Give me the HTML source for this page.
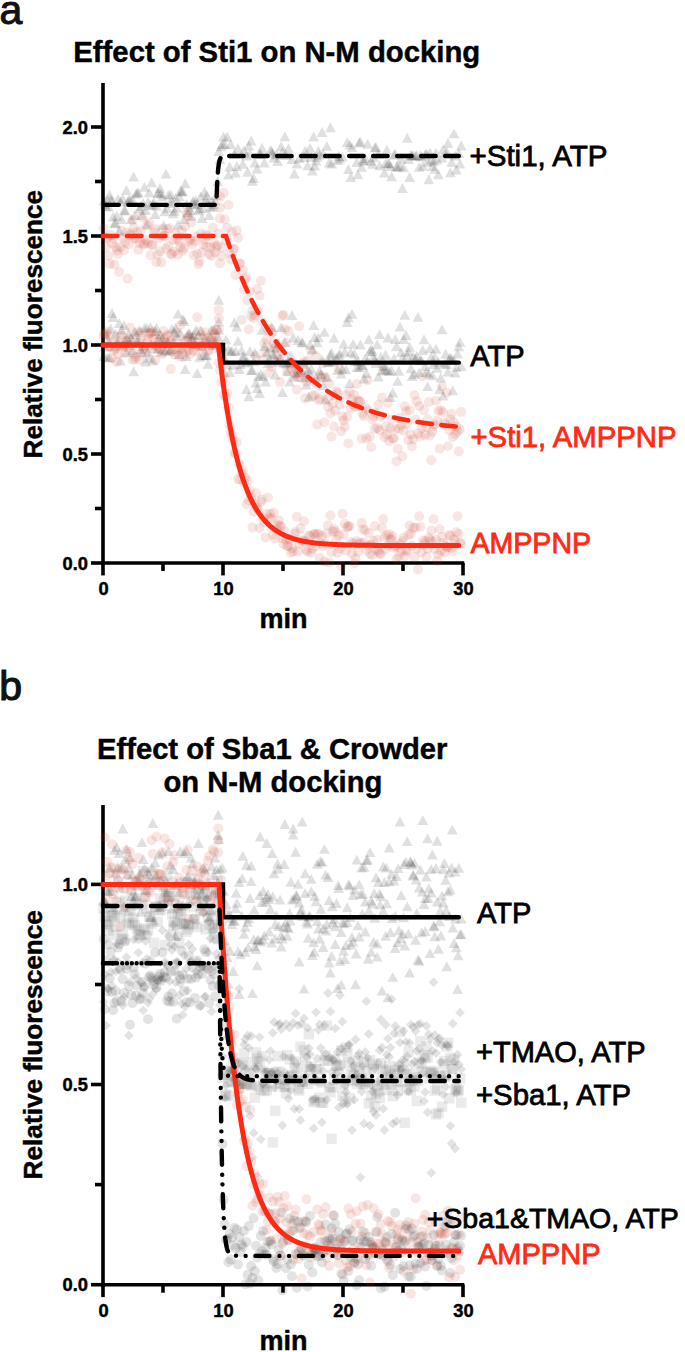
<!DOCTYPE html>
<html><head><meta charset="utf-8"><style>
html,body{margin:0;padding:0;background:#fff;width:685px;height:1352px;overflow:hidden}
svg{display:block}
text{font-family:"Liberation Sans",sans-serif;stroke:currentColor;stroke-width:0.45px;paint-order:stroke}
.lab text{stroke-width:0.8px}
</style></head><body>
<svg width="685" height="1352" viewBox="0 0 685 1352">
<rect width="685" height="1352" fill="#fff"/>
<text x="-0.6" y="23.9" font-family="Liberation Sans, sans-serif" font-size="41" style="stroke-width:1px" fill="#111" color="#111">a</text>
<text x="73.3" y="62.4" font-family="Liberation Sans, sans-serif" font-weight="bold" font-size="29.3">Effect of Sti1 on N-M docking</text>
<g stroke="#000" stroke-width="3.6" fill="none">
<path d="M103,83 V564.8"/>
<path d="M101.2,563 H464.3"/>
<path d="M91,563.0 H103"/>
<path d="M91,454.0 H103"/>
<path d="M91,345.0 H103"/>
<path d="M91,236.0 H103"/>
<path d="M91,127.0 H103"/>
<path d="M95,508.5 H103"/>
<path d="M95,399.5 H103"/>
<path d="M95,290.5 H103"/>
<path d="M95,181.5 H103"/>
<path d="M103.0,563 V575.4"/>
<path d="M223.0,563 V575.4"/>
<path d="M343.0,563 V575.4"/>
<path d="M463.0,563 V575.4"/>
<path d="M163.0,563 V571"/>
<path d="M283.0,563 V571"/>
<path d="M403.0,563 V571"/>
</g>
<g font-family="Liberation Sans, sans-serif" font-weight="bold" font-size="18.3" fill="#000">
<text x="88" y="569.5" text-anchor="end">0.0</text>
<text x="88" y="460.5" text-anchor="end">0.5</text>
<text x="88" y="351.5" text-anchor="end">1.0</text>
<text x="88" y="242.5" text-anchor="end">1.5</text>
<text x="88" y="133.5" text-anchor="end">2.0</text>
<text x="103.5" y="595.2" text-anchor="middle">0</text>
<text x="223.5" y="595.2" text-anchor="middle">10</text>
<text x="343.5" y="595.2" text-anchor="middle">20</text>
<text x="463.5" y="595.2" text-anchor="middle">30</text>
</g>
<path d="M98.2,205.5L109.0,205.5L103.6,195.6Z" fill="#000" fill-opacity="0.12"/>
<path d="M99.4,208.8L110.2,208.8L104.8,198.9Z" fill="#000" fill-opacity="0.12"/>
<path d="M100.6,211.0L111.4,211.0L106.0,201.0Z" fill="#000" fill-opacity="0.12"/>
<path d="M101.8,204.8L112.6,204.8L107.2,194.9Z" fill="#000" fill-opacity="0.12"/>
<path d="M103.0,211.4L113.8,211.4L108.4,201.5Z" fill="#000" fill-opacity="0.12"/>
<path d="M104.2,199.6L115.0,199.6L109.6,189.7Z" fill="#000" fill-opacity="0.12"/>
<path d="M105.4,204.3L116.2,204.3L110.8,194.3Z" fill="#000" fill-opacity="0.12"/>
<path d="M106.6,205.9L117.4,205.9L112.0,195.9Z" fill="#000" fill-opacity="0.12"/>
<path d="M107.8,221.6L118.6,221.6L113.2,211.7Z" fill="#000" fill-opacity="0.12"/>
<path d="M109.0,228.3L119.8,228.3L114.4,218.4Z" fill="#000" fill-opacity="0.12"/>
<path d="M110.2,227.6L121.0,227.6L115.6,217.7Z" fill="#000" fill-opacity="0.12"/>
<path d="M111.4,220.7L122.2,220.7L116.8,210.8Z" fill="#000" fill-opacity="0.12"/>
<path d="M112.6,203.6L123.4,203.6L118.0,193.7Z" fill="#000" fill-opacity="0.12"/>
<path d="M113.8,235.7L124.6,235.7L119.2,225.8Z" fill="#000" fill-opacity="0.12"/>
<path d="M115.0,206.1L125.8,206.1L120.4,196.2Z" fill="#000" fill-opacity="0.12"/>
<path d="M116.2,223.9L127.0,223.9L121.6,213.9Z" fill="#000" fill-opacity="0.12"/>
<path d="M117.4,203.8L128.2,203.8L122.8,193.8Z" fill="#000" fill-opacity="0.12"/>
<path d="M118.6,215.2L129.4,215.2L124.0,205.3Z" fill="#000" fill-opacity="0.12"/>
<path d="M119.8,215.2L130.6,215.2L125.2,205.3Z" fill="#000" fill-opacity="0.12"/>
<path d="M121.0,194.9L131.8,194.9L126.4,185.0Z" fill="#000" fill-opacity="0.12"/>
<path d="M122.2,206.9L133.0,206.9L127.6,196.9Z" fill="#000" fill-opacity="0.12"/>
<path d="M123.4,204.8L134.2,204.8L128.8,194.8Z" fill="#000" fill-opacity="0.12"/>
<path d="M124.6,204.6L135.4,204.6L130.0,194.7Z" fill="#000" fill-opacity="0.12"/>
<path d="M125.8,224.1L136.6,224.1L131.2,214.1Z" fill="#000" fill-opacity="0.12"/>
<path d="M127.0,204.1L137.8,204.1L132.4,194.2Z" fill="#000" fill-opacity="0.12"/>
<path d="M128.2,181.5L139.0,181.5L133.6,171.6Z" fill="#000" fill-opacity="0.12"/>
<path d="M129.4,219.9L140.2,219.9L134.8,210.0Z" fill="#000" fill-opacity="0.12"/>
<path d="M130.6,198.6L141.4,198.6L136.0,188.7Z" fill="#000" fill-opacity="0.12"/>
<path d="M131.8,197.3L142.6,197.3L137.2,187.4Z" fill="#000" fill-opacity="0.12"/>
<path d="M133.0,197.5L143.8,197.5L138.4,187.6Z" fill="#000" fill-opacity="0.12"/>
<path d="M134.2,213.6L145.0,213.6L139.6,203.7Z" fill="#000" fill-opacity="0.12"/>
<path d="M135.4,211.1L146.2,211.1L140.8,201.1Z" fill="#000" fill-opacity="0.12"/>
<path d="M136.6,219.8L147.4,219.8L142.0,209.8Z" fill="#000" fill-opacity="0.12"/>
<path d="M137.8,207.9L148.6,207.9L143.2,197.9Z" fill="#000" fill-opacity="0.12"/>
<path d="M139.0,191.8L149.8,191.8L144.4,181.9Z" fill="#000" fill-opacity="0.12"/>
<path d="M140.2,215.0L151.0,215.0L145.6,205.1Z" fill="#000" fill-opacity="0.12"/>
<path d="M141.4,229.4L152.2,229.4L146.8,219.5Z" fill="#000" fill-opacity="0.12"/>
<path d="M142.6,206.7L153.4,206.7L148.0,196.8Z" fill="#000" fill-opacity="0.12"/>
<path d="M143.8,197.3L154.6,197.3L149.2,187.3Z" fill="#000" fill-opacity="0.12"/>
<path d="M145.0,209.9L155.8,209.9L150.4,200.0Z" fill="#000" fill-opacity="0.12"/>
<path d="M146.2,187.3L157.0,187.3L151.6,177.3Z" fill="#000" fill-opacity="0.12"/>
<path d="M147.4,209.2L158.2,209.2L152.8,199.2Z" fill="#000" fill-opacity="0.12"/>
<path d="M148.6,207.0L159.4,207.0L154.0,197.0Z" fill="#000" fill-opacity="0.12"/>
<path d="M149.8,218.9L160.6,218.9L155.2,208.9Z" fill="#000" fill-opacity="0.12"/>
<path d="M151.0,210.8L161.8,210.8L156.4,200.9Z" fill="#000" fill-opacity="0.12"/>
<path d="M152.2,197.7L163.0,197.7L157.6,187.8Z" fill="#000" fill-opacity="0.12"/>
<path d="M153.4,197.5L164.2,197.5L158.8,187.6Z" fill="#000" fill-opacity="0.12"/>
<path d="M154.6,192.9L165.4,192.9L160.0,183.0Z" fill="#000" fill-opacity="0.12"/>
<path d="M155.8,198.5L166.6,198.5L161.2,188.6Z" fill="#000" fill-opacity="0.12"/>
<path d="M157.0,201.4L167.8,201.4L162.4,191.4Z" fill="#000" fill-opacity="0.12"/>
<path d="M158.2,229.9L169.0,229.9L163.6,220.0Z" fill="#000" fill-opacity="0.12"/>
<path d="M159.4,216.3L170.2,216.3L164.8,206.4Z" fill="#000" fill-opacity="0.12"/>
<path d="M160.6,178.6L171.4,178.6L166.0,168.7Z" fill="#000" fill-opacity="0.12"/>
<path d="M161.8,213.0L172.6,213.0L167.2,203.1Z" fill="#000" fill-opacity="0.12"/>
<path d="M163.0,199.6L173.8,199.6L168.4,189.7Z" fill="#000" fill-opacity="0.12"/>
<path d="M164.2,208.0L175.0,208.0L169.6,198.1Z" fill="#000" fill-opacity="0.12"/>
<path d="M165.4,199.3L176.2,199.3L170.8,189.4Z" fill="#000" fill-opacity="0.12"/>
<path d="M166.6,206.5L177.4,206.5L172.0,196.5Z" fill="#000" fill-opacity="0.12"/>
<path d="M167.8,218.2L178.6,218.2L173.2,208.2Z" fill="#000" fill-opacity="0.12"/>
<path d="M169.0,215.8L179.8,215.8L174.4,205.9Z" fill="#000" fill-opacity="0.12"/>
<path d="M170.2,203.2L181.0,203.2L175.6,193.3Z" fill="#000" fill-opacity="0.12"/>
<path d="M171.4,212.6L182.2,212.6L176.8,202.7Z" fill="#000" fill-opacity="0.12"/>
<path d="M172.6,229.5L183.4,229.5L178.0,219.5Z" fill="#000" fill-opacity="0.12"/>
<path d="M173.8,201.2L184.6,201.2L179.2,191.2Z" fill="#000" fill-opacity="0.12"/>
<path d="M175.0,195.4L185.8,195.4L180.4,185.4Z" fill="#000" fill-opacity="0.12"/>
<path d="M176.2,196.4L187.0,196.4L181.6,186.5Z" fill="#000" fill-opacity="0.12"/>
<path d="M177.4,196.2L188.2,196.2L182.8,186.2Z" fill="#000" fill-opacity="0.12"/>
<path d="M178.6,223.9L189.4,223.9L184.0,214.0Z" fill="#000" fill-opacity="0.12"/>
<path d="M179.8,188.2L190.6,188.2L185.2,178.3Z" fill="#000" fill-opacity="0.12"/>
<path d="M181.0,208.8L191.8,208.8L186.4,198.9Z" fill="#000" fill-opacity="0.12"/>
<path d="M182.2,217.2L193.0,217.2L187.6,207.3Z" fill="#000" fill-opacity="0.12"/>
<path d="M183.4,212.0L194.2,212.0L188.8,202.1Z" fill="#000" fill-opacity="0.12"/>
<path d="M184.6,215.0L195.4,215.0L190.0,205.1Z" fill="#000" fill-opacity="0.12"/>
<path d="M185.8,220.8L196.6,220.8L191.2,210.9Z" fill="#000" fill-opacity="0.12"/>
<path d="M187.0,207.4L197.8,207.4L192.4,197.4Z" fill="#000" fill-opacity="0.12"/>
<path d="M188.2,205.4L199.0,205.4L193.6,195.4Z" fill="#000" fill-opacity="0.12"/>
<path d="M189.4,209.4L200.2,209.4L194.8,199.5Z" fill="#000" fill-opacity="0.12"/>
<path d="M190.6,205.4L201.4,205.4L196.0,195.5Z" fill="#000" fill-opacity="0.12"/>
<path d="M191.8,209.1L202.6,209.1L197.2,199.2Z" fill="#000" fill-opacity="0.12"/>
<path d="M193.0,215.2L203.8,215.2L198.4,205.3Z" fill="#000" fill-opacity="0.12"/>
<path d="M194.2,213.6L205.0,213.6L199.6,203.6Z" fill="#000" fill-opacity="0.12"/>
<path d="M195.4,201.5L206.2,201.5L200.8,191.5Z" fill="#000" fill-opacity="0.12"/>
<path d="M196.6,223.0L207.4,223.0L202.0,213.0Z" fill="#000" fill-opacity="0.12"/>
<path d="M197.8,213.1L208.6,213.1L203.2,203.2Z" fill="#000" fill-opacity="0.12"/>
<path d="M199.0,196.7L209.8,196.7L204.4,186.8Z" fill="#000" fill-opacity="0.12"/>
<path d="M200.2,204.7L211.0,204.7L205.6,194.7Z" fill="#000" fill-opacity="0.12"/>
<path d="M201.4,200.1L212.2,200.1L206.8,190.1Z" fill="#000" fill-opacity="0.12"/>
<path d="M202.6,207.2L213.4,207.2L208.0,197.3Z" fill="#000" fill-opacity="0.12"/>
<path d="M203.8,220.1L214.6,220.1L209.2,210.2Z" fill="#000" fill-opacity="0.12"/>
<path d="M205.0,211.6L215.8,211.6L210.4,201.7Z" fill="#000" fill-opacity="0.12"/>
<path d="M206.2,205.9L217.0,205.9L211.6,196.0Z" fill="#000" fill-opacity="0.12"/>
<path d="M207.4,211.6L218.2,211.6L212.8,201.7Z" fill="#000" fill-opacity="0.12"/>
<path d="M208.6,209.1L219.4,209.1L214.0,199.2Z" fill="#000" fill-opacity="0.12"/>
<path d="M209.8,205.3L220.6,205.3L215.2,195.3Z" fill="#000" fill-opacity="0.12"/>
<path d="M211.0,200.0L221.8,200.0L216.4,190.0Z" fill="#000" fill-opacity="0.12"/>
<path d="M212.2,185.9L223.0,185.9L217.6,176.0Z" fill="#000" fill-opacity="0.12"/>
<path d="M213.4,156.0L224.2,156.0L218.8,146.1Z" fill="#000" fill-opacity="0.12"/>
<path d="M214.6,164.3L225.4,164.3L220.0,154.3Z" fill="#000" fill-opacity="0.12"/>
<path d="M215.8,151.3L226.6,151.3L221.2,141.3Z" fill="#000" fill-opacity="0.12"/>
<path d="M217.0,148.8L227.8,148.8L222.4,138.9Z" fill="#000" fill-opacity="0.12"/>
<path d="M218.2,141.4L229.0,141.4L223.6,131.4Z" fill="#000" fill-opacity="0.12"/>
<path d="M219.4,149.1L230.2,149.1L224.8,139.1Z" fill="#000" fill-opacity="0.12"/>
<path d="M221.8,141.5L232.6,141.5L227.2,131.6Z" fill="#000" fill-opacity="0.12"/>
<path d="M223.0,179.6L233.8,179.6L228.4,169.6Z" fill="#000" fill-opacity="0.12"/>
<path d="M224.2,171.5L235.0,171.5L229.6,161.5Z" fill="#000" fill-opacity="0.12"/>
<path d="M225.4,149.2L236.2,149.2L230.8,139.3Z" fill="#000" fill-opacity="0.12"/>
<path d="M229.0,158.8L239.8,158.8L234.4,148.9Z" fill="#000" fill-opacity="0.12"/>
<path d="M230.2,177.5L241.0,177.5L235.6,167.5Z" fill="#000" fill-opacity="0.12"/>
<path d="M231.4,171.0L242.2,171.0L236.8,161.0Z" fill="#000" fill-opacity="0.12"/>
<path d="M232.6,153.2L243.4,153.2L238.0,143.3Z" fill="#000" fill-opacity="0.12"/>
<path d="M237.4,168.7L248.2,168.7L242.8,158.8Z" fill="#000" fill-opacity="0.12"/>
<path d="M238.6,155.2L249.4,155.2L244.0,145.3Z" fill="#000" fill-opacity="0.12"/>
<path d="M241.0,160.4L251.8,160.4L246.4,150.4Z" fill="#000" fill-opacity="0.12"/>
<path d="M242.2,176.7L253.0,176.7L247.6,166.8Z" fill="#000" fill-opacity="0.12"/>
<path d="M243.4,150.4L254.2,150.4L248.8,140.5Z" fill="#000" fill-opacity="0.12"/>
<path d="M244.6,158.3L255.4,158.3L250.0,148.4Z" fill="#000" fill-opacity="0.12"/>
<path d="M245.8,145.5L256.6,145.5L251.2,135.5Z" fill="#000" fill-opacity="0.12"/>
<path d="M247.0,185.7L257.8,185.7L252.4,175.8Z" fill="#000" fill-opacity="0.12"/>
<path d="M248.2,182.9L259.0,182.9L253.6,173.0Z" fill="#000" fill-opacity="0.12"/>
<path d="M249.4,167.5L260.2,167.5L254.8,157.6Z" fill="#000" fill-opacity="0.12"/>
<path d="M251.8,173.4L262.6,173.4L257.2,163.4Z" fill="#000" fill-opacity="0.12"/>
<path d="M254.2,158.7L265.0,158.7L259.6,148.8Z" fill="#000" fill-opacity="0.12"/>
<path d="M255.4,158.8L266.2,158.8L260.8,148.9Z" fill="#000" fill-opacity="0.12"/>
<path d="M256.6,152.7L267.4,152.7L262.0,142.7Z" fill="#000" fill-opacity="0.12"/>
<path d="M259.0,167.5L269.8,167.5L264.4,157.6Z" fill="#000" fill-opacity="0.12"/>
<path d="M265.0,154.8L275.8,154.8L270.4,144.8Z" fill="#000" fill-opacity="0.12"/>
<path d="M266.2,156.3L277.0,156.3L271.6,146.4Z" fill="#000" fill-opacity="0.12"/>
<path d="M267.4,158.3L278.2,158.3L272.8,148.4Z" fill="#000" fill-opacity="0.12"/>
<path d="M268.6,162.5L279.4,162.5L274.0,152.6Z" fill="#000" fill-opacity="0.12"/>
<path d="M271.0,159.4L281.8,159.4L276.4,149.4Z" fill="#000" fill-opacity="0.12"/>
<path d="M272.2,166.0L283.0,166.0L277.6,156.0Z" fill="#000" fill-opacity="0.12"/>
<path d="M275.8,151.3L286.6,151.3L281.2,141.3Z" fill="#000" fill-opacity="0.12"/>
<path d="M277.0,156.7L287.8,156.7L282.4,146.8Z" fill="#000" fill-opacity="0.12"/>
<path d="M279.4,141.2L290.2,141.2L284.8,131.2Z" fill="#000" fill-opacity="0.12"/>
<path d="M280.6,160.0L291.4,160.0L286.0,150.1Z" fill="#000" fill-opacity="0.12"/>
<path d="M283.0,153.2L293.8,153.2L288.4,143.3Z" fill="#000" fill-opacity="0.12"/>
<path d="M286.6,164.0L297.4,164.0L292.0,154.1Z" fill="#000" fill-opacity="0.12"/>
<path d="M289.0,178.4L299.8,178.4L294.4,168.5Z" fill="#000" fill-opacity="0.12"/>
<path d="M291.4,168.5L302.2,168.5L296.8,158.6Z" fill="#000" fill-opacity="0.12"/>
<path d="M293.8,163.1L304.6,163.1L299.2,153.1Z" fill="#000" fill-opacity="0.12"/>
<path d="M298.6,161.7L309.4,161.7L304.0,151.8Z" fill="#000" fill-opacity="0.12"/>
<path d="M299.8,155.5L310.6,155.5L305.2,145.5Z" fill="#000" fill-opacity="0.12"/>
<path d="M302.2,170.2L313.0,170.2L307.6,160.2Z" fill="#000" fill-opacity="0.12"/>
<path d="M304.6,152.7L315.4,152.7L310.0,142.7Z" fill="#000" fill-opacity="0.12"/>
<path d="M305.8,161.7L316.6,161.7L311.2,151.7Z" fill="#000" fill-opacity="0.12"/>
<path d="M307.0,175.5L317.8,175.5L312.4,165.6Z" fill="#000" fill-opacity="0.12"/>
<path d="M308.2,141.6L319.0,141.6L313.6,131.6Z" fill="#000" fill-opacity="0.12"/>
<path d="M309.4,170.6L320.2,170.6L314.8,160.7Z" fill="#000" fill-opacity="0.12"/>
<path d="M310.6,165.4L321.4,165.4L316.0,155.4Z" fill="#000" fill-opacity="0.12"/>
<path d="M311.8,161.8L322.6,161.8L317.2,151.8Z" fill="#000" fill-opacity="0.12"/>
<path d="M313.0,155.7L323.8,155.7L318.4,145.8Z" fill="#000" fill-opacity="0.12"/>
<path d="M314.2,159.8L325.0,159.8L319.6,149.9Z" fill="#000" fill-opacity="0.12"/>
<path d="M316.6,136.9L327.4,136.9L322.0,126.9Z" fill="#000" fill-opacity="0.12"/>
<path d="M317.8,158.6L328.6,158.6L323.2,148.7Z" fill="#000" fill-opacity="0.12"/>
<path d="M321.4,150.8L332.2,150.8L326.8,140.9Z" fill="#000" fill-opacity="0.12"/>
<path d="M323.8,167.4L334.6,167.4L329.2,157.5Z" fill="#000" fill-opacity="0.12"/>
<path d="M325.0,132.2L335.8,132.2L330.4,122.3Z" fill="#000" fill-opacity="0.12"/>
<path d="M326.2,168.6L337.0,168.6L331.6,158.7Z" fill="#000" fill-opacity="0.12"/>
<path d="M332.2,165.0L343.0,165.0L337.6,155.1Z" fill="#000" fill-opacity="0.12"/>
<path d="M333.4,160.9L344.2,160.9L338.8,151.0Z" fill="#000" fill-opacity="0.12"/>
<path d="M334.6,163.4L345.4,163.4L340.0,153.4Z" fill="#000" fill-opacity="0.12"/>
<path d="M337.0,161.6L347.8,161.6L342.4,151.7Z" fill="#000" fill-opacity="0.12"/>
<path d="M341.8,147.0L352.6,147.0L347.2,137.0Z" fill="#000" fill-opacity="0.12"/>
<path d="M343.0,173.9L353.8,173.9L348.4,163.9Z" fill="#000" fill-opacity="0.12"/>
<path d="M344.2,149.6L355.0,149.6L349.6,139.7Z" fill="#000" fill-opacity="0.12"/>
<path d="M345.4,182.1L356.2,182.1L350.8,172.1Z" fill="#000" fill-opacity="0.12"/>
<path d="M346.6,152.1L357.4,152.1L352.0,142.2Z" fill="#000" fill-opacity="0.12"/>
<path d="M351.4,167.1L362.2,167.1L356.8,157.1Z" fill="#000" fill-opacity="0.12"/>
<path d="M352.6,179.3L363.4,179.3L358.0,169.4Z" fill="#000" fill-opacity="0.12"/>
<path d="M353.8,147.5L364.6,147.5L359.2,137.6Z" fill="#000" fill-opacity="0.12"/>
<path d="M355.0,146.4L365.8,146.4L360.4,136.5Z" fill="#000" fill-opacity="0.12"/>
<path d="M356.2,171.8L367.0,171.8L361.6,161.9Z" fill="#000" fill-opacity="0.12"/>
<path d="M357.4,164.8L368.2,164.8L362.8,154.9Z" fill="#000" fill-opacity="0.12"/>
<path d="M358.6,165.7L369.4,165.7L364.0,155.8Z" fill="#000" fill-opacity="0.12"/>
<path d="M359.8,163.0L370.6,163.0L365.2,153.0Z" fill="#000" fill-opacity="0.12"/>
<path d="M362.2,148.7L373.0,148.7L367.6,138.8Z" fill="#000" fill-opacity="0.12"/>
<path d="M365.8,165.5L376.6,165.5L371.2,155.6Z" fill="#000" fill-opacity="0.12"/>
<path d="M367.0,168.7L377.8,168.7L372.4,158.7Z" fill="#000" fill-opacity="0.12"/>
<path d="M368.2,162.0L379.0,162.0L373.6,152.1Z" fill="#000" fill-opacity="0.12"/>
<path d="M369.4,152.3L380.2,152.3L374.8,142.3Z" fill="#000" fill-opacity="0.12"/>
<path d="M370.6,152.1L381.4,152.1L376.0,142.1Z" fill="#000" fill-opacity="0.12"/>
<path d="M373.0,158.7L383.8,158.7L378.4,148.7Z" fill="#000" fill-opacity="0.12"/>
<path d="M374.2,170.2L385.0,170.2L379.6,160.2Z" fill="#000" fill-opacity="0.12"/>
<path d="M379.0,177.6L389.8,177.6L384.4,167.6Z" fill="#000" fill-opacity="0.12"/>
<path d="M380.2,168.2L391.0,168.2L385.6,158.3Z" fill="#000" fill-opacity="0.12"/>
<path d="M381.4,154.8L392.2,154.8L386.8,144.8Z" fill="#000" fill-opacity="0.12"/>
<path d="M382.6,168.0L393.4,168.0L388.0,158.0Z" fill="#000" fill-opacity="0.12"/>
<path d="M383.8,168.4L394.6,168.4L389.2,158.4Z" fill="#000" fill-opacity="0.12"/>
<path d="M385.0,171.0L395.8,171.0L390.4,161.0Z" fill="#000" fill-opacity="0.12"/>
<path d="M386.2,181.3L397.0,181.3L391.6,171.4Z" fill="#000" fill-opacity="0.12"/>
<path d="M388.6,159.7L399.4,159.7L394.0,149.7Z" fill="#000" fill-opacity="0.12"/>
<path d="M389.8,158.7L400.6,158.7L395.2,148.8Z" fill="#000" fill-opacity="0.12"/>
<path d="M391.0,171.8L401.8,171.8L396.4,161.8Z" fill="#000" fill-opacity="0.12"/>
<path d="M392.2,171.4L403.0,171.4L397.6,161.5Z" fill="#000" fill-opacity="0.12"/>
<path d="M394.6,170.8L405.4,170.8L400.0,160.9Z" fill="#000" fill-opacity="0.12"/>
<path d="M395.8,163.6L406.6,163.6L401.2,153.6Z" fill="#000" fill-opacity="0.12"/>
<path d="M397.0,193.1L407.8,193.1L402.4,183.2Z" fill="#000" fill-opacity="0.12"/>
<path d="M398.2,172.2L409.0,172.2L403.6,162.3Z" fill="#000" fill-opacity="0.12"/>
<path d="M401.8,142.7L412.6,142.7L407.2,132.8Z" fill="#000" fill-opacity="0.12"/>
<path d="M403.0,164.1L413.8,164.1L408.4,154.2Z" fill="#000" fill-opacity="0.12"/>
<path d="M404.2,182.0L415.0,182.0L409.6,172.1Z" fill="#000" fill-opacity="0.12"/>
<path d="M405.4,159.7L416.2,159.7L410.8,149.7Z" fill="#000" fill-opacity="0.12"/>
<path d="M406.6,160.4L417.4,160.4L412.0,150.5Z" fill="#000" fill-opacity="0.12"/>
<path d="M407.8,160.1L418.6,160.1L413.2,150.2Z" fill="#000" fill-opacity="0.12"/>
<path d="M410.2,160.9L421.0,160.9L415.6,151.0Z" fill="#000" fill-opacity="0.12"/>
<path d="M411.4,160.1L422.2,160.1L416.8,150.1Z" fill="#000" fill-opacity="0.12"/>
<path d="M413.8,171.8L424.6,171.8L419.2,161.9Z" fill="#000" fill-opacity="0.12"/>
<path d="M415.0,160.6L425.8,160.6L420.4,150.6Z" fill="#000" fill-opacity="0.12"/>
<path d="M416.2,161.5L427.0,161.5L421.6,151.6Z" fill="#000" fill-opacity="0.12"/>
<path d="M417.4,170.7L428.2,170.7L422.8,160.7Z" fill="#000" fill-opacity="0.12"/>
<path d="M419.8,159.4L430.6,159.4L425.2,149.4Z" fill="#000" fill-opacity="0.12"/>
<path d="M421.0,158.5L431.8,158.5L426.4,148.6Z" fill="#000" fill-opacity="0.12"/>
<path d="M422.2,166.7L433.0,166.7L427.6,156.8Z" fill="#000" fill-opacity="0.12"/>
<path d="M423.4,184.2L434.2,184.2L428.8,174.3Z" fill="#000" fill-opacity="0.12"/>
<path d="M424.6,157.5L435.4,157.5L430.0,147.6Z" fill="#000" fill-opacity="0.12"/>
<path d="M425.8,164.4L436.6,164.4L431.2,154.5Z" fill="#000" fill-opacity="0.12"/>
<path d="M427.0,171.0L437.8,171.0L432.4,161.1Z" fill="#000" fill-opacity="0.12"/>
<path d="M428.2,165.9L439.0,165.9L433.6,156.0Z" fill="#000" fill-opacity="0.12"/>
<path d="M429.4,173.7L440.2,173.7L434.8,163.8Z" fill="#000" fill-opacity="0.12"/>
<path d="M430.6,157.6L441.4,157.6L436.0,147.7Z" fill="#000" fill-opacity="0.12"/>
<path d="M431.8,164.6L442.6,164.6L437.2,154.6Z" fill="#000" fill-opacity="0.12"/>
<path d="M433.0,179.3L443.8,179.3L438.4,169.3Z" fill="#000" fill-opacity="0.12"/>
<path d="M436.6,162.4L447.4,162.4L442.0,152.5Z" fill="#000" fill-opacity="0.12"/>
<path d="M437.8,154.1L448.6,154.1L443.2,144.2Z" fill="#000" fill-opacity="0.12"/>
<path d="M441.4,156.5L452.2,156.5L446.8,146.6Z" fill="#000" fill-opacity="0.12"/>
<path d="M442.6,148.0L453.4,148.0L448.0,138.1Z" fill="#000" fill-opacity="0.12"/>
<path d="M445.0,177.2L455.8,177.2L450.4,167.3Z" fill="#000" fill-opacity="0.12"/>
<path d="M446.2,166.9L457.0,166.9L451.6,157.0Z" fill="#000" fill-opacity="0.12"/>
<path d="M448.6,138.3L459.4,138.3L454.0,128.4Z" fill="#000" fill-opacity="0.12"/>
<path d="M449.8,160.5L460.6,160.5L455.2,150.6Z" fill="#000" fill-opacity="0.12"/>
<path d="M451.0,174.4L461.8,174.4L456.4,164.5Z" fill="#000" fill-opacity="0.12"/>
<path d="M453.4,158.0L464.2,158.0L458.8,148.0Z" fill="#000" fill-opacity="0.12"/>
<path d="M454.6,168.6L465.4,168.6L460.0,158.6Z" fill="#000" fill-opacity="0.12"/>
<path d="M455.8,150.5L466.6,150.5L461.2,140.6Z" fill="#000" fill-opacity="0.12"/>
<circle cx="103.6" cy="228.5" r="5.0" fill="#c83a2c" fill-opacity="0.13"/>
<circle cx="104.8" cy="237.3" r="5.0" fill="#c83a2c" fill-opacity="0.13"/>
<circle cx="106.0" cy="246.6" r="5.0" fill="#c83a2c" fill-opacity="0.13"/>
<circle cx="107.2" cy="237.8" r="5.0" fill="#c83a2c" fill-opacity="0.13"/>
<circle cx="108.4" cy="255.7" r="5.0" fill="#c83a2c" fill-opacity="0.13"/>
<circle cx="109.6" cy="264.0" r="5.0" fill="#c83a2c" fill-opacity="0.13"/>
<circle cx="110.8" cy="234.9" r="5.0" fill="#c83a2c" fill-opacity="0.13"/>
<circle cx="112.0" cy="243.3" r="5.0" fill="#c83a2c" fill-opacity="0.13"/>
<circle cx="113.2" cy="238.5" r="5.0" fill="#c83a2c" fill-opacity="0.13"/>
<circle cx="114.4" cy="264.7" r="5.0" fill="#c83a2c" fill-opacity="0.13"/>
<circle cx="115.6" cy="247.3" r="5.0" fill="#c83a2c" fill-opacity="0.13"/>
<circle cx="116.8" cy="250.4" r="5.0" fill="#c83a2c" fill-opacity="0.13"/>
<circle cx="118.0" cy="253.8" r="5.0" fill="#c83a2c" fill-opacity="0.13"/>
<circle cx="119.2" cy="272.0" r="5.0" fill="#c83a2c" fill-opacity="0.13"/>
<circle cx="120.4" cy="246.9" r="5.0" fill="#c83a2c" fill-opacity="0.13"/>
<circle cx="121.6" cy="230.8" r="5.0" fill="#c83a2c" fill-opacity="0.13"/>
<circle cx="122.8" cy="237.6" r="5.0" fill="#c83a2c" fill-opacity="0.13"/>
<circle cx="124.0" cy="250.4" r="5.0" fill="#c83a2c" fill-opacity="0.13"/>
<circle cx="125.2" cy="242.7" r="5.0" fill="#c83a2c" fill-opacity="0.13"/>
<circle cx="126.4" cy="232.6" r="5.0" fill="#c83a2c" fill-opacity="0.13"/>
<circle cx="127.6" cy="278.6" r="5.0" fill="#c83a2c" fill-opacity="0.13"/>
<circle cx="128.8" cy="244.2" r="5.0" fill="#c83a2c" fill-opacity="0.13"/>
<circle cx="130.0" cy="235.4" r="5.0" fill="#c83a2c" fill-opacity="0.13"/>
<circle cx="131.2" cy="233.6" r="5.0" fill="#c83a2c" fill-opacity="0.13"/>
<circle cx="132.4" cy="220.3" r="5.0" fill="#c83a2c" fill-opacity="0.13"/>
<circle cx="133.6" cy="227.7" r="5.0" fill="#c83a2c" fill-opacity="0.13"/>
<circle cx="134.8" cy="238.5" r="5.0" fill="#c83a2c" fill-opacity="0.13"/>
<circle cx="136.0" cy="238.6" r="5.0" fill="#c83a2c" fill-opacity="0.13"/>
<circle cx="137.2" cy="232.2" r="5.0" fill="#c83a2c" fill-opacity="0.13"/>
<circle cx="138.4" cy="249.6" r="5.0" fill="#c83a2c" fill-opacity="0.13"/>
<circle cx="139.6" cy="243.1" r="5.0" fill="#c83a2c" fill-opacity="0.13"/>
<circle cx="140.8" cy="230.7" r="5.0" fill="#c83a2c" fill-opacity="0.13"/>
<circle cx="142.0" cy="216.9" r="5.0" fill="#c83a2c" fill-opacity="0.13"/>
<circle cx="143.2" cy="244.6" r="5.0" fill="#c83a2c" fill-opacity="0.13"/>
<circle cx="144.4" cy="243.2" r="5.0" fill="#c83a2c" fill-opacity="0.13"/>
<circle cx="145.6" cy="239.9" r="5.0" fill="#c83a2c" fill-opacity="0.13"/>
<circle cx="146.8" cy="225.0" r="5.0" fill="#c83a2c" fill-opacity="0.13"/>
<circle cx="148.0" cy="242.9" r="5.0" fill="#c83a2c" fill-opacity="0.13"/>
<circle cx="149.2" cy="223.3" r="5.0" fill="#c83a2c" fill-opacity="0.13"/>
<circle cx="150.4" cy="255.2" r="5.0" fill="#c83a2c" fill-opacity="0.13"/>
<circle cx="151.6" cy="245.0" r="5.0" fill="#c83a2c" fill-opacity="0.13"/>
<circle cx="152.8" cy="245.1" r="5.0" fill="#c83a2c" fill-opacity="0.13"/>
<circle cx="154.0" cy="232.3" r="5.0" fill="#c83a2c" fill-opacity="0.13"/>
<circle cx="155.2" cy="228.9" r="5.0" fill="#c83a2c" fill-opacity="0.13"/>
<circle cx="156.4" cy="262.3" r="5.0" fill="#c83a2c" fill-opacity="0.13"/>
<circle cx="157.6" cy="254.5" r="5.0" fill="#c83a2c" fill-opacity="0.13"/>
<circle cx="158.8" cy="238.1" r="5.0" fill="#c83a2c" fill-opacity="0.13"/>
<circle cx="160.0" cy="251.2" r="5.0" fill="#c83a2c" fill-opacity="0.13"/>
<circle cx="161.2" cy="262.5" r="5.0" fill="#c83a2c" fill-opacity="0.13"/>
<circle cx="162.4" cy="229.0" r="5.0" fill="#c83a2c" fill-opacity="0.13"/>
<circle cx="163.6" cy="236.1" r="5.0" fill="#c83a2c" fill-opacity="0.13"/>
<circle cx="164.8" cy="236.1" r="5.0" fill="#c83a2c" fill-opacity="0.13"/>
<circle cx="166.0" cy="248.8" r="5.0" fill="#c83a2c" fill-opacity="0.13"/>
<circle cx="167.2" cy="229.1" r="5.0" fill="#c83a2c" fill-opacity="0.13"/>
<circle cx="168.4" cy="245.7" r="5.0" fill="#c83a2c" fill-opacity="0.13"/>
<circle cx="169.6" cy="228.2" r="5.0" fill="#c83a2c" fill-opacity="0.13"/>
<circle cx="170.8" cy="254.5" r="5.0" fill="#c83a2c" fill-opacity="0.13"/>
<circle cx="172.0" cy="253.7" r="5.0" fill="#c83a2c" fill-opacity="0.13"/>
<circle cx="173.2" cy="239.9" r="5.0" fill="#c83a2c" fill-opacity="0.13"/>
<circle cx="174.4" cy="251.7" r="5.0" fill="#c83a2c" fill-opacity="0.13"/>
<circle cx="175.6" cy="233.7" r="5.0" fill="#c83a2c" fill-opacity="0.13"/>
<circle cx="176.8" cy="239.1" r="5.0" fill="#c83a2c" fill-opacity="0.13"/>
<circle cx="178.0" cy="254.6" r="5.0" fill="#c83a2c" fill-opacity="0.13"/>
<circle cx="179.2" cy="241.6" r="5.0" fill="#c83a2c" fill-opacity="0.13"/>
<circle cx="180.4" cy="247.1" r="5.0" fill="#c83a2c" fill-opacity="0.13"/>
<circle cx="181.6" cy="230.6" r="5.0" fill="#c83a2c" fill-opacity="0.13"/>
<circle cx="182.8" cy="250.8" r="5.0" fill="#c83a2c" fill-opacity="0.13"/>
<circle cx="184.0" cy="248.3" r="5.0" fill="#c83a2c" fill-opacity="0.13"/>
<circle cx="185.2" cy="226.7" r="5.0" fill="#c83a2c" fill-opacity="0.13"/>
<circle cx="186.4" cy="213.3" r="5.0" fill="#c83a2c" fill-opacity="0.13"/>
<circle cx="187.6" cy="216.4" r="5.0" fill="#c83a2c" fill-opacity="0.13"/>
<circle cx="188.8" cy="241.7" r="5.0" fill="#c83a2c" fill-opacity="0.13"/>
<circle cx="190.0" cy="239.7" r="5.0" fill="#c83a2c" fill-opacity="0.13"/>
<circle cx="191.2" cy="222.5" r="5.0" fill="#c83a2c" fill-opacity="0.13"/>
<circle cx="192.4" cy="244.2" r="5.0" fill="#c83a2c" fill-opacity="0.13"/>
<circle cx="193.6" cy="255.3" r="5.0" fill="#c83a2c" fill-opacity="0.13"/>
<circle cx="194.8" cy="241.0" r="5.0" fill="#c83a2c" fill-opacity="0.13"/>
<circle cx="196.0" cy="236.6" r="5.0" fill="#c83a2c" fill-opacity="0.13"/>
<circle cx="197.2" cy="253.4" r="5.0" fill="#c83a2c" fill-opacity="0.13"/>
<circle cx="198.4" cy="264.1" r="5.0" fill="#c83a2c" fill-opacity="0.13"/>
<circle cx="199.6" cy="261.3" r="5.0" fill="#c83a2c" fill-opacity="0.13"/>
<circle cx="200.8" cy="233.8" r="5.0" fill="#c83a2c" fill-opacity="0.13"/>
<circle cx="202.0" cy="252.5" r="5.0" fill="#c83a2c" fill-opacity="0.13"/>
<circle cx="203.2" cy="244.4" r="5.0" fill="#c83a2c" fill-opacity="0.13"/>
<circle cx="204.4" cy="239.8" r="5.0" fill="#c83a2c" fill-opacity="0.13"/>
<circle cx="205.6" cy="234.4" r="5.0" fill="#c83a2c" fill-opacity="0.13"/>
<circle cx="206.8" cy="246.9" r="5.0" fill="#c83a2c" fill-opacity="0.13"/>
<circle cx="208.0" cy="236.0" r="5.0" fill="#c83a2c" fill-opacity="0.13"/>
<circle cx="209.2" cy="254.2" r="5.0" fill="#c83a2c" fill-opacity="0.13"/>
<circle cx="210.4" cy="247.3" r="5.0" fill="#c83a2c" fill-opacity="0.13"/>
<circle cx="211.6" cy="255.9" r="5.0" fill="#c83a2c" fill-opacity="0.13"/>
<circle cx="212.8" cy="227.7" r="5.0" fill="#c83a2c" fill-opacity="0.13"/>
<circle cx="214.0" cy="242.9" r="5.0" fill="#c83a2c" fill-opacity="0.13"/>
<circle cx="215.2" cy="252.2" r="5.0" fill="#c83a2c" fill-opacity="0.13"/>
<circle cx="216.4" cy="247.1" r="5.0" fill="#c83a2c" fill-opacity="0.13"/>
<circle cx="217.6" cy="245.4" r="5.0" fill="#c83a2c" fill-opacity="0.13"/>
<circle cx="218.8" cy="233.4" r="5.0" fill="#c83a2c" fill-opacity="0.13"/>
<circle cx="220.0" cy="263.4" r="5.0" fill="#c83a2c" fill-opacity="0.13"/>
<circle cx="221.2" cy="256.1" r="5.0" fill="#c83a2c" fill-opacity="0.13"/>
<circle cx="222.4" cy="247.5" r="5.0" fill="#c83a2c" fill-opacity="0.13"/>
<circle cx="223.6" cy="192.9" r="5.0" fill="#c83a2c" fill-opacity="0.13"/>
<circle cx="224.8" cy="219.4" r="5.0" fill="#c83a2c" fill-opacity="0.13"/>
<circle cx="226.0" cy="240.4" r="5.0" fill="#c83a2c" fill-opacity="0.13"/>
<circle cx="227.2" cy="227.8" r="5.0" fill="#c83a2c" fill-opacity="0.13"/>
<circle cx="228.4" cy="204.9" r="5.0" fill="#c83a2c" fill-opacity="0.13"/>
<circle cx="229.6" cy="253.4" r="5.0" fill="#c83a2c" fill-opacity="0.13"/>
<circle cx="230.8" cy="259.4" r="5.0" fill="#c83a2c" fill-opacity="0.13"/>
<circle cx="232.0" cy="231.7" r="5.0" fill="#c83a2c" fill-opacity="0.13"/>
<circle cx="233.2" cy="249.1" r="5.0" fill="#c83a2c" fill-opacity="0.13"/>
<circle cx="234.4" cy="248.8" r="5.0" fill="#c83a2c" fill-opacity="0.13"/>
<circle cx="235.6" cy="275.1" r="5.0" fill="#c83a2c" fill-opacity="0.13"/>
<circle cx="236.8" cy="230.5" r="5.0" fill="#c83a2c" fill-opacity="0.13"/>
<circle cx="238.0" cy="237.8" r="5.0" fill="#c83a2c" fill-opacity="0.13"/>
<circle cx="239.2" cy="263.2" r="5.0" fill="#c83a2c" fill-opacity="0.13"/>
<circle cx="240.4" cy="263.8" r="5.0" fill="#c83a2c" fill-opacity="0.13"/>
<circle cx="241.6" cy="319.9" r="5.0" fill="#c83a2c" fill-opacity="0.13"/>
<circle cx="242.8" cy="270.4" r="5.0" fill="#c83a2c" fill-opacity="0.13"/>
<circle cx="244.0" cy="289.5" r="5.0" fill="#c83a2c" fill-opacity="0.13"/>
<circle cx="245.2" cy="279.9" r="5.0" fill="#c83a2c" fill-opacity="0.13"/>
<circle cx="246.4" cy="277.7" r="5.0" fill="#c83a2c" fill-opacity="0.13"/>
<circle cx="247.6" cy="300.4" r="5.0" fill="#c83a2c" fill-opacity="0.13"/>
<circle cx="248.8" cy="329.5" r="5.0" fill="#c83a2c" fill-opacity="0.13"/>
<circle cx="250.0" cy="291.6" r="5.0" fill="#c83a2c" fill-opacity="0.13"/>
<circle cx="251.2" cy="315.9" r="5.0" fill="#c83a2c" fill-opacity="0.13"/>
<circle cx="252.4" cy="310.3" r="5.0" fill="#c83a2c" fill-opacity="0.13"/>
<circle cx="253.6" cy="318.0" r="5.0" fill="#c83a2c" fill-opacity="0.13"/>
<circle cx="254.8" cy="315.2" r="5.0" fill="#c83a2c" fill-opacity="0.13"/>
<circle cx="256.0" cy="356.1" r="5.0" fill="#c83a2c" fill-opacity="0.13"/>
<circle cx="257.2" cy="289.2" r="5.0" fill="#c83a2c" fill-opacity="0.13"/>
<circle cx="258.4" cy="310.3" r="5.0" fill="#c83a2c" fill-opacity="0.13"/>
<circle cx="259.6" cy="295.7" r="5.0" fill="#c83a2c" fill-opacity="0.13"/>
<circle cx="260.8" cy="280.8" r="5.0" fill="#c83a2c" fill-opacity="0.13"/>
<circle cx="262.0" cy="321.3" r="5.0" fill="#c83a2c" fill-opacity="0.13"/>
<circle cx="263.2" cy="359.2" r="5.0" fill="#c83a2c" fill-opacity="0.13"/>
<circle cx="264.4" cy="343.4" r="5.0" fill="#c83a2c" fill-opacity="0.13"/>
<circle cx="265.6" cy="351.5" r="5.0" fill="#c83a2c" fill-opacity="0.13"/>
<circle cx="266.8" cy="339.6" r="5.0" fill="#c83a2c" fill-opacity="0.13"/>
<circle cx="268.0" cy="330.1" r="5.0" fill="#c83a2c" fill-opacity="0.13"/>
<circle cx="269.2" cy="372.9" r="5.0" fill="#c83a2c" fill-opacity="0.13"/>
<circle cx="270.4" cy="328.7" r="5.0" fill="#c83a2c" fill-opacity="0.13"/>
<circle cx="271.6" cy="366.9" r="5.0" fill="#c83a2c" fill-opacity="0.13"/>
<circle cx="272.8" cy="333.2" r="5.0" fill="#c83a2c" fill-opacity="0.13"/>
<circle cx="274.0" cy="342.9" r="5.0" fill="#c83a2c" fill-opacity="0.13"/>
<circle cx="275.2" cy="348.6" r="5.0" fill="#c83a2c" fill-opacity="0.13"/>
<circle cx="276.4" cy="345.6" r="5.0" fill="#c83a2c" fill-opacity="0.13"/>
<circle cx="277.6" cy="356.4" r="5.0" fill="#c83a2c" fill-opacity="0.13"/>
<circle cx="278.8" cy="359.5" r="5.0" fill="#c83a2c" fill-opacity="0.13"/>
<circle cx="280.0" cy="382.1" r="5.0" fill="#c83a2c" fill-opacity="0.13"/>
<circle cx="281.2" cy="351.2" r="5.0" fill="#c83a2c" fill-opacity="0.13"/>
<circle cx="282.4" cy="315.9" r="5.0" fill="#c83a2c" fill-opacity="0.13"/>
<circle cx="283.6" cy="314.8" r="5.0" fill="#c83a2c" fill-opacity="0.13"/>
<circle cx="284.8" cy="329.2" r="5.0" fill="#c83a2c" fill-opacity="0.13"/>
<circle cx="286.0" cy="342.7" r="5.0" fill="#c83a2c" fill-opacity="0.13"/>
<circle cx="287.2" cy="371.3" r="5.0" fill="#c83a2c" fill-opacity="0.13"/>
<circle cx="288.4" cy="331.1" r="5.0" fill="#c83a2c" fill-opacity="0.13"/>
<circle cx="289.6" cy="361.9" r="5.0" fill="#c83a2c" fill-opacity="0.13"/>
<circle cx="290.8" cy="363.5" r="5.0" fill="#c83a2c" fill-opacity="0.13"/>
<circle cx="292.0" cy="369.2" r="5.0" fill="#c83a2c" fill-opacity="0.13"/>
<circle cx="293.2" cy="362.9" r="5.0" fill="#c83a2c" fill-opacity="0.13"/>
<circle cx="294.4" cy="374.6" r="5.0" fill="#c83a2c" fill-opacity="0.13"/>
<circle cx="295.6" cy="368.9" r="5.0" fill="#c83a2c" fill-opacity="0.13"/>
<circle cx="296.8" cy="389.8" r="5.0" fill="#c83a2c" fill-opacity="0.13"/>
<circle cx="298.0" cy="377.1" r="5.0" fill="#c83a2c" fill-opacity="0.13"/>
<circle cx="299.2" cy="326.2" r="5.0" fill="#c83a2c" fill-opacity="0.13"/>
<circle cx="300.4" cy="373.4" r="5.0" fill="#c83a2c" fill-opacity="0.13"/>
<circle cx="301.6" cy="377.9" r="5.0" fill="#c83a2c" fill-opacity="0.13"/>
<circle cx="302.8" cy="363.9" r="5.0" fill="#c83a2c" fill-opacity="0.13"/>
<circle cx="304.0" cy="361.5" r="5.0" fill="#c83a2c" fill-opacity="0.13"/>
<circle cx="305.2" cy="398.4" r="5.0" fill="#c83a2c" fill-opacity="0.13"/>
<circle cx="306.4" cy="381.6" r="5.0" fill="#c83a2c" fill-opacity="0.13"/>
<circle cx="307.6" cy="360.6" r="5.0" fill="#c83a2c" fill-opacity="0.13"/>
<circle cx="308.8" cy="374.3" r="5.0" fill="#c83a2c" fill-opacity="0.13"/>
<circle cx="310.0" cy="378.2" r="5.0" fill="#c83a2c" fill-opacity="0.13"/>
<circle cx="311.2" cy="351.1" r="5.0" fill="#c83a2c" fill-opacity="0.13"/>
<circle cx="312.4" cy="395.9" r="5.0" fill="#c83a2c" fill-opacity="0.13"/>
<circle cx="313.6" cy="381.9" r="5.0" fill="#c83a2c" fill-opacity="0.13"/>
<circle cx="314.8" cy="394.7" r="5.0" fill="#c83a2c" fill-opacity="0.13"/>
<circle cx="316.0" cy="356.1" r="5.0" fill="#c83a2c" fill-opacity="0.13"/>
<circle cx="317.2" cy="424.6" r="5.0" fill="#c83a2c" fill-opacity="0.13"/>
<circle cx="318.4" cy="400.3" r="5.0" fill="#c83a2c" fill-opacity="0.13"/>
<circle cx="319.6" cy="398.4" r="5.0" fill="#c83a2c" fill-opacity="0.13"/>
<circle cx="320.8" cy="375.9" r="5.0" fill="#c83a2c" fill-opacity="0.13"/>
<circle cx="322.0" cy="377.8" r="5.0" fill="#c83a2c" fill-opacity="0.13"/>
<circle cx="323.2" cy="363.2" r="5.0" fill="#c83a2c" fill-opacity="0.13"/>
<circle cx="324.4" cy="422.2" r="5.0" fill="#c83a2c" fill-opacity="0.13"/>
<circle cx="325.6" cy="377.4" r="5.0" fill="#c83a2c" fill-opacity="0.13"/>
<circle cx="326.8" cy="398.7" r="5.0" fill="#c83a2c" fill-opacity="0.13"/>
<circle cx="328.0" cy="406.7" r="5.0" fill="#c83a2c" fill-opacity="0.13"/>
<circle cx="329.2" cy="383.8" r="5.0" fill="#c83a2c" fill-opacity="0.13"/>
<circle cx="330.4" cy="413.2" r="5.0" fill="#c83a2c" fill-opacity="0.13"/>
<circle cx="331.6" cy="436.6" r="5.0" fill="#c83a2c" fill-opacity="0.13"/>
<circle cx="332.8" cy="403.8" r="5.0" fill="#c83a2c" fill-opacity="0.13"/>
<circle cx="334.0" cy="426.6" r="5.0" fill="#c83a2c" fill-opacity="0.13"/>
<circle cx="335.2" cy="410.7" r="5.0" fill="#c83a2c" fill-opacity="0.13"/>
<circle cx="336.4" cy="391.3" r="5.0" fill="#c83a2c" fill-opacity="0.13"/>
<circle cx="337.6" cy="393.1" r="5.0" fill="#c83a2c" fill-opacity="0.13"/>
<circle cx="338.8" cy="368.8" r="5.0" fill="#c83a2c" fill-opacity="0.13"/>
<circle cx="340.0" cy="404.5" r="5.0" fill="#c83a2c" fill-opacity="0.13"/>
<circle cx="341.2" cy="431.2" r="5.0" fill="#c83a2c" fill-opacity="0.13"/>
<circle cx="342.4" cy="416.6" r="5.0" fill="#c83a2c" fill-opacity="0.13"/>
<circle cx="343.6" cy="420.4" r="5.0" fill="#c83a2c" fill-opacity="0.13"/>
<circle cx="344.8" cy="426.8" r="5.0" fill="#c83a2c" fill-opacity="0.13"/>
<circle cx="346.0" cy="395.0" r="5.0" fill="#c83a2c" fill-opacity="0.13"/>
<circle cx="347.2" cy="416.8" r="5.0" fill="#c83a2c" fill-opacity="0.13"/>
<circle cx="348.4" cy="443.4" r="5.0" fill="#c83a2c" fill-opacity="0.13"/>
<circle cx="349.6" cy="391.5" r="5.0" fill="#c83a2c" fill-opacity="0.13"/>
<circle cx="350.8" cy="407.9" r="5.0" fill="#c83a2c" fill-opacity="0.13"/>
<circle cx="352.0" cy="399.3" r="5.0" fill="#c83a2c" fill-opacity="0.13"/>
<circle cx="353.2" cy="404.7" r="5.0" fill="#c83a2c" fill-opacity="0.13"/>
<circle cx="354.4" cy="394.9" r="5.0" fill="#c83a2c" fill-opacity="0.13"/>
<circle cx="355.6" cy="407.0" r="5.0" fill="#c83a2c" fill-opacity="0.13"/>
<circle cx="356.8" cy="384.0" r="5.0" fill="#c83a2c" fill-opacity="0.13"/>
<circle cx="358.0" cy="400.4" r="5.0" fill="#c83a2c" fill-opacity="0.13"/>
<circle cx="359.2" cy="401.5" r="5.0" fill="#c83a2c" fill-opacity="0.13"/>
<circle cx="360.4" cy="401.6" r="5.0" fill="#c83a2c" fill-opacity="0.13"/>
<circle cx="361.6" cy="438.7" r="5.0" fill="#c83a2c" fill-opacity="0.13"/>
<circle cx="362.8" cy="413.8" r="5.0" fill="#c83a2c" fill-opacity="0.13"/>
<circle cx="364.0" cy="416.1" r="5.0" fill="#c83a2c" fill-opacity="0.13"/>
<circle cx="365.2" cy="407.4" r="5.0" fill="#c83a2c" fill-opacity="0.13"/>
<circle cx="366.4" cy="438.5" r="5.0" fill="#c83a2c" fill-opacity="0.13"/>
<circle cx="367.6" cy="380.2" r="5.0" fill="#c83a2c" fill-opacity="0.13"/>
<circle cx="368.8" cy="410.6" r="5.0" fill="#c83a2c" fill-opacity="0.13"/>
<circle cx="370.0" cy="436.8" r="5.0" fill="#c83a2c" fill-opacity="0.13"/>
<circle cx="371.2" cy="447.0" r="5.0" fill="#c83a2c" fill-opacity="0.13"/>
<circle cx="372.4" cy="419.4" r="5.0" fill="#c83a2c" fill-opacity="0.13"/>
<circle cx="373.6" cy="416.0" r="5.0" fill="#c83a2c" fill-opacity="0.13"/>
<circle cx="374.8" cy="428.7" r="5.0" fill="#c83a2c" fill-opacity="0.13"/>
<circle cx="376.0" cy="413.1" r="5.0" fill="#c83a2c" fill-opacity="0.13"/>
<circle cx="377.2" cy="427.9" r="5.0" fill="#c83a2c" fill-opacity="0.13"/>
<circle cx="378.4" cy="404.8" r="5.0" fill="#c83a2c" fill-opacity="0.13"/>
<circle cx="379.6" cy="430.2" r="5.0" fill="#c83a2c" fill-opacity="0.13"/>
<circle cx="380.8" cy="417.1" r="5.0" fill="#c83a2c" fill-opacity="0.13"/>
<circle cx="382.0" cy="397.5" r="5.0" fill="#c83a2c" fill-opacity="0.13"/>
<circle cx="383.2" cy="366.5" r="5.0" fill="#c83a2c" fill-opacity="0.13"/>
<circle cx="384.4" cy="437.1" r="5.0" fill="#c83a2c" fill-opacity="0.13"/>
<circle cx="385.6" cy="426.7" r="5.0" fill="#c83a2c" fill-opacity="0.13"/>
<circle cx="386.8" cy="434.4" r="5.0" fill="#c83a2c" fill-opacity="0.13"/>
<circle cx="388.0" cy="402.8" r="5.0" fill="#c83a2c" fill-opacity="0.13"/>
<circle cx="389.2" cy="441.1" r="5.0" fill="#c83a2c" fill-opacity="0.13"/>
<circle cx="390.4" cy="428.3" r="5.0" fill="#c83a2c" fill-opacity="0.13"/>
<circle cx="391.6" cy="419.7" r="5.0" fill="#c83a2c" fill-opacity="0.13"/>
<circle cx="392.8" cy="438.6" r="5.0" fill="#c83a2c" fill-opacity="0.13"/>
<circle cx="394.0" cy="438.4" r="5.0" fill="#c83a2c" fill-opacity="0.13"/>
<circle cx="395.2" cy="429.3" r="5.0" fill="#c83a2c" fill-opacity="0.13"/>
<circle cx="396.4" cy="461.4" r="5.0" fill="#c83a2c" fill-opacity="0.13"/>
<circle cx="397.6" cy="448.8" r="5.0" fill="#c83a2c" fill-opacity="0.13"/>
<circle cx="398.8" cy="428.8" r="5.0" fill="#c83a2c" fill-opacity="0.13"/>
<circle cx="400.0" cy="418.1" r="5.0" fill="#c83a2c" fill-opacity="0.13"/>
<circle cx="401.2" cy="424.9" r="5.0" fill="#c83a2c" fill-opacity="0.13"/>
<circle cx="402.4" cy="456.3" r="5.0" fill="#c83a2c" fill-opacity="0.13"/>
<circle cx="403.6" cy="430.8" r="5.0" fill="#c83a2c" fill-opacity="0.13"/>
<circle cx="404.8" cy="406.3" r="5.0" fill="#c83a2c" fill-opacity="0.13"/>
<circle cx="406.0" cy="411.2" r="5.0" fill="#c83a2c" fill-opacity="0.13"/>
<circle cx="407.2" cy="423.9" r="5.0" fill="#c83a2c" fill-opacity="0.13"/>
<circle cx="408.4" cy="440.0" r="5.0" fill="#c83a2c" fill-opacity="0.13"/>
<circle cx="409.6" cy="410.4" r="5.0" fill="#c83a2c" fill-opacity="0.13"/>
<circle cx="410.8" cy="434.4" r="5.0" fill="#c83a2c" fill-opacity="0.13"/>
<circle cx="412.0" cy="446.2" r="5.0" fill="#c83a2c" fill-opacity="0.13"/>
<circle cx="413.2" cy="439.2" r="5.0" fill="#c83a2c" fill-opacity="0.13"/>
<circle cx="414.4" cy="395.2" r="5.0" fill="#c83a2c" fill-opacity="0.13"/>
<circle cx="415.6" cy="419.5" r="5.0" fill="#c83a2c" fill-opacity="0.13"/>
<circle cx="416.8" cy="401.3" r="5.0" fill="#c83a2c" fill-opacity="0.13"/>
<circle cx="418.0" cy="433.6" r="5.0" fill="#c83a2c" fill-opacity="0.13"/>
<circle cx="419.2" cy="406.0" r="5.0" fill="#c83a2c" fill-opacity="0.13"/>
<circle cx="420.4" cy="436.4" r="5.0" fill="#c83a2c" fill-opacity="0.13"/>
<circle cx="421.6" cy="427.9" r="5.0" fill="#c83a2c" fill-opacity="0.13"/>
<circle cx="422.8" cy="376.2" r="5.0" fill="#c83a2c" fill-opacity="0.13"/>
<circle cx="424.0" cy="410.1" r="5.0" fill="#c83a2c" fill-opacity="0.13"/>
<circle cx="425.2" cy="435.1" r="5.0" fill="#c83a2c" fill-opacity="0.13"/>
<circle cx="426.4" cy="427.1" r="5.0" fill="#c83a2c" fill-opacity="0.13"/>
<circle cx="427.6" cy="419.2" r="5.0" fill="#c83a2c" fill-opacity="0.13"/>
<circle cx="428.8" cy="402.0" r="5.0" fill="#c83a2c" fill-opacity="0.13"/>
<circle cx="430.0" cy="435.5" r="5.0" fill="#c83a2c" fill-opacity="0.13"/>
<circle cx="431.2" cy="460.2" r="5.0" fill="#c83a2c" fill-opacity="0.13"/>
<circle cx="432.4" cy="431.7" r="5.0" fill="#c83a2c" fill-opacity="0.13"/>
<circle cx="433.6" cy="426.1" r="5.0" fill="#c83a2c" fill-opacity="0.13"/>
<circle cx="434.8" cy="424.4" r="5.0" fill="#c83a2c" fill-opacity="0.13"/>
<circle cx="436.0" cy="400.8" r="5.0" fill="#c83a2c" fill-opacity="0.13"/>
<circle cx="437.2" cy="420.6" r="5.0" fill="#c83a2c" fill-opacity="0.13"/>
<circle cx="438.4" cy="411.0" r="5.0" fill="#c83a2c" fill-opacity="0.13"/>
<circle cx="439.6" cy="448.7" r="5.0" fill="#c83a2c" fill-opacity="0.13"/>
<circle cx="440.8" cy="410.2" r="5.0" fill="#c83a2c" fill-opacity="0.13"/>
<circle cx="442.0" cy="386.2" r="5.0" fill="#c83a2c" fill-opacity="0.13"/>
<circle cx="443.2" cy="412.3" r="5.0" fill="#c83a2c" fill-opacity="0.13"/>
<circle cx="444.4" cy="422.6" r="5.0" fill="#c83a2c" fill-opacity="0.13"/>
<circle cx="445.6" cy="424.7" r="5.0" fill="#c83a2c" fill-opacity="0.13"/>
<circle cx="446.8" cy="392.8" r="5.0" fill="#c83a2c" fill-opacity="0.13"/>
<circle cx="448.0" cy="446.2" r="5.0" fill="#c83a2c" fill-opacity="0.13"/>
<circle cx="449.2" cy="430.3" r="5.0" fill="#c83a2c" fill-opacity="0.13"/>
<circle cx="450.4" cy="419.2" r="5.0" fill="#c83a2c" fill-opacity="0.13"/>
<circle cx="451.6" cy="413.7" r="5.0" fill="#c83a2c" fill-opacity="0.13"/>
<circle cx="452.8" cy="437.0" r="5.0" fill="#c83a2c" fill-opacity="0.13"/>
<circle cx="454.0" cy="422.5" r="5.0" fill="#c83a2c" fill-opacity="0.13"/>
<circle cx="455.2" cy="434.1" r="5.0" fill="#c83a2c" fill-opacity="0.13"/>
<circle cx="456.4" cy="426.4" r="5.0" fill="#c83a2c" fill-opacity="0.13"/>
<circle cx="457.6" cy="431.5" r="5.0" fill="#c83a2c" fill-opacity="0.13"/>
<circle cx="458.8" cy="451.4" r="5.0" fill="#c83a2c" fill-opacity="0.13"/>
<circle cx="460.0" cy="429.5" r="5.0" fill="#c83a2c" fill-opacity="0.13"/>
<circle cx="461.2" cy="411.9" r="5.0" fill="#c83a2c" fill-opacity="0.13"/>
<path d="M98.2,361.0L109.0,361.0L103.6,351.0Z" fill="#000" fill-opacity="0.12"/>
<path d="M99.4,351.5L110.2,351.5L104.8,341.5Z" fill="#000" fill-opacity="0.12"/>
<path d="M100.6,339.6L111.4,339.6L106.0,329.7Z" fill="#000" fill-opacity="0.12"/>
<path d="M101.8,362.3L112.6,362.3L107.2,352.4Z" fill="#000" fill-opacity="0.12"/>
<path d="M103.0,345.9L113.8,345.9L108.4,336.0Z" fill="#000" fill-opacity="0.12"/>
<path d="M104.2,362.2L115.0,362.2L109.6,352.2Z" fill="#000" fill-opacity="0.12"/>
<path d="M105.4,333.5L116.2,333.5L110.8,323.5Z" fill="#000" fill-opacity="0.12"/>
<path d="M106.6,318.1L117.4,318.1L112.0,308.1Z" fill="#000" fill-opacity="0.12"/>
<path d="M107.8,321.9L118.6,321.9L113.2,311.9Z" fill="#000" fill-opacity="0.12"/>
<path d="M109.0,351.2L119.8,351.2L114.4,341.2Z" fill="#000" fill-opacity="0.12"/>
<path d="M110.2,338.6L121.0,338.6L115.6,328.7Z" fill="#000" fill-opacity="0.12"/>
<path d="M111.4,346.7L122.2,346.7L116.8,336.8Z" fill="#000" fill-opacity="0.12"/>
<path d="M112.6,347.0L123.4,347.0L118.0,337.0Z" fill="#000" fill-opacity="0.12"/>
<path d="M113.8,328.1L124.6,328.1L119.2,318.1Z" fill="#000" fill-opacity="0.12"/>
<path d="M115.0,365.6L125.8,365.6L120.4,355.6Z" fill="#000" fill-opacity="0.12"/>
<path d="M116.2,334.5L127.0,334.5L121.6,324.6Z" fill="#000" fill-opacity="0.12"/>
<path d="M117.4,349.0L128.2,349.0L122.8,339.0Z" fill="#000" fill-opacity="0.12"/>
<path d="M118.6,329.9L129.4,329.9L124.0,320.0Z" fill="#000" fill-opacity="0.12"/>
<path d="M119.8,345.9L130.6,345.9L125.2,335.9Z" fill="#000" fill-opacity="0.12"/>
<path d="M121.0,357.1L131.8,357.1L126.4,347.2Z" fill="#000" fill-opacity="0.12"/>
<path d="M122.2,344.7L133.0,344.7L127.6,334.8Z" fill="#000" fill-opacity="0.12"/>
<path d="M123.4,338.7L134.2,338.7L128.8,328.7Z" fill="#000" fill-opacity="0.12"/>
<path d="M124.6,347.8L135.4,347.8L130.0,337.9Z" fill="#000" fill-opacity="0.12"/>
<path d="M125.8,341.9L136.6,341.9L131.2,332.0Z" fill="#000" fill-opacity="0.12"/>
<path d="M127.0,355.1L137.8,355.1L132.4,345.2Z" fill="#000" fill-opacity="0.12"/>
<path d="M128.2,376.2L139.0,376.2L133.6,366.3Z" fill="#000" fill-opacity="0.12"/>
<path d="M129.4,336.5L140.2,336.5L134.8,326.6Z" fill="#000" fill-opacity="0.12"/>
<path d="M130.6,339.2L141.4,339.2L136.0,329.2Z" fill="#000" fill-opacity="0.12"/>
<path d="M131.8,346.4L142.6,346.4L137.2,336.4Z" fill="#000" fill-opacity="0.12"/>
<path d="M133.0,347.4L143.8,347.4L138.4,337.5Z" fill="#000" fill-opacity="0.12"/>
<path d="M134.2,334.8L145.0,334.8L139.6,324.8Z" fill="#000" fill-opacity="0.12"/>
<path d="M135.4,354.3L146.2,354.3L140.8,344.4Z" fill="#000" fill-opacity="0.12"/>
<path d="M136.6,357.6L147.4,357.6L142.0,347.6Z" fill="#000" fill-opacity="0.12"/>
<path d="M137.8,350.8L148.6,350.8L143.2,340.8Z" fill="#000" fill-opacity="0.12"/>
<path d="M139.0,332.8L149.8,332.8L144.4,322.8Z" fill="#000" fill-opacity="0.12"/>
<path d="M140.2,366.5L151.0,366.5L145.6,356.5Z" fill="#000" fill-opacity="0.12"/>
<path d="M141.4,332.7L152.2,332.7L146.8,322.8Z" fill="#000" fill-opacity="0.12"/>
<path d="M142.6,356.7L153.4,356.7L148.0,346.7Z" fill="#000" fill-opacity="0.12"/>
<path d="M143.8,362.7L154.6,362.7L149.2,352.8Z" fill="#000" fill-opacity="0.12"/>
<path d="M145.0,331.8L155.8,331.8L150.4,321.9Z" fill="#000" fill-opacity="0.12"/>
<path d="M146.2,349.6L157.0,349.6L151.6,339.6Z" fill="#000" fill-opacity="0.12"/>
<path d="M147.4,365.3L158.2,365.3L152.8,355.4Z" fill="#000" fill-opacity="0.12"/>
<path d="M148.6,353.0L159.4,353.0L154.0,343.1Z" fill="#000" fill-opacity="0.12"/>
<path d="M149.8,336.1L160.6,336.1L155.2,326.2Z" fill="#000" fill-opacity="0.12"/>
<path d="M151.0,332.7L161.8,332.7L156.4,322.8Z" fill="#000" fill-opacity="0.12"/>
<path d="M152.2,353.9L163.0,353.9L157.6,344.0Z" fill="#000" fill-opacity="0.12"/>
<path d="M153.4,343.0L164.2,343.0L158.8,333.1Z" fill="#000" fill-opacity="0.12"/>
<path d="M154.6,339.0L165.4,339.0L160.0,329.0Z" fill="#000" fill-opacity="0.12"/>
<path d="M155.8,356.7L166.6,356.7L161.2,346.8Z" fill="#000" fill-opacity="0.12"/>
<path d="M157.0,343.7L167.8,343.7L162.4,333.7Z" fill="#000" fill-opacity="0.12"/>
<path d="M158.2,348.7L169.0,348.7L163.6,338.8Z" fill="#000" fill-opacity="0.12"/>
<path d="M159.4,355.3L170.2,355.3L164.8,345.4Z" fill="#000" fill-opacity="0.12"/>
<path d="M160.6,354.7L171.4,354.7L166.0,344.8Z" fill="#000" fill-opacity="0.12"/>
<path d="M161.8,347.4L172.6,347.4L167.2,337.5Z" fill="#000" fill-opacity="0.12"/>
<path d="M163.0,347.9L173.8,347.9L168.4,338.0Z" fill="#000" fill-opacity="0.12"/>
<path d="M164.2,355.7L175.0,355.7L169.6,345.8Z" fill="#000" fill-opacity="0.12"/>
<path d="M165.4,353.9L176.2,353.9L170.8,343.9Z" fill="#000" fill-opacity="0.12"/>
<path d="M166.6,333.7L177.4,333.7L172.0,323.8Z" fill="#000" fill-opacity="0.12"/>
<path d="M167.8,345.5L178.6,345.5L173.2,335.6Z" fill="#000" fill-opacity="0.12"/>
<path d="M169.0,336.7L179.8,336.7L174.4,326.8Z" fill="#000" fill-opacity="0.12"/>
<path d="M170.2,332.6L181.0,332.6L175.6,322.7Z" fill="#000" fill-opacity="0.12"/>
<path d="M171.4,340.6L182.2,340.6L176.8,330.7Z" fill="#000" fill-opacity="0.12"/>
<path d="M172.6,318.6L183.4,318.6L178.0,308.7Z" fill="#000" fill-opacity="0.12"/>
<path d="M173.8,359.1L184.6,359.1L179.2,349.2Z" fill="#000" fill-opacity="0.12"/>
<path d="M175.0,337.7L185.8,337.7L180.4,327.8Z" fill="#000" fill-opacity="0.12"/>
<path d="M176.2,352.5L187.0,352.5L181.6,342.5Z" fill="#000" fill-opacity="0.12"/>
<path d="M177.4,324.0L188.2,324.0L182.8,314.1Z" fill="#000" fill-opacity="0.12"/>
<path d="M178.6,326.1L189.4,326.1L184.0,316.1Z" fill="#000" fill-opacity="0.12"/>
<path d="M179.8,373.9L190.6,373.9L185.2,363.9Z" fill="#000" fill-opacity="0.12"/>
<path d="M181.0,361.0L191.8,361.0L186.4,351.0Z" fill="#000" fill-opacity="0.12"/>
<path d="M182.2,339.6L193.0,339.6L187.6,329.7Z" fill="#000" fill-opacity="0.12"/>
<path d="M183.4,338.0L194.2,338.0L188.8,328.0Z" fill="#000" fill-opacity="0.12"/>
<path d="M184.6,338.7L195.4,338.7L190.0,328.7Z" fill="#000" fill-opacity="0.12"/>
<path d="M185.8,349.2L196.6,349.2L191.2,339.3Z" fill="#000" fill-opacity="0.12"/>
<path d="M187.0,342.4L197.8,342.4L192.4,332.4Z" fill="#000" fill-opacity="0.12"/>
<path d="M188.2,339.8L199.0,339.8L193.6,329.8Z" fill="#000" fill-opacity="0.12"/>
<path d="M189.4,349.3L200.2,349.3L194.8,339.4Z" fill="#000" fill-opacity="0.12"/>
<path d="M190.6,334.9L201.4,334.9L196.0,324.9Z" fill="#000" fill-opacity="0.12"/>
<path d="M191.8,377.9L202.6,377.9L197.2,367.9Z" fill="#000" fill-opacity="0.12"/>
<path d="M193.0,340.0L203.8,340.0L198.4,330.1Z" fill="#000" fill-opacity="0.12"/>
<path d="M194.2,361.8L205.0,361.8L199.6,351.9Z" fill="#000" fill-opacity="0.12"/>
<path d="M195.4,335.8L206.2,335.8L200.8,325.8Z" fill="#000" fill-opacity="0.12"/>
<path d="M196.6,351.3L207.4,351.3L202.0,341.4Z" fill="#000" fill-opacity="0.12"/>
<path d="M197.8,359.9L208.6,359.9L203.2,350.0Z" fill="#000" fill-opacity="0.12"/>
<path d="M199.0,343.4L209.8,343.4L204.4,333.5Z" fill="#000" fill-opacity="0.12"/>
<path d="M200.2,360.2L211.0,360.2L205.6,350.3Z" fill="#000" fill-opacity="0.12"/>
<path d="M201.4,360.3L212.2,360.3L206.8,350.3Z" fill="#000" fill-opacity="0.12"/>
<path d="M202.6,368.8L213.4,368.8L208.0,358.9Z" fill="#000" fill-opacity="0.12"/>
<path d="M203.8,348.7L214.6,348.7L209.2,338.7Z" fill="#000" fill-opacity="0.12"/>
<path d="M205.0,341.8L215.8,341.8L210.4,331.9Z" fill="#000" fill-opacity="0.12"/>
<path d="M206.2,334.9L217.0,334.9L211.6,325.0Z" fill="#000" fill-opacity="0.12"/>
<path d="M207.4,350.2L218.2,350.2L212.8,340.2Z" fill="#000" fill-opacity="0.12"/>
<path d="M208.6,334.6L219.4,334.6L214.0,324.7Z" fill="#000" fill-opacity="0.12"/>
<path d="M209.8,348.1L220.6,348.1L215.2,338.1Z" fill="#000" fill-opacity="0.12"/>
<path d="M211.0,349.5L221.8,349.5L216.4,339.6Z" fill="#000" fill-opacity="0.12"/>
<path d="M212.2,340.8L223.0,340.8L217.6,330.9Z" fill="#000" fill-opacity="0.12"/>
<path d="M213.4,334.5L224.2,334.5L218.8,324.5Z" fill="#000" fill-opacity="0.12"/>
<path d="M214.6,352.8L225.4,352.8L220.0,342.8Z" fill="#000" fill-opacity="0.12"/>
<path d="M215.8,351.5L226.6,351.5L221.2,341.6Z" fill="#000" fill-opacity="0.12"/>
<path d="M217.0,350.4L227.8,350.4L222.4,340.5Z" fill="#000" fill-opacity="0.12"/>
<path d="M218.2,361.0L229.0,361.0L223.6,351.1Z" fill="#000" fill-opacity="0.12"/>
<path d="M219.4,378.2L230.2,378.2L224.8,368.2Z" fill="#000" fill-opacity="0.12"/>
<path d="M220.6,344.6L231.4,344.6L226.0,334.6Z" fill="#000" fill-opacity="0.12"/>
<path d="M221.8,369.5L232.6,369.5L227.2,359.5Z" fill="#000" fill-opacity="0.12"/>
<path d="M223.0,354.4L233.8,354.4L228.4,344.5Z" fill="#000" fill-opacity="0.12"/>
<path d="M224.2,376.9L235.0,376.9L229.6,366.9Z" fill="#000" fill-opacity="0.12"/>
<path d="M225.4,356.2L236.2,356.2L230.8,346.3Z" fill="#000" fill-opacity="0.12"/>
<path d="M226.6,355.7L237.4,355.7L232.0,345.7Z" fill="#000" fill-opacity="0.12"/>
<path d="M227.8,369.8L238.6,369.8L233.2,359.9Z" fill="#000" fill-opacity="0.12"/>
<path d="M229.0,327.2L239.8,327.2L234.4,317.3Z" fill="#000" fill-opacity="0.12"/>
<path d="M230.2,356.0L241.0,356.0L235.6,346.1Z" fill="#000" fill-opacity="0.12"/>
<path d="M231.4,331.5L242.2,331.5L236.8,321.6Z" fill="#000" fill-opacity="0.12"/>
<path d="M232.6,345.8L243.4,345.8L238.0,335.8Z" fill="#000" fill-opacity="0.12"/>
<path d="M233.8,374.0L244.6,374.0L239.2,364.1Z" fill="#000" fill-opacity="0.12"/>
<path d="M235.0,369.1L245.8,369.1L240.4,359.2Z" fill="#000" fill-opacity="0.12"/>
<path d="M236.2,354.9L247.0,354.9L241.6,344.9Z" fill="#000" fill-opacity="0.12"/>
<path d="M237.4,361.4L248.2,361.4L242.8,351.5Z" fill="#000" fill-opacity="0.12"/>
<path d="M238.6,361.6L249.4,361.6L244.0,351.7Z" fill="#000" fill-opacity="0.12"/>
<path d="M239.8,367.5L250.6,367.5L245.2,357.5Z" fill="#000" fill-opacity="0.12"/>
<path d="M241.0,394.0L251.8,394.0L246.4,384.1Z" fill="#000" fill-opacity="0.12"/>
<path d="M242.2,366.4L253.0,366.4L247.6,356.5Z" fill="#000" fill-opacity="0.12"/>
<path d="M243.4,401.2L254.2,401.2L248.8,391.2Z" fill="#000" fill-opacity="0.12"/>
<path d="M244.6,356.0L255.4,356.0L250.0,346.1Z" fill="#000" fill-opacity="0.12"/>
<path d="M245.8,375.1L256.6,375.1L251.2,365.2Z" fill="#000" fill-opacity="0.12"/>
<path d="M247.0,375.0L257.8,375.0L252.4,365.0Z" fill="#000" fill-opacity="0.12"/>
<path d="M248.2,366.3L259.0,366.3L253.6,356.4Z" fill="#000" fill-opacity="0.12"/>
<path d="M249.4,357.7L260.2,357.7L254.8,347.8Z" fill="#000" fill-opacity="0.12"/>
<path d="M250.6,387.5L261.4,387.5L256.0,377.5Z" fill="#000" fill-opacity="0.12"/>
<path d="M251.8,393.0L262.6,393.0L257.2,383.0Z" fill="#000" fill-opacity="0.12"/>
<path d="M253.0,381.1L263.8,381.1L258.4,371.1Z" fill="#000" fill-opacity="0.12"/>
<path d="M254.2,398.1L265.0,398.1L259.6,388.2Z" fill="#000" fill-opacity="0.12"/>
<path d="M255.4,379.3L266.2,379.3L260.8,369.4Z" fill="#000" fill-opacity="0.12"/>
<path d="M256.6,334.7L267.4,334.7L262.0,324.8Z" fill="#000" fill-opacity="0.12"/>
<path d="M257.8,380.9L268.6,380.9L263.2,371.0Z" fill="#000" fill-opacity="0.12"/>
<path d="M259.0,351.1L269.8,351.1L264.4,341.2Z" fill="#000" fill-opacity="0.12"/>
<path d="M260.2,386.4L271.0,386.4L265.6,376.5Z" fill="#000" fill-opacity="0.12"/>
<path d="M261.4,357.3L272.2,357.3L266.8,347.3Z" fill="#000" fill-opacity="0.12"/>
<path d="M262.6,368.1L273.4,368.1L268.0,358.1Z" fill="#000" fill-opacity="0.12"/>
<path d="M263.8,363.5L274.6,363.5L269.2,353.6Z" fill="#000" fill-opacity="0.12"/>
<path d="M265.0,352.6L275.8,352.6L270.4,342.6Z" fill="#000" fill-opacity="0.12"/>
<path d="M266.2,331.9L277.0,331.9L271.6,321.9Z" fill="#000" fill-opacity="0.12"/>
<path d="M267.4,359.1L278.2,359.1L272.8,349.2Z" fill="#000" fill-opacity="0.12"/>
<path d="M268.6,360.3L279.4,360.3L274.0,350.4Z" fill="#000" fill-opacity="0.12"/>
<path d="M269.8,379.5L280.6,379.5L275.2,369.5Z" fill="#000" fill-opacity="0.12"/>
<path d="M271.0,352.3L281.8,352.3L276.4,342.4Z" fill="#000" fill-opacity="0.12"/>
<path d="M272.2,366.8L283.0,366.8L277.6,356.8Z" fill="#000" fill-opacity="0.12"/>
<path d="M273.4,348.0L284.2,348.0L278.8,338.0Z" fill="#000" fill-opacity="0.12"/>
<path d="M274.6,363.2L285.4,363.2L280.0,353.3Z" fill="#000" fill-opacity="0.12"/>
<path d="M275.8,332.1L286.6,332.1L281.2,322.2Z" fill="#000" fill-opacity="0.12"/>
<path d="M277.0,397.1L287.8,397.1L282.4,387.1Z" fill="#000" fill-opacity="0.12"/>
<path d="M278.2,367.7L289.0,367.7L283.6,357.7Z" fill="#000" fill-opacity="0.12"/>
<path d="M279.4,347.1L290.2,347.1L284.8,337.2Z" fill="#000" fill-opacity="0.12"/>
<path d="M280.6,368.6L291.4,368.6L286.0,358.7Z" fill="#000" fill-opacity="0.12"/>
<path d="M281.8,376.3L292.6,376.3L287.2,366.4Z" fill="#000" fill-opacity="0.12"/>
<path d="M283.0,367.1L293.8,367.1L288.4,357.2Z" fill="#000" fill-opacity="0.12"/>
<path d="M284.2,386.5L295.0,386.5L289.6,376.6Z" fill="#000" fill-opacity="0.12"/>
<path d="M285.4,360.4L296.2,360.4L290.8,350.5Z" fill="#000" fill-opacity="0.12"/>
<path d="M286.6,319.9L297.4,319.9L292.0,310.0Z" fill="#000" fill-opacity="0.12"/>
<path d="M287.8,342.5L298.6,342.5L293.2,332.6Z" fill="#000" fill-opacity="0.12"/>
<path d="M289.0,381.8L299.8,381.8L294.4,371.9Z" fill="#000" fill-opacity="0.12"/>
<path d="M290.2,377.7L301.0,377.7L295.6,367.8Z" fill="#000" fill-opacity="0.12"/>
<path d="M291.4,369.5L302.2,369.5L296.8,359.6Z" fill="#000" fill-opacity="0.12"/>
<path d="M292.6,345.0L303.4,345.0L298.0,335.0Z" fill="#000" fill-opacity="0.12"/>
<path d="M293.8,376.8L304.6,376.8L299.2,366.9Z" fill="#000" fill-opacity="0.12"/>
<path d="M295.0,374.5L305.8,374.5L300.4,364.6Z" fill="#000" fill-opacity="0.12"/>
<path d="M296.2,347.1L307.0,347.1L301.6,337.1Z" fill="#000" fill-opacity="0.12"/>
<path d="M297.4,347.4L308.2,347.4L302.8,337.5Z" fill="#000" fill-opacity="0.12"/>
<path d="M298.6,369.0L309.4,369.0L304.0,359.1Z" fill="#000" fill-opacity="0.12"/>
<path d="M299.8,382.0L310.6,382.0L305.2,372.0Z" fill="#000" fill-opacity="0.12"/>
<path d="M301.0,389.5L311.8,389.5L306.4,379.6Z" fill="#000" fill-opacity="0.12"/>
<path d="M302.2,374.7L313.0,374.7L307.6,364.7Z" fill="#000" fill-opacity="0.12"/>
<path d="M303.4,401.4L314.2,401.4L308.8,391.4Z" fill="#000" fill-opacity="0.12"/>
<path d="M304.6,349.4L315.4,349.4L310.0,339.5Z" fill="#000" fill-opacity="0.12"/>
<path d="M305.8,373.5L316.6,373.5L311.2,363.5Z" fill="#000" fill-opacity="0.12"/>
<path d="M307.0,354.1L317.8,354.1L312.4,344.2Z" fill="#000" fill-opacity="0.12"/>
<path d="M308.2,329.9L319.0,329.9L313.6,320.0Z" fill="#000" fill-opacity="0.12"/>
<path d="M309.4,342.0L320.2,342.0L314.8,332.1Z" fill="#000" fill-opacity="0.12"/>
<path d="M310.6,382.6L321.4,382.6L316.0,372.6Z" fill="#000" fill-opacity="0.12"/>
<path d="M311.8,347.3L322.6,347.3L317.2,337.4Z" fill="#000" fill-opacity="0.12"/>
<path d="M313.0,342.3L323.8,342.3L318.4,332.4Z" fill="#000" fill-opacity="0.12"/>
<path d="M314.2,375.5L325.0,375.5L319.6,365.6Z" fill="#000" fill-opacity="0.12"/>
<path d="M315.4,379.1L326.2,379.1L320.8,369.2Z" fill="#000" fill-opacity="0.12"/>
<path d="M316.6,364.4L327.4,364.4L322.0,354.5Z" fill="#000" fill-opacity="0.12"/>
<path d="M317.8,390.4L328.6,390.4L323.2,380.5Z" fill="#000" fill-opacity="0.12"/>
<path d="M319.0,336.8L329.8,336.8L324.4,326.9Z" fill="#000" fill-opacity="0.12"/>
<path d="M320.2,404.4L331.0,404.4L325.6,394.5Z" fill="#000" fill-opacity="0.12"/>
<path d="M321.4,381.8L332.2,381.8L326.8,371.8Z" fill="#000" fill-opacity="0.12"/>
<path d="M322.6,367.2L333.4,367.2L328.0,357.2Z" fill="#000" fill-opacity="0.12"/>
<path d="M323.8,366.4L334.6,366.4L329.2,356.5Z" fill="#000" fill-opacity="0.12"/>
<path d="M325.0,359.6L335.8,359.6L330.4,349.6Z" fill="#000" fill-opacity="0.12"/>
<path d="M326.2,357.7L337.0,357.7L331.6,347.8Z" fill="#000" fill-opacity="0.12"/>
<path d="M327.4,366.2L338.2,366.2L332.8,356.3Z" fill="#000" fill-opacity="0.12"/>
<path d="M328.6,342.7L339.4,342.7L334.0,332.7Z" fill="#000" fill-opacity="0.12"/>
<path d="M329.8,399.8L340.6,399.8L335.2,389.9Z" fill="#000" fill-opacity="0.12"/>
<path d="M331.0,362.5L341.8,362.5L336.4,352.5Z" fill="#000" fill-opacity="0.12"/>
<path d="M332.2,374.9L343.0,374.9L337.6,365.0Z" fill="#000" fill-opacity="0.12"/>
<path d="M333.4,360.2L344.2,360.2L338.8,350.2Z" fill="#000" fill-opacity="0.12"/>
<path d="M334.6,358.6L345.4,358.6L340.0,348.7Z" fill="#000" fill-opacity="0.12"/>
<path d="M335.8,378.4L346.6,378.4L341.2,368.4Z" fill="#000" fill-opacity="0.12"/>
<path d="M337.0,373.7L347.8,373.7L342.4,363.7Z" fill="#000" fill-opacity="0.12"/>
<path d="M338.2,348.7L349.0,348.7L343.6,338.7Z" fill="#000" fill-opacity="0.12"/>
<path d="M339.4,356.4L350.2,356.4L344.8,346.5Z" fill="#000" fill-opacity="0.12"/>
<path d="M340.6,374.3L351.4,374.3L346.0,364.4Z" fill="#000" fill-opacity="0.12"/>
<path d="M341.8,326.9L352.6,326.9L347.2,317.0Z" fill="#000" fill-opacity="0.12"/>
<path d="M343.0,322.2L353.8,322.2L348.4,312.3Z" fill="#000" fill-opacity="0.12"/>
<path d="M344.2,388.0L355.0,388.0L349.6,378.1Z" fill="#000" fill-opacity="0.12"/>
<path d="M345.4,357.2L356.2,357.2L350.8,347.3Z" fill="#000" fill-opacity="0.12"/>
<path d="M346.6,318.7L357.4,318.7L352.0,308.8Z" fill="#000" fill-opacity="0.12"/>
<path d="M347.8,348.8L358.6,348.8L353.2,338.9Z" fill="#000" fill-opacity="0.12"/>
<path d="M349.0,358.6L359.8,358.6L354.4,348.7Z" fill="#000" fill-opacity="0.12"/>
<path d="M350.2,366.1L361.0,366.1L355.6,356.2Z" fill="#000" fill-opacity="0.12"/>
<path d="M351.4,371.9L362.2,371.9L356.8,362.0Z" fill="#000" fill-opacity="0.12"/>
<path d="M352.6,366.2L363.4,366.2L358.0,356.3Z" fill="#000" fill-opacity="0.12"/>
<path d="M353.8,372.1L364.6,372.1L359.2,362.2Z" fill="#000" fill-opacity="0.12"/>
<path d="M355.0,349.5L365.8,349.5L360.4,339.6Z" fill="#000" fill-opacity="0.12"/>
<path d="M356.2,369.4L367.0,369.4L361.6,359.5Z" fill="#000" fill-opacity="0.12"/>
<path d="M357.4,370.2L368.2,370.2L362.8,360.2Z" fill="#000" fill-opacity="0.12"/>
<path d="M358.6,383.4L369.4,383.4L364.0,373.5Z" fill="#000" fill-opacity="0.12"/>
<path d="M359.8,363.3L370.6,363.3L365.2,353.4Z" fill="#000" fill-opacity="0.12"/>
<path d="M361.0,378.1L371.8,378.1L366.4,368.1Z" fill="#000" fill-opacity="0.12"/>
<path d="M362.2,365.6L373.0,365.6L367.6,355.7Z" fill="#000" fill-opacity="0.12"/>
<path d="M363.4,344.3L374.2,344.3L368.8,334.4Z" fill="#000" fill-opacity="0.12"/>
<path d="M364.6,356.1L375.4,356.1L370.0,346.2Z" fill="#000" fill-opacity="0.12"/>
<path d="M365.8,353.7L376.6,353.7L371.2,343.7Z" fill="#000" fill-opacity="0.12"/>
<path d="M367.0,356.3L377.8,356.3L372.4,346.3Z" fill="#000" fill-opacity="0.12"/>
<path d="M368.2,361.4L379.0,361.4L373.6,351.5Z" fill="#000" fill-opacity="0.12"/>
<path d="M369.4,364.7L380.2,364.7L374.8,354.8Z" fill="#000" fill-opacity="0.12"/>
<path d="M370.6,367.9L381.4,367.9L376.0,357.9Z" fill="#000" fill-opacity="0.12"/>
<path d="M371.8,349.2L382.6,349.2L377.2,339.3Z" fill="#000" fill-opacity="0.12"/>
<path d="M373.0,381.4L383.8,381.4L378.4,371.5Z" fill="#000" fill-opacity="0.12"/>
<path d="M374.2,339.1L385.0,339.1L379.6,329.2Z" fill="#000" fill-opacity="0.12"/>
<path d="M375.4,361.9L386.2,361.9L380.8,352.0Z" fill="#000" fill-opacity="0.12"/>
<path d="M376.6,375.5L387.4,375.5L382.0,365.6Z" fill="#000" fill-opacity="0.12"/>
<path d="M377.8,371.0L388.6,371.0L383.2,361.1Z" fill="#000" fill-opacity="0.12"/>
<path d="M379.0,374.3L389.8,374.3L384.4,364.4Z" fill="#000" fill-opacity="0.12"/>
<path d="M380.2,359.7L391.0,359.7L385.6,349.8Z" fill="#000" fill-opacity="0.12"/>
<path d="M381.4,375.0L392.2,375.0L386.8,365.1Z" fill="#000" fill-opacity="0.12"/>
<path d="M382.6,342.6L393.4,342.6L388.0,332.6Z" fill="#000" fill-opacity="0.12"/>
<path d="M383.8,376.1L394.6,376.1L389.2,366.2Z" fill="#000" fill-opacity="0.12"/>
<path d="M385.0,402.1L395.8,402.1L390.4,392.2Z" fill="#000" fill-opacity="0.12"/>
<path d="M386.2,375.2L397.0,375.2L391.6,365.3Z" fill="#000" fill-opacity="0.12"/>
<path d="M387.4,397.5L398.2,397.5L392.8,387.6Z" fill="#000" fill-opacity="0.12"/>
<path d="M388.6,363.2L399.4,363.2L394.0,353.2Z" fill="#000" fill-opacity="0.12"/>
<path d="M389.8,344.0L400.6,344.0L395.2,334.1Z" fill="#000" fill-opacity="0.12"/>
<path d="M391.0,351.2L401.8,351.2L396.4,341.2Z" fill="#000" fill-opacity="0.12"/>
<path d="M392.2,385.8L403.0,385.8L397.6,375.9Z" fill="#000" fill-opacity="0.12"/>
<path d="M393.4,375.8L404.2,375.8L398.8,365.8Z" fill="#000" fill-opacity="0.12"/>
<path d="M394.6,331.5L405.4,331.5L400.0,321.5Z" fill="#000" fill-opacity="0.12"/>
<path d="M395.8,356.9L406.6,356.9L401.2,347.0Z" fill="#000" fill-opacity="0.12"/>
<path d="M397.0,362.4L407.8,362.4L402.4,352.5Z" fill="#000" fill-opacity="0.12"/>
<path d="M398.2,344.1L409.0,344.1L403.6,334.1Z" fill="#000" fill-opacity="0.12"/>
<path d="M399.4,319.7L410.2,319.7L404.8,309.8Z" fill="#000" fill-opacity="0.12"/>
<path d="M400.6,339.9L411.4,339.9L406.0,329.9Z" fill="#000" fill-opacity="0.12"/>
<path d="M401.8,360.1L412.6,360.1L407.2,350.1Z" fill="#000" fill-opacity="0.12"/>
<path d="M403.0,356.3L413.8,356.3L408.4,346.4Z" fill="#000" fill-opacity="0.12"/>
<path d="M404.2,351.7L415.0,351.7L409.6,341.8Z" fill="#000" fill-opacity="0.12"/>
<path d="M405.4,373.2L416.2,373.2L410.8,363.2Z" fill="#000" fill-opacity="0.12"/>
<path d="M406.6,380.9L417.4,380.9L412.0,371.0Z" fill="#000" fill-opacity="0.12"/>
<path d="M407.8,361.6L418.6,361.6L413.2,351.6Z" fill="#000" fill-opacity="0.12"/>
<path d="M409.0,379.0L419.8,379.0L414.4,369.1Z" fill="#000" fill-opacity="0.12"/>
<path d="M410.2,363.6L421.0,363.6L415.6,353.6Z" fill="#000" fill-opacity="0.12"/>
<path d="M411.4,360.8L422.2,360.8L416.8,350.9Z" fill="#000" fill-opacity="0.12"/>
<path d="M412.6,321.7L423.4,321.7L418.0,311.7Z" fill="#000" fill-opacity="0.12"/>
<path d="M413.8,377.3L424.6,377.3L419.2,367.4Z" fill="#000" fill-opacity="0.12"/>
<path d="M415.0,364.6L425.8,364.6L420.4,354.7Z" fill="#000" fill-opacity="0.12"/>
<path d="M416.2,365.3L427.0,365.3L421.6,355.4Z" fill="#000" fill-opacity="0.12"/>
<path d="M417.4,354.9L428.2,354.9L422.8,344.9Z" fill="#000" fill-opacity="0.12"/>
<path d="M418.6,344.2L429.4,344.2L424.0,334.3Z" fill="#000" fill-opacity="0.12"/>
<path d="M419.8,371.0L430.6,371.0L425.2,361.1Z" fill="#000" fill-opacity="0.12"/>
<path d="M421.0,376.8L431.8,376.8L426.4,366.9Z" fill="#000" fill-opacity="0.12"/>
<path d="M422.2,391.1L433.0,391.1L427.6,381.2Z" fill="#000" fill-opacity="0.12"/>
<path d="M423.4,378.6L434.2,378.6L428.8,368.7Z" fill="#000" fill-opacity="0.12"/>
<path d="M424.6,353.1L435.4,353.1L430.0,343.2Z" fill="#000" fill-opacity="0.12"/>
<path d="M425.8,361.7L436.6,361.7L431.2,351.7Z" fill="#000" fill-opacity="0.12"/>
<path d="M427.0,380.2L437.8,380.2L432.4,370.3Z" fill="#000" fill-opacity="0.12"/>
<path d="M428.2,369.0L439.0,369.0L433.6,359.0Z" fill="#000" fill-opacity="0.12"/>
<path d="M429.4,361.9L440.2,361.9L434.8,352.0Z" fill="#000" fill-opacity="0.12"/>
<path d="M430.6,353.7L441.4,353.7L436.0,343.8Z" fill="#000" fill-opacity="0.12"/>
<path d="M431.8,372.8L442.6,372.8L437.2,362.9Z" fill="#000" fill-opacity="0.12"/>
<path d="M433.0,366.8L443.8,366.8L438.4,356.9Z" fill="#000" fill-opacity="0.12"/>
<path d="M434.2,394.2L445.0,394.2L439.6,384.3Z" fill="#000" fill-opacity="0.12"/>
<path d="M435.4,382.6L446.2,382.6L440.8,372.6Z" fill="#000" fill-opacity="0.12"/>
<path d="M436.6,334.3L447.4,334.3L442.0,324.3Z" fill="#000" fill-opacity="0.12"/>
<path d="M437.8,400.6L448.6,400.6L443.2,390.7Z" fill="#000" fill-opacity="0.12"/>
<path d="M439.0,368.4L449.8,368.4L444.4,358.4Z" fill="#000" fill-opacity="0.12"/>
<path d="M440.2,358.7L451.0,358.7L445.6,348.7Z" fill="#000" fill-opacity="0.12"/>
<path d="M441.4,369.0L452.2,369.0L446.8,359.1Z" fill="#000" fill-opacity="0.12"/>
<path d="M442.6,376.6L453.4,376.6L448.0,366.6Z" fill="#000" fill-opacity="0.12"/>
<path d="M443.8,363.5L454.6,363.5L449.2,353.6Z" fill="#000" fill-opacity="0.12"/>
<path d="M445.0,362.6L455.8,362.6L450.4,352.6Z" fill="#000" fill-opacity="0.12"/>
<path d="M446.2,363.9L457.0,363.9L451.6,354.0Z" fill="#000" fill-opacity="0.12"/>
<path d="M447.4,395.2L458.2,395.2L452.8,385.3Z" fill="#000" fill-opacity="0.12"/>
<path d="M448.6,365.1L459.4,365.1L454.0,355.1Z" fill="#000" fill-opacity="0.12"/>
<path d="M449.8,377.4L460.6,377.4L455.2,367.5Z" fill="#000" fill-opacity="0.12"/>
<path d="M451.0,372.0L461.8,372.0L456.4,362.1Z" fill="#000" fill-opacity="0.12"/>
<path d="M452.2,358.5L463.0,358.5L457.6,348.6Z" fill="#000" fill-opacity="0.12"/>
<path d="M453.4,351.3L464.2,351.3L458.8,341.4Z" fill="#000" fill-opacity="0.12"/>
<path d="M454.6,346.8L465.4,346.8L460.0,336.9Z" fill="#000" fill-opacity="0.12"/>
<path d="M455.8,371.1L466.6,371.1L461.2,361.2Z" fill="#000" fill-opacity="0.12"/>
<circle cx="103.6" cy="335.9" r="5.0" fill="#c83a2c" fill-opacity="0.13"/>
<circle cx="104.8" cy="333.5" r="5.0" fill="#c83a2c" fill-opacity="0.13"/>
<circle cx="106.0" cy="333.8" r="5.0" fill="#c83a2c" fill-opacity="0.13"/>
<circle cx="107.2" cy="331.4" r="5.0" fill="#c83a2c" fill-opacity="0.13"/>
<circle cx="108.4" cy="346.4" r="5.0" fill="#c83a2c" fill-opacity="0.13"/>
<circle cx="109.6" cy="346.7" r="5.0" fill="#c83a2c" fill-opacity="0.13"/>
<circle cx="110.8" cy="336.9" r="5.0" fill="#c83a2c" fill-opacity="0.13"/>
<circle cx="112.0" cy="358.4" r="5.0" fill="#c83a2c" fill-opacity="0.13"/>
<circle cx="113.2" cy="342.9" r="5.0" fill="#c83a2c" fill-opacity="0.13"/>
<circle cx="114.4" cy="350.2" r="5.0" fill="#c83a2c" fill-opacity="0.13"/>
<circle cx="115.6" cy="348.6" r="5.0" fill="#c83a2c" fill-opacity="0.13"/>
<circle cx="116.8" cy="362.1" r="5.0" fill="#c83a2c" fill-opacity="0.13"/>
<circle cx="118.0" cy="353.7" r="5.0" fill="#c83a2c" fill-opacity="0.13"/>
<circle cx="119.2" cy="345.2" r="5.0" fill="#c83a2c" fill-opacity="0.13"/>
<circle cx="120.4" cy="336.3" r="5.0" fill="#c83a2c" fill-opacity="0.13"/>
<circle cx="121.6" cy="335.3" r="5.0" fill="#c83a2c" fill-opacity="0.13"/>
<circle cx="122.8" cy="345.8" r="5.0" fill="#c83a2c" fill-opacity="0.13"/>
<circle cx="124.0" cy="346.9" r="5.0" fill="#c83a2c" fill-opacity="0.13"/>
<circle cx="125.2" cy="353.1" r="5.0" fill="#c83a2c" fill-opacity="0.13"/>
<circle cx="126.4" cy="341.1" r="5.0" fill="#c83a2c" fill-opacity="0.13"/>
<circle cx="127.6" cy="347.4" r="5.0" fill="#c83a2c" fill-opacity="0.13"/>
<circle cx="128.8" cy="339.1" r="5.0" fill="#c83a2c" fill-opacity="0.13"/>
<circle cx="130.0" cy="327.8" r="5.0" fill="#c83a2c" fill-opacity="0.13"/>
<circle cx="131.2" cy="345.3" r="5.0" fill="#c83a2c" fill-opacity="0.13"/>
<circle cx="132.4" cy="359.7" r="5.0" fill="#c83a2c" fill-opacity="0.13"/>
<circle cx="133.6" cy="353.4" r="5.0" fill="#c83a2c" fill-opacity="0.13"/>
<circle cx="134.8" cy="359.3" r="5.0" fill="#c83a2c" fill-opacity="0.13"/>
<circle cx="136.0" cy="356.7" r="5.0" fill="#c83a2c" fill-opacity="0.13"/>
<circle cx="137.2" cy="332.2" r="5.0" fill="#c83a2c" fill-opacity="0.13"/>
<circle cx="138.4" cy="342.8" r="5.0" fill="#c83a2c" fill-opacity="0.13"/>
<circle cx="139.6" cy="359.9" r="5.0" fill="#c83a2c" fill-opacity="0.13"/>
<circle cx="140.8" cy="338.6" r="5.0" fill="#c83a2c" fill-opacity="0.13"/>
<circle cx="142.0" cy="332.6" r="5.0" fill="#c83a2c" fill-opacity="0.13"/>
<circle cx="143.2" cy="348.5" r="5.0" fill="#c83a2c" fill-opacity="0.13"/>
<circle cx="144.4" cy="351.6" r="5.0" fill="#c83a2c" fill-opacity="0.13"/>
<circle cx="145.6" cy="348.3" r="5.0" fill="#c83a2c" fill-opacity="0.13"/>
<circle cx="146.8" cy="342.2" r="5.0" fill="#c83a2c" fill-opacity="0.13"/>
<circle cx="148.0" cy="338.7" r="5.0" fill="#c83a2c" fill-opacity="0.13"/>
<circle cx="149.2" cy="333.4" r="5.0" fill="#c83a2c" fill-opacity="0.13"/>
<circle cx="150.4" cy="333.1" r="5.0" fill="#c83a2c" fill-opacity="0.13"/>
<circle cx="151.6" cy="333.4" r="5.0" fill="#c83a2c" fill-opacity="0.13"/>
<circle cx="152.8" cy="331.6" r="5.0" fill="#c83a2c" fill-opacity="0.13"/>
<circle cx="154.0" cy="338.5" r="5.0" fill="#c83a2c" fill-opacity="0.13"/>
<circle cx="155.2" cy="360.0" r="5.0" fill="#c83a2c" fill-opacity="0.13"/>
<circle cx="156.4" cy="346.3" r="5.0" fill="#c83a2c" fill-opacity="0.13"/>
<circle cx="157.6" cy="341.9" r="5.0" fill="#c83a2c" fill-opacity="0.13"/>
<circle cx="158.8" cy="348.8" r="5.0" fill="#c83a2c" fill-opacity="0.13"/>
<circle cx="160.0" cy="336.1" r="5.0" fill="#c83a2c" fill-opacity="0.13"/>
<circle cx="161.2" cy="348.5" r="5.0" fill="#c83a2c" fill-opacity="0.13"/>
<circle cx="162.4" cy="354.1" r="5.0" fill="#c83a2c" fill-opacity="0.13"/>
<circle cx="163.6" cy="330.8" r="5.0" fill="#c83a2c" fill-opacity="0.13"/>
<circle cx="164.8" cy="338.5" r="5.0" fill="#c83a2c" fill-opacity="0.13"/>
<circle cx="166.0" cy="342.8" r="5.0" fill="#c83a2c" fill-opacity="0.13"/>
<circle cx="167.2" cy="335.9" r="5.0" fill="#c83a2c" fill-opacity="0.13"/>
<circle cx="168.4" cy="334.6" r="5.0" fill="#c83a2c" fill-opacity="0.13"/>
<circle cx="169.6" cy="341.7" r="5.0" fill="#c83a2c" fill-opacity="0.13"/>
<circle cx="170.8" cy="369.1" r="5.0" fill="#c83a2c" fill-opacity="0.13"/>
<circle cx="172.0" cy="351.6" r="5.0" fill="#c83a2c" fill-opacity="0.13"/>
<circle cx="173.2" cy="349.5" r="5.0" fill="#c83a2c" fill-opacity="0.13"/>
<circle cx="174.4" cy="354.7" r="5.0" fill="#c83a2c" fill-opacity="0.13"/>
<circle cx="175.6" cy="343.1" r="5.0" fill="#c83a2c" fill-opacity="0.13"/>
<circle cx="176.8" cy="333.3" r="5.0" fill="#c83a2c" fill-opacity="0.13"/>
<circle cx="178.0" cy="349.8" r="5.0" fill="#c83a2c" fill-opacity="0.13"/>
<circle cx="179.2" cy="356.1" r="5.0" fill="#c83a2c" fill-opacity="0.13"/>
<circle cx="180.4" cy="325.1" r="5.0" fill="#c83a2c" fill-opacity="0.13"/>
<circle cx="181.6" cy="349.4" r="5.0" fill="#c83a2c" fill-opacity="0.13"/>
<circle cx="182.8" cy="357.1" r="5.0" fill="#c83a2c" fill-opacity="0.13"/>
<circle cx="184.0" cy="342.7" r="5.0" fill="#c83a2c" fill-opacity="0.13"/>
<circle cx="185.2" cy="340.8" r="5.0" fill="#c83a2c" fill-opacity="0.13"/>
<circle cx="186.4" cy="351.9" r="5.0" fill="#c83a2c" fill-opacity="0.13"/>
<circle cx="187.6" cy="337.2" r="5.0" fill="#c83a2c" fill-opacity="0.13"/>
<circle cx="188.8" cy="349.8" r="5.0" fill="#c83a2c" fill-opacity="0.13"/>
<circle cx="190.0" cy="354.1" r="5.0" fill="#c83a2c" fill-opacity="0.13"/>
<circle cx="191.2" cy="343.2" r="5.0" fill="#c83a2c" fill-opacity="0.13"/>
<circle cx="192.4" cy="337.4" r="5.0" fill="#c83a2c" fill-opacity="0.13"/>
<circle cx="193.6" cy="351.2" r="5.0" fill="#c83a2c" fill-opacity="0.13"/>
<circle cx="194.8" cy="341.8" r="5.0" fill="#c83a2c" fill-opacity="0.13"/>
<circle cx="196.0" cy="345.9" r="5.0" fill="#c83a2c" fill-opacity="0.13"/>
<circle cx="197.2" cy="317.3" r="5.0" fill="#c83a2c" fill-opacity="0.13"/>
<circle cx="198.4" cy="352.0" r="5.0" fill="#c83a2c" fill-opacity="0.13"/>
<circle cx="199.6" cy="331.4" r="5.0" fill="#c83a2c" fill-opacity="0.13"/>
<circle cx="200.8" cy="345.5" r="5.0" fill="#c83a2c" fill-opacity="0.13"/>
<circle cx="202.0" cy="346.2" r="5.0" fill="#c83a2c" fill-opacity="0.13"/>
<circle cx="203.2" cy="337.9" r="5.0" fill="#c83a2c" fill-opacity="0.13"/>
<circle cx="204.4" cy="336.2" r="5.0" fill="#c83a2c" fill-opacity="0.13"/>
<circle cx="205.6" cy="332.6" r="5.0" fill="#c83a2c" fill-opacity="0.13"/>
<circle cx="206.8" cy="341.8" r="5.0" fill="#c83a2c" fill-opacity="0.13"/>
<circle cx="208.0" cy="350.9" r="5.0" fill="#c83a2c" fill-opacity="0.13"/>
<circle cx="209.2" cy="350.3" r="5.0" fill="#c83a2c" fill-opacity="0.13"/>
<circle cx="210.4" cy="340.0" r="5.0" fill="#c83a2c" fill-opacity="0.13"/>
<circle cx="211.6" cy="339.3" r="5.0" fill="#c83a2c" fill-opacity="0.13"/>
<circle cx="212.8" cy="331.3" r="5.0" fill="#c83a2c" fill-opacity="0.13"/>
<circle cx="214.0" cy="340.9" r="5.0" fill="#c83a2c" fill-opacity="0.13"/>
<circle cx="215.2" cy="334.6" r="5.0" fill="#c83a2c" fill-opacity="0.13"/>
<circle cx="216.4" cy="330.1" r="5.0" fill="#c83a2c" fill-opacity="0.13"/>
<circle cx="217.6" cy="343.4" r="5.0" fill="#c83a2c" fill-opacity="0.13"/>
<circle cx="218.8" cy="362.8" r="5.0" fill="#c83a2c" fill-opacity="0.13"/>
<circle cx="220.0" cy="370.2" r="5.0" fill="#c83a2c" fill-opacity="0.13"/>
<circle cx="221.2" cy="382.5" r="5.0" fill="#c83a2c" fill-opacity="0.13"/>
<circle cx="222.4" cy="362.1" r="5.0" fill="#c83a2c" fill-opacity="0.13"/>
<circle cx="223.6" cy="394.9" r="5.0" fill="#c83a2c" fill-opacity="0.13"/>
<circle cx="224.8" cy="382.8" r="5.0" fill="#c83a2c" fill-opacity="0.13"/>
<circle cx="226.0" cy="397.1" r="5.0" fill="#c83a2c" fill-opacity="0.13"/>
<circle cx="227.2" cy="393.5" r="5.0" fill="#c83a2c" fill-opacity="0.13"/>
<circle cx="228.4" cy="407.6" r="5.0" fill="#c83a2c" fill-opacity="0.13"/>
<circle cx="229.6" cy="425.2" r="5.0" fill="#c83a2c" fill-opacity="0.13"/>
<circle cx="230.8" cy="432.5" r="5.0" fill="#c83a2c" fill-opacity="0.13"/>
<circle cx="232.0" cy="435.8" r="5.0" fill="#c83a2c" fill-opacity="0.13"/>
<circle cx="233.2" cy="440.6" r="5.0" fill="#c83a2c" fill-opacity="0.13"/>
<circle cx="234.4" cy="453.0" r="5.0" fill="#c83a2c" fill-opacity="0.13"/>
<circle cx="235.6" cy="453.2" r="5.0" fill="#c83a2c" fill-opacity="0.13"/>
<circle cx="236.8" cy="442.0" r="5.0" fill="#c83a2c" fill-opacity="0.13"/>
<circle cx="238.0" cy="479.1" r="5.0" fill="#c83a2c" fill-opacity="0.13"/>
<circle cx="239.2" cy="464.2" r="5.0" fill="#c83a2c" fill-opacity="0.13"/>
<circle cx="240.4" cy="479.8" r="5.0" fill="#c83a2c" fill-opacity="0.13"/>
<circle cx="241.6" cy="473.0" r="5.0" fill="#c83a2c" fill-opacity="0.13"/>
<circle cx="242.8" cy="470.3" r="5.0" fill="#c83a2c" fill-opacity="0.13"/>
<circle cx="244.0" cy="482.6" r="5.0" fill="#c83a2c" fill-opacity="0.13"/>
<circle cx="245.2" cy="477.8" r="5.0" fill="#c83a2c" fill-opacity="0.13"/>
<circle cx="246.4" cy="504.2" r="5.0" fill="#c83a2c" fill-opacity="0.13"/>
<circle cx="247.6" cy="480.7" r="5.0" fill="#c83a2c" fill-opacity="0.13"/>
<circle cx="248.8" cy="500.3" r="5.0" fill="#c83a2c" fill-opacity="0.13"/>
<circle cx="250.0" cy="491.0" r="5.0" fill="#c83a2c" fill-opacity="0.13"/>
<circle cx="251.2" cy="497.8" r="5.0" fill="#c83a2c" fill-opacity="0.13"/>
<circle cx="252.4" cy="527.4" r="5.0" fill="#c83a2c" fill-opacity="0.13"/>
<circle cx="253.6" cy="511.8" r="5.0" fill="#c83a2c" fill-opacity="0.13"/>
<circle cx="254.8" cy="504.3" r="5.0" fill="#c83a2c" fill-opacity="0.13"/>
<circle cx="256.0" cy="493.3" r="5.0" fill="#c83a2c" fill-opacity="0.13"/>
<circle cx="257.2" cy="507.7" r="5.0" fill="#c83a2c" fill-opacity="0.13"/>
<circle cx="258.4" cy="509.8" r="5.0" fill="#c83a2c" fill-opacity="0.13"/>
<circle cx="259.6" cy="528.0" r="5.0" fill="#c83a2c" fill-opacity="0.13"/>
<circle cx="260.8" cy="501.7" r="5.0" fill="#c83a2c" fill-opacity="0.13"/>
<circle cx="262.0" cy="499.6" r="5.0" fill="#c83a2c" fill-opacity="0.13"/>
<circle cx="263.2" cy="518.5" r="5.0" fill="#c83a2c" fill-opacity="0.13"/>
<circle cx="264.4" cy="522.4" r="5.0" fill="#c83a2c" fill-opacity="0.13"/>
<circle cx="265.6" cy="537.4" r="5.0" fill="#c83a2c" fill-opacity="0.13"/>
<circle cx="266.8" cy="514.1" r="5.0" fill="#c83a2c" fill-opacity="0.13"/>
<circle cx="268.0" cy="497.5" r="5.0" fill="#c83a2c" fill-opacity="0.13"/>
<circle cx="269.2" cy="518.1" r="5.0" fill="#c83a2c" fill-opacity="0.13"/>
<circle cx="270.4" cy="513.8" r="5.0" fill="#c83a2c" fill-opacity="0.13"/>
<circle cx="271.6" cy="518.6" r="5.0" fill="#c83a2c" fill-opacity="0.13"/>
<circle cx="272.8" cy="534.6" r="5.0" fill="#c83a2c" fill-opacity="0.13"/>
<circle cx="274.0" cy="512.7" r="5.0" fill="#c83a2c" fill-opacity="0.13"/>
<circle cx="275.2" cy="538.8" r="5.0" fill="#c83a2c" fill-opacity="0.13"/>
<circle cx="276.4" cy="529.6" r="5.0" fill="#c83a2c" fill-opacity="0.13"/>
<circle cx="277.6" cy="525.6" r="5.0" fill="#c83a2c" fill-opacity="0.13"/>
<circle cx="278.8" cy="520.4" r="5.0" fill="#c83a2c" fill-opacity="0.13"/>
<circle cx="280.0" cy="525.6" r="5.0" fill="#c83a2c" fill-opacity="0.13"/>
<circle cx="281.2" cy="526.6" r="5.0" fill="#c83a2c" fill-opacity="0.13"/>
<circle cx="282.4" cy="538.5" r="5.0" fill="#c83a2c" fill-opacity="0.13"/>
<circle cx="283.6" cy="544.3" r="5.0" fill="#c83a2c" fill-opacity="0.13"/>
<circle cx="284.8" cy="531.6" r="5.0" fill="#c83a2c" fill-opacity="0.13"/>
<circle cx="286.0" cy="539.7" r="5.0" fill="#c83a2c" fill-opacity="0.13"/>
<circle cx="287.2" cy="546.0" r="5.0" fill="#c83a2c" fill-opacity="0.13"/>
<circle cx="288.4" cy="546.1" r="5.0" fill="#c83a2c" fill-opacity="0.13"/>
<circle cx="289.6" cy="538.9" r="5.0" fill="#c83a2c" fill-opacity="0.13"/>
<circle cx="290.8" cy="552.7" r="5.0" fill="#c83a2c" fill-opacity="0.13"/>
<circle cx="292.0" cy="548.2" r="5.0" fill="#c83a2c" fill-opacity="0.13"/>
<circle cx="293.2" cy="551.4" r="5.0" fill="#c83a2c" fill-opacity="0.13"/>
<circle cx="294.4" cy="533.9" r="5.0" fill="#c83a2c" fill-opacity="0.13"/>
<circle cx="295.6" cy="532.1" r="5.0" fill="#c83a2c" fill-opacity="0.13"/>
<circle cx="296.8" cy="516.7" r="5.0" fill="#c83a2c" fill-opacity="0.13"/>
<circle cx="298.0" cy="551.4" r="5.0" fill="#c83a2c" fill-opacity="0.13"/>
<circle cx="299.2" cy="543.7" r="5.0" fill="#c83a2c" fill-opacity="0.13"/>
<circle cx="300.4" cy="528.3" r="5.0" fill="#c83a2c" fill-opacity="0.13"/>
<circle cx="301.6" cy="539.7" r="5.0" fill="#c83a2c" fill-opacity="0.13"/>
<circle cx="302.8" cy="541.0" r="5.0" fill="#c83a2c" fill-opacity="0.13"/>
<circle cx="304.0" cy="521.3" r="5.0" fill="#c83a2c" fill-opacity="0.13"/>
<circle cx="305.2" cy="541.6" r="5.0" fill="#c83a2c" fill-opacity="0.13"/>
<circle cx="306.4" cy="549.8" r="5.0" fill="#c83a2c" fill-opacity="0.13"/>
<circle cx="307.6" cy="551.6" r="5.0" fill="#c83a2c" fill-opacity="0.13"/>
<circle cx="308.8" cy="535.6" r="5.0" fill="#c83a2c" fill-opacity="0.13"/>
<circle cx="310.0" cy="536.0" r="5.0" fill="#c83a2c" fill-opacity="0.13"/>
<circle cx="311.2" cy="552.7" r="5.0" fill="#c83a2c" fill-opacity="0.13"/>
<circle cx="312.4" cy="549.0" r="5.0" fill="#c83a2c" fill-opacity="0.13"/>
<circle cx="313.6" cy="534.3" r="5.0" fill="#c83a2c" fill-opacity="0.13"/>
<circle cx="314.8" cy="534.0" r="5.0" fill="#c83a2c" fill-opacity="0.13"/>
<circle cx="316.0" cy="546.1" r="5.0" fill="#c83a2c" fill-opacity="0.13"/>
<circle cx="317.2" cy="533.8" r="5.0" fill="#c83a2c" fill-opacity="0.13"/>
<circle cx="318.4" cy="534.4" r="5.0" fill="#c83a2c" fill-opacity="0.13"/>
<circle cx="319.6" cy="557.7" r="5.0" fill="#c83a2c" fill-opacity="0.13"/>
<circle cx="320.8" cy="543.3" r="5.0" fill="#c83a2c" fill-opacity="0.13"/>
<circle cx="322.0" cy="536.3" r="5.0" fill="#c83a2c" fill-opacity="0.13"/>
<circle cx="323.2" cy="546.1" r="5.0" fill="#c83a2c" fill-opacity="0.13"/>
<circle cx="324.4" cy="561.6" r="5.0" fill="#c83a2c" fill-opacity="0.13"/>
<circle cx="325.6" cy="543.5" r="5.0" fill="#c83a2c" fill-opacity="0.13"/>
<circle cx="326.8" cy="533.4" r="5.0" fill="#c83a2c" fill-opacity="0.13"/>
<circle cx="328.0" cy="525.3" r="5.0" fill="#c83a2c" fill-opacity="0.13"/>
<circle cx="329.2" cy="562.4" r="5.0" fill="#c83a2c" fill-opacity="0.13"/>
<circle cx="330.4" cy="515.4" r="5.0" fill="#c83a2c" fill-opacity="0.13"/>
<circle cx="331.6" cy="552.1" r="5.0" fill="#c83a2c" fill-opacity="0.13"/>
<circle cx="332.8" cy="531.7" r="5.0" fill="#c83a2c" fill-opacity="0.13"/>
<circle cx="334.0" cy="529.1" r="5.0" fill="#c83a2c" fill-opacity="0.13"/>
<circle cx="335.2" cy="531.6" r="5.0" fill="#c83a2c" fill-opacity="0.13"/>
<circle cx="336.4" cy="539.8" r="5.0" fill="#c83a2c" fill-opacity="0.13"/>
<circle cx="337.6" cy="552.7" r="5.0" fill="#c83a2c" fill-opacity="0.13"/>
<circle cx="338.8" cy="535.3" r="5.0" fill="#c83a2c" fill-opacity="0.13"/>
<circle cx="340.0" cy="548.5" r="5.0" fill="#c83a2c" fill-opacity="0.13"/>
<circle cx="341.2" cy="566.2" r="5.0" fill="#c83a2c" fill-opacity="0.13"/>
<circle cx="342.4" cy="513.8" r="5.0" fill="#c83a2c" fill-opacity="0.13"/>
<circle cx="343.6" cy="534.6" r="5.0" fill="#c83a2c" fill-opacity="0.13"/>
<circle cx="344.8" cy="523.8" r="5.0" fill="#c83a2c" fill-opacity="0.13"/>
<circle cx="346.0" cy="550.6" r="5.0" fill="#c83a2c" fill-opacity="0.13"/>
<circle cx="347.2" cy="527.3" r="5.0" fill="#c83a2c" fill-opacity="0.13"/>
<circle cx="348.4" cy="526.1" r="5.0" fill="#c83a2c" fill-opacity="0.13"/>
<circle cx="349.6" cy="526.5" r="5.0" fill="#c83a2c" fill-opacity="0.13"/>
<circle cx="350.8" cy="542.0" r="5.0" fill="#c83a2c" fill-opacity="0.13"/>
<circle cx="352.0" cy="553.6" r="5.0" fill="#c83a2c" fill-opacity="0.13"/>
<circle cx="353.2" cy="543.6" r="5.0" fill="#c83a2c" fill-opacity="0.13"/>
<circle cx="354.4" cy="563.5" r="5.0" fill="#c83a2c" fill-opacity="0.13"/>
<circle cx="355.6" cy="558.6" r="5.0" fill="#c83a2c" fill-opacity="0.13"/>
<circle cx="356.8" cy="541.0" r="5.0" fill="#c83a2c" fill-opacity="0.13"/>
<circle cx="358.0" cy="551.6" r="5.0" fill="#c83a2c" fill-opacity="0.13"/>
<circle cx="359.2" cy="543.5" r="5.0" fill="#c83a2c" fill-opacity="0.13"/>
<circle cx="360.4" cy="543.0" r="5.0" fill="#c83a2c" fill-opacity="0.13"/>
<circle cx="361.6" cy="523.0" r="5.0" fill="#c83a2c" fill-opacity="0.13"/>
<circle cx="362.8" cy="529.3" r="5.0" fill="#c83a2c" fill-opacity="0.13"/>
<circle cx="364.0" cy="542.4" r="5.0" fill="#c83a2c" fill-opacity="0.13"/>
<circle cx="365.2" cy="530.2" r="5.0" fill="#c83a2c" fill-opacity="0.13"/>
<circle cx="366.4" cy="549.7" r="5.0" fill="#c83a2c" fill-opacity="0.13"/>
<circle cx="367.6" cy="545.4" r="5.0" fill="#c83a2c" fill-opacity="0.13"/>
<circle cx="368.8" cy="533.1" r="5.0" fill="#c83a2c" fill-opacity="0.13"/>
<circle cx="370.0" cy="554.3" r="5.0" fill="#c83a2c" fill-opacity="0.13"/>
<circle cx="371.2" cy="544.8" r="5.0" fill="#c83a2c" fill-opacity="0.13"/>
<circle cx="372.4" cy="555.1" r="5.0" fill="#c83a2c" fill-opacity="0.13"/>
<circle cx="373.6" cy="541.0" r="5.0" fill="#c83a2c" fill-opacity="0.13"/>
<circle cx="374.8" cy="526.1" r="5.0" fill="#c83a2c" fill-opacity="0.13"/>
<circle cx="376.0" cy="549.5" r="5.0" fill="#c83a2c" fill-opacity="0.13"/>
<circle cx="377.2" cy="539.9" r="5.0" fill="#c83a2c" fill-opacity="0.13"/>
<circle cx="378.4" cy="550.9" r="5.0" fill="#c83a2c" fill-opacity="0.13"/>
<circle cx="379.6" cy="553.4" r="5.0" fill="#c83a2c" fill-opacity="0.13"/>
<circle cx="380.8" cy="554.3" r="5.0" fill="#c83a2c" fill-opacity="0.13"/>
<circle cx="382.0" cy="527.9" r="5.0" fill="#c83a2c" fill-opacity="0.13"/>
<circle cx="383.2" cy="519.0" r="5.0" fill="#c83a2c" fill-opacity="0.13"/>
<circle cx="384.4" cy="537.4" r="5.0" fill="#c83a2c" fill-opacity="0.13"/>
<circle cx="385.6" cy="549.2" r="5.0" fill="#c83a2c" fill-opacity="0.13"/>
<circle cx="386.8" cy="535.3" r="5.0" fill="#c83a2c" fill-opacity="0.13"/>
<circle cx="388.0" cy="545.5" r="5.0" fill="#c83a2c" fill-opacity="0.13"/>
<circle cx="389.2" cy="534.3" r="5.0" fill="#c83a2c" fill-opacity="0.13"/>
<circle cx="390.4" cy="539.3" r="5.0" fill="#c83a2c" fill-opacity="0.13"/>
<circle cx="391.6" cy="539.5" r="5.0" fill="#c83a2c" fill-opacity="0.13"/>
<circle cx="392.8" cy="536.3" r="5.0" fill="#c83a2c" fill-opacity="0.13"/>
<circle cx="394.0" cy="547.9" r="5.0" fill="#c83a2c" fill-opacity="0.13"/>
<circle cx="395.2" cy="546.2" r="5.0" fill="#c83a2c" fill-opacity="0.13"/>
<circle cx="396.4" cy="559.1" r="5.0" fill="#c83a2c" fill-opacity="0.13"/>
<circle cx="397.6" cy="546.6" r="5.0" fill="#c83a2c" fill-opacity="0.13"/>
<circle cx="398.8" cy="556.2" r="5.0" fill="#c83a2c" fill-opacity="0.13"/>
<circle cx="400.0" cy="543.7" r="5.0" fill="#c83a2c" fill-opacity="0.13"/>
<circle cx="401.2" cy="551.6" r="5.0" fill="#c83a2c" fill-opacity="0.13"/>
<circle cx="402.4" cy="541.2" r="5.0" fill="#c83a2c" fill-opacity="0.13"/>
<circle cx="403.6" cy="537.8" r="5.0" fill="#c83a2c" fill-opacity="0.13"/>
<circle cx="404.8" cy="556.2" r="5.0" fill="#c83a2c" fill-opacity="0.13"/>
<circle cx="406.0" cy="550.2" r="5.0" fill="#c83a2c" fill-opacity="0.13"/>
<circle cx="407.2" cy="551.5" r="5.0" fill="#c83a2c" fill-opacity="0.13"/>
<circle cx="408.4" cy="534.9" r="5.0" fill="#c83a2c" fill-opacity="0.13"/>
<circle cx="409.6" cy="525.5" r="5.0" fill="#c83a2c" fill-opacity="0.13"/>
<circle cx="410.8" cy="533.9" r="5.0" fill="#c83a2c" fill-opacity="0.13"/>
<circle cx="412.0" cy="545.7" r="5.0" fill="#c83a2c" fill-opacity="0.13"/>
<circle cx="413.2" cy="527.9" r="5.0" fill="#c83a2c" fill-opacity="0.13"/>
<circle cx="414.4" cy="557.1" r="5.0" fill="#c83a2c" fill-opacity="0.13"/>
<circle cx="415.6" cy="527.6" r="5.0" fill="#c83a2c" fill-opacity="0.13"/>
<circle cx="416.8" cy="548.7" r="5.0" fill="#c83a2c" fill-opacity="0.13"/>
<circle cx="418.0" cy="569.5" r="5.0" fill="#c83a2c" fill-opacity="0.13"/>
<circle cx="419.2" cy="516.3" r="5.0" fill="#c83a2c" fill-opacity="0.13"/>
<circle cx="420.4" cy="526.8" r="5.0" fill="#c83a2c" fill-opacity="0.13"/>
<circle cx="421.6" cy="552.4" r="5.0" fill="#c83a2c" fill-opacity="0.13"/>
<circle cx="422.8" cy="540.6" r="5.0" fill="#c83a2c" fill-opacity="0.13"/>
<circle cx="424.0" cy="544.4" r="5.0" fill="#c83a2c" fill-opacity="0.13"/>
<circle cx="425.2" cy="541.3" r="5.0" fill="#c83a2c" fill-opacity="0.13"/>
<circle cx="426.4" cy="556.8" r="5.0" fill="#c83a2c" fill-opacity="0.13"/>
<circle cx="427.6" cy="549.0" r="5.0" fill="#c83a2c" fill-opacity="0.13"/>
<circle cx="428.8" cy="537.7" r="5.0" fill="#c83a2c" fill-opacity="0.13"/>
<circle cx="430.0" cy="540.1" r="5.0" fill="#c83a2c" fill-opacity="0.13"/>
<circle cx="431.2" cy="530.5" r="5.0" fill="#c83a2c" fill-opacity="0.13"/>
<circle cx="432.4" cy="541.5" r="5.0" fill="#c83a2c" fill-opacity="0.13"/>
<circle cx="433.6" cy="519.2" r="5.0" fill="#c83a2c" fill-opacity="0.13"/>
<circle cx="434.8" cy="549.3" r="5.0" fill="#c83a2c" fill-opacity="0.13"/>
<circle cx="436.0" cy="539.7" r="5.0" fill="#c83a2c" fill-opacity="0.13"/>
<circle cx="437.2" cy="561.1" r="5.0" fill="#c83a2c" fill-opacity="0.13"/>
<circle cx="438.4" cy="554.6" r="5.0" fill="#c83a2c" fill-opacity="0.13"/>
<circle cx="439.6" cy="529.2" r="5.0" fill="#c83a2c" fill-opacity="0.13"/>
<circle cx="440.8" cy="551.5" r="5.0" fill="#c83a2c" fill-opacity="0.13"/>
<circle cx="442.0" cy="537.1" r="5.0" fill="#c83a2c" fill-opacity="0.13"/>
<circle cx="443.2" cy="542.9" r="5.0" fill="#c83a2c" fill-opacity="0.13"/>
<circle cx="444.4" cy="552.5" r="5.0" fill="#c83a2c" fill-opacity="0.13"/>
<circle cx="445.6" cy="545.7" r="5.0" fill="#c83a2c" fill-opacity="0.13"/>
<circle cx="446.8" cy="547.3" r="5.0" fill="#c83a2c" fill-opacity="0.13"/>
<circle cx="448.0" cy="547.1" r="5.0" fill="#c83a2c" fill-opacity="0.13"/>
<circle cx="449.2" cy="534.9" r="5.0" fill="#c83a2c" fill-opacity="0.13"/>
<circle cx="450.4" cy="535.9" r="5.0" fill="#c83a2c" fill-opacity="0.13"/>
<circle cx="451.6" cy="547.9" r="5.0" fill="#c83a2c" fill-opacity="0.13"/>
<circle cx="452.8" cy="551.2" r="5.0" fill="#c83a2c" fill-opacity="0.13"/>
<circle cx="454.0" cy="539.5" r="5.0" fill="#c83a2c" fill-opacity="0.13"/>
<circle cx="455.2" cy="543.3" r="5.0" fill="#c83a2c" fill-opacity="0.13"/>
<circle cx="456.4" cy="532.2" r="5.0" fill="#c83a2c" fill-opacity="0.13"/>
<circle cx="457.6" cy="516.2" r="5.0" fill="#c83a2c" fill-opacity="0.13"/>
<circle cx="458.8" cy="534.0" r="5.0" fill="#c83a2c" fill-opacity="0.13"/>
<circle cx="460.0" cy="542.6" r="5.0" fill="#c83a2c" fill-opacity="0.13"/>
<circle cx="461.2" cy="544.0" r="5.0" fill="#c83a2c" fill-opacity="0.13"/>
<path d="M103.00,345.00 L223.00,345.00 L223.00,362.66 L458.80,362.66" stroke="#000" stroke-width="4.4" fill="none" stroke-linecap="round" stroke-linejoin="miter"/>
<path d="M103.00,204.83 L103.59,204.83 L104.19,204.83 L104.78,204.83 L105.38,204.83 L105.97,204.83 L106.56,204.83 L107.16,204.83 L107.75,204.83 L108.35,204.83 L108.94,204.83 L109.53,204.83 L110.13,204.83 L110.72,204.83 L111.32,204.83 L111.91,204.83 L112.50,204.83 L113.10,204.83 L113.69,204.83 L114.29,204.83 L114.88,204.83 L115.47,204.83 L116.07,204.83 L116.66,204.83 L117.26,204.83 L117.85,204.83 L118.44,204.83 L119.04,204.83 L119.63,204.83 L120.23,204.83 L120.82,204.83 L121.41,204.83 L122.01,204.83 L122.60,204.83 L123.20,204.83 L123.79,204.83 L124.38,204.83 L124.98,204.83 L125.57,204.83 L126.17,204.83 L126.76,204.83 L127.35,204.83 L127.95,204.83 L128.54,204.83 L129.14,204.83 L129.73,204.83 L130.32,204.83 L130.92,204.83 L131.51,204.83 L132.11,204.83 L132.70,204.83 L133.29,204.83 L133.89,204.83 L134.48,204.83 L135.08,204.83 L135.67,204.83 L136.26,204.83 L136.86,204.83 L137.45,204.83 L138.05,204.83 L138.64,204.83 L139.23,204.83 L139.83,204.83 L140.42,204.83 L141.02,204.83 L141.61,204.83 L142.20,204.83 L142.80,204.83 L143.39,204.83 L143.99,204.83 L144.58,204.83 L145.17,204.83 L145.77,204.83 L146.36,204.83 L146.96,204.83 L147.55,204.83 L148.14,204.83 L148.74,204.83 L149.33,204.83 L149.93,204.83 L150.52,204.83 L151.11,204.83 L151.71,204.83 L152.30,204.83 L152.90,204.83 L153.49,204.83 L154.08,204.83 L154.68,204.83 L155.27,204.83 L155.87,204.83 L156.46,204.83 L157.05,204.83 L157.65,204.83 L158.24,204.83 L158.84,204.83 L159.43,204.83 L160.02,204.83 L160.62,204.83 L161.21,204.83 L161.81,204.83 L162.40,204.83 L162.99,204.83 L163.59,204.83 L164.18,204.83 L164.77,204.83 L165.37,204.83 L165.96,204.83 L166.56,204.83 L167.15,204.83 L167.74,204.83 L168.34,204.83 L168.93,204.83 L169.53,204.83 L170.12,204.83 L170.71,204.83 L171.31,204.83 L171.90,204.83 L172.50,204.83 L173.09,204.83 L173.68,204.83 L174.28,204.83 L174.87,204.83 L175.47,204.83 L176.06,204.83 L176.65,204.83 L177.25,204.83 L177.84,204.83 L178.44,204.83 L179.03,204.83 L179.62,204.83 L180.22,204.83 L180.81,204.83 L181.41,204.83 L182.00,204.83 L182.59,204.83 L183.19,204.83 L183.78,204.83 L184.38,204.83 L184.97,204.83 L185.56,204.83 L186.16,204.83 L186.75,204.83 L187.35,204.83 L187.94,204.83 L188.53,204.83 L189.13,204.83 L189.72,204.83 L190.32,204.83 L190.91,204.83 L191.50,204.83 L192.10,204.83 L192.69,204.83 L193.29,204.83 L193.88,204.83 L194.47,204.83 L195.07,204.83 L195.66,204.83 L196.26,204.83 L196.85,204.83 L197.44,204.83 L198.04,204.83 L198.63,204.83 L199.23,204.83 L199.82,204.83 L200.41,204.83 L201.01,204.83 L201.60,204.83 L202.20,204.83 L202.79,204.83 L203.38,204.83 L203.98,204.83 L204.57,204.83 L205.17,204.83 L205.76,204.83 L206.35,204.83 L206.95,204.83 L207.54,204.83 L208.14,204.83 L208.73,204.83 L209.32,204.83 L209.92,204.83 L210.51,204.83 L211.11,204.83 L211.70,204.83 L212.29,204.83 L212.89,204.83 L213.48,204.83 L214.08,204.83 L214.67,204.83 L215.26,204.83 L215.86,204.83 L216.45,202.96 L217.05,186.07 L217.64,175.26 L218.23,168.33 L218.83,163.90 L219.42,161.06 L220.02,159.24 L220.61,158.07 L221.20,157.32 L221.80,156.85 L222.39,156.54 L222.99,156.34 L223.58,156.22 L224.17,156.14 L224.77,156.09 L225.36,156.05 L225.96,156.03 L226.55,156.02 L227.14,156.01 L227.74,156.00 L228.33,156.00 L228.93,156.00 L229.52,156.00 L230.11,156.00 L230.71,156.00 L231.30,155.99 L231.90,155.99 L232.49,155.99 L233.08,155.99 L233.68,155.99 L234.27,155.99 L234.87,155.99 L235.46,155.99 L236.05,155.99 L236.65,155.99 L237.24,155.99 L237.84,155.99 L238.43,155.99 L239.02,155.99 L239.62,155.99 L240.21,155.99 L240.81,155.99 L241.40,155.99 L241.99,155.99 L242.59,155.99 L243.18,155.99 L243.78,155.99 L244.37,155.99 L244.96,155.99 L245.56,155.99 L246.15,155.99 L246.75,155.99 L247.34,155.99 L247.93,155.99 L248.53,155.99 L249.12,155.99 L249.72,155.99 L250.31,155.99 L250.90,155.99 L251.50,155.99 L252.09,155.99 L252.69,155.99 L253.28,155.99 L253.87,155.99 L254.47,155.99 L255.06,155.99 L255.66,155.99 L256.25,155.99 L256.84,155.99 L257.44,155.99 L258.03,155.99 L258.63,155.99 L259.22,155.99 L259.81,155.99 L260.41,155.99 L261.00,155.99 L261.60,155.99 L262.19,155.99 L262.78,155.99 L263.38,155.99 L263.97,155.99 L264.57,155.99 L265.16,155.99 L265.75,155.99 L266.35,155.99 L266.94,155.99 L267.54,155.99 L268.13,155.99 L268.72,155.99 L269.32,155.99 L269.91,155.99 L270.51,155.99 L271.10,155.99 L271.69,155.99 L272.29,155.99 L272.88,155.99 L273.48,155.99 L274.07,155.99 L274.66,155.99 L275.26,155.99 L275.85,155.99 L276.45,155.99 L277.04,155.99 L277.63,155.99 L278.23,155.99 L278.82,155.99 L279.42,155.99 L280.01,155.99 L280.60,155.99 L281.20,155.99 L281.79,155.99 L282.38,155.99 L282.98,155.99 L283.57,155.99 L284.17,155.99 L284.76,155.99 L285.35,155.99 L285.95,155.99 L286.54,155.99 L287.14,155.99 L287.73,155.99 L288.32,155.99 L288.92,155.99 L289.51,155.99 L290.11,155.99 L290.70,155.99 L291.29,155.99 L291.89,155.99 L292.48,155.99 L293.08,155.99 L293.67,155.99 L294.26,155.99 L294.86,155.99 L295.45,155.99 L296.05,155.99 L296.64,155.99 L297.23,155.99 L297.83,155.99 L298.42,155.99 L299.02,155.99 L299.61,155.99 L300.20,155.99 L300.80,155.99 L301.39,155.99 L301.99,155.99 L302.58,155.99 L303.17,155.99 L303.77,155.99 L304.36,155.99 L304.96,155.99 L305.55,155.99 L306.14,155.99 L306.74,155.99 L307.33,155.99 L307.93,155.99 L308.52,155.99 L309.11,155.99 L309.71,155.99 L310.30,155.99 L310.90,155.99 L311.49,155.99 L312.08,155.99 L312.68,155.99 L313.27,155.99 L313.87,155.99 L314.46,155.99 L315.05,155.99 L315.65,155.99 L316.24,155.99 L316.84,155.99 L317.43,155.99 L318.02,155.99 L318.62,155.99 L319.21,155.99 L319.81,155.99 L320.40,155.99 L320.99,155.99 L321.59,155.99 L322.18,155.99 L322.78,155.99 L323.37,155.99 L323.96,155.99 L324.56,155.99 L325.15,155.99 L325.75,155.99 L326.34,155.99 L326.93,155.99 L327.53,155.99 L328.12,155.99 L328.72,155.99 L329.31,155.99 L329.90,155.99 L330.50,155.99 L331.09,155.99 L331.69,155.99 L332.28,155.99 L332.87,155.99 L333.47,155.99 L334.06,155.99 L334.66,155.99 L335.25,155.99 L335.84,155.99 L336.44,155.99 L337.03,155.99 L337.63,155.99 L338.22,155.99 L338.81,155.99 L339.41,155.99 L340.00,155.99 L340.60,155.99 L341.19,155.99 L341.78,155.99 L342.38,155.99 L342.97,155.99 L343.57,155.99 L344.16,155.99 L344.75,155.99 L345.35,155.99 L345.94,155.99 L346.54,155.99 L347.13,155.99 L347.72,155.99 L348.32,155.99 L348.91,155.99 L349.51,155.99 L350.10,155.99 L350.69,155.99 L351.29,155.99 L351.88,155.99 L352.48,155.99 L353.07,155.99 L353.66,155.99 L354.26,155.99 L354.85,155.99 L355.45,155.99 L356.04,155.99 L356.63,155.99 L357.23,155.99 L357.82,155.99 L358.42,155.99 L359.01,155.99 L359.60,155.99 L360.20,155.99 L360.79,155.99 L361.39,155.99 L361.98,155.99 L362.57,155.99 L363.17,155.99 L363.76,155.99 L364.36,155.99 L364.95,155.99 L365.54,155.99 L366.14,155.99 L366.73,155.99 L367.33,155.99 L367.92,155.99 L368.51,155.99 L369.11,155.99 L369.70,155.99 L370.30,155.99 L370.89,155.99 L371.48,155.99 L372.08,155.99 L372.67,155.99 L373.27,155.99 L373.86,155.99 L374.45,155.99 L375.05,155.99 L375.64,155.99 L376.24,155.99 L376.83,155.99 L377.42,155.99 L378.02,155.99 L378.61,155.99 L379.21,155.99 L379.80,155.99 L380.39,155.99 L380.99,155.99 L381.58,155.99 L382.18,155.99 L382.77,155.99 L383.36,155.99 L383.96,155.99 L384.55,155.99 L385.15,155.99 L385.74,155.99 L386.33,155.99 L386.93,155.99 L387.52,155.99 L388.12,155.99 L388.71,155.99 L389.30,155.99 L389.90,155.99 L390.49,155.99 L391.09,155.99 L391.68,155.99 L392.27,155.99 L392.87,155.99 L393.46,155.99 L394.06,155.99 L394.65,155.99 L395.24,155.99 L395.84,155.99 L396.43,155.99 L397.03,155.99 L397.62,155.99 L398.21,155.99 L398.81,155.99 L399.40,155.99 L399.99,155.99 L400.59,155.99 L401.18,155.99 L401.78,155.99 L402.37,155.99 L402.96,155.99 L403.56,155.99 L404.15,155.99 L404.75,155.99 L405.34,155.99 L405.93,155.99 L406.53,155.99 L407.12,155.99 L407.72,155.99 L408.31,155.99 L408.90,155.99 L409.50,155.99 L410.09,155.99 L410.69,155.99 L411.28,155.99 L411.87,155.99 L412.47,155.99 L413.06,155.99 L413.66,155.99 L414.25,155.99 L414.84,155.99 L415.44,155.99 L416.03,155.99 L416.63,155.99 L417.22,155.99 L417.81,155.99 L418.41,155.99 L419.00,155.99 L419.60,155.99 L420.19,155.99 L420.78,155.99 L421.38,155.99 L421.97,155.99 L422.57,155.99 L423.16,155.99 L423.75,155.99 L424.35,155.99 L424.94,155.99 L425.54,155.99 L426.13,155.99 L426.72,155.99 L427.32,155.99 L427.91,155.99 L428.51,155.99 L429.10,155.99 L429.69,155.99 L430.29,155.99 L430.88,155.99 L431.48,155.99 L432.07,155.99 L432.66,155.99 L433.26,155.99 L433.85,155.99 L434.45,155.99 L435.04,155.99 L435.63,155.99 L436.23,155.99 L436.82,155.99 L437.42,155.99 L438.01,155.99 L438.60,155.99 L439.20,155.99 L439.79,155.99 L440.39,155.99 L440.98,155.99 L441.57,155.99 L442.17,155.99 L442.76,155.99 L443.36,155.99 L443.95,155.99 L444.54,155.99 L445.14,155.99 L445.73,155.99 L446.33,155.99 L446.92,155.99 L447.51,155.99 L448.11,155.99 L448.70,155.99 L449.30,155.99 L449.89,155.99 L450.48,155.99 L451.08,155.99 L451.67,155.99 L452.27,155.99 L452.86,155.99 L453.45,155.99 L454.05,155.99 L454.64,155.99 L455.24,155.99 L455.83,155.99 L456.42,155.99 L457.02,155.99 L457.61,155.99 L458.21,155.99 L458.80,155.99" stroke="#000" stroke-width="4.4" fill="none" stroke-dasharray="14.5 9.5" stroke-dashoffset="-1.3" stroke-linecap="round"/>
<path d="M103.00,236.00 L103.59,236.00 L104.19,236.00 L104.78,236.00 L105.38,236.00 L105.97,236.00 L106.56,236.00 L107.16,236.00 L107.75,236.00 L108.35,236.00 L108.94,236.00 L109.53,236.00 L110.13,236.00 L110.72,236.00 L111.32,236.00 L111.91,236.00 L112.50,236.00 L113.10,236.00 L113.69,236.00 L114.29,236.00 L114.88,236.00 L115.47,236.00 L116.07,236.00 L116.66,236.00 L117.26,236.00 L117.85,236.00 L118.44,236.00 L119.04,236.00 L119.63,236.00 L120.23,236.00 L120.82,236.00 L121.41,236.00 L122.01,236.00 L122.60,236.00 L123.20,236.00 L123.79,236.00 L124.38,236.00 L124.98,236.00 L125.57,236.00 L126.17,236.00 L126.76,236.00 L127.35,236.00 L127.95,236.00 L128.54,236.00 L129.14,236.00 L129.73,236.00 L130.32,236.00 L130.92,236.00 L131.51,236.00 L132.11,236.00 L132.70,236.00 L133.29,236.00 L133.89,236.00 L134.48,236.00 L135.08,236.00 L135.67,236.00 L136.26,236.00 L136.86,236.00 L137.45,236.00 L138.05,236.00 L138.64,236.00 L139.23,236.00 L139.83,236.00 L140.42,236.00 L141.02,236.00 L141.61,236.00 L142.20,236.00 L142.80,236.00 L143.39,236.00 L143.99,236.00 L144.58,236.00 L145.17,236.00 L145.77,236.00 L146.36,236.00 L146.96,236.00 L147.55,236.00 L148.14,236.00 L148.74,236.00 L149.33,236.00 L149.93,236.00 L150.52,236.00 L151.11,236.00 L151.71,236.00 L152.30,236.00 L152.90,236.00 L153.49,236.00 L154.08,236.00 L154.68,236.00 L155.27,236.00 L155.87,236.00 L156.46,236.00 L157.05,236.00 L157.65,236.00 L158.24,236.00 L158.84,236.00 L159.43,236.00 L160.02,236.00 L160.62,236.00 L161.21,236.00 L161.81,236.00 L162.40,236.00 L162.99,236.00 L163.59,236.00 L164.18,236.00 L164.77,236.00 L165.37,236.00 L165.96,236.00 L166.56,236.00 L167.15,236.00 L167.74,236.00 L168.34,236.00 L168.93,236.00 L169.53,236.00 L170.12,236.00 L170.71,236.00 L171.31,236.00 L171.90,236.00 L172.50,236.00 L173.09,236.00 L173.68,236.00 L174.28,236.00 L174.87,236.00 L175.47,236.00 L176.06,236.00 L176.65,236.00 L177.25,236.00 L177.84,236.00 L178.44,236.00 L179.03,236.00 L179.62,236.00 L180.22,236.00 L180.81,236.00 L181.41,236.00 L182.00,236.00 L182.59,236.00 L183.19,236.00 L183.78,236.00 L184.38,236.00 L184.97,236.00 L185.56,236.00 L186.16,236.00 L186.75,236.00 L187.35,236.00 L187.94,236.00 L188.53,236.00 L189.13,236.00 L189.72,236.00 L190.32,236.00 L190.91,236.00 L191.50,236.00 L192.10,236.00 L192.69,236.00 L193.29,236.00 L193.88,236.00 L194.47,236.00 L195.07,236.00 L195.66,236.00 L196.26,236.00 L196.85,236.00 L197.44,236.00 L198.04,236.00 L198.63,236.00 L199.23,236.00 L199.82,236.00 L200.41,236.00 L201.01,236.00 L201.60,236.00 L202.20,236.00 L202.79,236.00 L203.38,236.00 L203.98,236.00 L204.57,236.00 L205.17,236.00 L205.76,236.00 L206.35,236.00 L206.95,236.00 L207.54,236.00 L208.14,236.00 L208.73,236.00 L209.32,236.00 L209.92,236.00 L210.51,236.00 L211.11,236.00 L211.70,236.00 L212.29,236.00 L212.89,236.00 L213.48,236.00 L214.08,236.00 L214.67,236.00 L215.26,236.00 L215.86,236.00 L216.45,236.00 L217.05,236.00 L217.64,236.00 L218.23,236.00 L218.83,236.00 L219.42,236.00 L220.02,236.00 L220.61,236.00 L221.20,236.00 L221.80,236.00 L222.39,236.00 L222.99,236.00 L223.58,236.00 L224.17,236.00 L224.77,236.00 L225.36,236.00 L225.96,236.00 L226.55,237.66 L227.14,239.43 L227.74,241.19 L228.33,242.93 L228.93,244.65 L229.52,246.36 L230.11,248.06 L230.71,249.74 L231.30,251.40 L231.90,253.05 L232.49,254.68 L233.08,256.30 L233.68,257.90 L234.27,259.49 L234.87,261.06 L235.46,262.62 L236.05,264.17 L236.65,265.70 L237.24,267.22 L237.84,268.72 L238.43,270.21 L239.02,271.69 L239.62,273.15 L240.21,274.60 L240.81,276.04 L241.40,277.46 L241.99,278.87 L242.59,280.27 L243.18,281.66 L243.78,283.03 L244.37,284.39 L244.96,285.74 L245.56,287.07 L246.15,288.39 L246.75,289.70 L247.34,291.00 L247.93,292.29 L248.53,293.57 L249.12,294.83 L249.72,296.08 L250.31,297.32 L250.90,298.55 L251.50,299.77 L252.09,300.98 L252.69,302.17 L253.28,303.36 L253.87,304.53 L254.47,305.70 L255.06,306.85 L255.66,307.99 L256.25,309.13 L256.84,310.25 L257.44,311.36 L258.03,312.46 L258.63,313.55 L259.22,314.63 L259.81,315.71 L260.41,316.77 L261.00,317.82 L261.60,318.86 L262.19,319.90 L262.78,320.92 L263.38,321.93 L263.97,322.94 L264.57,323.93 L265.16,324.92 L265.75,325.90 L266.35,326.87 L266.94,327.83 L267.54,328.78 L268.13,329.72 L268.72,330.66 L269.32,331.58 L269.91,332.50 L270.51,333.41 L271.10,334.31 L271.69,335.20 L272.29,336.09 L272.88,336.96 L273.48,337.83 L274.07,338.69 L274.66,339.54 L275.26,340.39 L275.85,341.22 L276.45,342.05 L277.04,342.87 L277.63,343.69 L278.23,344.50 L278.82,345.30 L279.42,346.09 L280.01,346.87 L280.60,347.65 L281.20,348.42 L281.79,349.18 L282.38,349.94 L282.98,350.69 L283.57,351.43 L284.17,352.17 L284.76,352.90 L285.35,353.62 L285.95,354.34 L286.54,355.05 L287.14,355.75 L287.73,356.45 L288.32,357.14 L288.92,357.82 L289.51,358.50 L290.11,359.17 L290.70,359.84 L291.29,360.50 L291.89,361.15 L292.48,361.80 L293.08,362.44 L293.67,363.08 L294.26,363.71 L294.86,364.33 L295.45,364.95 L296.05,365.56 L296.64,366.17 L297.23,366.77 L297.83,367.37 L298.42,367.96 L299.02,368.55 L299.61,369.13 L300.20,369.70 L300.80,370.27 L301.39,370.84 L301.99,371.39 L302.58,371.95 L303.17,372.50 L303.77,373.04 L304.36,373.58 L304.96,374.12 L305.55,374.65 L306.14,375.17 L306.74,375.69 L307.33,376.21 L307.93,376.72 L308.52,377.22 L309.11,377.72 L309.71,378.22 L310.30,378.71 L310.90,379.20 L311.49,379.68 L312.08,380.16 L312.68,380.64 L313.27,381.11 L313.87,381.57 L314.46,382.03 L315.05,382.49 L315.65,382.94 L316.24,383.39 L316.84,383.84 L317.43,384.28 L318.02,384.71 L318.62,385.15 L319.21,385.58 L319.81,386.00 L320.40,386.42 L320.99,386.84 L321.59,387.25 L322.18,387.66 L322.78,388.07 L323.37,388.47 L323.96,388.87 L324.56,389.26 L325.15,389.66 L325.75,390.04 L326.34,390.43 L326.93,390.81 L327.53,391.19 L328.12,391.56 L328.72,391.93 L329.31,392.30 L329.90,392.66 L330.50,393.02 L331.09,393.38 L331.69,393.73 L332.28,394.08 L332.87,394.43 L333.47,394.78 L334.06,395.12 L334.66,395.45 L335.25,395.79 L335.84,396.12 L336.44,396.45 L337.03,396.78 L337.63,397.10 L338.22,397.42 L338.81,397.74 L339.41,398.05 L340.00,398.36 L340.60,398.67 L341.19,398.98 L341.78,399.28 L342.38,399.58 L342.97,399.88 L343.57,400.17 L344.16,400.46 L344.75,400.75 L345.35,401.04 L345.94,401.32 L346.54,401.60 L347.13,401.88 L347.72,402.16 L348.32,402.43 L348.91,402.70 L349.51,402.97 L350.10,403.24 L350.69,403.50 L351.29,403.77 L351.88,404.02 L352.48,404.28 L353.07,404.54 L353.66,404.79 L354.26,405.04 L354.85,405.29 L355.45,405.53 L356.04,405.77 L356.63,406.01 L357.23,406.25 L357.82,406.49 L358.42,406.72 L359.01,406.96 L359.60,407.19 L360.20,407.41 L360.79,407.64 L361.39,407.86 L361.98,408.09 L362.57,408.31 L363.17,408.52 L363.76,408.74 L364.36,408.95 L364.95,409.17 L365.54,409.38 L366.14,409.58 L366.73,409.79 L367.33,409.99 L367.92,410.20 L368.51,410.40 L369.11,410.60 L369.70,410.79 L370.30,410.99 L370.89,411.18 L371.48,411.37 L372.08,411.56 L372.67,411.75 L373.27,411.94 L373.86,412.12 L374.45,412.30 L375.05,412.49 L375.64,412.67 L376.24,412.84 L376.83,413.02 L377.42,413.20 L378.02,413.37 L378.61,413.54 L379.21,413.71 L379.80,413.88 L380.39,414.05 L380.99,414.21 L381.58,414.38 L382.18,414.54 L382.77,414.70 L383.36,414.86 L383.96,415.02 L384.55,415.17 L385.15,415.33 L385.74,415.48 L386.33,415.63 L386.93,415.79 L387.52,415.93 L388.12,416.08 L388.71,416.23 L389.30,416.38 L389.90,416.52 L390.49,416.66 L391.09,416.80 L391.68,416.94 L392.27,417.08 L392.87,417.22 L393.46,417.36 L394.06,417.49 L394.65,417.63 L395.24,417.76 L395.84,417.89 L396.43,418.02 L397.03,418.15 L397.62,418.28 L398.21,418.41 L398.81,418.53 L399.40,418.66 L399.99,418.78 L400.59,418.90 L401.18,419.02 L401.78,419.14 L402.37,419.26 L402.96,419.38 L403.56,419.50 L404.15,419.61 L404.75,419.73 L405.34,419.84 L405.93,419.95 L406.53,420.07 L407.12,420.18 L407.72,420.29 L408.31,420.40 L408.90,420.50 L409.50,420.61 L410.09,420.72 L410.69,420.82 L411.28,420.92 L411.87,421.03 L412.47,421.13 L413.06,421.23 L413.66,421.33 L414.25,421.43 L414.84,421.53 L415.44,421.62 L416.03,421.72 L416.63,421.82 L417.22,421.91 L417.81,422.00 L418.41,422.10 L419.00,422.19 L419.60,422.28 L420.19,422.37 L420.78,422.46 L421.38,422.55 L421.97,422.64 L422.57,422.72 L423.16,422.81 L423.75,422.90 L424.35,422.98 L424.94,423.07 L425.54,423.15 L426.13,423.23 L426.72,423.31 L427.32,423.39 L427.91,423.47 L428.51,423.55 L429.10,423.63 L429.69,423.71 L430.29,423.79 L430.88,423.86 L431.48,423.94 L432.07,424.02 L432.66,424.09 L433.26,424.16 L433.85,424.24 L434.45,424.31 L435.04,424.38 L435.63,424.45 L436.23,424.52 L436.82,424.59 L437.42,424.66 L438.01,424.73 L438.60,424.80 L439.20,424.87 L439.79,424.93 L440.39,425.00 L440.98,425.07 L441.57,425.13 L442.17,425.20 L442.76,425.26 L443.36,425.32 L443.95,425.39 L444.54,425.45 L445.14,425.51 L445.73,425.57 L446.33,425.63 L446.92,425.69 L447.51,425.75 L448.11,425.81 L448.70,425.87 L449.30,425.92 L449.89,425.98 L450.48,426.04 L451.08,426.09 L451.67,426.15 L452.27,426.21 L452.86,426.26 L453.45,426.31 L454.05,426.37 L454.64,426.42 L455.24,426.47 L455.83,426.53 L456.42,426.58 L457.02,426.63 L457.61,426.68 L458.21,426.73 L458.80,426.78" stroke="#ff2a14" stroke-width="4.6" fill="none" stroke-dasharray="14.5 9.5" stroke-linecap="round"/>
<path d="M103.00,345.00 L103.59,345.00 L104.19,345.00 L104.78,345.00 L105.38,345.00 L105.97,345.00 L106.56,345.00 L107.16,345.00 L107.75,345.00 L108.35,345.00 L108.94,345.00 L109.53,345.00 L110.13,345.00 L110.72,345.00 L111.32,345.00 L111.91,345.00 L112.50,345.00 L113.10,345.00 L113.69,345.00 L114.29,345.00 L114.88,345.00 L115.47,345.00 L116.07,345.00 L116.66,345.00 L117.26,345.00 L117.85,345.00 L118.44,345.00 L119.04,345.00 L119.63,345.00 L120.23,345.00 L120.82,345.00 L121.41,345.00 L122.01,345.00 L122.60,345.00 L123.20,345.00 L123.79,345.00 L124.38,345.00 L124.98,345.00 L125.57,345.00 L126.17,345.00 L126.76,345.00 L127.35,345.00 L127.95,345.00 L128.54,345.00 L129.14,345.00 L129.73,345.00 L130.32,345.00 L130.92,345.00 L131.51,345.00 L132.11,345.00 L132.70,345.00 L133.29,345.00 L133.89,345.00 L134.48,345.00 L135.08,345.00 L135.67,345.00 L136.26,345.00 L136.86,345.00 L137.45,345.00 L138.05,345.00 L138.64,345.00 L139.23,345.00 L139.83,345.00 L140.42,345.00 L141.02,345.00 L141.61,345.00 L142.20,345.00 L142.80,345.00 L143.39,345.00 L143.99,345.00 L144.58,345.00 L145.17,345.00 L145.77,345.00 L146.36,345.00 L146.96,345.00 L147.55,345.00 L148.14,345.00 L148.74,345.00 L149.33,345.00 L149.93,345.00 L150.52,345.00 L151.11,345.00 L151.71,345.00 L152.30,345.00 L152.90,345.00 L153.49,345.00 L154.08,345.00 L154.68,345.00 L155.27,345.00 L155.87,345.00 L156.46,345.00 L157.05,345.00 L157.65,345.00 L158.24,345.00 L158.84,345.00 L159.43,345.00 L160.02,345.00 L160.62,345.00 L161.21,345.00 L161.81,345.00 L162.40,345.00 L162.99,345.00 L163.59,345.00 L164.18,345.00 L164.77,345.00 L165.37,345.00 L165.96,345.00 L166.56,345.00 L167.15,345.00 L167.74,345.00 L168.34,345.00 L168.93,345.00 L169.53,345.00 L170.12,345.00 L170.71,345.00 L171.31,345.00 L171.90,345.00 L172.50,345.00 L173.09,345.00 L173.68,345.00 L174.28,345.00 L174.87,345.00 L175.47,345.00 L176.06,345.00 L176.65,345.00 L177.25,345.00 L177.84,345.00 L178.44,345.00 L179.03,345.00 L179.62,345.00 L180.22,345.00 L180.81,345.00 L181.41,345.00 L182.00,345.00 L182.59,345.00 L183.19,345.00 L183.78,345.00 L184.38,345.00 L184.97,345.00 L185.56,345.00 L186.16,345.00 L186.75,345.00 L187.35,345.00 L187.94,345.00 L188.53,345.00 L189.13,345.00 L189.72,345.00 L190.32,345.00 L190.91,345.00 L191.50,345.00 L192.10,345.00 L192.69,345.00 L193.29,345.00 L193.88,345.00 L194.47,345.00 L195.07,345.00 L195.66,345.00 L196.26,345.00 L196.85,345.00 L197.44,345.00 L198.04,345.00 L198.63,345.00 L199.23,345.00 L199.82,345.00 L200.41,345.00 L201.01,345.00 L201.60,345.00 L202.20,345.00 L202.79,345.00 L203.38,345.00 L203.98,345.00 L204.57,345.00 L205.17,345.00 L205.76,345.00 L206.35,345.00 L206.95,345.00 L207.54,345.00 L208.14,345.00 L208.73,345.00 L209.32,345.00 L209.92,345.00 L210.51,345.00 L211.11,345.00 L211.70,345.00 L212.29,345.00 L212.89,345.00 L213.48,345.00 L214.08,345.00 L214.67,345.00 L215.26,345.00 L215.86,345.00 L216.45,345.00 L217.05,345.00 L217.64,345.00 L218.23,345.00 L218.83,348.47 L219.42,353.67 L220.02,358.73 L220.61,363.66 L221.20,368.46 L221.80,373.13 L222.39,377.68 L222.99,382.10 L223.58,386.42 L224.17,390.61 L224.77,394.70 L225.36,398.68 L225.96,402.55 L226.55,406.32 L227.14,410.00 L227.74,413.57 L228.33,417.05 L228.93,420.44 L229.52,423.74 L230.11,426.96 L230.71,430.08 L231.30,433.13 L231.90,436.10 L232.49,438.98 L233.08,441.79 L233.68,444.53 L234.27,447.20 L234.87,449.79 L235.46,452.32 L236.05,454.77 L236.65,457.17 L237.24,459.50 L237.84,461.77 L238.43,463.98 L239.02,466.13 L239.62,468.23 L240.21,470.27 L240.81,472.25 L241.40,474.19 L241.99,476.07 L242.59,477.90 L243.18,479.69 L243.78,481.42 L244.37,483.12 L244.96,484.76 L245.56,486.37 L246.15,487.93 L246.75,489.45 L247.34,490.93 L247.93,492.37 L248.53,493.77 L249.12,495.14 L249.72,496.47 L250.31,497.76 L250.90,499.02 L251.50,500.25 L252.09,501.45 L252.69,502.61 L253.28,503.74 L253.87,504.84 L254.47,505.92 L255.06,506.96 L255.66,507.98 L256.25,508.97 L256.84,509.94 L257.44,510.88 L258.03,511.79 L258.63,512.68 L259.22,513.55 L259.81,514.39 L260.41,515.22 L261.00,516.02 L261.60,516.80 L262.19,517.55 L262.78,518.29 L263.38,519.01 L263.97,519.71 L264.57,520.39 L265.16,521.06 L265.75,521.70 L266.35,522.33 L266.94,522.95 L267.54,523.54 L268.13,524.12 L268.72,524.69 L269.32,525.24 L269.91,525.78 L270.51,526.30 L271.10,526.81 L271.69,527.30 L272.29,527.78 L272.88,528.25 L273.48,528.71 L274.07,529.15 L274.66,529.58 L275.26,530.01 L275.85,530.42 L276.45,530.82 L277.04,531.20 L277.63,531.58 L278.23,531.95 L278.82,532.31 L279.42,532.66 L280.01,533.00 L280.60,533.33 L281.20,533.65 L281.79,533.97 L282.38,534.27 L282.98,534.57 L283.57,534.86 L284.17,535.14 L284.76,535.42 L285.35,535.69 L285.95,535.95 L286.54,536.20 L287.14,536.45 L287.73,536.69 L288.32,536.92 L288.92,537.15 L289.51,537.37 L290.11,537.59 L290.70,537.80 L291.29,538.00 L291.89,538.20 L292.48,538.40 L293.08,538.58 L293.67,538.77 L294.26,538.95 L294.86,539.12 L295.45,539.29 L296.05,539.46 L296.64,539.62 L297.23,539.77 L297.83,539.93 L298.42,540.08 L299.02,540.22 L299.61,540.36 L300.20,540.50 L300.80,540.63 L301.39,540.76 L301.99,540.89 L302.58,541.01 L303.17,541.13 L303.77,541.25 L304.36,541.36 L304.96,541.47 L305.55,541.58 L306.14,541.69 L306.74,541.79 L307.33,541.89 L307.93,541.98 L308.52,542.08 L309.11,542.17 L309.71,542.26 L310.30,542.35 L310.90,542.43 L311.49,542.51 L312.08,542.59 L312.68,542.67 L313.27,542.75 L313.87,542.82 L314.46,542.90 L315.05,542.97 L315.65,543.03 L316.24,543.10 L316.84,543.17 L317.43,543.23 L318.02,543.29 L318.62,543.35 L319.21,543.41 L319.81,543.46 L320.40,543.52 L320.99,543.57 L321.59,543.63 L322.18,543.68 L322.78,543.73 L323.37,543.78 L323.96,543.82 L324.56,543.87 L325.15,543.91 L325.75,543.96 L326.34,544.00 L326.93,544.04 L327.53,544.08 L328.12,544.12 L328.72,544.16 L329.31,544.19 L329.90,544.23 L330.50,544.27 L331.09,544.30 L331.69,544.33 L332.28,544.36 L332.87,544.40 L333.47,544.43 L334.06,544.46 L334.66,544.49 L335.25,544.51 L335.84,544.54 L336.44,544.57 L337.03,544.59 L337.63,544.62 L338.22,544.65 L338.81,544.67 L339.41,544.69 L340.00,544.72 L340.60,544.74 L341.19,544.76 L341.78,544.78 L342.38,544.80 L342.97,544.82 L343.57,544.84 L344.16,544.86 L344.75,544.88 L345.35,544.90 L345.94,544.91 L346.54,544.93 L347.13,544.95 L347.72,544.96 L348.32,544.98 L348.91,544.99 L349.51,545.01 L350.10,545.02 L350.69,545.04 L351.29,545.05 L351.88,545.07 L352.48,545.08 L353.07,545.09 L353.66,545.10 L354.26,545.12 L354.85,545.13 L355.45,545.14 L356.04,545.15 L356.63,545.16 L357.23,545.17 L357.82,545.18 L358.42,545.19 L359.01,545.20 L359.60,545.21 L360.20,545.22 L360.79,545.23 L361.39,545.24 L361.98,545.25 L362.57,545.25 L363.17,545.26 L363.76,545.27 L364.36,545.28 L364.95,545.29 L365.54,545.29 L366.14,545.30 L366.73,545.31 L367.33,545.31 L367.92,545.32 L368.51,545.33 L369.11,545.33 L369.70,545.34 L370.30,545.34 L370.89,545.35 L371.48,545.36 L372.08,545.36 L372.67,545.37 L373.27,545.37 L373.86,545.38 L374.45,545.38 L375.05,545.39 L375.64,545.39 L376.24,545.39 L376.83,545.40 L377.42,545.40 L378.02,545.41 L378.61,545.41 L379.21,545.42 L379.80,545.42 L380.39,545.42 L380.99,545.43 L381.58,545.43 L382.18,545.43 L382.77,545.44 L383.36,545.44 L383.96,545.44 L384.55,545.45 L385.15,545.45 L385.74,545.45 L386.33,545.46 L386.93,545.46 L387.52,545.46 L388.12,545.46 L388.71,545.47 L389.30,545.47 L389.90,545.47 L390.49,545.47 L391.09,545.48 L391.68,545.48 L392.27,545.48 L392.87,545.48 L393.46,545.48 L394.06,545.49 L394.65,545.49 L395.24,545.49 L395.84,545.49 L396.43,545.49 L397.03,545.50 L397.62,545.50 L398.21,545.50 L398.81,545.50 L399.40,545.50 L399.99,545.50 L400.59,545.50 L401.18,545.51 L401.78,545.51 L402.37,545.51 L402.96,545.51 L403.56,545.51 L404.15,545.51 L404.75,545.51 L405.34,545.52 L405.93,545.52 L406.53,545.52 L407.12,545.52 L407.72,545.52 L408.31,545.52 L408.90,545.52 L409.50,545.52 L410.09,545.52 L410.69,545.52 L411.28,545.53 L411.87,545.53 L412.47,545.53 L413.06,545.53 L413.66,545.53 L414.25,545.53 L414.84,545.53 L415.44,545.53 L416.03,545.53 L416.63,545.53 L417.22,545.53 L417.81,545.53 L418.41,545.54 L419.00,545.54 L419.60,545.54 L420.19,545.54 L420.78,545.54 L421.38,545.54 L421.97,545.54 L422.57,545.54 L423.16,545.54 L423.75,545.54 L424.35,545.54 L424.94,545.54 L425.54,545.54 L426.13,545.54 L426.72,545.54 L427.32,545.54 L427.91,545.54 L428.51,545.54 L429.10,545.54 L429.69,545.55 L430.29,545.55 L430.88,545.55 L431.48,545.55 L432.07,545.55 L432.66,545.55 L433.26,545.55 L433.85,545.55 L434.45,545.55 L435.04,545.55 L435.63,545.55 L436.23,545.55 L436.82,545.55 L437.42,545.55 L438.01,545.55 L438.60,545.55 L439.20,545.55 L439.79,545.55 L440.39,545.55 L440.98,545.55 L441.57,545.55 L442.17,545.55 L442.76,545.55 L443.36,545.55 L443.95,545.55 L444.54,545.55 L445.14,545.55 L445.73,545.55 L446.33,545.55 L446.92,545.55 L447.51,545.55 L448.11,545.55 L448.70,545.55 L449.30,545.55 L449.89,545.55 L450.48,545.55 L451.08,545.55 L451.67,545.55 L452.27,545.55 L452.86,545.55 L453.45,545.55 L454.05,545.56 L454.64,545.56 L455.24,545.56 L455.83,545.56 L456.42,545.56 L457.02,545.56 L457.61,545.56 L458.21,545.56 L458.80,545.56" stroke="#ff2a14" stroke-width="5" fill="none" stroke-linecap="round"/>
<text transform="translate(41.8,458.4) rotate(-90)" font-family="Liberation Sans, sans-serif" font-weight="bold" font-size="26.1">Relative fluorescence</text>
<text x="628" y="128" font-family="Liberation Sans, sans-serif" font-weight="bold" font-size="24" text-anchor="middle"></text>
<text x="259.5" y="627.8" font-family="Liberation Sans, sans-serif" font-weight="bold" font-size="27">min</text>
<g class="lab" font-family="Liberation Sans, sans-serif" font-size="29">
<text x="469.5" y="166.1" fill="#000" font-size="29.5">+Sti1, ATP</text>
<text x="470.3" y="365.9" fill="#000">ATP</text>
<text x="470.5" y="446.9" fill="#ff2a14" color="#ff2a14" font-size="29.3">+Sti1, AMPPNP</text>
<text x="470.4" y="552.7" fill="#ff2a14" color="#ff2a14" font-size="28.6">AMPPNP</text>
</g>
<text x="-0.8" y="699.8" font-family="Liberation Sans, sans-serif" font-size="41" style="stroke-width:1.2px" fill="#111" color="#111">b</text>
<text x="97" y="758.6" font-family="Liberation Sans, sans-serif" font-weight="bold" font-size="29.2">Effect of Sba1 &amp; Crowder</text>
<text x="163.5" y="792.2" font-family="Liberation Sans, sans-serif" font-weight="bold" font-size="29.2">on N-M docking</text>
<circle cx="218.8" cy="329.7" r="5.0" fill="#c83a2c" fill-opacity="0.13"/>
<circle cx="218.8" cy="318.8" r="5.0" fill="#c83a2c" fill-opacity="0.13"/>
<circle cx="218.8" cy="310.1" r="5.0" fill="#c83a2c" fill-opacity="0.13"/>
<path d="M213.4,326.5L224.2,326.5L218.8,316.6Z" fill="#000" fill-opacity="0.12"/>
<path d="M213.4,304.7L224.2,304.7L218.8,294.8Z" fill="#000" fill-opacity="0.12"/>
<circle cx="220.0" cy="218.6" r="5.0" fill="#c83a2c" fill-opacity="0.13"/>
<circle cx="220.0" cy="207.7" r="5.0" fill="#c83a2c" fill-opacity="0.13"/>
<circle cx="220.0" cy="196.8" r="5.0" fill="#c83a2c" fill-opacity="0.13"/>
<g stroke="#000" stroke-width="3.6" fill="none">
<path d="M103,805 V1286.5"/>
<path d="M101.2,1284.7 H464.3"/>
<path d="M91,1284.7 H103"/>
<path d="M91,1084.5 H103"/>
<path d="M91,884.4 H103"/>
<path d="M95,1184.6 H103"/>
<path d="M95,984.5 H103"/>
<path d="M103.0,1284.7 V1297.1000000000001"/>
<path d="M223.0,1284.7 V1297.1000000000001"/>
<path d="M343.0,1284.7 V1297.1000000000001"/>
<path d="M463.0,1284.7 V1297.1000000000001"/>
<path d="M163.0,1284.7 V1292.7"/>
<path d="M283.0,1284.7 V1292.7"/>
<path d="M403.0,1284.7 V1292.7"/>
</g>
<g font-family="Liberation Sans, sans-serif" font-weight="bold" font-size="18.3" fill="#000">
<text x="88" y="1291.2" text-anchor="end">0.0</text>
<text x="88" y="1091.0" text-anchor="end">0.5</text>
<text x="88" y="890.9" text-anchor="end">1.0</text>
<text x="103.5" y="1316.9" text-anchor="middle">0</text>
<text x="223.5" y="1316.9" text-anchor="middle">10</text>
<text x="343.5" y="1316.9" text-anchor="middle">20</text>
<text x="463.5" y="1316.9" text-anchor="middle">30</text>
</g>
<path d="M98.2,904.9L109.0,904.9L103.6,894.9Z" fill="#000" fill-opacity="0.12"/>
<path d="M99.4,905.9L110.2,905.9L104.8,895.9Z" fill="#000" fill-opacity="0.12"/>
<path d="M100.6,907.8L111.4,907.8L106.0,897.9Z" fill="#000" fill-opacity="0.12"/>
<path d="M101.8,895.6L112.6,895.6L107.2,885.7Z" fill="#000" fill-opacity="0.12"/>
<path d="M103.0,896.3L113.8,896.3L108.4,886.3Z" fill="#000" fill-opacity="0.12"/>
<path d="M104.2,872.8L115.0,872.8L109.6,862.9Z" fill="#000" fill-opacity="0.12"/>
<path d="M105.4,895.7L116.2,895.7L110.8,885.8Z" fill="#000" fill-opacity="0.12"/>
<path d="M106.6,891.7L117.4,891.7L112.0,881.7Z" fill="#000" fill-opacity="0.12"/>
<path d="M107.8,912.1L118.6,912.1L113.2,902.2Z" fill="#000" fill-opacity="0.12"/>
<path d="M109.0,854.8L119.8,854.8L114.4,844.9Z" fill="#000" fill-opacity="0.12"/>
<path d="M110.2,877.6L121.0,877.6L115.6,867.6Z" fill="#000" fill-opacity="0.12"/>
<path d="M111.4,851.9L122.2,851.9L116.8,842.0Z" fill="#000" fill-opacity="0.12"/>
<path d="M112.6,871.8L123.4,871.8L118.0,861.8Z" fill="#000" fill-opacity="0.12"/>
<path d="M113.8,857.9L124.6,857.9L119.2,848.0Z" fill="#000" fill-opacity="0.12"/>
<path d="M115.0,892.7L125.8,892.7L120.4,882.7Z" fill="#000" fill-opacity="0.12"/>
<path d="M116.2,873.4L127.0,873.4L121.6,863.4Z" fill="#000" fill-opacity="0.12"/>
<path d="M117.4,833.6L128.2,833.6L122.8,823.6Z" fill="#000" fill-opacity="0.12"/>
<path d="M118.6,912.2L129.4,912.2L124.0,902.3Z" fill="#000" fill-opacity="0.12"/>
<path d="M119.8,864.2L130.6,864.2L125.2,854.2Z" fill="#000" fill-opacity="0.12"/>
<path d="M121.0,853.7L131.8,853.7L126.4,843.8Z" fill="#000" fill-opacity="0.12"/>
<path d="M122.2,879.3L133.0,879.3L127.6,869.3Z" fill="#000" fill-opacity="0.12"/>
<path d="M123.4,872.4L134.2,872.4L128.8,862.5Z" fill="#000" fill-opacity="0.12"/>
<path d="M124.6,862.1L135.4,862.1L130.0,852.2Z" fill="#000" fill-opacity="0.12"/>
<path d="M125.8,901.1L136.6,901.1L131.2,891.2Z" fill="#000" fill-opacity="0.12"/>
<path d="M127.0,879.4L137.8,879.4L132.4,869.4Z" fill="#000" fill-opacity="0.12"/>
<path d="M128.2,905.5L139.0,905.5L133.6,895.5Z" fill="#000" fill-opacity="0.12"/>
<path d="M129.4,901.5L140.2,901.5L134.8,891.6Z" fill="#000" fill-opacity="0.12"/>
<path d="M130.6,900.4L141.4,900.4L136.0,890.4Z" fill="#000" fill-opacity="0.12"/>
<path d="M131.8,890.6L142.6,890.6L137.2,880.7Z" fill="#000" fill-opacity="0.12"/>
<path d="M133.0,884.7L143.8,884.7L138.4,874.8Z" fill="#000" fill-opacity="0.12"/>
<path d="M134.2,878.4L145.0,878.4L139.6,868.5Z" fill="#000" fill-opacity="0.12"/>
<path d="M135.4,916.8L146.2,916.8L140.8,906.8Z" fill="#000" fill-opacity="0.12"/>
<path d="M136.6,847.1L147.4,847.1L142.0,837.2Z" fill="#000" fill-opacity="0.12"/>
<path d="M137.8,864.0L148.6,864.0L143.2,854.1Z" fill="#000" fill-opacity="0.12"/>
<path d="M139.0,872.8L149.8,872.8L144.4,862.9Z" fill="#000" fill-opacity="0.12"/>
<path d="M140.2,895.0L151.0,895.0L145.6,885.1Z" fill="#000" fill-opacity="0.12"/>
<path d="M141.4,889.5L152.2,889.5L146.8,879.6Z" fill="#000" fill-opacity="0.12"/>
<path d="M142.6,876.5L153.4,876.5L148.0,866.5Z" fill="#000" fill-opacity="0.12"/>
<path d="M143.8,879.3L154.6,879.3L149.2,869.3Z" fill="#000" fill-opacity="0.12"/>
<path d="M145.0,922.2L155.8,922.2L150.4,912.2Z" fill="#000" fill-opacity="0.12"/>
<path d="M146.2,872.5L157.0,872.5L151.6,862.6Z" fill="#000" fill-opacity="0.12"/>
<path d="M147.4,827.9L158.2,827.9L152.8,818.0Z" fill="#000" fill-opacity="0.12"/>
<path d="M148.6,925.6L159.4,925.6L154.0,915.7Z" fill="#000" fill-opacity="0.12"/>
<path d="M149.8,867.3L160.6,867.3L155.2,857.4Z" fill="#000" fill-opacity="0.12"/>
<path d="M151.0,880.1L161.8,880.1L156.4,870.2Z" fill="#000" fill-opacity="0.12"/>
<path d="M152.2,890.0L163.0,890.0L157.6,880.1Z" fill="#000" fill-opacity="0.12"/>
<path d="M153.4,859.6L164.2,859.6L158.8,849.6Z" fill="#000" fill-opacity="0.12"/>
<path d="M154.6,912.0L165.4,912.0L160.0,902.1Z" fill="#000" fill-opacity="0.12"/>
<path d="M155.8,884.4L166.6,884.4L161.2,874.4Z" fill="#000" fill-opacity="0.12"/>
<path d="M157.0,857.7L167.8,857.7L162.4,847.7Z" fill="#000" fill-opacity="0.12"/>
<path d="M158.2,891.8L169.0,891.8L163.6,881.8Z" fill="#000" fill-opacity="0.12"/>
<path d="M159.4,896.3L170.2,896.3L164.8,886.4Z" fill="#000" fill-opacity="0.12"/>
<path d="M160.6,885.4L171.4,885.4L166.0,875.4Z" fill="#000" fill-opacity="0.12"/>
<path d="M161.8,896.9L172.6,896.9L167.2,886.9Z" fill="#000" fill-opacity="0.12"/>
<path d="M163.0,855.9L173.8,855.9L168.4,846.0Z" fill="#000" fill-opacity="0.12"/>
<path d="M164.2,906.4L175.0,906.4L169.6,896.4Z" fill="#000" fill-opacity="0.12"/>
<path d="M165.4,869.8L176.2,869.8L170.8,859.8Z" fill="#000" fill-opacity="0.12"/>
<path d="M166.6,913.5L177.4,913.5L172.0,903.5Z" fill="#000" fill-opacity="0.12"/>
<path d="M167.8,874.0L178.6,874.0L173.2,864.0Z" fill="#000" fill-opacity="0.12"/>
<path d="M169.0,889.9L179.8,889.9L174.4,879.9Z" fill="#000" fill-opacity="0.12"/>
<path d="M170.2,940.9L181.0,940.9L175.6,930.9Z" fill="#000" fill-opacity="0.12"/>
<path d="M171.4,887.8L182.2,887.8L176.8,877.9Z" fill="#000" fill-opacity="0.12"/>
<path d="M172.6,909.7L183.4,909.7L178.0,899.7Z" fill="#000" fill-opacity="0.12"/>
<path d="M173.8,896.9L184.6,896.9L179.2,886.9Z" fill="#000" fill-opacity="0.12"/>
<path d="M175.0,856.1L185.8,856.1L180.4,846.1Z" fill="#000" fill-opacity="0.12"/>
<path d="M176.2,910.7L187.0,910.7L181.6,900.8Z" fill="#000" fill-opacity="0.12"/>
<path d="M177.4,909.5L188.2,909.5L182.8,899.6Z" fill="#000" fill-opacity="0.12"/>
<path d="M178.6,858.1L189.4,858.1L184.0,848.1Z" fill="#000" fill-opacity="0.12"/>
<path d="M179.8,885.3L190.6,885.3L185.2,875.4Z" fill="#000" fill-opacity="0.12"/>
<path d="M181.0,856.0L191.8,856.0L186.4,846.1Z" fill="#000" fill-opacity="0.12"/>
<path d="M182.2,881.1L193.0,881.1L187.6,871.1Z" fill="#000" fill-opacity="0.12"/>
<path d="M183.4,905.9L194.2,905.9L188.8,895.9Z" fill="#000" fill-opacity="0.12"/>
<path d="M184.6,889.1L195.4,889.1L190.0,879.1Z" fill="#000" fill-opacity="0.12"/>
<path d="M185.8,862.4L196.6,862.4L191.2,852.5Z" fill="#000" fill-opacity="0.12"/>
<path d="M187.0,868.3L197.8,868.3L192.4,858.4Z" fill="#000" fill-opacity="0.12"/>
<path d="M188.2,887.7L199.0,887.7L193.6,877.8Z" fill="#000" fill-opacity="0.12"/>
<path d="M189.4,886.7L200.2,886.7L194.8,876.8Z" fill="#000" fill-opacity="0.12"/>
<path d="M190.6,890.0L201.4,890.0L196.0,880.1Z" fill="#000" fill-opacity="0.12"/>
<path d="M191.8,899.6L202.6,899.6L197.2,889.7Z" fill="#000" fill-opacity="0.12"/>
<path d="M193.0,848.0L203.8,848.0L198.4,838.0Z" fill="#000" fill-opacity="0.12"/>
<path d="M194.2,887.6L205.0,887.6L199.6,877.6Z" fill="#000" fill-opacity="0.12"/>
<path d="M195.4,911.0L206.2,911.0L200.8,901.1Z" fill="#000" fill-opacity="0.12"/>
<path d="M196.6,897.5L207.4,897.5L202.0,887.6Z" fill="#000" fill-opacity="0.12"/>
<path d="M197.8,872.8L208.6,872.8L203.2,862.8Z" fill="#000" fill-opacity="0.12"/>
<path d="M199.0,874.5L209.8,874.5L204.4,864.6Z" fill="#000" fill-opacity="0.12"/>
<path d="M200.2,890.5L211.0,890.5L205.6,880.6Z" fill="#000" fill-opacity="0.12"/>
<path d="M201.4,901.5L212.2,901.5L206.8,891.5Z" fill="#000" fill-opacity="0.12"/>
<path d="M202.6,887.2L213.4,887.2L208.0,877.3Z" fill="#000" fill-opacity="0.12"/>
<path d="M203.8,922.2L214.6,922.2L209.2,912.2Z" fill="#000" fill-opacity="0.12"/>
<path d="M205.0,914.5L215.8,914.5L210.4,904.6Z" fill="#000" fill-opacity="0.12"/>
<path d="M206.2,871.3L217.0,871.3L211.6,861.3Z" fill="#000" fill-opacity="0.12"/>
<path d="M207.4,897.6L218.2,897.6L212.8,887.6Z" fill="#000" fill-opacity="0.12"/>
<path d="M208.6,880.0L219.4,880.0L214.0,870.1Z" fill="#000" fill-opacity="0.12"/>
<path d="M209.8,862.6L220.6,862.6L215.2,852.7Z" fill="#000" fill-opacity="0.12"/>
<path d="M211.0,874.3L221.8,874.3L216.4,864.4Z" fill="#000" fill-opacity="0.12"/>
<path d="M212.2,887.3L223.0,887.3L217.6,877.4Z" fill="#000" fill-opacity="0.12"/>
<path d="M213.4,843.9L224.2,843.9L218.8,834.0Z" fill="#000" fill-opacity="0.12"/>
<path d="M214.6,874.0L225.4,874.0L220.0,864.0Z" fill="#000" fill-opacity="0.12"/>
<path d="M215.8,895.0L226.6,895.0L221.2,885.1Z" fill="#000" fill-opacity="0.12"/>
<path d="M217.0,872.6L227.8,872.6L222.4,862.7Z" fill="#000" fill-opacity="0.12"/>
<path d="M218.2,895.8L229.0,895.8L223.6,885.8Z" fill="#000" fill-opacity="0.12"/>
<path d="M219.4,945.2L230.2,945.2L224.8,935.3Z" fill="#000" fill-opacity="0.12"/>
<path d="M220.6,908.9L231.4,908.9L226.0,898.9Z" fill="#000" fill-opacity="0.12"/>
<path d="M221.8,918.2L232.6,918.2L227.2,908.2Z" fill="#000" fill-opacity="0.12"/>
<path d="M223.0,988.6L233.8,988.6L228.4,978.7Z" fill="#000" fill-opacity="0.12"/>
<path d="M224.2,918.5L235.0,918.5L229.6,908.5Z" fill="#000" fill-opacity="0.12"/>
<path d="M225.4,922.8L236.2,922.8L230.8,912.9Z" fill="#000" fill-opacity="0.12"/>
<path d="M226.6,928.9L237.4,928.9L232.0,918.9Z" fill="#000" fill-opacity="0.12"/>
<path d="M227.8,976.0L238.6,976.0L233.2,966.1Z" fill="#000" fill-opacity="0.12"/>
<path d="M229.0,925.6L239.8,925.6L234.4,915.7Z" fill="#000" fill-opacity="0.12"/>
<path d="M230.2,913.3L241.0,913.3L235.6,903.3Z" fill="#000" fill-opacity="0.12"/>
<path d="M231.4,907.7L242.2,907.7L236.8,897.8Z" fill="#000" fill-opacity="0.12"/>
<path d="M232.6,956.1L243.4,956.1L238.0,946.2Z" fill="#000" fill-opacity="0.12"/>
<path d="M233.8,887.0L244.6,887.0L239.2,877.1Z" fill="#000" fill-opacity="0.12"/>
<path d="M235.0,959.3L245.8,959.3L240.4,949.3Z" fill="#000" fill-opacity="0.12"/>
<path d="M236.2,920.5L247.0,920.5L241.6,910.5Z" fill="#000" fill-opacity="0.12"/>
<path d="M237.4,860.7L248.2,860.7L242.8,850.8Z" fill="#000" fill-opacity="0.12"/>
<path d="M238.6,938.8L249.4,938.8L244.0,928.9Z" fill="#000" fill-opacity="0.12"/>
<path d="M239.8,931.7L250.6,931.7L245.2,921.8Z" fill="#000" fill-opacity="0.12"/>
<path d="M241.0,869.8L251.8,869.8L246.4,859.8Z" fill="#000" fill-opacity="0.12"/>
<path d="M242.2,926.7L253.0,926.7L247.6,916.8Z" fill="#000" fill-opacity="0.12"/>
<path d="M243.4,923.3L254.2,923.3L248.8,913.4Z" fill="#000" fill-opacity="0.12"/>
<path d="M244.6,903.1L255.4,903.1L250.0,893.1Z" fill="#000" fill-opacity="0.12"/>
<path d="M245.8,870.7L256.6,870.7L251.2,860.8Z" fill="#000" fill-opacity="0.12"/>
<path d="M247.0,997.9L257.8,997.9L252.4,987.9Z" fill="#000" fill-opacity="0.12"/>
<path d="M248.2,944.1L259.0,944.1L253.6,934.2Z" fill="#000" fill-opacity="0.12"/>
<path d="M249.4,951.1L260.2,951.1L254.8,941.2Z" fill="#000" fill-opacity="0.12"/>
<path d="M250.6,954.1L261.4,954.1L256.0,944.2Z" fill="#000" fill-opacity="0.12"/>
<path d="M251.8,945.1L262.6,945.1L257.2,935.2Z" fill="#000" fill-opacity="0.12"/>
<path d="M253.0,944.5L263.8,944.5L258.4,934.6Z" fill="#000" fill-opacity="0.12"/>
<path d="M254.2,900.0L265.0,900.0L259.6,890.0Z" fill="#000" fill-opacity="0.12"/>
<path d="M255.4,946.4L266.2,946.4L260.8,936.5Z" fill="#000" fill-opacity="0.12"/>
<path d="M256.6,907.0L267.4,907.0L262.0,897.0Z" fill="#000" fill-opacity="0.12"/>
<path d="M257.8,896.1L268.6,896.1L263.2,886.1Z" fill="#000" fill-opacity="0.12"/>
<path d="M259.0,940.2L269.8,940.2L264.4,930.2Z" fill="#000" fill-opacity="0.12"/>
<path d="M260.2,906.6L271.0,906.6L265.6,896.7Z" fill="#000" fill-opacity="0.12"/>
<path d="M261.4,847.9L272.2,847.9L266.8,838.0Z" fill="#000" fill-opacity="0.12"/>
<path d="M262.6,899.2L273.4,899.2L268.0,889.2Z" fill="#000" fill-opacity="0.12"/>
<path d="M263.8,936.6L274.6,936.6L269.2,926.6Z" fill="#000" fill-opacity="0.12"/>
<path d="M265.0,914.3L275.8,914.3L270.4,904.3Z" fill="#000" fill-opacity="0.12"/>
<path d="M266.2,947.4L277.0,947.4L271.6,937.5Z" fill="#000" fill-opacity="0.12"/>
<path d="M267.4,901.2L278.2,901.2L272.8,891.3Z" fill="#000" fill-opacity="0.12"/>
<path d="M268.6,878.2L279.4,878.2L274.0,868.2Z" fill="#000" fill-opacity="0.12"/>
<path d="M269.8,943.6L280.6,943.6L275.2,933.7Z" fill="#000" fill-opacity="0.12"/>
<path d="M271.0,919.9L281.8,919.9L276.4,909.9Z" fill="#000" fill-opacity="0.12"/>
<path d="M272.2,868.5L283.0,868.5L277.6,858.5Z" fill="#000" fill-opacity="0.12"/>
<path d="M273.4,931.1L284.2,931.1L278.8,921.1Z" fill="#000" fill-opacity="0.12"/>
<path d="M274.6,904.4L285.4,904.4L280.0,894.5Z" fill="#000" fill-opacity="0.12"/>
<path d="M275.8,951.5L286.6,951.5L281.2,941.6Z" fill="#000" fill-opacity="0.12"/>
<path d="M277.0,943.6L287.8,943.6L282.4,933.6Z" fill="#000" fill-opacity="0.12"/>
<path d="M278.2,931.6L289.0,931.6L283.6,921.7Z" fill="#000" fill-opacity="0.12"/>
<path d="M279.4,829.0L290.2,829.0L284.8,819.0Z" fill="#000" fill-opacity="0.12"/>
<path d="M280.6,927.3L291.4,927.3L286.0,917.3Z" fill="#000" fill-opacity="0.12"/>
<path d="M281.8,931.9L292.6,931.9L287.2,921.9Z" fill="#000" fill-opacity="0.12"/>
<path d="M283.0,933.1L293.8,933.1L288.4,923.2Z" fill="#000" fill-opacity="0.12"/>
<path d="M284.2,918.0L295.0,918.0L289.6,908.1Z" fill="#000" fill-opacity="0.12"/>
<path d="M285.4,886.8L296.2,886.8L290.8,876.8Z" fill="#000" fill-opacity="0.12"/>
<path d="M286.6,904.5L297.4,904.5L292.0,894.6Z" fill="#000" fill-opacity="0.12"/>
<path d="M287.8,833.5L298.6,833.5L293.2,823.5Z" fill="#000" fill-opacity="0.12"/>
<path d="M289.0,903.6L299.8,903.6L294.4,893.7Z" fill="#000" fill-opacity="0.12"/>
<path d="M290.2,856.7L301.0,856.7L295.6,846.8Z" fill="#000" fill-opacity="0.12"/>
<path d="M291.4,901.2L302.2,901.2L296.8,891.3Z" fill="#000" fill-opacity="0.12"/>
<path d="M292.6,888.7L303.4,888.7L298.0,878.8Z" fill="#000" fill-opacity="0.12"/>
<path d="M293.8,966.6L304.6,966.6L299.2,956.7Z" fill="#000" fill-opacity="0.12"/>
<path d="M295.0,916.6L305.8,916.6L300.4,906.6Z" fill="#000" fill-opacity="0.12"/>
<path d="M296.2,914.4L307.0,914.4L301.6,904.4Z" fill="#000" fill-opacity="0.12"/>
<path d="M297.4,921.0L308.2,921.0L302.8,911.0Z" fill="#000" fill-opacity="0.12"/>
<path d="M298.6,993.6L309.4,993.6L304.0,983.7Z" fill="#000" fill-opacity="0.12"/>
<path d="M299.8,878.2L310.6,878.2L305.2,868.3Z" fill="#000" fill-opacity="0.12"/>
<path d="M301.0,926.5L311.8,926.5L306.4,916.5Z" fill="#000" fill-opacity="0.12"/>
<path d="M302.2,928.4L313.0,928.4L307.6,918.5Z" fill="#000" fill-opacity="0.12"/>
<path d="M303.4,921.4L314.2,921.4L308.8,911.5Z" fill="#000" fill-opacity="0.12"/>
<path d="M304.6,920.4L315.4,920.4L310.0,910.5Z" fill="#000" fill-opacity="0.12"/>
<path d="M305.8,896.2L316.6,896.2L311.2,886.3Z" fill="#000" fill-opacity="0.12"/>
<path d="M307.0,960.1L317.8,960.1L312.4,950.1Z" fill="#000" fill-opacity="0.12"/>
<path d="M308.2,947.1L319.0,947.1L313.6,937.2Z" fill="#000" fill-opacity="0.12"/>
<path d="M309.4,900.7L320.2,900.7L314.8,890.7Z" fill="#000" fill-opacity="0.12"/>
<path d="M310.6,906.2L321.4,906.2L316.0,896.3Z" fill="#000" fill-opacity="0.12"/>
<path d="M311.8,926.1L322.6,926.1L317.2,916.1Z" fill="#000" fill-opacity="0.12"/>
<path d="M313.0,933.6L323.8,933.6L318.4,923.6Z" fill="#000" fill-opacity="0.12"/>
<path d="M314.2,943.5L325.0,943.5L319.6,933.5Z" fill="#000" fill-opacity="0.12"/>
<path d="M315.4,913.9L326.2,913.9L320.8,904.0Z" fill="#000" fill-opacity="0.12"/>
<path d="M316.6,866.8L327.4,866.8L322.0,856.9Z" fill="#000" fill-opacity="0.12"/>
<path d="M317.8,952.0L328.6,952.0L323.2,942.0Z" fill="#000" fill-opacity="0.12"/>
<path d="M319.0,853.8L329.8,853.8L324.4,843.9Z" fill="#000" fill-opacity="0.12"/>
<path d="M320.2,879.6L331.0,879.6L325.6,869.7Z" fill="#000" fill-opacity="0.12"/>
<path d="M321.4,929.0L332.2,929.0L326.8,919.0Z" fill="#000" fill-opacity="0.12"/>
<path d="M322.6,882.0L333.4,882.0L328.0,872.0Z" fill="#000" fill-opacity="0.12"/>
<path d="M323.8,967.5L334.6,967.5L329.2,957.5Z" fill="#000" fill-opacity="0.12"/>
<path d="M325.0,977.6L335.8,977.6L330.4,967.6Z" fill="#000" fill-opacity="0.12"/>
<path d="M326.2,960.8L337.0,960.8L331.6,950.8Z" fill="#000" fill-opacity="0.12"/>
<path d="M327.4,927.3L338.2,927.3L332.8,917.4Z" fill="#000" fill-opacity="0.12"/>
<path d="M328.6,924.1L339.4,924.1L334.0,914.2Z" fill="#000" fill-opacity="0.12"/>
<path d="M329.8,931.3L340.6,931.3L335.2,921.4Z" fill="#000" fill-opacity="0.12"/>
<path d="M331.0,907.9L341.8,907.9L336.4,898.0Z" fill="#000" fill-opacity="0.12"/>
<path d="M332.2,992.9L343.0,992.9L337.6,983.0Z" fill="#000" fill-opacity="0.12"/>
<path d="M333.4,892.9L344.2,892.9L338.8,883.0Z" fill="#000" fill-opacity="0.12"/>
<path d="M334.6,965.7L345.4,965.7L340.0,955.8Z" fill="#000" fill-opacity="0.12"/>
<path d="M335.8,936.9L346.6,936.9L341.2,926.9Z" fill="#000" fill-opacity="0.12"/>
<path d="M337.0,927.4L347.8,927.4L342.4,917.5Z" fill="#000" fill-opacity="0.12"/>
<path d="M338.2,955.7L349.0,955.7L343.6,945.8Z" fill="#000" fill-opacity="0.12"/>
<path d="M339.4,963.9L350.2,963.9L344.8,953.9Z" fill="#000" fill-opacity="0.12"/>
<path d="M340.6,950.0L351.4,950.0L346.0,940.1Z" fill="#000" fill-opacity="0.12"/>
<path d="M341.8,912.2L352.6,912.2L347.2,902.2Z" fill="#000" fill-opacity="0.12"/>
<path d="M343.0,889.3L353.8,889.3L348.4,879.4Z" fill="#000" fill-opacity="0.12"/>
<path d="M344.2,890.3L355.0,890.3L349.6,880.3Z" fill="#000" fill-opacity="0.12"/>
<path d="M345.4,949.5L356.2,949.5L350.8,939.6Z" fill="#000" fill-opacity="0.12"/>
<path d="M346.6,941.8L357.4,941.8L352.0,931.9Z" fill="#000" fill-opacity="0.12"/>
<path d="M347.8,946.7L358.6,946.7L353.2,936.8Z" fill="#000" fill-opacity="0.12"/>
<path d="M349.0,894.6L359.8,894.6L354.4,884.7Z" fill="#000" fill-opacity="0.12"/>
<path d="M350.2,989.2L361.0,989.2L355.6,979.3Z" fill="#000" fill-opacity="0.12"/>
<path d="M351.4,864.6L362.2,864.6L356.8,854.7Z" fill="#000" fill-opacity="0.12"/>
<path d="M352.6,930.2L363.4,930.2L358.0,920.2Z" fill="#000" fill-opacity="0.12"/>
<path d="M353.8,941.5L364.6,941.5L359.2,931.6Z" fill="#000" fill-opacity="0.12"/>
<path d="M355.0,898.8L365.8,898.8L360.4,888.9Z" fill="#000" fill-opacity="0.12"/>
<path d="M356.2,872.5L367.0,872.5L361.6,862.5Z" fill="#000" fill-opacity="0.12"/>
<path d="M357.4,898.7L368.2,898.7L362.8,888.8Z" fill="#000" fill-opacity="0.12"/>
<path d="M358.6,871.7L369.4,871.7L364.0,861.8Z" fill="#000" fill-opacity="0.12"/>
<path d="M359.8,906.6L370.6,906.6L365.2,896.7Z" fill="#000" fill-opacity="0.12"/>
<path d="M361.0,865.0L371.8,865.0L366.4,855.0Z" fill="#000" fill-opacity="0.12"/>
<path d="M362.2,864.4L373.0,864.4L367.6,854.4Z" fill="#000" fill-opacity="0.12"/>
<path d="M363.4,915.5L374.2,915.5L368.8,905.6Z" fill="#000" fill-opacity="0.12"/>
<path d="M364.6,857.0L375.4,857.0L370.0,847.1Z" fill="#000" fill-opacity="0.12"/>
<path d="M365.8,905.5L376.6,905.5L371.2,895.5Z" fill="#000" fill-opacity="0.12"/>
<path d="M367.0,908.4L377.8,908.4L372.4,898.5Z" fill="#000" fill-opacity="0.12"/>
<path d="M368.2,946.8L379.0,946.8L373.6,936.8Z" fill="#000" fill-opacity="0.12"/>
<path d="M369.4,922.7L380.2,922.7L374.8,912.8Z" fill="#000" fill-opacity="0.12"/>
<path d="M370.6,882.2L381.4,882.2L376.0,872.2Z" fill="#000" fill-opacity="0.12"/>
<path d="M371.8,961.6L382.6,961.6L377.2,951.7Z" fill="#000" fill-opacity="0.12"/>
<path d="M373.0,887.0L383.8,887.0L378.4,877.1Z" fill="#000" fill-opacity="0.12"/>
<path d="M374.2,898.5L385.0,898.5L379.6,888.5Z" fill="#000" fill-opacity="0.12"/>
<path d="M375.4,901.2L386.2,901.2L380.8,891.2Z" fill="#000" fill-opacity="0.12"/>
<path d="M376.6,995.6L387.4,995.6L382.0,985.7Z" fill="#000" fill-opacity="0.12"/>
<path d="M377.8,915.7L388.6,915.7L383.2,905.7Z" fill="#000" fill-opacity="0.12"/>
<path d="M379.0,887.1L389.8,887.1L384.4,877.1Z" fill="#000" fill-opacity="0.12"/>
<path d="M380.2,940.7L391.0,940.7L385.6,930.8Z" fill="#000" fill-opacity="0.12"/>
<path d="M381.4,908.3L392.2,908.3L386.8,898.4Z" fill="#000" fill-opacity="0.12"/>
<path d="M382.6,1002.2L393.4,1002.2L388.0,992.2Z" fill="#000" fill-opacity="0.12"/>
<path d="M383.8,886.2L394.6,886.2L389.2,876.3Z" fill="#000" fill-opacity="0.12"/>
<path d="M385.0,936.9L395.8,936.9L390.4,927.0Z" fill="#000" fill-opacity="0.12"/>
<path d="M386.2,878.6L397.0,878.6L391.6,868.7Z" fill="#000" fill-opacity="0.12"/>
<path d="M387.4,981.8L398.2,981.8L392.8,971.9Z" fill="#000" fill-opacity="0.12"/>
<path d="M388.6,885.4L399.4,885.4L394.0,875.5Z" fill="#000" fill-opacity="0.12"/>
<path d="M389.8,920.7L400.6,920.7L395.2,910.8Z" fill="#000" fill-opacity="0.12"/>
<path d="M391.0,881.0L401.8,881.0L396.4,871.1Z" fill="#000" fill-opacity="0.12"/>
<path d="M392.2,946.9L403.0,946.9L397.6,937.0Z" fill="#000" fill-opacity="0.12"/>
<path d="M393.4,935.2L404.2,935.2L398.8,925.3Z" fill="#000" fill-opacity="0.12"/>
<path d="M394.6,826.5L405.4,826.5L400.0,816.5Z" fill="#000" fill-opacity="0.12"/>
<path d="M395.8,943.3L406.6,943.3L401.2,933.4Z" fill="#000" fill-opacity="0.12"/>
<path d="M397.0,938.6L407.8,938.6L402.4,928.6Z" fill="#000" fill-opacity="0.12"/>
<path d="M398.2,922.2L409.0,922.2L403.6,912.3Z" fill="#000" fill-opacity="0.12"/>
<path d="M399.4,950.6L410.2,950.6L404.8,940.7Z" fill="#000" fill-opacity="0.12"/>
<path d="M400.6,866.5L411.4,866.5L406.0,856.5Z" fill="#000" fill-opacity="0.12"/>
<path d="M401.8,846.1L412.6,846.1L407.2,836.2Z" fill="#000" fill-opacity="0.12"/>
<path d="M403.0,938.5L413.8,938.5L408.4,928.6Z" fill="#000" fill-opacity="0.12"/>
<path d="M404.2,977.4L415.0,977.4L409.6,967.4Z" fill="#000" fill-opacity="0.12"/>
<path d="M405.4,867.2L416.2,867.2L410.8,857.2Z" fill="#000" fill-opacity="0.12"/>
<path d="M406.6,869.6L417.4,869.6L412.0,859.6Z" fill="#000" fill-opacity="0.12"/>
<path d="M407.8,880.5L418.6,880.5L413.2,870.5Z" fill="#000" fill-opacity="0.12"/>
<path d="M409.0,867.7L419.8,867.7L414.4,857.8Z" fill="#000" fill-opacity="0.12"/>
<path d="M410.2,944.7L421.0,944.7L415.6,934.8Z" fill="#000" fill-opacity="0.12"/>
<path d="M411.4,918.1L422.2,918.1L416.8,908.2Z" fill="#000" fill-opacity="0.12"/>
<path d="M412.6,964.4L423.4,964.4L418.0,954.4Z" fill="#000" fill-opacity="0.12"/>
<path d="M413.8,965.7L424.6,965.7L419.2,955.7Z" fill="#000" fill-opacity="0.12"/>
<path d="M415.0,874.4L425.8,874.4L420.4,864.5Z" fill="#000" fill-opacity="0.12"/>
<path d="M416.2,937.3L427.0,937.3L421.6,927.3Z" fill="#000" fill-opacity="0.12"/>
<path d="M417.4,825.0L428.2,825.0L422.8,815.1Z" fill="#000" fill-opacity="0.12"/>
<path d="M418.6,908.9L429.4,908.9L424.0,899.0Z" fill="#000" fill-opacity="0.12"/>
<path d="M419.8,936.1L430.6,936.1L425.2,926.1Z" fill="#000" fill-opacity="0.12"/>
<path d="M421.0,881.4L431.8,881.4L426.4,871.5Z" fill="#000" fill-opacity="0.12"/>
<path d="M422.2,843.2L433.0,843.2L427.6,833.3Z" fill="#000" fill-opacity="0.12"/>
<path d="M423.4,893.2L434.2,893.2L428.8,883.3Z" fill="#000" fill-opacity="0.12"/>
<path d="M424.6,958.0L435.4,958.0L430.0,948.1Z" fill="#000" fill-opacity="0.12"/>
<path d="M425.8,897.6L436.6,897.6L431.2,887.7Z" fill="#000" fill-opacity="0.12"/>
<path d="M427.0,859.4L437.8,859.4L432.4,849.5Z" fill="#000" fill-opacity="0.12"/>
<path d="M428.2,930.5L439.0,930.5L433.6,920.6Z" fill="#000" fill-opacity="0.12"/>
<path d="M429.4,941.2L440.2,941.2L434.8,931.2Z" fill="#000" fill-opacity="0.12"/>
<path d="M430.6,873.1L441.4,873.1L436.0,863.1Z" fill="#000" fill-opacity="0.12"/>
<path d="M431.8,906.4L442.6,906.4L437.2,896.5Z" fill="#000" fill-opacity="0.12"/>
<path d="M433.0,953.7L443.8,953.7L438.4,943.7Z" fill="#000" fill-opacity="0.12"/>
<path d="M434.2,926.2L445.0,926.2L439.6,916.2Z" fill="#000" fill-opacity="0.12"/>
<path d="M435.4,940.5L446.2,940.5L440.8,930.5Z" fill="#000" fill-opacity="0.12"/>
<path d="M436.6,900.5L447.4,900.5L442.0,890.5Z" fill="#000" fill-opacity="0.12"/>
<path d="M437.8,907.6L448.6,907.6L443.2,897.6Z" fill="#000" fill-opacity="0.12"/>
<path d="M439.0,868.0L449.8,868.0L444.4,858.0Z" fill="#000" fill-opacity="0.12"/>
<path d="M440.2,884.7L451.0,884.7L445.6,874.8Z" fill="#000" fill-opacity="0.12"/>
<path d="M441.4,971.2L452.2,971.2L446.8,961.3Z" fill="#000" fill-opacity="0.12"/>
<path d="M442.6,896.3L453.4,896.3L448.0,886.3Z" fill="#000" fill-opacity="0.12"/>
<path d="M443.8,877.6L454.6,877.6L449.2,867.7Z" fill="#000" fill-opacity="0.12"/>
<path d="M445.0,894.4L455.8,894.4L450.4,884.5Z" fill="#000" fill-opacity="0.12"/>
<path d="M446.2,872.6L457.0,872.6L451.6,862.6Z" fill="#000" fill-opacity="0.12"/>
<path d="M447.4,932.6L458.2,932.6L452.8,922.7Z" fill="#000" fill-opacity="0.12"/>
<path d="M448.6,947.9L459.4,947.9L454.0,938.0Z" fill="#000" fill-opacity="0.12"/>
<path d="M449.8,876.4L460.6,876.4L455.2,866.4Z" fill="#000" fill-opacity="0.12"/>
<path d="M451.0,952.2L461.8,952.2L456.4,942.3Z" fill="#000" fill-opacity="0.12"/>
<path d="M452.2,993.9L463.0,993.9L457.6,983.9Z" fill="#000" fill-opacity="0.12"/>
<path d="M453.4,872.7L464.2,872.7L458.8,862.8Z" fill="#000" fill-opacity="0.12"/>
<path d="M454.6,939.3L465.4,939.3L460.0,929.3Z" fill="#000" fill-opacity="0.12"/>
<path d="M455.8,923.4L466.6,923.4L461.2,913.4Z" fill="#000" fill-opacity="0.12"/>
<path d="M218.8,964.9L229.6,964.9L224.2,955.0Z" fill="#000" fill-opacity="0.12"/>
<path d="M221.8,962.1L232.6,962.1L227.2,952.2Z" fill="#000" fill-opacity="0.12"/>
<path d="M224.8,955.7L235.6,955.7L230.2,945.8Z" fill="#000" fill-opacity="0.12"/>
<path d="M227.8,925.4L238.6,925.4L233.2,915.5Z" fill="#000" fill-opacity="0.12"/>
<path d="M230.8,897.7L241.6,897.7L236.2,887.7Z" fill="#000" fill-opacity="0.12"/>
<path d="M233.8,999.1L244.6,999.1L239.2,989.2Z" fill="#000" fill-opacity="0.12"/>
<path d="M236.8,883.1L247.6,883.1L242.2,873.2Z" fill="#000" fill-opacity="0.12"/>
<path d="M239.8,956.7L250.6,956.7L245.2,946.7Z" fill="#000" fill-opacity="0.12"/>
<path d="M242.8,952.3L253.6,952.3L248.2,942.3Z" fill="#000" fill-opacity="0.12"/>
<path d="M245.8,886.0L256.6,886.0L251.2,876.0Z" fill="#000" fill-opacity="0.12"/>
<path d="M248.8,914.6L259.6,914.6L254.2,904.6Z" fill="#000" fill-opacity="0.12"/>
<path d="M251.8,970.2L262.6,970.2L257.2,960.2Z" fill="#000" fill-opacity="0.12"/>
<path d="M254.8,841.6L265.6,841.6L260.2,831.6Z" fill="#000" fill-opacity="0.12"/>
<path d="M257.8,944.5L268.6,944.5L263.2,934.5Z" fill="#000" fill-opacity="0.12"/>
<path d="M260.8,902.3L271.6,902.3L266.2,892.4Z" fill="#000" fill-opacity="0.12"/>
<path d="M263.8,904.1L274.6,904.1L269.2,894.2Z" fill="#000" fill-opacity="0.12"/>
<path d="M266.8,858.1L277.6,858.1L272.2,848.1Z" fill="#000" fill-opacity="0.12"/>
<path d="M269.8,929.1L280.6,929.1L275.2,919.1Z" fill="#000" fill-opacity="0.12"/>
<path d="M272.8,873.4L283.6,873.4L278.2,863.5Z" fill="#000" fill-opacity="0.12"/>
<path d="M275.8,939.9L286.6,939.9L281.2,930.0Z" fill="#000" fill-opacity="0.12"/>
<path d="M278.8,869.1L289.6,869.1L284.2,859.1Z" fill="#000" fill-opacity="0.12"/>
<path d="M281.8,940.7L292.6,940.7L287.2,930.8Z" fill="#000" fill-opacity="0.12"/>
<path d="M284.8,925.5L295.6,925.5L290.2,915.6Z" fill="#000" fill-opacity="0.12"/>
<path d="M287.8,839.6L298.6,839.6L293.2,829.7Z" fill="#000" fill-opacity="0.12"/>
<path d="M290.8,899.7L301.6,899.7L296.2,889.7Z" fill="#000" fill-opacity="0.12"/>
<path d="M293.8,907.6L304.6,907.6L299.2,897.6Z" fill="#000" fill-opacity="0.12"/>
<path d="M296.8,826.5L307.6,826.5L302.2,816.5Z" fill="#000" fill-opacity="0.12"/>
<path d="M299.8,898.0L310.6,898.0L305.2,888.1Z" fill="#000" fill-opacity="0.12"/>
<path d="M302.8,942.8L313.6,942.8L308.2,932.8Z" fill="#000" fill-opacity="0.12"/>
<path d="M305.8,883.8L316.6,883.8L311.2,873.9Z" fill="#000" fill-opacity="0.12"/>
<path d="M308.8,956.7L319.6,956.7L314.2,946.7Z" fill="#000" fill-opacity="0.12"/>
<path d="M311.8,868.8L322.6,868.8L317.2,858.9Z" fill="#000" fill-opacity="0.12"/>
<path d="M314.8,865.9L325.6,865.9L320.2,855.9Z" fill="#000" fill-opacity="0.12"/>
<path d="M317.8,933.5L328.6,933.5L323.2,923.6Z" fill="#000" fill-opacity="0.12"/>
<path d="M320.8,935.6L331.6,935.6L326.2,925.7Z" fill="#000" fill-opacity="0.12"/>
<path d="M323.8,905.0L334.6,905.0L329.2,895.1Z" fill="#000" fill-opacity="0.12"/>
<path d="M326.8,911.2L337.6,911.2L332.2,901.3Z" fill="#000" fill-opacity="0.12"/>
<path d="M329.8,948.9L340.6,948.9L335.2,939.0Z" fill="#000" fill-opacity="0.12"/>
<path d="M332.8,890.1L343.6,890.1L338.2,880.2Z" fill="#000" fill-opacity="0.12"/>
<path d="M335.8,989.4L346.6,989.4L341.2,979.4Z" fill="#000" fill-opacity="0.12"/>
<path d="M338.8,928.2L349.6,928.2L344.2,918.3Z" fill="#000" fill-opacity="0.12"/>
<path d="M341.8,927.1L352.6,927.1L347.2,917.2Z" fill="#000" fill-opacity="0.12"/>
<path d="M344.8,922.1L355.6,922.1L350.2,912.2Z" fill="#000" fill-opacity="0.12"/>
<path d="M347.8,900.0L358.6,900.0L353.2,890.1Z" fill="#000" fill-opacity="0.12"/>
<path d="M350.8,958.4L361.6,958.4L356.2,948.5Z" fill="#000" fill-opacity="0.12"/>
<path d="M353.8,889.3L364.6,889.3L359.2,879.4Z" fill="#000" fill-opacity="0.12"/>
<path d="M356.8,918.6L367.6,918.6L362.2,908.6Z" fill="#000" fill-opacity="0.12"/>
<path d="M359.8,936.5L370.6,936.5L365.2,926.5Z" fill="#000" fill-opacity="0.12"/>
<path d="M362.8,963.7L373.6,963.7L368.2,953.8Z" fill="#000" fill-opacity="0.12"/>
<path d="M365.8,956.7L376.6,956.7L371.2,946.8Z" fill="#000" fill-opacity="0.12"/>
<path d="M368.8,898.0L379.6,898.0L374.2,888.1Z" fill="#000" fill-opacity="0.12"/>
<path d="M371.8,948.4L382.6,948.4L377.2,938.4Z" fill="#000" fill-opacity="0.12"/>
<path d="M374.8,909.3L385.6,909.3L380.2,899.4Z" fill="#000" fill-opacity="0.12"/>
<path d="M377.8,871.3L388.6,871.3L383.2,861.4Z" fill="#000" fill-opacity="0.12"/>
<path d="M380.8,872.5L391.6,872.5L386.2,862.5Z" fill="#000" fill-opacity="0.12"/>
<path d="M383.8,852.4L394.6,852.4L389.2,842.5Z" fill="#000" fill-opacity="0.12"/>
<path d="M386.8,923.0L397.6,923.0L392.2,913.1Z" fill="#000" fill-opacity="0.12"/>
<path d="M389.8,953.0L400.6,953.0L395.2,943.1Z" fill="#000" fill-opacity="0.12"/>
<path d="M392.8,872.9L403.6,872.9L398.2,863.0Z" fill="#000" fill-opacity="0.12"/>
<path d="M395.8,900.0L406.6,900.0L401.2,890.0Z" fill="#000" fill-opacity="0.12"/>
<path d="M398.8,869.0L409.6,869.0L404.2,859.1Z" fill="#000" fill-opacity="0.12"/>
<path d="M401.8,911.3L412.6,911.3L407.2,901.4Z" fill="#000" fill-opacity="0.12"/>
<path d="M404.8,866.3L415.6,866.3L410.2,856.3Z" fill="#000" fill-opacity="0.12"/>
<path d="M407.8,879.5L418.6,879.5L413.2,869.6Z" fill="#000" fill-opacity="0.12"/>
<path d="M410.8,884.5L421.6,884.5L416.2,874.5Z" fill="#000" fill-opacity="0.12"/>
<path d="M413.8,892.6L424.6,892.6L419.2,882.6Z" fill="#000" fill-opacity="0.12"/>
<path d="M416.8,896.6L427.6,896.6L422.2,886.7Z" fill="#000" fill-opacity="0.12"/>
<path d="M419.8,902.9L430.6,902.9L425.2,892.9Z" fill="#000" fill-opacity="0.12"/>
<path d="M422.8,903.1L433.6,903.1L428.2,893.2Z" fill="#000" fill-opacity="0.12"/>
<path d="M425.8,874.1L436.6,874.1L431.2,864.1Z" fill="#000" fill-opacity="0.12"/>
<path d="M428.8,931.2L439.6,931.2L434.2,921.3Z" fill="#000" fill-opacity="0.12"/>
<path d="M431.8,845.7L442.6,845.7L437.2,835.8Z" fill="#000" fill-opacity="0.12"/>
<path d="M434.8,915.8L445.6,915.8L440.2,905.8Z" fill="#000" fill-opacity="0.12"/>
<path d="M437.8,874.3L448.6,874.3L443.2,864.3Z" fill="#000" fill-opacity="0.12"/>
<path d="M440.8,915.2L451.6,915.2L446.2,905.2Z" fill="#000" fill-opacity="0.12"/>
<path d="M443.8,921.1L454.6,921.1L449.2,911.2Z" fill="#000" fill-opacity="0.12"/>
<path d="M446.8,834.4L457.6,834.4L452.2,824.5Z" fill="#000" fill-opacity="0.12"/>
<path d="M449.8,923.5L460.6,923.5L455.2,913.6Z" fill="#000" fill-opacity="0.12"/>
<path d="M452.8,960.3L463.6,960.3L458.2,950.4Z" fill="#000" fill-opacity="0.12"/>
<path d="M455.8,938.9L466.6,938.9L461.2,928.9Z" fill="#000" fill-opacity="0.12"/>
<circle cx="103.6" cy="886.7" r="5.0" fill="#c83a2c" fill-opacity="0.13"/>
<circle cx="104.8" cy="837.3" r="5.0" fill="#c83a2c" fill-opacity="0.13"/>
<circle cx="106.0" cy="876.3" r="5.0" fill="#c83a2c" fill-opacity="0.13"/>
<circle cx="107.2" cy="861.7" r="5.0" fill="#c83a2c" fill-opacity="0.13"/>
<circle cx="108.4" cy="900.4" r="5.0" fill="#c83a2c" fill-opacity="0.13"/>
<circle cx="109.6" cy="873.3" r="5.0" fill="#c83a2c" fill-opacity="0.13"/>
<circle cx="110.8" cy="867.0" r="5.0" fill="#c83a2c" fill-opacity="0.13"/>
<circle cx="112.0" cy="844.3" r="5.0" fill="#c83a2c" fill-opacity="0.13"/>
<circle cx="113.2" cy="894.3" r="5.0" fill="#c83a2c" fill-opacity="0.13"/>
<circle cx="114.4" cy="868.3" r="5.0" fill="#c83a2c" fill-opacity="0.13"/>
<circle cx="115.6" cy="874.3" r="5.0" fill="#c83a2c" fill-opacity="0.13"/>
<circle cx="116.8" cy="900.8" r="5.0" fill="#c83a2c" fill-opacity="0.13"/>
<circle cx="118.0" cy="880.8" r="5.0" fill="#c83a2c" fill-opacity="0.13"/>
<circle cx="119.2" cy="885.7" r="5.0" fill="#c83a2c" fill-opacity="0.13"/>
<circle cx="120.4" cy="926.9" r="5.0" fill="#c83a2c" fill-opacity="0.13"/>
<circle cx="121.6" cy="868.4" r="5.0" fill="#c83a2c" fill-opacity="0.13"/>
<circle cx="122.8" cy="869.6" r="5.0" fill="#c83a2c" fill-opacity="0.13"/>
<circle cx="124.0" cy="889.2" r="5.0" fill="#c83a2c" fill-opacity="0.13"/>
<circle cx="125.2" cy="907.2" r="5.0" fill="#c83a2c" fill-opacity="0.13"/>
<circle cx="126.4" cy="850.8" r="5.0" fill="#c83a2c" fill-opacity="0.13"/>
<circle cx="127.6" cy="875.1" r="5.0" fill="#c83a2c" fill-opacity="0.13"/>
<circle cx="128.8" cy="860.0" r="5.0" fill="#c83a2c" fill-opacity="0.13"/>
<circle cx="130.0" cy="852.2" r="5.0" fill="#c83a2c" fill-opacity="0.13"/>
<circle cx="131.2" cy="890.8" r="5.0" fill="#c83a2c" fill-opacity="0.13"/>
<circle cx="132.4" cy="864.1" r="5.0" fill="#c83a2c" fill-opacity="0.13"/>
<circle cx="133.6" cy="885.2" r="5.0" fill="#c83a2c" fill-opacity="0.13"/>
<circle cx="134.8" cy="881.6" r="5.0" fill="#c83a2c" fill-opacity="0.13"/>
<circle cx="136.0" cy="882.1" r="5.0" fill="#c83a2c" fill-opacity="0.13"/>
<circle cx="137.2" cy="880.4" r="5.0" fill="#c83a2c" fill-opacity="0.13"/>
<circle cx="138.4" cy="858.1" r="5.0" fill="#c83a2c" fill-opacity="0.13"/>
<circle cx="139.6" cy="877.9" r="5.0" fill="#c83a2c" fill-opacity="0.13"/>
<circle cx="140.8" cy="883.5" r="5.0" fill="#c83a2c" fill-opacity="0.13"/>
<circle cx="142.0" cy="885.9" r="5.0" fill="#c83a2c" fill-opacity="0.13"/>
<circle cx="143.2" cy="873.6" r="5.0" fill="#c83a2c" fill-opacity="0.13"/>
<circle cx="144.4" cy="898.3" r="5.0" fill="#c83a2c" fill-opacity="0.13"/>
<circle cx="145.6" cy="890.5" r="5.0" fill="#c83a2c" fill-opacity="0.13"/>
<circle cx="146.8" cy="881.4" r="5.0" fill="#c83a2c" fill-opacity="0.13"/>
<circle cx="148.0" cy="891.7" r="5.0" fill="#c83a2c" fill-opacity="0.13"/>
<circle cx="149.2" cy="882.8" r="5.0" fill="#c83a2c" fill-opacity="0.13"/>
<circle cx="150.4" cy="892.6" r="5.0" fill="#c83a2c" fill-opacity="0.13"/>
<circle cx="151.6" cy="840.3" r="5.0" fill="#c83a2c" fill-opacity="0.13"/>
<circle cx="152.8" cy="853.8" r="5.0" fill="#c83a2c" fill-opacity="0.13"/>
<circle cx="154.0" cy="871.4" r="5.0" fill="#c83a2c" fill-opacity="0.13"/>
<circle cx="155.2" cy="881.5" r="5.0" fill="#c83a2c" fill-opacity="0.13"/>
<circle cx="156.4" cy="836.5" r="5.0" fill="#c83a2c" fill-opacity="0.13"/>
<circle cx="157.6" cy="873.9" r="5.0" fill="#c83a2c" fill-opacity="0.13"/>
<circle cx="158.8" cy="882.1" r="5.0" fill="#c83a2c" fill-opacity="0.13"/>
<circle cx="160.0" cy="874.3" r="5.0" fill="#c83a2c" fill-opacity="0.13"/>
<circle cx="161.2" cy="874.3" r="5.0" fill="#c83a2c" fill-opacity="0.13"/>
<circle cx="162.4" cy="852.2" r="5.0" fill="#c83a2c" fill-opacity="0.13"/>
<circle cx="163.6" cy="880.8" r="5.0" fill="#c83a2c" fill-opacity="0.13"/>
<circle cx="164.8" cy="838.4" r="5.0" fill="#c83a2c" fill-opacity="0.13"/>
<circle cx="166.0" cy="898.1" r="5.0" fill="#c83a2c" fill-opacity="0.13"/>
<circle cx="167.2" cy="866.5" r="5.0" fill="#c83a2c" fill-opacity="0.13"/>
<circle cx="168.4" cy="900.4" r="5.0" fill="#c83a2c" fill-opacity="0.13"/>
<circle cx="169.6" cy="844.0" r="5.0" fill="#c83a2c" fill-opacity="0.13"/>
<circle cx="170.8" cy="887.0" r="5.0" fill="#c83a2c" fill-opacity="0.13"/>
<circle cx="172.0" cy="881.6" r="5.0" fill="#c83a2c" fill-opacity="0.13"/>
<circle cx="173.2" cy="861.9" r="5.0" fill="#c83a2c" fill-opacity="0.13"/>
<circle cx="174.4" cy="855.3" r="5.0" fill="#c83a2c" fill-opacity="0.13"/>
<circle cx="175.6" cy="902.7" r="5.0" fill="#c83a2c" fill-opacity="0.13"/>
<circle cx="176.8" cy="887.3" r="5.0" fill="#c83a2c" fill-opacity="0.13"/>
<circle cx="178.0" cy="908.3" r="5.0" fill="#c83a2c" fill-opacity="0.13"/>
<circle cx="179.2" cy="877.6" r="5.0" fill="#c83a2c" fill-opacity="0.13"/>
<circle cx="180.4" cy="882.4" r="5.0" fill="#c83a2c" fill-opacity="0.13"/>
<circle cx="181.6" cy="887.4" r="5.0" fill="#c83a2c" fill-opacity="0.13"/>
<circle cx="182.8" cy="894.1" r="5.0" fill="#c83a2c" fill-opacity="0.13"/>
<circle cx="184.0" cy="888.1" r="5.0" fill="#c83a2c" fill-opacity="0.13"/>
<circle cx="185.2" cy="895.3" r="5.0" fill="#c83a2c" fill-opacity="0.13"/>
<circle cx="186.4" cy="869.8" r="5.0" fill="#c83a2c" fill-opacity="0.13"/>
<circle cx="187.6" cy="850.1" r="5.0" fill="#c83a2c" fill-opacity="0.13"/>
<circle cx="188.8" cy="919.0" r="5.0" fill="#c83a2c" fill-opacity="0.13"/>
<circle cx="190.0" cy="882.7" r="5.0" fill="#c83a2c" fill-opacity="0.13"/>
<circle cx="191.2" cy="888.8" r="5.0" fill="#c83a2c" fill-opacity="0.13"/>
<circle cx="192.4" cy="870.5" r="5.0" fill="#c83a2c" fill-opacity="0.13"/>
<circle cx="193.6" cy="899.4" r="5.0" fill="#c83a2c" fill-opacity="0.13"/>
<circle cx="194.8" cy="883.3" r="5.0" fill="#c83a2c" fill-opacity="0.13"/>
<circle cx="196.0" cy="901.2" r="5.0" fill="#c83a2c" fill-opacity="0.13"/>
<circle cx="197.2" cy="866.5" r="5.0" fill="#c83a2c" fill-opacity="0.13"/>
<circle cx="198.4" cy="878.4" r="5.0" fill="#c83a2c" fill-opacity="0.13"/>
<circle cx="199.6" cy="883.6" r="5.0" fill="#c83a2c" fill-opacity="0.13"/>
<circle cx="200.8" cy="873.0" r="5.0" fill="#c83a2c" fill-opacity="0.13"/>
<circle cx="202.0" cy="885.3" r="5.0" fill="#c83a2c" fill-opacity="0.13"/>
<circle cx="203.2" cy="911.5" r="5.0" fill="#c83a2c" fill-opacity="0.13"/>
<circle cx="204.4" cy="868.5" r="5.0" fill="#c83a2c" fill-opacity="0.13"/>
<circle cx="205.6" cy="874.6" r="5.0" fill="#c83a2c" fill-opacity="0.13"/>
<circle cx="206.8" cy="883.5" r="5.0" fill="#c83a2c" fill-opacity="0.13"/>
<circle cx="208.0" cy="860.7" r="5.0" fill="#c83a2c" fill-opacity="0.13"/>
<circle cx="209.2" cy="856.0" r="5.0" fill="#c83a2c" fill-opacity="0.13"/>
<circle cx="210.4" cy="902.3" r="5.0" fill="#c83a2c" fill-opacity="0.13"/>
<circle cx="211.6" cy="896.0" r="5.0" fill="#c83a2c" fill-opacity="0.13"/>
<circle cx="212.8" cy="849.4" r="5.0" fill="#c83a2c" fill-opacity="0.13"/>
<circle cx="214.0" cy="852.0" r="5.0" fill="#c83a2c" fill-opacity="0.13"/>
<circle cx="215.2" cy="895.2" r="5.0" fill="#c83a2c" fill-opacity="0.13"/>
<circle cx="216.4" cy="904.0" r="5.0" fill="#c83a2c" fill-opacity="0.13"/>
<circle cx="217.6" cy="893.2" r="5.0" fill="#c83a2c" fill-opacity="0.13"/>
<circle cx="218.8" cy="890.4" r="5.0" fill="#c83a2c" fill-opacity="0.13"/>
<circle cx="220.0" cy="912.1" r="5.0" fill="#c83a2c" fill-opacity="0.13"/>
<circle cx="221.2" cy="879.8" r="5.0" fill="#c83a2c" fill-opacity="0.13"/>
<circle cx="222.4" cy="956.1" r="5.0" fill="#c83a2c" fill-opacity="0.13"/>
<circle cx="223.6" cy="969.6" r="5.0" fill="#c83a2c" fill-opacity="0.13"/>
<circle cx="224.8" cy="947.7" r="5.0" fill="#c83a2c" fill-opacity="0.13"/>
<circle cx="226.0" cy="991.9" r="5.0" fill="#c83a2c" fill-opacity="0.13"/>
<circle cx="227.2" cy="995.5" r="5.0" fill="#c83a2c" fill-opacity="0.13"/>
<circle cx="228.4" cy="996.7" r="5.0" fill="#c83a2c" fill-opacity="0.13"/>
<circle cx="229.6" cy="1006.4" r="5.0" fill="#c83a2c" fill-opacity="0.13"/>
<circle cx="230.8" cy="1039.4" r="5.0" fill="#c83a2c" fill-opacity="0.13"/>
<circle cx="232.0" cy="1044.2" r="5.0" fill="#c83a2c" fill-opacity="0.13"/>
<circle cx="233.2" cy="1070.8" r="5.0" fill="#c83a2c" fill-opacity="0.13"/>
<circle cx="234.4" cy="1034.8" r="5.0" fill="#c83a2c" fill-opacity="0.13"/>
<circle cx="235.6" cy="1064.4" r="5.0" fill="#c83a2c" fill-opacity="0.13"/>
<circle cx="236.8" cy="1105.2" r="5.0" fill="#c83a2c" fill-opacity="0.13"/>
<circle cx="238.0" cy="1094.0" r="5.0" fill="#c83a2c" fill-opacity="0.13"/>
<circle cx="239.2" cy="1089.5" r="5.0" fill="#c83a2c" fill-opacity="0.13"/>
<circle cx="240.4" cy="1101.5" r="5.0" fill="#c83a2c" fill-opacity="0.13"/>
<circle cx="241.6" cy="1084.5" r="5.0" fill="#c83a2c" fill-opacity="0.13"/>
<circle cx="242.8" cy="1099.7" r="5.0" fill="#c83a2c" fill-opacity="0.13"/>
<circle cx="244.0" cy="1140.7" r="5.0" fill="#c83a2c" fill-opacity="0.13"/>
<circle cx="245.2" cy="1138.8" r="5.0" fill="#c83a2c" fill-opacity="0.13"/>
<circle cx="246.4" cy="1166.2" r="5.0" fill="#c83a2c" fill-opacity="0.13"/>
<circle cx="247.6" cy="1144.1" r="5.0" fill="#c83a2c" fill-opacity="0.13"/>
<circle cx="248.8" cy="1151.1" r="5.0" fill="#c83a2c" fill-opacity="0.13"/>
<circle cx="250.0" cy="1110.1" r="5.0" fill="#c83a2c" fill-opacity="0.13"/>
<circle cx="251.2" cy="1161.7" r="5.0" fill="#c83a2c" fill-opacity="0.13"/>
<circle cx="252.4" cy="1205.6" r="5.0" fill="#c83a2c" fill-opacity="0.13"/>
<circle cx="253.6" cy="1184.2" r="5.0" fill="#c83a2c" fill-opacity="0.13"/>
<circle cx="254.8" cy="1174.0" r="5.0" fill="#c83a2c" fill-opacity="0.13"/>
<circle cx="256.0" cy="1202.3" r="5.0" fill="#c83a2c" fill-opacity="0.13"/>
<circle cx="257.2" cy="1198.8" r="5.0" fill="#c83a2c" fill-opacity="0.13"/>
<circle cx="258.4" cy="1193.1" r="5.0" fill="#c83a2c" fill-opacity="0.13"/>
<circle cx="259.6" cy="1183.5" r="5.0" fill="#c83a2c" fill-opacity="0.13"/>
<circle cx="260.8" cy="1195.6" r="5.0" fill="#c83a2c" fill-opacity="0.13"/>
<circle cx="262.0" cy="1211.4" r="5.0" fill="#c83a2c" fill-opacity="0.13"/>
<circle cx="263.2" cy="1183.9" r="5.0" fill="#c83a2c" fill-opacity="0.13"/>
<circle cx="264.4" cy="1210.3" r="5.0" fill="#c83a2c" fill-opacity="0.13"/>
<circle cx="265.6" cy="1211.9" r="5.0" fill="#c83a2c" fill-opacity="0.13"/>
<circle cx="266.8" cy="1230.0" r="5.0" fill="#c83a2c" fill-opacity="0.13"/>
<circle cx="268.0" cy="1221.4" r="5.0" fill="#c83a2c" fill-opacity="0.13"/>
<circle cx="269.2" cy="1197.5" r="5.0" fill="#c83a2c" fill-opacity="0.13"/>
<circle cx="270.4" cy="1240.2" r="5.0" fill="#c83a2c" fill-opacity="0.13"/>
<circle cx="271.6" cy="1214.1" r="5.0" fill="#c83a2c" fill-opacity="0.13"/>
<circle cx="272.8" cy="1201.6" r="5.0" fill="#c83a2c" fill-opacity="0.13"/>
<circle cx="274.0" cy="1222.9" r="5.0" fill="#c83a2c" fill-opacity="0.13"/>
<circle cx="275.2" cy="1213.3" r="5.0" fill="#c83a2c" fill-opacity="0.13"/>
<circle cx="276.4" cy="1239.1" r="5.0" fill="#c83a2c" fill-opacity="0.13"/>
<circle cx="277.6" cy="1196.8" r="5.0" fill="#c83a2c" fill-opacity="0.13"/>
<circle cx="278.8" cy="1201.8" r="5.0" fill="#c83a2c" fill-opacity="0.13"/>
<circle cx="280.0" cy="1218.6" r="5.0" fill="#c83a2c" fill-opacity="0.13"/>
<circle cx="281.2" cy="1255.5" r="5.0" fill="#c83a2c" fill-opacity="0.13"/>
<circle cx="282.4" cy="1243.8" r="5.0" fill="#c83a2c" fill-opacity="0.13"/>
<circle cx="283.6" cy="1208.4" r="5.0" fill="#c83a2c" fill-opacity="0.13"/>
<circle cx="284.8" cy="1196.1" r="5.0" fill="#c83a2c" fill-opacity="0.13"/>
<circle cx="286.0" cy="1222.5" r="5.0" fill="#c83a2c" fill-opacity="0.13"/>
<circle cx="287.2" cy="1206.2" r="5.0" fill="#c83a2c" fill-opacity="0.13"/>
<circle cx="288.4" cy="1240.4" r="5.0" fill="#c83a2c" fill-opacity="0.13"/>
<circle cx="289.6" cy="1233.6" r="5.0" fill="#c83a2c" fill-opacity="0.13"/>
<circle cx="290.8" cy="1230.9" r="5.0" fill="#c83a2c" fill-opacity="0.13"/>
<circle cx="292.0" cy="1224.0" r="5.0" fill="#c83a2c" fill-opacity="0.13"/>
<circle cx="293.2" cy="1259.8" r="5.0" fill="#c83a2c" fill-opacity="0.13"/>
<circle cx="294.4" cy="1215.9" r="5.0" fill="#c83a2c" fill-opacity="0.13"/>
<circle cx="295.6" cy="1209.6" r="5.0" fill="#c83a2c" fill-opacity="0.13"/>
<circle cx="296.8" cy="1254.6" r="5.0" fill="#c83a2c" fill-opacity="0.13"/>
<circle cx="298.0" cy="1258.9" r="5.0" fill="#c83a2c" fill-opacity="0.13"/>
<circle cx="299.2" cy="1228.6" r="5.0" fill="#c83a2c" fill-opacity="0.13"/>
<circle cx="300.4" cy="1247.2" r="5.0" fill="#c83a2c" fill-opacity="0.13"/>
<circle cx="301.6" cy="1278.5" r="5.0" fill="#c83a2c" fill-opacity="0.13"/>
<circle cx="302.8" cy="1221.6" r="5.0" fill="#c83a2c" fill-opacity="0.13"/>
<circle cx="304.0" cy="1233.8" r="5.0" fill="#c83a2c" fill-opacity="0.13"/>
<circle cx="305.2" cy="1245.5" r="5.0" fill="#c83a2c" fill-opacity="0.13"/>
<circle cx="306.4" cy="1199.2" r="5.0" fill="#c83a2c" fill-opacity="0.13"/>
<circle cx="307.6" cy="1235.1" r="5.0" fill="#c83a2c" fill-opacity="0.13"/>
<circle cx="308.8" cy="1251.5" r="5.0" fill="#c83a2c" fill-opacity="0.13"/>
<circle cx="310.0" cy="1236.4" r="5.0" fill="#c83a2c" fill-opacity="0.13"/>
<circle cx="311.2" cy="1257.2" r="5.0" fill="#c83a2c" fill-opacity="0.13"/>
<circle cx="312.4" cy="1252.4" r="5.0" fill="#c83a2c" fill-opacity="0.13"/>
<circle cx="313.6" cy="1232.0" r="5.0" fill="#c83a2c" fill-opacity="0.13"/>
<circle cx="314.8" cy="1249.2" r="5.0" fill="#c83a2c" fill-opacity="0.13"/>
<circle cx="316.0" cy="1247.5" r="5.0" fill="#c83a2c" fill-opacity="0.13"/>
<circle cx="317.2" cy="1209.5" r="5.0" fill="#c83a2c" fill-opacity="0.13"/>
<circle cx="318.4" cy="1224.3" r="5.0" fill="#c83a2c" fill-opacity="0.13"/>
<circle cx="319.6" cy="1225.5" r="5.0" fill="#c83a2c" fill-opacity="0.13"/>
<circle cx="320.8" cy="1230.6" r="5.0" fill="#c83a2c" fill-opacity="0.13"/>
<circle cx="322.0" cy="1231.6" r="5.0" fill="#c83a2c" fill-opacity="0.13"/>
<circle cx="323.2" cy="1214.2" r="5.0" fill="#c83a2c" fill-opacity="0.13"/>
<circle cx="324.4" cy="1241.0" r="5.0" fill="#c83a2c" fill-opacity="0.13"/>
<circle cx="325.6" cy="1207.3" r="5.0" fill="#c83a2c" fill-opacity="0.13"/>
<circle cx="326.8" cy="1258.0" r="5.0" fill="#c83a2c" fill-opacity="0.13"/>
<circle cx="328.0" cy="1245.6" r="5.0" fill="#c83a2c" fill-opacity="0.13"/>
<circle cx="329.2" cy="1265.9" r="5.0" fill="#c83a2c" fill-opacity="0.13"/>
<circle cx="330.4" cy="1247.4" r="5.0" fill="#c83a2c" fill-opacity="0.13"/>
<circle cx="331.6" cy="1232.0" r="5.0" fill="#c83a2c" fill-opacity="0.13"/>
<circle cx="332.8" cy="1215.3" r="5.0" fill="#c83a2c" fill-opacity="0.13"/>
<circle cx="334.0" cy="1253.5" r="5.0" fill="#c83a2c" fill-opacity="0.13"/>
<circle cx="335.2" cy="1241.5" r="5.0" fill="#c83a2c" fill-opacity="0.13"/>
<circle cx="336.4" cy="1248.1" r="5.0" fill="#c83a2c" fill-opacity="0.13"/>
<circle cx="337.6" cy="1255.1" r="5.0" fill="#c83a2c" fill-opacity="0.13"/>
<circle cx="338.8" cy="1263.3" r="5.0" fill="#c83a2c" fill-opacity="0.13"/>
<circle cx="340.0" cy="1240.8" r="5.0" fill="#c83a2c" fill-opacity="0.13"/>
<circle cx="341.2" cy="1273.2" r="5.0" fill="#c83a2c" fill-opacity="0.13"/>
<circle cx="342.4" cy="1240.0" r="5.0" fill="#c83a2c" fill-opacity="0.13"/>
<circle cx="343.6" cy="1241.7" r="5.0" fill="#c83a2c" fill-opacity="0.13"/>
<circle cx="344.8" cy="1254.0" r="5.0" fill="#c83a2c" fill-opacity="0.13"/>
<circle cx="346.0" cy="1260.4" r="5.0" fill="#c83a2c" fill-opacity="0.13"/>
<circle cx="347.2" cy="1267.2" r="5.0" fill="#c83a2c" fill-opacity="0.13"/>
<circle cx="348.4" cy="1208.6" r="5.0" fill="#c83a2c" fill-opacity="0.13"/>
<circle cx="349.6" cy="1266.5" r="5.0" fill="#c83a2c" fill-opacity="0.13"/>
<circle cx="350.8" cy="1214.3" r="5.0" fill="#c83a2c" fill-opacity="0.13"/>
<circle cx="352.0" cy="1231.6" r="5.0" fill="#c83a2c" fill-opacity="0.13"/>
<circle cx="353.2" cy="1249.0" r="5.0" fill="#c83a2c" fill-opacity="0.13"/>
<circle cx="354.4" cy="1263.3" r="5.0" fill="#c83a2c" fill-opacity="0.13"/>
<circle cx="355.6" cy="1223.7" r="5.0" fill="#c83a2c" fill-opacity="0.13"/>
<circle cx="356.8" cy="1211.4" r="5.0" fill="#c83a2c" fill-opacity="0.13"/>
<circle cx="358.0" cy="1259.4" r="5.0" fill="#c83a2c" fill-opacity="0.13"/>
<circle cx="359.2" cy="1248.0" r="5.0" fill="#c83a2c" fill-opacity="0.13"/>
<circle cx="360.4" cy="1223.7" r="5.0" fill="#c83a2c" fill-opacity="0.13"/>
<circle cx="361.6" cy="1236.6" r="5.0" fill="#c83a2c" fill-opacity="0.13"/>
<circle cx="362.8" cy="1206.6" r="5.0" fill="#c83a2c" fill-opacity="0.13"/>
<circle cx="364.0" cy="1253.0" r="5.0" fill="#c83a2c" fill-opacity="0.13"/>
<circle cx="365.2" cy="1232.9" r="5.0" fill="#c83a2c" fill-opacity="0.13"/>
<circle cx="366.4" cy="1265.3" r="5.0" fill="#c83a2c" fill-opacity="0.13"/>
<circle cx="367.6" cy="1205.0" r="5.0" fill="#c83a2c" fill-opacity="0.13"/>
<circle cx="368.8" cy="1255.9" r="5.0" fill="#c83a2c" fill-opacity="0.13"/>
<circle cx="370.0" cy="1282.6" r="5.0" fill="#c83a2c" fill-opacity="0.13"/>
<circle cx="371.2" cy="1245.1" r="5.0" fill="#c83a2c" fill-opacity="0.13"/>
<circle cx="372.4" cy="1245.3" r="5.0" fill="#c83a2c" fill-opacity="0.13"/>
<circle cx="373.6" cy="1208.3" r="5.0" fill="#c83a2c" fill-opacity="0.13"/>
<circle cx="374.8" cy="1248.9" r="5.0" fill="#c83a2c" fill-opacity="0.13"/>
<circle cx="376.0" cy="1243.1" r="5.0" fill="#c83a2c" fill-opacity="0.13"/>
<circle cx="377.2" cy="1232.2" r="5.0" fill="#c83a2c" fill-opacity="0.13"/>
<circle cx="378.4" cy="1214.3" r="5.0" fill="#c83a2c" fill-opacity="0.13"/>
<circle cx="379.6" cy="1244.0" r="5.0" fill="#c83a2c" fill-opacity="0.13"/>
<circle cx="380.8" cy="1224.2" r="5.0" fill="#c83a2c" fill-opacity="0.13"/>
<circle cx="382.0" cy="1233.6" r="5.0" fill="#c83a2c" fill-opacity="0.13"/>
<circle cx="383.2" cy="1248.3" r="5.0" fill="#c83a2c" fill-opacity="0.13"/>
<circle cx="384.4" cy="1241.5" r="5.0" fill="#c83a2c" fill-opacity="0.13"/>
<circle cx="385.6" cy="1242.4" r="5.0" fill="#c83a2c" fill-opacity="0.13"/>
<circle cx="386.8" cy="1259.4" r="5.0" fill="#c83a2c" fill-opacity="0.13"/>
<circle cx="388.0" cy="1221.1" r="5.0" fill="#c83a2c" fill-opacity="0.13"/>
<circle cx="389.2" cy="1267.9" r="5.0" fill="#c83a2c" fill-opacity="0.13"/>
<circle cx="390.4" cy="1221.9" r="5.0" fill="#c83a2c" fill-opacity="0.13"/>
<circle cx="391.6" cy="1225.8" r="5.0" fill="#c83a2c" fill-opacity="0.13"/>
<circle cx="392.8" cy="1244.6" r="5.0" fill="#c83a2c" fill-opacity="0.13"/>
<circle cx="394.0" cy="1256.8" r="5.0" fill="#c83a2c" fill-opacity="0.13"/>
<circle cx="395.2" cy="1247.1" r="5.0" fill="#c83a2c" fill-opacity="0.13"/>
<circle cx="396.4" cy="1234.5" r="5.0" fill="#c83a2c" fill-opacity="0.13"/>
<circle cx="397.6" cy="1229.6" r="5.0" fill="#c83a2c" fill-opacity="0.13"/>
<circle cx="398.8" cy="1237.8" r="5.0" fill="#c83a2c" fill-opacity="0.13"/>
<circle cx="400.0" cy="1225.1" r="5.0" fill="#c83a2c" fill-opacity="0.13"/>
<circle cx="401.2" cy="1253.0" r="5.0" fill="#c83a2c" fill-opacity="0.13"/>
<circle cx="402.4" cy="1238.8" r="5.0" fill="#c83a2c" fill-opacity="0.13"/>
<circle cx="403.6" cy="1271.3" r="5.0" fill="#c83a2c" fill-opacity="0.13"/>
<circle cx="404.8" cy="1229.3" r="5.0" fill="#c83a2c" fill-opacity="0.13"/>
<circle cx="406.0" cy="1240.3" r="5.0" fill="#c83a2c" fill-opacity="0.13"/>
<circle cx="407.2" cy="1250.5" r="5.0" fill="#c83a2c" fill-opacity="0.13"/>
<circle cx="408.4" cy="1222.1" r="5.0" fill="#c83a2c" fill-opacity="0.13"/>
<circle cx="409.6" cy="1230.6" r="5.0" fill="#c83a2c" fill-opacity="0.13"/>
<circle cx="410.8" cy="1293.8" r="5.0" fill="#c83a2c" fill-opacity="0.13"/>
<circle cx="412.0" cy="1242.3" r="5.0" fill="#c83a2c" fill-opacity="0.13"/>
<circle cx="413.2" cy="1269.2" r="5.0" fill="#c83a2c" fill-opacity="0.13"/>
<circle cx="414.4" cy="1223.8" r="5.0" fill="#c83a2c" fill-opacity="0.13"/>
<circle cx="415.6" cy="1198.2" r="5.0" fill="#c83a2c" fill-opacity="0.13"/>
<circle cx="416.8" cy="1252.4" r="5.0" fill="#c83a2c" fill-opacity="0.13"/>
<circle cx="418.0" cy="1241.7" r="5.0" fill="#c83a2c" fill-opacity="0.13"/>
<circle cx="419.2" cy="1247.6" r="5.0" fill="#c83a2c" fill-opacity="0.13"/>
<circle cx="420.4" cy="1236.7" r="5.0" fill="#c83a2c" fill-opacity="0.13"/>
<circle cx="421.6" cy="1231.4" r="5.0" fill="#c83a2c" fill-opacity="0.13"/>
<circle cx="422.8" cy="1219.9" r="5.0" fill="#c83a2c" fill-opacity="0.13"/>
<circle cx="424.0" cy="1260.8" r="5.0" fill="#c83a2c" fill-opacity="0.13"/>
<circle cx="425.2" cy="1214.7" r="5.0" fill="#c83a2c" fill-opacity="0.13"/>
<circle cx="426.4" cy="1259.8" r="5.0" fill="#c83a2c" fill-opacity="0.13"/>
<circle cx="427.6" cy="1238.1" r="5.0" fill="#c83a2c" fill-opacity="0.13"/>
<circle cx="428.8" cy="1222.2" r="5.0" fill="#c83a2c" fill-opacity="0.13"/>
<circle cx="430.0" cy="1230.2" r="5.0" fill="#c83a2c" fill-opacity="0.13"/>
<circle cx="431.2" cy="1260.0" r="5.0" fill="#c83a2c" fill-opacity="0.13"/>
<circle cx="432.4" cy="1255.7" r="5.0" fill="#c83a2c" fill-opacity="0.13"/>
<circle cx="433.6" cy="1251.4" r="5.0" fill="#c83a2c" fill-opacity="0.13"/>
<circle cx="434.8" cy="1244.0" r="5.0" fill="#c83a2c" fill-opacity="0.13"/>
<circle cx="436.0" cy="1222.4" r="5.0" fill="#c83a2c" fill-opacity="0.13"/>
<circle cx="437.2" cy="1266.3" r="5.0" fill="#c83a2c" fill-opacity="0.13"/>
<circle cx="438.4" cy="1234.7" r="5.0" fill="#c83a2c" fill-opacity="0.13"/>
<circle cx="439.6" cy="1232.1" r="5.0" fill="#c83a2c" fill-opacity="0.13"/>
<circle cx="440.8" cy="1233.0" r="5.0" fill="#c83a2c" fill-opacity="0.13"/>
<circle cx="442.0" cy="1234.7" r="5.0" fill="#c83a2c" fill-opacity="0.13"/>
<circle cx="443.2" cy="1215.7" r="5.0" fill="#c83a2c" fill-opacity="0.13"/>
<circle cx="444.4" cy="1234.3" r="5.0" fill="#c83a2c" fill-opacity="0.13"/>
<circle cx="445.6" cy="1227.6" r="5.0" fill="#c83a2c" fill-opacity="0.13"/>
<circle cx="446.8" cy="1232.9" r="5.0" fill="#c83a2c" fill-opacity="0.13"/>
<circle cx="448.0" cy="1210.8" r="5.0" fill="#c83a2c" fill-opacity="0.13"/>
<circle cx="449.2" cy="1277.3" r="5.0" fill="#c83a2c" fill-opacity="0.13"/>
<circle cx="450.4" cy="1220.0" r="5.0" fill="#c83a2c" fill-opacity="0.13"/>
<circle cx="451.6" cy="1247.8" r="5.0" fill="#c83a2c" fill-opacity="0.13"/>
<circle cx="452.8" cy="1248.1" r="5.0" fill="#c83a2c" fill-opacity="0.13"/>
<circle cx="454.0" cy="1260.5" r="5.0" fill="#c83a2c" fill-opacity="0.13"/>
<circle cx="455.2" cy="1276.7" r="5.0" fill="#c83a2c" fill-opacity="0.13"/>
<circle cx="456.4" cy="1249.9" r="5.0" fill="#c83a2c" fill-opacity="0.13"/>
<circle cx="457.6" cy="1255.4" r="5.0" fill="#c83a2c" fill-opacity="0.13"/>
<circle cx="458.8" cy="1234.2" r="5.0" fill="#c83a2c" fill-opacity="0.13"/>
<circle cx="460.0" cy="1269.6" r="5.0" fill="#c83a2c" fill-opacity="0.13"/>
<circle cx="461.2" cy="1217.3" r="5.0" fill="#c83a2c" fill-opacity="0.13"/>
<path d="M98.3,902.8h10.5v10.5h-10.5Z" fill="#000" fill-opacity="0.08"/>
<path d="M99.5,911.1h10.5v10.5h-10.5Z" fill="#000" fill-opacity="0.08"/>
<path d="M100.8,918.5h10.5v10.5h-10.5Z" fill="#000" fill-opacity="0.08"/>
<path d="M102.0,919.8h10.5v10.5h-10.5Z" fill="#000" fill-opacity="0.08"/>
<path d="M103.2,925.3h10.5v10.5h-10.5Z" fill="#000" fill-opacity="0.08"/>
<path d="M104.3,915.9h10.5v10.5h-10.5Z" fill="#000" fill-opacity="0.08"/>
<path d="M105.5,907.1h10.5v10.5h-10.5Z" fill="#000" fill-opacity="0.08"/>
<path d="M106.8,910.0h10.5v10.5h-10.5Z" fill="#000" fill-opacity="0.08"/>
<path d="M108.0,929.8h10.5v10.5h-10.5Z" fill="#000" fill-opacity="0.08"/>
<path d="M109.2,911.4h10.5v10.5h-10.5Z" fill="#000" fill-opacity="0.08"/>
<path d="M110.4,921.5h10.5v10.5h-10.5Z" fill="#000" fill-opacity="0.08"/>
<path d="M111.6,904.6h10.5v10.5h-10.5Z" fill="#000" fill-opacity="0.08"/>
<path d="M112.8,877.3h10.5v10.5h-10.5Z" fill="#000" fill-opacity="0.08"/>
<path d="M114.0,897.2h10.5v10.5h-10.5Z" fill="#000" fill-opacity="0.08"/>
<path d="M115.2,912.2h10.5v10.5h-10.5Z" fill="#000" fill-opacity="0.08"/>
<path d="M116.3,933.2h10.5v10.5h-10.5Z" fill="#000" fill-opacity="0.08"/>
<path d="M117.6,929.8h10.5v10.5h-10.5Z" fill="#000" fill-opacity="0.08"/>
<path d="M118.8,934.2h10.5v10.5h-10.5Z" fill="#000" fill-opacity="0.08"/>
<path d="M120.0,895.5h10.5v10.5h-10.5Z" fill="#000" fill-opacity="0.08"/>
<path d="M121.2,919.4h10.5v10.5h-10.5Z" fill="#000" fill-opacity="0.08"/>
<path d="M122.3,906.2h10.5v10.5h-10.5Z" fill="#000" fill-opacity="0.08"/>
<path d="M123.6,917.1h10.5v10.5h-10.5Z" fill="#000" fill-opacity="0.08"/>
<path d="M124.8,905.7h10.5v10.5h-10.5Z" fill="#000" fill-opacity="0.08"/>
<path d="M125.9,884.7h10.5v10.5h-10.5Z" fill="#000" fill-opacity="0.08"/>
<path d="M127.2,918.1h10.5v10.5h-10.5Z" fill="#000" fill-opacity="0.08"/>
<path d="M128.3,912.6h10.5v10.5h-10.5Z" fill="#000" fill-opacity="0.08"/>
<path d="M129.6,920.1h10.5v10.5h-10.5Z" fill="#000" fill-opacity="0.08"/>
<path d="M130.8,893.2h10.5v10.5h-10.5Z" fill="#000" fill-opacity="0.08"/>
<path d="M131.9,923.6h10.5v10.5h-10.5Z" fill="#000" fill-opacity="0.08"/>
<path d="M133.2,925.3h10.5v10.5h-10.5Z" fill="#000" fill-opacity="0.08"/>
<path d="M134.3,929.4h10.5v10.5h-10.5Z" fill="#000" fill-opacity="0.08"/>
<path d="M135.6,929.7h10.5v10.5h-10.5Z" fill="#000" fill-opacity="0.08"/>
<path d="M136.8,899.6h10.5v10.5h-10.5Z" fill="#000" fill-opacity="0.08"/>
<path d="M137.9,866.0h10.5v10.5h-10.5Z" fill="#000" fill-opacity="0.08"/>
<path d="M139.2,923.1h10.5v10.5h-10.5Z" fill="#000" fill-opacity="0.08"/>
<path d="M140.4,891.9h10.5v10.5h-10.5Z" fill="#000" fill-opacity="0.08"/>
<path d="M141.6,903.2h10.5v10.5h-10.5Z" fill="#000" fill-opacity="0.08"/>
<path d="M142.8,924.8h10.5v10.5h-10.5Z" fill="#000" fill-opacity="0.08"/>
<path d="M143.9,911.6h10.5v10.5h-10.5Z" fill="#000" fill-opacity="0.08"/>
<path d="M145.2,910.9h10.5v10.5h-10.5Z" fill="#000" fill-opacity="0.08"/>
<path d="M146.4,918.2h10.5v10.5h-10.5Z" fill="#000" fill-opacity="0.08"/>
<path d="M147.6,876.3h10.5v10.5h-10.5Z" fill="#000" fill-opacity="0.08"/>
<path d="M148.8,937.7h10.5v10.5h-10.5Z" fill="#000" fill-opacity="0.08"/>
<path d="M149.9,901.1h10.5v10.5h-10.5Z" fill="#000" fill-opacity="0.08"/>
<path d="M151.2,901.9h10.5v10.5h-10.5Z" fill="#000" fill-opacity="0.08"/>
<path d="M152.4,916.5h10.5v10.5h-10.5Z" fill="#000" fill-opacity="0.08"/>
<path d="M153.6,904.8h10.5v10.5h-10.5Z" fill="#000" fill-opacity="0.08"/>
<path d="M154.8,893.1h10.5v10.5h-10.5Z" fill="#000" fill-opacity="0.08"/>
<path d="M155.9,904.7h10.5v10.5h-10.5Z" fill="#000" fill-opacity="0.08"/>
<path d="M157.2,900.5h10.5v10.5h-10.5Z" fill="#000" fill-opacity="0.08"/>
<path d="M158.4,896.1h10.5v10.5h-10.5Z" fill="#000" fill-opacity="0.08"/>
<path d="M159.6,939.7h10.5v10.5h-10.5Z" fill="#000" fill-opacity="0.08"/>
<path d="M160.8,883.5h10.5v10.5h-10.5Z" fill="#000" fill-opacity="0.08"/>
<path d="M161.9,870.7h10.5v10.5h-10.5Z" fill="#000" fill-opacity="0.08"/>
<path d="M163.2,891.5h10.5v10.5h-10.5Z" fill="#000" fill-opacity="0.08"/>
<path d="M164.4,890.9h10.5v10.5h-10.5Z" fill="#000" fill-opacity="0.08"/>
<path d="M165.6,929.7h10.5v10.5h-10.5Z" fill="#000" fill-opacity="0.08"/>
<path d="M166.8,909.1h10.5v10.5h-10.5Z" fill="#000" fill-opacity="0.08"/>
<path d="M167.9,920.2h10.5v10.5h-10.5Z" fill="#000" fill-opacity="0.08"/>
<path d="M169.2,916.6h10.5v10.5h-10.5Z" fill="#000" fill-opacity="0.08"/>
<path d="M170.4,891.7h10.5v10.5h-10.5Z" fill="#000" fill-opacity="0.08"/>
<path d="M171.6,920.0h10.5v10.5h-10.5Z" fill="#000" fill-opacity="0.08"/>
<path d="M172.8,909.3h10.5v10.5h-10.5Z" fill="#000" fill-opacity="0.08"/>
<path d="M174.0,937.7h10.5v10.5h-10.5Z" fill="#000" fill-opacity="0.08"/>
<path d="M175.2,909.7h10.5v10.5h-10.5Z" fill="#000" fill-opacity="0.08"/>
<path d="M176.4,905.7h10.5v10.5h-10.5Z" fill="#000" fill-opacity="0.08"/>
<path d="M177.6,918.5h10.5v10.5h-10.5Z" fill="#000" fill-opacity="0.08"/>
<path d="M178.8,918.7h10.5v10.5h-10.5Z" fill="#000" fill-opacity="0.08"/>
<path d="M180.0,877.0h10.5v10.5h-10.5Z" fill="#000" fill-opacity="0.08"/>
<path d="M181.2,926.5h10.5v10.5h-10.5Z" fill="#000" fill-opacity="0.08"/>
<path d="M182.4,924.0h10.5v10.5h-10.5Z" fill="#000" fill-opacity="0.08"/>
<path d="M183.6,920.1h10.5v10.5h-10.5Z" fill="#000" fill-opacity="0.08"/>
<path d="M184.8,888.0h10.5v10.5h-10.5Z" fill="#000" fill-opacity="0.08"/>
<path d="M186.0,873.5h10.5v10.5h-10.5Z" fill="#000" fill-opacity="0.08"/>
<path d="M187.2,901.9h10.5v10.5h-10.5Z" fill="#000" fill-opacity="0.08"/>
<path d="M188.4,918.7h10.5v10.5h-10.5Z" fill="#000" fill-opacity="0.08"/>
<path d="M189.6,914.0h10.5v10.5h-10.5Z" fill="#000" fill-opacity="0.08"/>
<path d="M190.8,890.1h10.5v10.5h-10.5Z" fill="#000" fill-opacity="0.08"/>
<path d="M192.0,921.8h10.5v10.5h-10.5Z" fill="#000" fill-opacity="0.08"/>
<path d="M193.2,883.9h10.5v10.5h-10.5Z" fill="#000" fill-opacity="0.08"/>
<path d="M194.4,884.5h10.5v10.5h-10.5Z" fill="#000" fill-opacity="0.08"/>
<path d="M195.6,906.0h10.5v10.5h-10.5Z" fill="#000" fill-opacity="0.08"/>
<path d="M196.8,896.8h10.5v10.5h-10.5Z" fill="#000" fill-opacity="0.08"/>
<path d="M198.0,895.2h10.5v10.5h-10.5Z" fill="#000" fill-opacity="0.08"/>
<path d="M199.2,882.3h10.5v10.5h-10.5Z" fill="#000" fill-opacity="0.08"/>
<path d="M200.4,924.0h10.5v10.5h-10.5Z" fill="#000" fill-opacity="0.08"/>
<path d="M201.6,888.3h10.5v10.5h-10.5Z" fill="#000" fill-opacity="0.08"/>
<path d="M202.8,913.2h10.5v10.5h-10.5Z" fill="#000" fill-opacity="0.08"/>
<path d="M204.0,919.5h10.5v10.5h-10.5Z" fill="#000" fill-opacity="0.08"/>
<path d="M205.2,905.5h10.5v10.5h-10.5Z" fill="#000" fill-opacity="0.08"/>
<path d="M206.4,910.6h10.5v10.5h-10.5Z" fill="#000" fill-opacity="0.08"/>
<path d="M207.6,923.0h10.5v10.5h-10.5Z" fill="#000" fill-opacity="0.08"/>
<path d="M208.8,932.7h10.5v10.5h-10.5Z" fill="#000" fill-opacity="0.08"/>
<path d="M210.0,922.3h10.5v10.5h-10.5Z" fill="#000" fill-opacity="0.08"/>
<path d="M211.2,883.9h10.5v10.5h-10.5Z" fill="#000" fill-opacity="0.08"/>
<path d="M212.4,875.7h10.5v10.5h-10.5Z" fill="#000" fill-opacity="0.08"/>
<path d="M213.6,896.8h10.5v10.5h-10.5Z" fill="#000" fill-opacity="0.08"/>
<path d="M214.8,888.2h10.5v10.5h-10.5Z" fill="#000" fill-opacity="0.08"/>
<path d="M216.0,915.4h10.5v10.5h-10.5Z" fill="#000" fill-opacity="0.08"/>
<path d="M217.2,1072.5h10.5v10.5h-10.5Z" fill="#000" fill-opacity="0.08"/>
<path d="M218.4,1066.2h10.5v10.5h-10.5Z" fill="#000" fill-opacity="0.08"/>
<path d="M219.6,1090.8h10.5v10.5h-10.5Z" fill="#000" fill-opacity="0.08"/>
<path d="M220.8,1089.1h10.5v10.5h-10.5Z" fill="#000" fill-opacity="0.08"/>
<path d="M222.0,1069.5h10.5v10.5h-10.5Z" fill="#000" fill-opacity="0.08"/>
<path d="M223.2,1077.1h10.5v10.5h-10.5Z" fill="#000" fill-opacity="0.08"/>
<path d="M224.4,1090.5h10.5v10.5h-10.5Z" fill="#000" fill-opacity="0.08"/>
<path d="M225.6,1064.3h10.5v10.5h-10.5Z" fill="#000" fill-opacity="0.08"/>
<path d="M226.8,1076.0h10.5v10.5h-10.5Z" fill="#000" fill-opacity="0.08"/>
<path d="M228.0,1052.9h10.5v10.5h-10.5Z" fill="#000" fill-opacity="0.08"/>
<path d="M229.2,1071.4h10.5v10.5h-10.5Z" fill="#000" fill-opacity="0.08"/>
<path d="M230.4,1076.7h10.5v10.5h-10.5Z" fill="#000" fill-opacity="0.08"/>
<path d="M231.6,1069.0h10.5v10.5h-10.5Z" fill="#000" fill-opacity="0.08"/>
<path d="M232.8,1074.4h10.5v10.5h-10.5Z" fill="#000" fill-opacity="0.08"/>
<path d="M234.0,1083.3h10.5v10.5h-10.5Z" fill="#000" fill-opacity="0.08"/>
<path d="M235.2,1078.5h10.5v10.5h-10.5Z" fill="#000" fill-opacity="0.08"/>
<path d="M236.4,1057.8h10.5v10.5h-10.5Z" fill="#000" fill-opacity="0.08"/>
<path d="M237.6,1059.6h10.5v10.5h-10.5Z" fill="#000" fill-opacity="0.08"/>
<path d="M238.8,1048.1h10.5v10.5h-10.5Z" fill="#000" fill-opacity="0.08"/>
<path d="M240.0,1101.8h10.5v10.5h-10.5Z" fill="#000" fill-opacity="0.08"/>
<path d="M241.2,1078.4h10.5v10.5h-10.5Z" fill="#000" fill-opacity="0.08"/>
<path d="M242.4,1078.8h10.5v10.5h-10.5Z" fill="#000" fill-opacity="0.08"/>
<path d="M243.6,1068.2h10.5v10.5h-10.5Z" fill="#000" fill-opacity="0.08"/>
<path d="M244.8,1079.4h10.5v10.5h-10.5Z" fill="#000" fill-opacity="0.08"/>
<path d="M246.0,1080.5h10.5v10.5h-10.5Z" fill="#000" fill-opacity="0.08"/>
<path d="M247.2,1057.2h10.5v10.5h-10.5Z" fill="#000" fill-opacity="0.08"/>
<path d="M248.4,1068.1h10.5v10.5h-10.5Z" fill="#000" fill-opacity="0.08"/>
<path d="M249.6,1092.3h10.5v10.5h-10.5Z" fill="#000" fill-opacity="0.08"/>
<path d="M250.8,1047.3h10.5v10.5h-10.5Z" fill="#000" fill-opacity="0.08"/>
<path d="M252.0,1053.3h10.5v10.5h-10.5Z" fill="#000" fill-opacity="0.08"/>
<path d="M253.2,1081.6h10.5v10.5h-10.5Z" fill="#000" fill-opacity="0.08"/>
<path d="M254.4,1056.3h10.5v10.5h-10.5Z" fill="#000" fill-opacity="0.08"/>
<path d="M255.6,1084.5h10.5v10.5h-10.5Z" fill="#000" fill-opacity="0.08"/>
<path d="M256.8,1051.0h10.5v10.5h-10.5Z" fill="#000" fill-opacity="0.08"/>
<path d="M258.0,1075.2h10.5v10.5h-10.5Z" fill="#000" fill-opacity="0.08"/>
<path d="M259.2,1085.8h10.5v10.5h-10.5Z" fill="#000" fill-opacity="0.08"/>
<path d="M260.4,1078.0h10.5v10.5h-10.5Z" fill="#000" fill-opacity="0.08"/>
<path d="M261.6,1085.1h10.5v10.5h-10.5Z" fill="#000" fill-opacity="0.08"/>
<path d="M262.8,1067.8h10.5v10.5h-10.5Z" fill="#000" fill-opacity="0.08"/>
<path d="M264.0,1068.1h10.5v10.5h-10.5Z" fill="#000" fill-opacity="0.08"/>
<path d="M265.2,1070.6h10.5v10.5h-10.5Z" fill="#000" fill-opacity="0.08"/>
<path d="M266.4,1081.3h10.5v10.5h-10.5Z" fill="#000" fill-opacity="0.08"/>
<path d="M267.6,1137.2h10.5v10.5h-10.5Z" fill="#000" fill-opacity="0.08"/>
<path d="M268.8,1069.6h10.5v10.5h-10.5Z" fill="#000" fill-opacity="0.08"/>
<path d="M270.0,1105.5h10.5v10.5h-10.5Z" fill="#000" fill-opacity="0.08"/>
<path d="M271.2,1066.9h10.5v10.5h-10.5Z" fill="#000" fill-opacity="0.08"/>
<path d="M272.4,1050.9h10.5v10.5h-10.5Z" fill="#000" fill-opacity="0.08"/>
<path d="M273.6,1066.4h10.5v10.5h-10.5Z" fill="#000" fill-opacity="0.08"/>
<path d="M274.8,1078.3h10.5v10.5h-10.5Z" fill="#000" fill-opacity="0.08"/>
<path d="M276.0,1074.5h10.5v10.5h-10.5Z" fill="#000" fill-opacity="0.08"/>
<path d="M277.2,1073.7h10.5v10.5h-10.5Z" fill="#000" fill-opacity="0.08"/>
<path d="M278.4,1081.2h10.5v10.5h-10.5Z" fill="#000" fill-opacity="0.08"/>
<path d="M279.6,1081.8h10.5v10.5h-10.5Z" fill="#000" fill-opacity="0.08"/>
<path d="M280.8,1087.9h10.5v10.5h-10.5Z" fill="#000" fill-opacity="0.08"/>
<path d="M282.0,1049.9h10.5v10.5h-10.5Z" fill="#000" fill-opacity="0.08"/>
<path d="M283.2,1071.6h10.5v10.5h-10.5Z" fill="#000" fill-opacity="0.08"/>
<path d="M284.4,1054.1h10.5v10.5h-10.5Z" fill="#000" fill-opacity="0.08"/>
<path d="M285.6,1075.8h10.5v10.5h-10.5Z" fill="#000" fill-opacity="0.08"/>
<path d="M286.8,1070.0h10.5v10.5h-10.5Z" fill="#000" fill-opacity="0.08"/>
<path d="M288.0,1074.4h10.5v10.5h-10.5Z" fill="#000" fill-opacity="0.08"/>
<path d="M289.2,1063.0h10.5v10.5h-10.5Z" fill="#000" fill-opacity="0.08"/>
<path d="M290.4,1056.4h10.5v10.5h-10.5Z" fill="#000" fill-opacity="0.08"/>
<path d="M291.6,1067.0h10.5v10.5h-10.5Z" fill="#000" fill-opacity="0.08"/>
<path d="M292.8,1083.4h10.5v10.5h-10.5Z" fill="#000" fill-opacity="0.08"/>
<path d="M294.0,1085.3h10.5v10.5h-10.5Z" fill="#000" fill-opacity="0.08"/>
<path d="M295.2,1041.4h10.5v10.5h-10.5Z" fill="#000" fill-opacity="0.08"/>
<path d="M296.4,1076.3h10.5v10.5h-10.5Z" fill="#000" fill-opacity="0.08"/>
<path d="M297.6,1076.5h10.5v10.5h-10.5Z" fill="#000" fill-opacity="0.08"/>
<path d="M298.8,1044.9h10.5v10.5h-10.5Z" fill="#000" fill-opacity="0.08"/>
<path d="M300.0,1051.7h10.5v10.5h-10.5Z" fill="#000" fill-opacity="0.08"/>
<path d="M301.2,1061.7h10.5v10.5h-10.5Z" fill="#000" fill-opacity="0.08"/>
<path d="M302.4,1078.5h10.5v10.5h-10.5Z" fill="#000" fill-opacity="0.08"/>
<path d="M303.6,1028.9h10.5v10.5h-10.5Z" fill="#000" fill-opacity="0.08"/>
<path d="M304.8,1064.2h10.5v10.5h-10.5Z" fill="#000" fill-opacity="0.08"/>
<path d="M306.0,1061.4h10.5v10.5h-10.5Z" fill="#000" fill-opacity="0.08"/>
<path d="M307.2,1074.4h10.5v10.5h-10.5Z" fill="#000" fill-opacity="0.08"/>
<path d="M308.4,1096.8h10.5v10.5h-10.5Z" fill="#000" fill-opacity="0.08"/>
<path d="M309.6,1095.3h10.5v10.5h-10.5Z" fill="#000" fill-opacity="0.08"/>
<path d="M310.8,1064.0h10.5v10.5h-10.5Z" fill="#000" fill-opacity="0.08"/>
<path d="M312.0,1064.2h10.5v10.5h-10.5Z" fill="#000" fill-opacity="0.08"/>
<path d="M313.2,1075.6h10.5v10.5h-10.5Z" fill="#000" fill-opacity="0.08"/>
<path d="M314.4,1092.4h10.5v10.5h-10.5Z" fill="#000" fill-opacity="0.08"/>
<path d="M315.6,1097.3h10.5v10.5h-10.5Z" fill="#000" fill-opacity="0.08"/>
<path d="M316.8,1077.2h10.5v10.5h-10.5Z" fill="#000" fill-opacity="0.08"/>
<path d="M318.0,1097.5h10.5v10.5h-10.5Z" fill="#000" fill-opacity="0.08"/>
<path d="M319.2,1055.1h10.5v10.5h-10.5Z" fill="#000" fill-opacity="0.08"/>
<path d="M320.4,1050.5h10.5v10.5h-10.5Z" fill="#000" fill-opacity="0.08"/>
<path d="M321.6,1020.3h10.5v10.5h-10.5Z" fill="#000" fill-opacity="0.08"/>
<path d="M322.8,1055.5h10.5v10.5h-10.5Z" fill="#000" fill-opacity="0.08"/>
<path d="M324.0,1082.0h10.5v10.5h-10.5Z" fill="#000" fill-opacity="0.08"/>
<path d="M325.2,1087.0h10.5v10.5h-10.5Z" fill="#000" fill-opacity="0.08"/>
<path d="M326.4,1133.5h10.5v10.5h-10.5Z" fill="#000" fill-opacity="0.08"/>
<path d="M327.6,1082.0h10.5v10.5h-10.5Z" fill="#000" fill-opacity="0.08"/>
<path d="M328.8,1074.5h10.5v10.5h-10.5Z" fill="#000" fill-opacity="0.08"/>
<path d="M330.0,1053.9h10.5v10.5h-10.5Z" fill="#000" fill-opacity="0.08"/>
<path d="M331.2,1060.3h10.5v10.5h-10.5Z" fill="#000" fill-opacity="0.08"/>
<path d="M332.4,1060.7h10.5v10.5h-10.5Z" fill="#000" fill-opacity="0.08"/>
<path d="M333.6,1067.4h10.5v10.5h-10.5Z" fill="#000" fill-opacity="0.08"/>
<path d="M334.8,1059.4h10.5v10.5h-10.5Z" fill="#000" fill-opacity="0.08"/>
<path d="M336.0,1045.2h10.5v10.5h-10.5Z" fill="#000" fill-opacity="0.08"/>
<path d="M337.2,1090.5h10.5v10.5h-10.5Z" fill="#000" fill-opacity="0.08"/>
<path d="M338.4,1079.5h10.5v10.5h-10.5Z" fill="#000" fill-opacity="0.08"/>
<path d="M339.6,1096.3h10.5v10.5h-10.5Z" fill="#000" fill-opacity="0.08"/>
<path d="M340.8,1042.1h10.5v10.5h-10.5Z" fill="#000" fill-opacity="0.08"/>
<path d="M342.0,1047.9h10.5v10.5h-10.5Z" fill="#000" fill-opacity="0.08"/>
<path d="M343.2,1057.7h10.5v10.5h-10.5Z" fill="#000" fill-opacity="0.08"/>
<path d="M344.4,1092.9h10.5v10.5h-10.5Z" fill="#000" fill-opacity="0.08"/>
<path d="M345.6,1068.2h10.5v10.5h-10.5Z" fill="#000" fill-opacity="0.08"/>
<path d="M346.8,1075.5h10.5v10.5h-10.5Z" fill="#000" fill-opacity="0.08"/>
<path d="M348.0,1069.8h10.5v10.5h-10.5Z" fill="#000" fill-opacity="0.08"/>
<path d="M349.2,1074.7h10.5v10.5h-10.5Z" fill="#000" fill-opacity="0.08"/>
<path d="M350.4,1061.9h10.5v10.5h-10.5Z" fill="#000" fill-opacity="0.08"/>
<path d="M351.6,1078.4h10.5v10.5h-10.5Z" fill="#000" fill-opacity="0.08"/>
<path d="M352.8,1055.9h10.5v10.5h-10.5Z" fill="#000" fill-opacity="0.08"/>
<path d="M354.0,1066.9h10.5v10.5h-10.5Z" fill="#000" fill-opacity="0.08"/>
<path d="M355.2,1076.6h10.5v10.5h-10.5Z" fill="#000" fill-opacity="0.08"/>
<path d="M356.4,1073.3h10.5v10.5h-10.5Z" fill="#000" fill-opacity="0.08"/>
<path d="M357.6,1079.2h10.5v10.5h-10.5Z" fill="#000" fill-opacity="0.08"/>
<path d="M358.8,1056.6h10.5v10.5h-10.5Z" fill="#000" fill-opacity="0.08"/>
<path d="M360.0,1076.2h10.5v10.5h-10.5Z" fill="#000" fill-opacity="0.08"/>
<path d="M361.2,1066.0h10.5v10.5h-10.5Z" fill="#000" fill-opacity="0.08"/>
<path d="M362.4,1078.4h10.5v10.5h-10.5Z" fill="#000" fill-opacity="0.08"/>
<path d="M363.6,1098.0h10.5v10.5h-10.5Z" fill="#000" fill-opacity="0.08"/>
<path d="M364.8,1055.0h10.5v10.5h-10.5Z" fill="#000" fill-opacity="0.08"/>
<path d="M366.0,1090.4h10.5v10.5h-10.5Z" fill="#000" fill-opacity="0.08"/>
<path d="M367.2,1059.1h10.5v10.5h-10.5Z" fill="#000" fill-opacity="0.08"/>
<path d="M368.4,1063.7h10.5v10.5h-10.5Z" fill="#000" fill-opacity="0.08"/>
<path d="M369.6,1101.1h10.5v10.5h-10.5Z" fill="#000" fill-opacity="0.08"/>
<path d="M370.8,1088.3h10.5v10.5h-10.5Z" fill="#000" fill-opacity="0.08"/>
<path d="M372.0,1080.6h10.5v10.5h-10.5Z" fill="#000" fill-opacity="0.08"/>
<path d="M373.2,1086.1h10.5v10.5h-10.5Z" fill="#000" fill-opacity="0.08"/>
<path d="M374.4,1092.6h10.5v10.5h-10.5Z" fill="#000" fill-opacity="0.08"/>
<path d="M375.6,1058.0h10.5v10.5h-10.5Z" fill="#000" fill-opacity="0.08"/>
<path d="M376.8,1075.6h10.5v10.5h-10.5Z" fill="#000" fill-opacity="0.08"/>
<path d="M378.0,1064.3h10.5v10.5h-10.5Z" fill="#000" fill-opacity="0.08"/>
<path d="M379.2,1079.0h10.5v10.5h-10.5Z" fill="#000" fill-opacity="0.08"/>
<path d="M380.4,1065.8h10.5v10.5h-10.5Z" fill="#000" fill-opacity="0.08"/>
<path d="M381.6,1084.8h10.5v10.5h-10.5Z" fill="#000" fill-opacity="0.08"/>
<path d="M382.8,1071.8h10.5v10.5h-10.5Z" fill="#000" fill-opacity="0.08"/>
<path d="M384.0,1060.8h10.5v10.5h-10.5Z" fill="#000" fill-opacity="0.08"/>
<path d="M385.2,1070.5h10.5v10.5h-10.5Z" fill="#000" fill-opacity="0.08"/>
<path d="M386.4,1079.5h10.5v10.5h-10.5Z" fill="#000" fill-opacity="0.08"/>
<path d="M387.6,1090.9h10.5v10.5h-10.5Z" fill="#000" fill-opacity="0.08"/>
<path d="M388.8,1068.3h10.5v10.5h-10.5Z" fill="#000" fill-opacity="0.08"/>
<path d="M390.0,1065.1h10.5v10.5h-10.5Z" fill="#000" fill-opacity="0.08"/>
<path d="M391.2,1075.9h10.5v10.5h-10.5Z" fill="#000" fill-opacity="0.08"/>
<path d="M392.4,1085.2h10.5v10.5h-10.5Z" fill="#000" fill-opacity="0.08"/>
<path d="M393.6,1061.5h10.5v10.5h-10.5Z" fill="#000" fill-opacity="0.08"/>
<path d="M394.8,1026.6h10.5v10.5h-10.5Z" fill="#000" fill-opacity="0.08"/>
<path d="M396.0,1076.7h10.5v10.5h-10.5Z" fill="#000" fill-opacity="0.08"/>
<path d="M397.2,1065.2h10.5v10.5h-10.5Z" fill="#000" fill-opacity="0.08"/>
<path d="M398.4,1064.5h10.5v10.5h-10.5Z" fill="#000" fill-opacity="0.08"/>
<path d="M399.6,1117.5h10.5v10.5h-10.5Z" fill="#000" fill-opacity="0.08"/>
<path d="M400.8,1069.1h10.5v10.5h-10.5Z" fill="#000" fill-opacity="0.08"/>
<path d="M402.0,1084.0h10.5v10.5h-10.5Z" fill="#000" fill-opacity="0.08"/>
<path d="M403.2,1046.4h10.5v10.5h-10.5Z" fill="#000" fill-opacity="0.08"/>
<path d="M404.4,1075.9h10.5v10.5h-10.5Z" fill="#000" fill-opacity="0.08"/>
<path d="M405.6,1085.3h10.5v10.5h-10.5Z" fill="#000" fill-opacity="0.08"/>
<path d="M406.8,1075.2h10.5v10.5h-10.5Z" fill="#000" fill-opacity="0.08"/>
<path d="M408.0,1068.3h10.5v10.5h-10.5Z" fill="#000" fill-opacity="0.08"/>
<path d="M409.2,1081.4h10.5v10.5h-10.5Z" fill="#000" fill-opacity="0.08"/>
<path d="M410.4,1072.2h10.5v10.5h-10.5Z" fill="#000" fill-opacity="0.08"/>
<path d="M411.6,1095.7h10.5v10.5h-10.5Z" fill="#000" fill-opacity="0.08"/>
<path d="M412.8,1075.4h10.5v10.5h-10.5Z" fill="#000" fill-opacity="0.08"/>
<path d="M414.0,1057.3h10.5v10.5h-10.5Z" fill="#000" fill-opacity="0.08"/>
<path d="M415.2,1035.8h10.5v10.5h-10.5Z" fill="#000" fill-opacity="0.08"/>
<path d="M416.4,1058.6h10.5v10.5h-10.5Z" fill="#000" fill-opacity="0.08"/>
<path d="M417.6,1066.4h10.5v10.5h-10.5Z" fill="#000" fill-opacity="0.08"/>
<path d="M418.8,1050.0h10.5v10.5h-10.5Z" fill="#000" fill-opacity="0.08"/>
<path d="M420.0,1052.9h10.5v10.5h-10.5Z" fill="#000" fill-opacity="0.08"/>
<path d="M421.2,1041.3h10.5v10.5h-10.5Z" fill="#000" fill-opacity="0.08"/>
<path d="M422.4,1051.8h10.5v10.5h-10.5Z" fill="#000" fill-opacity="0.08"/>
<path d="M423.6,1073.4h10.5v10.5h-10.5Z" fill="#000" fill-opacity="0.08"/>
<path d="M424.8,1066.6h10.5v10.5h-10.5Z" fill="#000" fill-opacity="0.08"/>
<path d="M426.0,1068.1h10.5v10.5h-10.5Z" fill="#000" fill-opacity="0.08"/>
<path d="M427.2,1065.9h10.5v10.5h-10.5Z" fill="#000" fill-opacity="0.08"/>
<path d="M428.4,1067.7h10.5v10.5h-10.5Z" fill="#000" fill-opacity="0.08"/>
<path d="M429.6,1085.4h10.5v10.5h-10.5Z" fill="#000" fill-opacity="0.08"/>
<path d="M430.8,1109.2h10.5v10.5h-10.5Z" fill="#000" fill-opacity="0.08"/>
<path d="M432.0,1083.4h10.5v10.5h-10.5Z" fill="#000" fill-opacity="0.08"/>
<path d="M433.2,1107.8h10.5v10.5h-10.5Z" fill="#000" fill-opacity="0.08"/>
<path d="M434.4,1070.1h10.5v10.5h-10.5Z" fill="#000" fill-opacity="0.08"/>
<path d="M435.6,1071.2h10.5v10.5h-10.5Z" fill="#000" fill-opacity="0.08"/>
<path d="M436.8,1101.5h10.5v10.5h-10.5Z" fill="#000" fill-opacity="0.08"/>
<path d="M438.0,1058.9h10.5v10.5h-10.5Z" fill="#000" fill-opacity="0.08"/>
<path d="M439.2,1055.7h10.5v10.5h-10.5Z" fill="#000" fill-opacity="0.08"/>
<path d="M440.4,1069.6h10.5v10.5h-10.5Z" fill="#000" fill-opacity="0.08"/>
<path d="M441.6,1041.3h10.5v10.5h-10.5Z" fill="#000" fill-opacity="0.08"/>
<path d="M442.8,1037.6h10.5v10.5h-10.5Z" fill="#000" fill-opacity="0.08"/>
<path d="M444.0,1093.0h10.5v10.5h-10.5Z" fill="#000" fill-opacity="0.08"/>
<path d="M445.2,1052.6h10.5v10.5h-10.5Z" fill="#000" fill-opacity="0.08"/>
<path d="M446.4,1063.4h10.5v10.5h-10.5Z" fill="#000" fill-opacity="0.08"/>
<path d="M447.6,1063.8h10.5v10.5h-10.5Z" fill="#000" fill-opacity="0.08"/>
<path d="M448.8,1054.5h10.5v10.5h-10.5Z" fill="#000" fill-opacity="0.08"/>
<path d="M450.0,1084.2h10.5v10.5h-10.5Z" fill="#000" fill-opacity="0.08"/>
<path d="M451.2,1082.0h10.5v10.5h-10.5Z" fill="#000" fill-opacity="0.08"/>
<path d="M452.4,1086.2h10.5v10.5h-10.5Z" fill="#000" fill-opacity="0.08"/>
<path d="M453.6,1084.9h10.5v10.5h-10.5Z" fill="#000" fill-opacity="0.08"/>
<path d="M454.8,1073.1h10.5v10.5h-10.5Z" fill="#000" fill-opacity="0.08"/>
<path d="M456.0,1097.4h10.5v10.5h-10.5Z" fill="#000" fill-opacity="0.08"/>
<path d="M98.7,1001.8L103.6,996.9L108.5,1001.8L103.6,1006.7Z" fill="#000" fill-opacity="0.11"/>
<path d="M99.9,974.5L104.8,969.6L109.7,974.5L104.8,979.4Z" fill="#000" fill-opacity="0.11"/>
<path d="M101.1,1025.4L106.0,1020.5L110.9,1025.4L106.0,1030.3Z" fill="#000" fill-opacity="0.11"/>
<path d="M102.3,988.0L107.2,983.1L112.1,988.0L107.2,992.9Z" fill="#000" fill-opacity="0.11"/>
<path d="M103.5,988.9L108.4,984.0L113.3,988.9L108.4,993.8Z" fill="#000" fill-opacity="0.11"/>
<path d="M105.9,972.1L110.8,967.2L115.7,972.1L110.8,977.0Z" fill="#000" fill-opacity="0.11"/>
<path d="M107.1,985.7L112.0,980.8L116.9,985.7L112.0,990.6Z" fill="#000" fill-opacity="0.11"/>
<path d="M108.3,960.0L113.2,955.1L118.1,960.0L113.2,964.9Z" fill="#000" fill-opacity="0.11"/>
<path d="M109.5,959.6L114.4,954.7L119.3,959.6L114.4,964.5Z" fill="#000" fill-opacity="0.11"/>
<path d="M110.7,971.3L115.6,966.4L120.5,971.3L115.6,976.2Z" fill="#000" fill-opacity="0.11"/>
<path d="M111.9,944.0L116.8,939.1L121.7,944.0L116.8,948.9Z" fill="#000" fill-opacity="0.11"/>
<path d="M113.1,961.9L118.0,957.0L122.9,961.9L118.0,966.8Z" fill="#000" fill-opacity="0.11"/>
<path d="M114.3,969.1L119.2,964.2L124.1,969.1L119.2,974.0Z" fill="#000" fill-opacity="0.11"/>
<path d="M117.9,1005.3L122.8,1000.4L127.7,1005.3L122.8,1010.2Z" fill="#000" fill-opacity="0.11"/>
<path d="M119.1,997.2L124.0,992.3L128.9,997.2L124.0,1002.1Z" fill="#000" fill-opacity="0.11"/>
<path d="M121.5,957.2L126.4,952.3L131.3,957.2L126.4,962.1Z" fill="#000" fill-opacity="0.11"/>
<path d="M123.9,1035.4L128.8,1030.5L133.7,1035.4L128.8,1040.3Z" fill="#000" fill-opacity="0.11"/>
<path d="M125.1,982.2L130.0,977.3L134.9,982.2L130.0,987.1Z" fill="#000" fill-opacity="0.11"/>
<path d="M128.7,939.6L133.6,934.7L138.5,939.6L133.6,944.5Z" fill="#000" fill-opacity="0.11"/>
<path d="M129.9,906.6L134.8,901.7L139.7,906.6L134.8,911.5Z" fill="#000" fill-opacity="0.11"/>
<path d="M131.1,977.7L136.0,972.8L140.9,977.7L136.0,982.6Z" fill="#000" fill-opacity="0.11"/>
<path d="M133.5,952.6L138.4,947.7L143.3,952.6L138.4,957.5Z" fill="#000" fill-opacity="0.11"/>
<path d="M135.9,982.3L140.8,977.4L145.7,982.3L140.8,987.2Z" fill="#000" fill-opacity="0.11"/>
<path d="M137.1,963.0L142.0,958.1L146.9,963.0L142.0,967.9Z" fill="#000" fill-opacity="0.11"/>
<path d="M138.3,1010.4L143.2,1005.5L148.1,1010.4L143.2,1015.3Z" fill="#000" fill-opacity="0.11"/>
<path d="M139.5,987.0L144.4,982.1L149.3,987.0L144.4,991.9Z" fill="#000" fill-opacity="0.11"/>
<path d="M140.7,941.0L145.6,936.1L150.5,941.0L145.6,945.9Z" fill="#000" fill-opacity="0.11"/>
<path d="M141.9,958.7L146.8,953.8L151.7,958.7L146.8,963.6Z" fill="#000" fill-opacity="0.11"/>
<path d="M143.1,1002.8L148.0,997.9L152.9,1002.8L148.0,1007.7Z" fill="#000" fill-opacity="0.11"/>
<path d="M144.3,998.9L149.2,994.0L154.1,998.9L149.2,1003.8Z" fill="#000" fill-opacity="0.11"/>
<path d="M145.5,959.7L150.4,954.8L155.3,959.7L150.4,964.6Z" fill="#000" fill-opacity="0.11"/>
<path d="M147.9,994.0L152.8,989.1L157.7,994.0L152.8,998.9Z" fill="#000" fill-opacity="0.11"/>
<path d="M151.5,989.1L156.4,984.2L161.3,989.1L156.4,994.0Z" fill="#000" fill-opacity="0.11"/>
<path d="M152.7,980.8L157.6,975.9L162.5,980.8L157.6,985.7Z" fill="#000" fill-opacity="0.11"/>
<path d="M156.3,979.7L161.2,974.8L166.1,979.7L161.2,984.6Z" fill="#000" fill-opacity="0.11"/>
<path d="M157.5,930.4L162.4,925.5L167.3,930.4L162.4,935.3Z" fill="#000" fill-opacity="0.11"/>
<path d="M159.9,961.8L164.8,956.9L169.7,961.8L164.8,966.7Z" fill="#000" fill-opacity="0.11"/>
<path d="M161.1,964.3L166.0,959.4L170.9,964.3L166.0,969.2Z" fill="#000" fill-opacity="0.11"/>
<path d="M162.3,965.6L167.2,960.7L172.1,965.6L167.2,970.5Z" fill="#000" fill-opacity="0.11"/>
<path d="M163.5,935.9L168.4,931.0L173.3,935.9L168.4,940.8Z" fill="#000" fill-opacity="0.11"/>
<path d="M164.7,981.0L169.6,976.1L174.5,981.0L169.6,985.9Z" fill="#000" fill-opacity="0.11"/>
<path d="M165.9,944.4L170.8,939.5L175.7,944.4L170.8,949.3Z" fill="#000" fill-opacity="0.11"/>
<path d="M167.1,950.1L172.0,945.2L176.9,950.1L172.0,955.0Z" fill="#000" fill-opacity="0.11"/>
<path d="M168.3,925.1L173.2,920.2L178.1,925.1L173.2,930.0Z" fill="#000" fill-opacity="0.11"/>
<path d="M169.5,946.2L174.4,941.3L179.3,946.2L174.4,951.1Z" fill="#000" fill-opacity="0.11"/>
<path d="M170.7,982.4L175.6,977.5L180.5,982.4L175.6,987.3Z" fill="#000" fill-opacity="0.11"/>
<path d="M171.9,961.5L176.8,956.6L181.7,961.5L176.8,966.4Z" fill="#000" fill-opacity="0.11"/>
<path d="M173.1,962.3L178.0,957.4L182.9,962.3L178.0,967.2Z" fill="#000" fill-opacity="0.11"/>
<path d="M174.3,995.4L179.2,990.5L184.1,995.4L179.2,1000.3Z" fill="#000" fill-opacity="0.11"/>
<path d="M175.5,983.8L180.4,978.9L185.3,983.8L180.4,988.7Z" fill="#000" fill-opacity="0.11"/>
<path d="M176.7,1003.6L181.6,998.7L186.5,1003.6L181.6,1008.5Z" fill="#000" fill-opacity="0.11"/>
<path d="M177.9,1014.9L182.8,1010.0L187.7,1014.9L182.8,1019.8Z" fill="#000" fill-opacity="0.11"/>
<path d="M179.1,955.4L184.0,950.5L188.9,955.4L184.0,960.3Z" fill="#000" fill-opacity="0.11"/>
<path d="M180.3,1006.8L185.2,1001.9L190.1,1006.8L185.2,1011.7Z" fill="#000" fill-opacity="0.11"/>
<path d="M181.5,968.5L186.4,963.6L191.3,968.5L186.4,973.4Z" fill="#000" fill-opacity="0.11"/>
<path d="M182.7,990.5L187.6,985.6L192.5,990.5L187.6,995.4Z" fill="#000" fill-opacity="0.11"/>
<path d="M183.9,944.4L188.8,939.5L193.7,944.4L188.8,949.3Z" fill="#000" fill-opacity="0.11"/>
<path d="M185.1,962.1L190.0,957.2L194.9,962.1L190.0,967.0Z" fill="#000" fill-opacity="0.11"/>
<path d="M186.3,961.1L191.2,956.2L196.1,961.1L191.2,966.0Z" fill="#000" fill-opacity="0.11"/>
<path d="M187.5,949.0L192.4,944.1L197.3,949.0L192.4,953.9Z" fill="#000" fill-opacity="0.11"/>
<path d="M191.1,971.5L196.0,966.6L200.9,971.5L196.0,976.4Z" fill="#000" fill-opacity="0.11"/>
<path d="M192.3,961.4L197.2,956.5L202.1,961.4L197.2,966.3Z" fill="#000" fill-opacity="0.11"/>
<path d="M194.7,964.5L199.6,959.6L204.5,964.5L199.6,969.4Z" fill="#000" fill-opacity="0.11"/>
<path d="M195.9,1006.1L200.8,1001.2L205.7,1006.1L200.8,1011.0Z" fill="#000" fill-opacity="0.11"/>
<path d="M197.1,965.8L202.0,960.9L206.9,965.8L202.0,970.7Z" fill="#000" fill-opacity="0.11"/>
<path d="M198.3,913.1L203.2,908.2L208.1,913.1L203.2,918.0Z" fill="#000" fill-opacity="0.11"/>
<path d="M199.5,997.0L204.4,992.1L209.3,997.0L204.4,1001.9Z" fill="#000" fill-opacity="0.11"/>
<path d="M200.7,996.2L205.6,991.3L210.5,996.2L205.6,1001.1Z" fill="#000" fill-opacity="0.11"/>
<path d="M201.9,899.4L206.8,894.5L211.7,899.4L206.8,904.3Z" fill="#000" fill-opacity="0.11"/>
<path d="M203.1,952.4L208.0,947.5L212.9,952.4L208.0,957.3Z" fill="#000" fill-opacity="0.11"/>
<path d="M204.3,921.7L209.2,916.8L214.1,921.7L209.2,926.6Z" fill="#000" fill-opacity="0.11"/>
<path d="M205.5,938.3L210.4,933.4L215.3,938.3L210.4,943.2Z" fill="#000" fill-opacity="0.11"/>
<path d="M206.7,1011.5L211.6,1006.6L216.5,1011.5L211.6,1016.4Z" fill="#000" fill-opacity="0.11"/>
<path d="M207.9,931.1L212.8,926.2L217.7,931.1L212.8,936.0Z" fill="#000" fill-opacity="0.11"/>
<path d="M209.1,966.1L214.0,961.2L218.9,966.1L214.0,971.0Z" fill="#000" fill-opacity="0.11"/>
<path d="M211.5,954.0L216.4,949.1L221.3,954.0L216.4,958.9Z" fill="#000" fill-opacity="0.11"/>
<path d="M213.9,958.3L218.8,953.4L223.7,958.3L218.8,963.2Z" fill="#000" fill-opacity="0.11"/>
<path d="M215.1,1005.2L220.0,1000.3L224.9,1005.2L220.0,1010.1Z" fill="#000" fill-opacity="0.11"/>
<path d="M216.3,911.2L221.2,906.3L226.1,911.2L221.2,916.1Z" fill="#000" fill-opacity="0.11"/>
<path d="M217.5,1056.1L222.4,1051.2L227.3,1056.1L222.4,1061.0Z" fill="#000" fill-opacity="0.11"/>
<path d="M218.7,1025.7L223.6,1020.8L228.5,1025.7L223.6,1030.6Z" fill="#000" fill-opacity="0.11"/>
<path d="M219.9,1097.9L224.8,1093.0L229.7,1097.9L224.8,1102.8Z" fill="#000" fill-opacity="0.11"/>
<path d="M221.1,1085.7L226.0,1080.8L230.9,1085.7L226.0,1090.6Z" fill="#000" fill-opacity="0.11"/>
<path d="M222.3,1037.2L227.2,1032.3L232.1,1037.2L227.2,1042.1Z" fill="#000" fill-opacity="0.11"/>
<path d="M223.5,1029.8L228.4,1024.9L233.3,1029.8L228.4,1034.7Z" fill="#000" fill-opacity="0.11"/>
<path d="M224.7,1070.6L229.6,1065.7L234.5,1070.6L229.6,1075.5Z" fill="#000" fill-opacity="0.11"/>
<path d="M225.9,1032.3L230.8,1027.4L235.7,1032.3L230.8,1037.2Z" fill="#000" fill-opacity="0.11"/>
<path d="M227.1,1070.5L232.0,1065.6L236.9,1070.5L232.0,1075.4Z" fill="#000" fill-opacity="0.11"/>
<path d="M228.3,1067.4L233.2,1062.5L238.1,1067.4L233.2,1072.3Z" fill="#000" fill-opacity="0.11"/>
<path d="M229.5,1071.0L234.4,1066.1L239.3,1071.0L234.4,1075.9Z" fill="#000" fill-opacity="0.11"/>
<path d="M230.7,1080.6L235.6,1075.7L240.5,1080.6L235.6,1085.5Z" fill="#000" fill-opacity="0.11"/>
<path d="M231.9,1083.6L236.8,1078.7L241.7,1083.6L236.8,1088.5Z" fill="#000" fill-opacity="0.11"/>
<path d="M233.1,1062.1L238.0,1057.2L242.9,1062.1L238.0,1067.0Z" fill="#000" fill-opacity="0.11"/>
<path d="M234.3,988.6L239.2,983.7L244.1,988.6L239.2,993.5Z" fill="#000" fill-opacity="0.11"/>
<path d="M235.5,1085.1L240.4,1080.2L245.3,1085.1L240.4,1090.0Z" fill="#000" fill-opacity="0.11"/>
<path d="M236.7,1074.4L241.6,1069.5L246.5,1074.4L241.6,1079.3Z" fill="#000" fill-opacity="0.11"/>
<path d="M237.9,1066.3L242.8,1061.4L247.7,1066.3L242.8,1071.2Z" fill="#000" fill-opacity="0.11"/>
<path d="M239.1,1044.5L244.0,1039.6L248.9,1044.5L244.0,1049.4Z" fill="#000" fill-opacity="0.11"/>
<path d="M240.3,1039.5L245.2,1034.6L250.1,1039.5L245.2,1044.4Z" fill="#000" fill-opacity="0.11"/>
<path d="M241.5,1068.9L246.4,1064.0L251.3,1068.9L246.4,1073.8Z" fill="#000" fill-opacity="0.11"/>
<path d="M242.7,1035.5L247.6,1030.6L252.5,1035.5L247.6,1040.4Z" fill="#000" fill-opacity="0.11"/>
<path d="M243.9,1048.1L248.8,1043.2L253.7,1048.1L248.8,1053.0Z" fill="#000" fill-opacity="0.11"/>
<path d="M245.1,1115.8L250.0,1110.9L254.9,1115.8L250.0,1120.7Z" fill="#000" fill-opacity="0.11"/>
<path d="M246.3,1035.9L251.2,1031.0L256.1,1035.9L251.2,1040.8Z" fill="#000" fill-opacity="0.11"/>
<path d="M247.5,1157.5L252.4,1152.6L257.3,1157.5L252.4,1162.4Z" fill="#000" fill-opacity="0.11"/>
<path d="M248.7,1132.9L253.6,1128.0L258.5,1132.9L253.6,1137.8Z" fill="#000" fill-opacity="0.11"/>
<path d="M249.9,1067.3L254.8,1062.4L259.7,1067.3L254.8,1072.2Z" fill="#000" fill-opacity="0.11"/>
<path d="M251.1,1068.9L256.0,1064.0L260.9,1068.9L256.0,1073.8Z" fill="#000" fill-opacity="0.11"/>
<path d="M252.3,1176.5L257.2,1171.6L262.1,1176.5L257.2,1181.4Z" fill="#000" fill-opacity="0.11"/>
<path d="M253.5,1066.0L258.4,1061.1L263.3,1066.0L258.4,1070.9Z" fill="#000" fill-opacity="0.11"/>
<path d="M254.7,1037.1L259.6,1032.2L264.5,1037.1L259.6,1042.0Z" fill="#000" fill-opacity="0.11"/>
<path d="M255.9,1139.3L260.8,1134.4L265.7,1139.3L260.8,1144.2Z" fill="#000" fill-opacity="0.11"/>
<path d="M257.1,1070.8L262.0,1065.9L266.9,1070.8L262.0,1075.7Z" fill="#000" fill-opacity="0.11"/>
<path d="M258.3,1083.6L263.2,1078.7L268.1,1083.6L263.2,1088.5Z" fill="#000" fill-opacity="0.11"/>
<path d="M259.5,1070.9L264.4,1066.0L269.3,1070.9L264.4,1075.8Z" fill="#000" fill-opacity="0.11"/>
<path d="M260.7,1081.1L265.6,1076.2L270.5,1081.1L265.6,1086.0Z" fill="#000" fill-opacity="0.11"/>
<path d="M261.9,1070.9L266.8,1066.0L271.7,1070.9L266.8,1075.8Z" fill="#000" fill-opacity="0.11"/>
<path d="M263.1,1075.6L268.0,1070.7L272.9,1075.6L268.0,1080.5Z" fill="#000" fill-opacity="0.11"/>
<path d="M264.3,1059.6L269.2,1054.7L274.1,1059.6L269.2,1064.5Z" fill="#000" fill-opacity="0.11"/>
<path d="M265.5,1051.1L270.4,1046.2L275.3,1051.1L270.4,1056.0Z" fill="#000" fill-opacity="0.11"/>
<path d="M266.7,1072.8L271.6,1067.9L276.5,1072.8L271.6,1077.7Z" fill="#000" fill-opacity="0.11"/>
<path d="M267.9,1032.8L272.8,1027.9L277.7,1032.8L272.8,1037.7Z" fill="#000" fill-opacity="0.11"/>
<path d="M269.1,1022.2L274.0,1017.3L278.9,1022.2L274.0,1027.1Z" fill="#000" fill-opacity="0.11"/>
<path d="M270.3,1087.5L275.2,1082.6L280.1,1087.5L275.2,1092.4Z" fill="#000" fill-opacity="0.11"/>
<path d="M271.5,1080.0L276.4,1075.1L281.3,1080.0L276.4,1084.9Z" fill="#000" fill-opacity="0.11"/>
<path d="M272.7,1072.8L277.6,1067.9L282.5,1072.8L277.6,1077.7Z" fill="#000" fill-opacity="0.11"/>
<path d="M273.9,1024.9L278.8,1020.0L283.7,1024.9L278.8,1029.8Z" fill="#000" fill-opacity="0.11"/>
<path d="M275.1,1023.6L280.0,1018.7L284.9,1023.6L280.0,1028.5Z" fill="#000" fill-opacity="0.11"/>
<path d="M276.3,1029.3L281.2,1024.4L286.1,1029.3L281.2,1034.2Z" fill="#000" fill-opacity="0.11"/>
<path d="M277.5,1125.3L282.4,1120.4L287.3,1125.3L282.4,1130.2Z" fill="#000" fill-opacity="0.11"/>
<path d="M278.7,1056.4L283.6,1051.5L288.5,1056.4L283.6,1061.3Z" fill="#000" fill-opacity="0.11"/>
<path d="M279.9,1072.2L284.8,1067.3L289.7,1072.2L284.8,1077.1Z" fill="#000" fill-opacity="0.11"/>
<path d="M281.1,1024.0L286.0,1019.1L290.9,1024.0L286.0,1028.9Z" fill="#000" fill-opacity="0.11"/>
<path d="M282.3,1075.9L287.2,1071.0L292.1,1075.9L287.2,1080.8Z" fill="#000" fill-opacity="0.11"/>
<path d="M283.5,1098.6L288.4,1093.7L293.3,1098.6L288.4,1103.5Z" fill="#000" fill-opacity="0.11"/>
<path d="M284.7,1027.8L289.6,1022.9L294.5,1027.8L289.6,1032.7Z" fill="#000" fill-opacity="0.11"/>
<path d="M285.9,1090.1L290.8,1085.2L295.7,1090.1L290.8,1095.0Z" fill="#000" fill-opacity="0.11"/>
<path d="M287.1,1058.6L292.0,1053.7L296.9,1058.6L292.0,1063.5Z" fill="#000" fill-opacity="0.11"/>
<path d="M288.3,1022.8L293.2,1017.9L298.1,1022.8L293.2,1027.7Z" fill="#000" fill-opacity="0.11"/>
<path d="M289.5,1108.8L294.4,1103.9L299.3,1108.8L294.4,1113.7Z" fill="#000" fill-opacity="0.11"/>
<path d="M290.7,1013.4L295.6,1008.5L300.5,1013.4L295.6,1018.3Z" fill="#000" fill-opacity="0.11"/>
<path d="M291.9,1064.0L296.8,1059.1L301.7,1064.0L296.8,1068.9Z" fill="#000" fill-opacity="0.11"/>
<path d="M293.1,1025.2L298.0,1020.3L302.9,1025.2L298.0,1030.1Z" fill="#000" fill-opacity="0.11"/>
<path d="M294.3,1108.9L299.2,1104.0L304.1,1108.9L299.2,1113.8Z" fill="#000" fill-opacity="0.11"/>
<path d="M295.5,1120.2L300.4,1115.3L305.3,1120.2L300.4,1125.1Z" fill="#000" fill-opacity="0.11"/>
<path d="M296.7,1023.8L301.6,1018.9L306.5,1023.8L301.6,1028.7Z" fill="#000" fill-opacity="0.11"/>
<path d="M297.9,1082.5L302.8,1077.6L307.7,1082.5L302.8,1087.4Z" fill="#000" fill-opacity="0.11"/>
<path d="M299.1,1018.3L304.0,1013.4L308.9,1018.3L304.0,1023.2Z" fill="#000" fill-opacity="0.11"/>
<path d="M300.3,1075.8L305.2,1070.9L310.1,1075.8L305.2,1080.7Z" fill="#000" fill-opacity="0.11"/>
<path d="M301.5,1056.8L306.4,1051.9L311.3,1056.8L306.4,1061.7Z" fill="#000" fill-opacity="0.11"/>
<path d="M302.7,1027.8L307.6,1022.9L312.5,1027.8L307.6,1032.7Z" fill="#000" fill-opacity="0.11"/>
<path d="M303.9,1048.2L308.8,1043.3L313.7,1048.2L308.8,1053.1Z" fill="#000" fill-opacity="0.11"/>
<path d="M305.1,1054.3L310.0,1049.4L314.9,1054.3L310.0,1059.2Z" fill="#000" fill-opacity="0.11"/>
<path d="M306.3,1066.8L311.2,1061.9L316.1,1066.8L311.2,1071.7Z" fill="#000" fill-opacity="0.11"/>
<path d="M307.5,1100.1L312.4,1095.2L317.3,1100.1L312.4,1105.0Z" fill="#000" fill-opacity="0.11"/>
<path d="M308.7,1128.4L313.6,1123.5L318.5,1128.4L313.6,1133.3Z" fill="#000" fill-opacity="0.11"/>
<path d="M309.9,1098.8L314.8,1093.9L319.7,1098.8L314.8,1103.7Z" fill="#000" fill-opacity="0.11"/>
<path d="M311.1,1012.3L316.0,1007.4L320.9,1012.3L316.0,1017.2Z" fill="#000" fill-opacity="0.11"/>
<path d="M312.3,1058.7L317.2,1053.8L322.1,1058.7L317.2,1063.6Z" fill="#000" fill-opacity="0.11"/>
<path d="M313.5,1029.8L318.4,1024.9L323.3,1029.8L318.4,1034.7Z" fill="#000" fill-opacity="0.11"/>
<path d="M314.7,1024.6L319.6,1019.7L324.5,1024.6L319.6,1029.5Z" fill="#000" fill-opacity="0.11"/>
<path d="M315.9,1047.9L320.8,1043.0L325.7,1047.9L320.8,1052.8Z" fill="#000" fill-opacity="0.11"/>
<path d="M317.1,1122.3L322.0,1117.4L326.9,1122.3L322.0,1127.2Z" fill="#000" fill-opacity="0.11"/>
<path d="M318.3,1071.0L323.2,1066.1L328.1,1071.0L323.2,1075.9Z" fill="#000" fill-opacity="0.11"/>
<path d="M319.5,1025.5L324.4,1020.6L329.3,1025.5L324.4,1030.4Z" fill="#000" fill-opacity="0.11"/>
<path d="M320.7,1053.8L325.6,1048.9L330.5,1053.8L325.6,1058.7Z" fill="#000" fill-opacity="0.11"/>
<path d="M321.9,1099.8L326.8,1094.9L331.7,1099.8L326.8,1104.7Z" fill="#000" fill-opacity="0.11"/>
<path d="M323.1,993.1L328.0,988.2L332.9,993.1L328.0,998.0Z" fill="#000" fill-opacity="0.11"/>
<path d="M324.3,1058.4L329.2,1053.5L334.1,1058.4L329.2,1063.3Z" fill="#000" fill-opacity="0.11"/>
<path d="M325.5,1011.5L330.4,1006.6L335.3,1011.5L330.4,1016.4Z" fill="#000" fill-opacity="0.11"/>
<path d="M326.7,1071.8L331.6,1066.9L336.5,1071.8L331.6,1076.7Z" fill="#000" fill-opacity="0.11"/>
<path d="M327.9,1059.0L332.8,1054.1L337.7,1059.0L332.8,1063.9Z" fill="#000" fill-opacity="0.11"/>
<path d="M329.1,1060.4L334.0,1055.5L338.9,1060.4L334.0,1065.3Z" fill="#000" fill-opacity="0.11"/>
<path d="M330.3,1028.3L335.2,1023.4L340.1,1028.3L335.2,1033.2Z" fill="#000" fill-opacity="0.11"/>
<path d="M331.5,1073.4L336.4,1068.5L341.3,1073.4L336.4,1078.3Z" fill="#000" fill-opacity="0.11"/>
<path d="M332.7,1052.1L337.6,1047.2L342.5,1052.1L337.6,1057.0Z" fill="#000" fill-opacity="0.11"/>
<path d="M333.9,1107.4L338.8,1102.5L343.7,1107.4L338.8,1112.3Z" fill="#000" fill-opacity="0.11"/>
<path d="M335.1,995.3L340.0,990.4L344.9,995.3L340.0,1000.2Z" fill="#000" fill-opacity="0.11"/>
<path d="M336.3,1048.5L341.2,1043.6L346.1,1048.5L341.2,1053.4Z" fill="#000" fill-opacity="0.11"/>
<path d="M337.5,1021.7L342.4,1016.8L347.3,1021.7L342.4,1026.6Z" fill="#000" fill-opacity="0.11"/>
<path d="M338.7,1103.8L343.6,1098.9L348.5,1103.8L343.6,1108.7Z" fill="#000" fill-opacity="0.11"/>
<path d="M339.9,1085.4L344.8,1080.5L349.7,1085.4L344.8,1090.3Z" fill="#000" fill-opacity="0.11"/>
<path d="M341.1,1092.2L346.0,1087.3L350.9,1092.2L346.0,1097.1Z" fill="#000" fill-opacity="0.11"/>
<path d="M342.3,1104.2L347.2,1099.3L352.1,1104.2L347.2,1109.1Z" fill="#000" fill-opacity="0.11"/>
<path d="M343.5,1044.9L348.4,1040.0L353.3,1044.9L348.4,1049.8Z" fill="#000" fill-opacity="0.11"/>
<path d="M344.7,1044.5L349.6,1039.6L354.5,1044.5L349.6,1049.4Z" fill="#000" fill-opacity="0.11"/>
<path d="M345.9,1061.0L350.8,1056.1L355.7,1061.0L350.8,1065.9Z" fill="#000" fill-opacity="0.11"/>
<path d="M347.1,1130.2L352.0,1125.3L356.9,1130.2L352.0,1135.1Z" fill="#000" fill-opacity="0.11"/>
<path d="M348.3,1066.1L353.2,1061.2L358.1,1066.1L353.2,1071.0Z" fill="#000" fill-opacity="0.11"/>
<path d="M349.5,1099.8L354.4,1094.9L359.3,1099.8L354.4,1104.7Z" fill="#000" fill-opacity="0.11"/>
<path d="M350.7,1039.5L355.6,1034.6L360.5,1039.5L355.6,1044.4Z" fill="#000" fill-opacity="0.11"/>
<path d="M351.9,1074.5L356.8,1069.6L361.7,1074.5L356.8,1079.4Z" fill="#000" fill-opacity="0.11"/>
<path d="M353.1,1055.6L358.0,1050.7L362.9,1055.6L358.0,1060.5Z" fill="#000" fill-opacity="0.11"/>
<path d="M354.3,1053.2L359.2,1048.3L364.1,1053.2L359.2,1058.1Z" fill="#000" fill-opacity="0.11"/>
<path d="M355.5,1177.3L360.4,1172.4L365.3,1177.3L360.4,1182.2Z" fill="#000" fill-opacity="0.11"/>
<path d="M356.7,1091.5L361.6,1086.6L366.5,1091.5L361.6,1096.4Z" fill="#000" fill-opacity="0.11"/>
<path d="M357.9,1066.2L362.8,1061.3L367.7,1066.2L362.8,1071.1Z" fill="#000" fill-opacity="0.11"/>
<path d="M359.1,1123.4L364.0,1118.5L368.9,1123.4L364.0,1128.3Z" fill="#000" fill-opacity="0.11"/>
<path d="M360.3,1051.9L365.2,1047.0L370.1,1051.9L365.2,1056.8Z" fill="#000" fill-opacity="0.11"/>
<path d="M361.5,1001.3L366.4,996.4L371.3,1001.3L366.4,1006.2Z" fill="#000" fill-opacity="0.11"/>
<path d="M362.7,1057.7L367.6,1052.8L372.5,1057.7L367.6,1062.6Z" fill="#000" fill-opacity="0.11"/>
<path d="M363.9,1034.0L368.8,1029.1L373.7,1034.0L368.8,1038.9Z" fill="#000" fill-opacity="0.11"/>
<path d="M365.1,1125.7L370.0,1120.8L374.9,1125.7L370.0,1130.6Z" fill="#000" fill-opacity="0.11"/>
<path d="M366.3,1085.4L371.2,1080.5L376.1,1085.4L371.2,1090.3Z" fill="#000" fill-opacity="0.11"/>
<path d="M367.5,1091.3L372.4,1086.4L377.3,1091.3L372.4,1096.2Z" fill="#000" fill-opacity="0.11"/>
<path d="M368.7,1111.5L373.6,1106.6L378.5,1111.5L373.6,1116.4Z" fill="#000" fill-opacity="0.11"/>
<path d="M369.9,1068.6L374.8,1063.7L379.7,1068.6L374.8,1073.5Z" fill="#000" fill-opacity="0.11"/>
<path d="M371.1,1115.2L376.0,1110.3L380.9,1115.2L376.0,1120.1Z" fill="#000" fill-opacity="0.11"/>
<path d="M372.3,1082.0L377.2,1077.1L382.1,1082.0L377.2,1086.9Z" fill="#000" fill-opacity="0.11"/>
<path d="M373.5,1062.9L378.4,1058.0L383.3,1062.9L378.4,1067.8Z" fill="#000" fill-opacity="0.11"/>
<path d="M374.7,1050.4L379.6,1045.5L384.5,1050.4L379.6,1055.3Z" fill="#000" fill-opacity="0.11"/>
<path d="M375.9,1019.5L380.8,1014.6L385.7,1019.5L380.8,1024.4Z" fill="#000" fill-opacity="0.11"/>
<path d="M377.1,1047.6L382.0,1042.7L386.9,1047.6L382.0,1052.5Z" fill="#000" fill-opacity="0.11"/>
<path d="M378.3,1108.7L383.2,1103.8L388.1,1108.7L383.2,1113.6Z" fill="#000" fill-opacity="0.11"/>
<path d="M379.5,1130.0L384.4,1125.1L389.3,1130.0L384.4,1134.9Z" fill="#000" fill-opacity="0.11"/>
<path d="M380.7,1024.6L385.6,1019.7L390.5,1024.6L385.6,1029.5Z" fill="#000" fill-opacity="0.11"/>
<path d="M381.9,1054.7L386.8,1049.8L391.7,1054.7L386.8,1059.6Z" fill="#000" fill-opacity="0.11"/>
<path d="M383.1,1038.6L388.0,1033.7L392.9,1038.6L388.0,1043.5Z" fill="#000" fill-opacity="0.11"/>
<path d="M384.3,1056.9L389.2,1052.0L394.1,1056.9L389.2,1061.8Z" fill="#000" fill-opacity="0.11"/>
<path d="M385.5,1047.5L390.4,1042.6L395.3,1047.5L390.4,1052.4Z" fill="#000" fill-opacity="0.11"/>
<path d="M386.7,999.1L391.6,994.2L396.5,999.1L391.6,1004.0Z" fill="#000" fill-opacity="0.11"/>
<path d="M387.9,1123.7L392.8,1118.8L397.7,1123.7L392.8,1128.6Z" fill="#000" fill-opacity="0.11"/>
<path d="M389.1,1033.4L394.0,1028.5L398.9,1033.4L394.0,1038.3Z" fill="#000" fill-opacity="0.11"/>
<path d="M390.3,1026.0L395.2,1021.1L400.1,1026.0L395.2,1030.9Z" fill="#000" fill-opacity="0.11"/>
<path d="M391.5,1121.4L396.4,1116.5L401.3,1121.4L396.4,1126.3Z" fill="#000" fill-opacity="0.11"/>
<path d="M392.7,1095.0L397.6,1090.1L402.5,1095.0L397.6,1099.9Z" fill="#000" fill-opacity="0.11"/>
<path d="M393.9,1064.7L398.8,1059.8L403.7,1064.7L398.8,1069.6Z" fill="#000" fill-opacity="0.11"/>
<path d="M395.1,1042.6L400.0,1037.7L404.9,1042.6L400.0,1047.5Z" fill="#000" fill-opacity="0.11"/>
<path d="M396.3,1069.5L401.2,1064.6L406.1,1069.5L401.2,1074.4Z" fill="#000" fill-opacity="0.11"/>
<path d="M397.5,1060.2L402.4,1055.3L407.3,1060.2L402.4,1065.1Z" fill="#000" fill-opacity="0.11"/>
<path d="M398.7,1031.3L403.6,1026.4L408.5,1031.3L403.6,1036.2Z" fill="#000" fill-opacity="0.11"/>
<path d="M399.9,1061.1L404.8,1056.2L409.7,1061.1L404.8,1066.0Z" fill="#000" fill-opacity="0.11"/>
<path d="M401.1,1042.1L406.0,1037.2L410.9,1042.1L406.0,1047.0Z" fill="#000" fill-opacity="0.11"/>
<path d="M402.3,1056.4L407.2,1051.5L412.1,1056.4L407.2,1061.3Z" fill="#000" fill-opacity="0.11"/>
<path d="M403.5,1091.4L408.4,1086.5L413.3,1091.4L408.4,1096.3Z" fill="#000" fill-opacity="0.11"/>
<path d="M404.7,1042.9L409.6,1038.0L414.5,1042.9L409.6,1047.8Z" fill="#000" fill-opacity="0.11"/>
<path d="M405.9,1024.7L410.8,1019.8L415.7,1024.7L410.8,1029.6Z" fill="#000" fill-opacity="0.11"/>
<path d="M407.1,1064.2L412.0,1059.3L416.9,1064.2L412.0,1069.1Z" fill="#000" fill-opacity="0.11"/>
<path d="M408.3,1026.8L413.2,1021.9L418.1,1026.8L413.2,1031.7Z" fill="#000" fill-opacity="0.11"/>
<path d="M409.5,1061.6L414.4,1056.7L419.3,1061.6L414.4,1066.5Z" fill="#000" fill-opacity="0.11"/>
<path d="M410.7,1031.1L415.6,1026.2L420.5,1031.1L415.6,1036.0Z" fill="#000" fill-opacity="0.11"/>
<path d="M411.9,1051.0L416.8,1046.1L421.7,1051.0L416.8,1055.9Z" fill="#000" fill-opacity="0.11"/>
<path d="M413.1,1024.7L418.0,1019.8L422.9,1024.7L418.0,1029.6Z" fill="#000" fill-opacity="0.11"/>
<path d="M414.3,1048.9L419.2,1044.0L424.1,1048.9L419.2,1053.8Z" fill="#000" fill-opacity="0.11"/>
<path d="M415.5,1023.8L420.4,1018.9L425.3,1023.8L420.4,1028.7Z" fill="#000" fill-opacity="0.11"/>
<path d="M416.7,1060.7L421.6,1055.8L426.5,1060.7L421.6,1065.6Z" fill="#000" fill-opacity="0.11"/>
<path d="M417.9,1072.4L422.8,1067.5L427.7,1072.4L422.8,1077.3Z" fill="#000" fill-opacity="0.11"/>
<path d="M419.1,1101.2L424.0,1096.3L428.9,1101.2L424.0,1106.1Z" fill="#000" fill-opacity="0.11"/>
<path d="M420.3,1092.2L425.2,1087.3L430.1,1092.2L425.2,1097.1Z" fill="#000" fill-opacity="0.11"/>
<path d="M421.5,1025.9L426.4,1021.0L431.3,1025.9L426.4,1030.8Z" fill="#000" fill-opacity="0.11"/>
<path d="M422.7,1112.3L427.6,1107.4L432.5,1112.3L427.6,1117.2Z" fill="#000" fill-opacity="0.11"/>
<path d="M423.9,1034.2L428.8,1029.3L433.7,1034.2L428.8,1039.1Z" fill="#000" fill-opacity="0.11"/>
<path d="M425.1,1038.7L430.0,1033.8L434.9,1038.7L430.0,1043.6Z" fill="#000" fill-opacity="0.11"/>
<path d="M426.3,1172.8L431.2,1167.9L436.1,1172.8L431.2,1177.7Z" fill="#000" fill-opacity="0.11"/>
<path d="M427.5,1050.8L432.4,1045.9L437.3,1050.8L432.4,1055.7Z" fill="#000" fill-opacity="0.11"/>
<path d="M428.7,982.2L433.6,977.3L438.5,982.2L433.6,987.1Z" fill="#000" fill-opacity="0.11"/>
<path d="M429.9,1035.0L434.8,1030.1L439.7,1035.0L434.8,1039.9Z" fill="#000" fill-opacity="0.11"/>
<path d="M431.1,1053.1L436.0,1048.2L440.9,1053.1L436.0,1058.0Z" fill="#000" fill-opacity="0.11"/>
<path d="M432.3,1042.8L437.2,1037.9L442.1,1042.8L437.2,1047.7Z" fill="#000" fill-opacity="0.11"/>
<path d="M433.5,1039.6L438.4,1034.7L443.3,1039.6L438.4,1044.5Z" fill="#000" fill-opacity="0.11"/>
<path d="M434.7,1038.2L439.6,1033.3L444.5,1038.2L439.6,1043.1Z" fill="#000" fill-opacity="0.11"/>
<path d="M435.9,1062.1L440.8,1057.2L445.7,1062.1L440.8,1067.0Z" fill="#000" fill-opacity="0.11"/>
<path d="M437.1,1045.2L442.0,1040.3L446.9,1045.2L442.0,1050.1Z" fill="#000" fill-opacity="0.11"/>
<path d="M438.3,1094.6L443.2,1089.7L448.1,1094.6L443.2,1099.5Z" fill="#000" fill-opacity="0.11"/>
<path d="M439.5,1079.2L444.4,1074.3L449.3,1079.2L444.4,1084.1Z" fill="#000" fill-opacity="0.11"/>
<path d="M440.7,1086.9L445.6,1082.0L450.5,1086.9L445.6,1091.8Z" fill="#000" fill-opacity="0.11"/>
<path d="M441.9,1045.0L446.8,1040.1L451.7,1045.0L446.8,1049.9Z" fill="#000" fill-opacity="0.11"/>
<path d="M443.1,1046.6L448.0,1041.7L452.9,1046.6L448.0,1051.5Z" fill="#000" fill-opacity="0.11"/>
<path d="M444.3,1077.6L449.2,1072.7L454.1,1077.6L449.2,1082.5Z" fill="#000" fill-opacity="0.11"/>
<path d="M445.5,1125.9L450.4,1121.0L455.3,1125.9L450.4,1130.8Z" fill="#000" fill-opacity="0.11"/>
<path d="M446.7,1143.5L451.6,1138.6L456.5,1143.5L451.6,1148.4Z" fill="#000" fill-opacity="0.11"/>
<path d="M447.9,1023.6L452.8,1018.7L457.7,1023.6L452.8,1028.5Z" fill="#000" fill-opacity="0.11"/>
<path d="M449.1,1061.6L454.0,1056.7L458.9,1061.6L454.0,1066.5Z" fill="#000" fill-opacity="0.11"/>
<path d="M450.3,1148.5L455.2,1143.6L460.1,1148.5L455.2,1153.4Z" fill="#000" fill-opacity="0.11"/>
<path d="M451.5,1093.2L456.4,1088.3L461.3,1093.2L456.4,1098.1Z" fill="#000" fill-opacity="0.11"/>
<path d="M452.7,1054.7L457.6,1049.8L462.5,1054.7L457.6,1059.6Z" fill="#000" fill-opacity="0.11"/>
<path d="M453.9,1064.4L458.8,1059.5L463.7,1064.4L458.8,1069.3Z" fill="#000" fill-opacity="0.11"/>
<path d="M455.1,1012.7L460.0,1007.8L464.9,1012.7L460.0,1017.6Z" fill="#000" fill-opacity="0.11"/>
<path d="M456.3,1069.3L461.2,1064.4L466.1,1069.3L461.2,1074.2Z" fill="#000" fill-opacity="0.11"/>
<circle cx="218.2" cy="852.4" r="5.0" fill="#c83a2c" fill-opacity="0.13"/>
<circle cx="218.2" cy="840.4" r="5.0" fill="#c83a2c" fill-opacity="0.13"/>
<circle cx="218.2" cy="828.4" r="5.0" fill="#c83a2c" fill-opacity="0.13"/>
<path d="M212.8,839.7L223.6,839.7L218.2,829.7Z" fill="#000" fill-opacity="0.12"/>
<path d="M212.8,819.7L223.6,819.7L218.2,809.7Z" fill="#000" fill-opacity="0.12"/>
<circle cx="103.6" cy="939.1" r="5.0" fill="#000" fill-opacity="0.11"/>
<circle cx="104.8" cy="1009.3" r="5.0" fill="#000" fill-opacity="0.11"/>
<circle cx="106.0" cy="960.2" r="5.0" fill="#000" fill-opacity="0.11"/>
<circle cx="107.2" cy="991.5" r="5.0" fill="#000" fill-opacity="0.11"/>
<circle cx="108.4" cy="944.7" r="5.0" fill="#000" fill-opacity="0.11"/>
<circle cx="109.6" cy="978.3" r="5.0" fill="#000" fill-opacity="0.11"/>
<circle cx="110.8" cy="951.7" r="5.0" fill="#000" fill-opacity="0.11"/>
<circle cx="112.0" cy="992.0" r="5.0" fill="#000" fill-opacity="0.11"/>
<circle cx="113.2" cy="1010.3" r="5.0" fill="#000" fill-opacity="0.11"/>
<circle cx="114.4" cy="1003.1" r="5.0" fill="#000" fill-opacity="0.11"/>
<circle cx="115.6" cy="991.0" r="5.0" fill="#000" fill-opacity="0.11"/>
<circle cx="116.8" cy="1001.1" r="5.0" fill="#000" fill-opacity="0.11"/>
<circle cx="118.0" cy="947.6" r="5.0" fill="#000" fill-opacity="0.11"/>
<circle cx="119.2" cy="944.3" r="5.0" fill="#000" fill-opacity="0.11"/>
<circle cx="120.4" cy="969.9" r="5.0" fill="#000" fill-opacity="0.11"/>
<circle cx="121.6" cy="1001.3" r="5.0" fill="#000" fill-opacity="0.11"/>
<circle cx="122.8" cy="979.3" r="5.0" fill="#000" fill-opacity="0.11"/>
<circle cx="124.0" cy="992.9" r="5.0" fill="#000" fill-opacity="0.11"/>
<circle cx="125.2" cy="941.5" r="5.0" fill="#000" fill-opacity="0.11"/>
<circle cx="126.4" cy="968.9" r="5.0" fill="#000" fill-opacity="0.11"/>
<circle cx="127.6" cy="964.7" r="5.0" fill="#000" fill-opacity="0.11"/>
<circle cx="128.8" cy="986.1" r="5.0" fill="#000" fill-opacity="0.11"/>
<circle cx="130.0" cy="1024.8" r="5.0" fill="#000" fill-opacity="0.11"/>
<circle cx="131.2" cy="995.0" r="5.0" fill="#000" fill-opacity="0.11"/>
<circle cx="132.4" cy="1003.3" r="5.0" fill="#000" fill-opacity="0.11"/>
<circle cx="133.6" cy="967.6" r="5.0" fill="#000" fill-opacity="0.11"/>
<circle cx="134.8" cy="974.2" r="5.0" fill="#000" fill-opacity="0.11"/>
<circle cx="136.0" cy="995.7" r="5.0" fill="#000" fill-opacity="0.11"/>
<circle cx="137.2" cy="985.8" r="5.0" fill="#000" fill-opacity="0.11"/>
<circle cx="138.4" cy="938.8" r="5.0" fill="#000" fill-opacity="0.11"/>
<circle cx="139.6" cy="999.5" r="5.0" fill="#000" fill-opacity="0.11"/>
<circle cx="140.8" cy="998.5" r="5.0" fill="#000" fill-opacity="0.11"/>
<circle cx="142.0" cy="982.0" r="5.0" fill="#000" fill-opacity="0.11"/>
<circle cx="143.2" cy="993.3" r="5.0" fill="#000" fill-opacity="0.11"/>
<circle cx="144.4" cy="986.8" r="5.0" fill="#000" fill-opacity="0.11"/>
<circle cx="145.6" cy="963.7" r="5.0" fill="#000" fill-opacity="0.11"/>
<circle cx="146.8" cy="934.9" r="5.0" fill="#000" fill-opacity="0.11"/>
<circle cx="148.0" cy="1019.2" r="5.0" fill="#000" fill-opacity="0.11"/>
<circle cx="149.2" cy="976.9" r="5.0" fill="#000" fill-opacity="0.11"/>
<circle cx="150.4" cy="975.5" r="5.0" fill="#000" fill-opacity="0.11"/>
<circle cx="151.6" cy="978.5" r="5.0" fill="#000" fill-opacity="0.11"/>
<circle cx="152.8" cy="981.0" r="5.0" fill="#000" fill-opacity="0.11"/>
<circle cx="154.0" cy="984.6" r="5.0" fill="#000" fill-opacity="0.11"/>
<circle cx="155.2" cy="952.4" r="5.0" fill="#000" fill-opacity="0.11"/>
<circle cx="156.4" cy="987.6" r="5.0" fill="#000" fill-opacity="0.11"/>
<circle cx="157.6" cy="979.5" r="5.0" fill="#000" fill-opacity="0.11"/>
<circle cx="158.8" cy="976.5" r="5.0" fill="#000" fill-opacity="0.11"/>
<circle cx="160.0" cy="973.9" r="5.0" fill="#000" fill-opacity="0.11"/>
<circle cx="161.2" cy="980.6" r="5.0" fill="#000" fill-opacity="0.11"/>
<circle cx="162.4" cy="952.5" r="5.0" fill="#000" fill-opacity="0.11"/>
<circle cx="163.6" cy="976.7" r="5.0" fill="#000" fill-opacity="0.11"/>
<circle cx="164.8" cy="972.3" r="5.0" fill="#000" fill-opacity="0.11"/>
<circle cx="166.0" cy="977.7" r="5.0" fill="#000" fill-opacity="0.11"/>
<circle cx="167.2" cy="1000.6" r="5.0" fill="#000" fill-opacity="0.11"/>
<circle cx="168.4" cy="996.4" r="5.0" fill="#000" fill-opacity="0.11"/>
<circle cx="169.6" cy="1001.7" r="5.0" fill="#000" fill-opacity="0.11"/>
<circle cx="170.8" cy="971.8" r="5.0" fill="#000" fill-opacity="0.11"/>
<circle cx="172.0" cy="993.6" r="5.0" fill="#000" fill-opacity="0.11"/>
<circle cx="173.2" cy="1002.0" r="5.0" fill="#000" fill-opacity="0.11"/>
<circle cx="174.4" cy="970.8" r="5.0" fill="#000" fill-opacity="0.11"/>
<circle cx="175.6" cy="963.9" r="5.0" fill="#000" fill-opacity="0.11"/>
<circle cx="176.8" cy="1018.8" r="5.0" fill="#000" fill-opacity="0.11"/>
<circle cx="178.0" cy="935.9" r="5.0" fill="#000" fill-opacity="0.11"/>
<circle cx="179.2" cy="975.7" r="5.0" fill="#000" fill-opacity="0.11"/>
<circle cx="180.4" cy="979.0" r="5.0" fill="#000" fill-opacity="0.11"/>
<circle cx="181.6" cy="950.8" r="5.0" fill="#000" fill-opacity="0.11"/>
<circle cx="182.8" cy="974.8" r="5.0" fill="#000" fill-opacity="0.11"/>
<circle cx="184.0" cy="991.0" r="5.0" fill="#000" fill-opacity="0.11"/>
<circle cx="185.2" cy="923.8" r="5.0" fill="#000" fill-opacity="0.11"/>
<circle cx="186.4" cy="1002.3" r="5.0" fill="#000" fill-opacity="0.11"/>
<circle cx="187.6" cy="978.8" r="5.0" fill="#000" fill-opacity="0.11"/>
<circle cx="188.8" cy="956.1" r="5.0" fill="#000" fill-opacity="0.11"/>
<circle cx="190.0" cy="1002.2" r="5.0" fill="#000" fill-opacity="0.11"/>
<circle cx="191.2" cy="978.9" r="5.0" fill="#000" fill-opacity="0.11"/>
<circle cx="192.4" cy="967.2" r="5.0" fill="#000" fill-opacity="0.11"/>
<circle cx="193.6" cy="918.8" r="5.0" fill="#000" fill-opacity="0.11"/>
<circle cx="194.8" cy="997.9" r="5.0" fill="#000" fill-opacity="0.11"/>
<circle cx="196.0" cy="977.6" r="5.0" fill="#000" fill-opacity="0.11"/>
<circle cx="197.2" cy="960.6" r="5.0" fill="#000" fill-opacity="0.11"/>
<circle cx="198.4" cy="974.5" r="5.0" fill="#000" fill-opacity="0.11"/>
<circle cx="199.6" cy="1005.4" r="5.0" fill="#000" fill-opacity="0.11"/>
<circle cx="200.8" cy="966.7" r="5.0" fill="#000" fill-opacity="0.11"/>
<circle cx="202.0" cy="973.9" r="5.0" fill="#000" fill-opacity="0.11"/>
<circle cx="203.2" cy="965.8" r="5.0" fill="#000" fill-opacity="0.11"/>
<circle cx="204.4" cy="949.3" r="5.0" fill="#000" fill-opacity="0.11"/>
<circle cx="205.6" cy="952.1" r="5.0" fill="#000" fill-opacity="0.11"/>
<circle cx="206.8" cy="966.7" r="5.0" fill="#000" fill-opacity="0.11"/>
<circle cx="208.0" cy="969.0" r="5.0" fill="#000" fill-opacity="0.11"/>
<circle cx="209.2" cy="1002.9" r="5.0" fill="#000" fill-opacity="0.11"/>
<circle cx="210.4" cy="979.7" r="5.0" fill="#000" fill-opacity="0.11"/>
<circle cx="211.6" cy="971.2" r="5.0" fill="#000" fill-opacity="0.11"/>
<circle cx="212.8" cy="986.1" r="5.0" fill="#000" fill-opacity="0.11"/>
<circle cx="214.0" cy="974.1" r="5.0" fill="#000" fill-opacity="0.11"/>
<circle cx="215.2" cy="996.3" r="5.0" fill="#000" fill-opacity="0.11"/>
<circle cx="216.4" cy="939.6" r="5.0" fill="#000" fill-opacity="0.11"/>
<circle cx="217.6" cy="924.8" r="5.0" fill="#000" fill-opacity="0.11"/>
<circle cx="218.8" cy="985.8" r="5.0" fill="#000" fill-opacity="0.11"/>
<circle cx="220.0" cy="966.9" r="5.0" fill="#000" fill-opacity="0.11"/>
<circle cx="221.2" cy="982.1" r="5.0" fill="#000" fill-opacity="0.11"/>
<circle cx="222.4" cy="1143.9" r="5.0" fill="#000" fill-opacity="0.11"/>
<circle cx="223.6" cy="1199.6" r="5.0" fill="#000" fill-opacity="0.11"/>
<circle cx="224.8" cy="1224.3" r="5.0" fill="#000" fill-opacity="0.11"/>
<circle cx="226.0" cy="1239.7" r="5.0" fill="#000" fill-opacity="0.11"/>
<circle cx="227.2" cy="1238.9" r="5.0" fill="#000" fill-opacity="0.11"/>
<circle cx="228.4" cy="1262.2" r="5.0" fill="#000" fill-opacity="0.11"/>
<circle cx="229.6" cy="1233.7" r="5.0" fill="#000" fill-opacity="0.11"/>
<circle cx="230.8" cy="1259.6" r="5.0" fill="#000" fill-opacity="0.11"/>
<circle cx="232.0" cy="1237.6" r="5.0" fill="#000" fill-opacity="0.11"/>
<circle cx="233.2" cy="1245.2" r="5.0" fill="#000" fill-opacity="0.11"/>
<circle cx="234.4" cy="1228.0" r="5.0" fill="#000" fill-opacity="0.11"/>
<circle cx="235.6" cy="1248.1" r="5.0" fill="#000" fill-opacity="0.11"/>
<circle cx="236.8" cy="1229.4" r="5.0" fill="#000" fill-opacity="0.11"/>
<circle cx="238.0" cy="1264.5" r="5.0" fill="#000" fill-opacity="0.11"/>
<circle cx="239.2" cy="1236.9" r="5.0" fill="#000" fill-opacity="0.11"/>
<circle cx="240.4" cy="1251.9" r="5.0" fill="#000" fill-opacity="0.11"/>
<circle cx="241.6" cy="1244.4" r="5.0" fill="#000" fill-opacity="0.11"/>
<circle cx="242.8" cy="1246.6" r="5.0" fill="#000" fill-opacity="0.11"/>
<circle cx="244.0" cy="1231.0" r="5.0" fill="#000" fill-opacity="0.11"/>
<circle cx="245.2" cy="1284.3" r="5.0" fill="#000" fill-opacity="0.11"/>
<circle cx="246.4" cy="1242.1" r="5.0" fill="#000" fill-opacity="0.11"/>
<circle cx="247.6" cy="1274.8" r="5.0" fill="#000" fill-opacity="0.11"/>
<circle cx="248.8" cy="1226.1" r="5.0" fill="#000" fill-opacity="0.11"/>
<circle cx="250.0" cy="1283.4" r="5.0" fill="#000" fill-opacity="0.11"/>
<circle cx="251.2" cy="1266.0" r="5.0" fill="#000" fill-opacity="0.11"/>
<circle cx="252.4" cy="1278.0" r="5.0" fill="#000" fill-opacity="0.11"/>
<circle cx="253.6" cy="1218.3" r="5.0" fill="#000" fill-opacity="0.11"/>
<circle cx="254.8" cy="1271.1" r="5.0" fill="#000" fill-opacity="0.11"/>
<circle cx="256.0" cy="1245.8" r="5.0" fill="#000" fill-opacity="0.11"/>
<circle cx="257.2" cy="1257.5" r="5.0" fill="#000" fill-opacity="0.11"/>
<circle cx="258.4" cy="1280.3" r="5.0" fill="#000" fill-opacity="0.11"/>
<circle cx="259.6" cy="1253.9" r="5.0" fill="#000" fill-opacity="0.11"/>
<circle cx="260.8" cy="1235.9" r="5.0" fill="#000" fill-opacity="0.11"/>
<circle cx="262.0" cy="1251.2" r="5.0" fill="#000" fill-opacity="0.11"/>
<circle cx="263.2" cy="1230.9" r="5.0" fill="#000" fill-opacity="0.11"/>
<circle cx="264.4" cy="1254.4" r="5.0" fill="#000" fill-opacity="0.11"/>
<circle cx="265.6" cy="1247.7" r="5.0" fill="#000" fill-opacity="0.11"/>
<circle cx="266.8" cy="1254.8" r="5.0" fill="#000" fill-opacity="0.11"/>
<circle cx="268.0" cy="1241.7" r="5.0" fill="#000" fill-opacity="0.11"/>
<circle cx="269.2" cy="1213.7" r="5.0" fill="#000" fill-opacity="0.11"/>
<circle cx="270.4" cy="1241.3" r="5.0" fill="#000" fill-opacity="0.11"/>
<circle cx="271.6" cy="1244.4" r="5.0" fill="#000" fill-opacity="0.11"/>
<circle cx="272.8" cy="1259.0" r="5.0" fill="#000" fill-opacity="0.11"/>
<circle cx="274.0" cy="1261.5" r="5.0" fill="#000" fill-opacity="0.11"/>
<circle cx="275.2" cy="1221.5" r="5.0" fill="#000" fill-opacity="0.11"/>
<circle cx="276.4" cy="1267.9" r="5.0" fill="#000" fill-opacity="0.11"/>
<circle cx="277.6" cy="1264.3" r="5.0" fill="#000" fill-opacity="0.11"/>
<circle cx="278.8" cy="1249.6" r="5.0" fill="#000" fill-opacity="0.11"/>
<circle cx="280.0" cy="1255.6" r="5.0" fill="#000" fill-opacity="0.11"/>
<circle cx="281.2" cy="1212.6" r="5.0" fill="#000" fill-opacity="0.11"/>
<circle cx="282.4" cy="1290.5" r="5.0" fill="#000" fill-opacity="0.11"/>
<circle cx="283.6" cy="1241.4" r="5.0" fill="#000" fill-opacity="0.11"/>
<circle cx="284.8" cy="1235.0" r="5.0" fill="#000" fill-opacity="0.11"/>
<circle cx="286.0" cy="1268.1" r="5.0" fill="#000" fill-opacity="0.11"/>
<circle cx="287.2" cy="1259.5" r="5.0" fill="#000" fill-opacity="0.11"/>
<circle cx="288.4" cy="1240.1" r="5.0" fill="#000" fill-opacity="0.11"/>
<circle cx="289.6" cy="1218.5" r="5.0" fill="#000" fill-opacity="0.11"/>
<circle cx="290.8" cy="1264.5" r="5.0" fill="#000" fill-opacity="0.11"/>
<circle cx="292.0" cy="1276.3" r="5.0" fill="#000" fill-opacity="0.11"/>
<circle cx="293.2" cy="1230.4" r="5.0" fill="#000" fill-opacity="0.11"/>
<circle cx="294.4" cy="1220.4" r="5.0" fill="#000" fill-opacity="0.11"/>
<circle cx="295.6" cy="1253.9" r="5.0" fill="#000" fill-opacity="0.11"/>
<circle cx="296.8" cy="1287.8" r="5.0" fill="#000" fill-opacity="0.11"/>
<circle cx="298.0" cy="1221.7" r="5.0" fill="#000" fill-opacity="0.11"/>
<circle cx="299.2" cy="1251.4" r="5.0" fill="#000" fill-opacity="0.11"/>
<circle cx="300.4" cy="1227.6" r="5.0" fill="#000" fill-opacity="0.11"/>
<circle cx="301.6" cy="1248.7" r="5.0" fill="#000" fill-opacity="0.11"/>
<circle cx="302.8" cy="1254.6" r="5.0" fill="#000" fill-opacity="0.11"/>
<circle cx="304.0" cy="1256.0" r="5.0" fill="#000" fill-opacity="0.11"/>
<circle cx="305.2" cy="1221.3" r="5.0" fill="#000" fill-opacity="0.11"/>
<circle cx="306.4" cy="1222.0" r="5.0" fill="#000" fill-opacity="0.11"/>
<circle cx="307.6" cy="1286.4" r="5.0" fill="#000" fill-opacity="0.11"/>
<circle cx="308.8" cy="1264.7" r="5.0" fill="#000" fill-opacity="0.11"/>
<circle cx="310.0" cy="1215.9" r="5.0" fill="#000" fill-opacity="0.11"/>
<circle cx="311.2" cy="1254.5" r="5.0" fill="#000" fill-opacity="0.11"/>
<circle cx="312.4" cy="1272.4" r="5.0" fill="#000" fill-opacity="0.11"/>
<circle cx="313.6" cy="1247.8" r="5.0" fill="#000" fill-opacity="0.11"/>
<circle cx="314.8" cy="1249.8" r="5.0" fill="#000" fill-opacity="0.11"/>
<circle cx="316.0" cy="1249.6" r="5.0" fill="#000" fill-opacity="0.11"/>
<circle cx="317.2" cy="1256.5" r="5.0" fill="#000" fill-opacity="0.11"/>
<circle cx="318.4" cy="1253.5" r="5.0" fill="#000" fill-opacity="0.11"/>
<circle cx="319.6" cy="1256.1" r="5.0" fill="#000" fill-opacity="0.11"/>
<circle cx="320.8" cy="1241.9" r="5.0" fill="#000" fill-opacity="0.11"/>
<circle cx="322.0" cy="1262.5" r="5.0" fill="#000" fill-opacity="0.11"/>
<circle cx="323.2" cy="1253.1" r="5.0" fill="#000" fill-opacity="0.11"/>
<circle cx="324.4" cy="1250.5" r="5.0" fill="#000" fill-opacity="0.11"/>
<circle cx="325.6" cy="1224.4" r="5.0" fill="#000" fill-opacity="0.11"/>
<circle cx="326.8" cy="1241.1" r="5.0" fill="#000" fill-opacity="0.11"/>
<circle cx="328.0" cy="1249.8" r="5.0" fill="#000" fill-opacity="0.11"/>
<circle cx="329.2" cy="1238.2" r="5.0" fill="#000" fill-opacity="0.11"/>
<circle cx="330.4" cy="1240.6" r="5.0" fill="#000" fill-opacity="0.11"/>
<circle cx="331.6" cy="1228.3" r="5.0" fill="#000" fill-opacity="0.11"/>
<circle cx="332.8" cy="1238.7" r="5.0" fill="#000" fill-opacity="0.11"/>
<circle cx="334.0" cy="1215.6" r="5.0" fill="#000" fill-opacity="0.11"/>
<circle cx="335.2" cy="1223.7" r="5.0" fill="#000" fill-opacity="0.11"/>
<circle cx="336.4" cy="1248.6" r="5.0" fill="#000" fill-opacity="0.11"/>
<circle cx="337.6" cy="1255.3" r="5.0" fill="#000" fill-opacity="0.11"/>
<circle cx="338.8" cy="1232.0" r="5.0" fill="#000" fill-opacity="0.11"/>
<circle cx="340.0" cy="1238.6" r="5.0" fill="#000" fill-opacity="0.11"/>
<circle cx="341.2" cy="1249.6" r="5.0" fill="#000" fill-opacity="0.11"/>
<circle cx="342.4" cy="1274.5" r="5.0" fill="#000" fill-opacity="0.11"/>
<circle cx="343.6" cy="1280.9" r="5.0" fill="#000" fill-opacity="0.11"/>
<circle cx="344.8" cy="1241.6" r="5.0" fill="#000" fill-opacity="0.11"/>
<circle cx="346.0" cy="1234.0" r="5.0" fill="#000" fill-opacity="0.11"/>
<circle cx="347.2" cy="1233.4" r="5.0" fill="#000" fill-opacity="0.11"/>
<circle cx="348.4" cy="1271.1" r="5.0" fill="#000" fill-opacity="0.11"/>
<circle cx="349.6" cy="1229.2" r="5.0" fill="#000" fill-opacity="0.11"/>
<circle cx="350.8" cy="1257.5" r="5.0" fill="#000" fill-opacity="0.11"/>
<circle cx="352.0" cy="1240.9" r="5.0" fill="#000" fill-opacity="0.11"/>
<circle cx="353.2" cy="1240.4" r="5.0" fill="#000" fill-opacity="0.11"/>
<circle cx="354.4" cy="1262.3" r="5.0" fill="#000" fill-opacity="0.11"/>
<circle cx="355.6" cy="1258.5" r="5.0" fill="#000" fill-opacity="0.11"/>
<circle cx="356.8" cy="1285.2" r="5.0" fill="#000" fill-opacity="0.11"/>
<circle cx="358.0" cy="1264.4" r="5.0" fill="#000" fill-opacity="0.11"/>
<circle cx="359.2" cy="1280.3" r="5.0" fill="#000" fill-opacity="0.11"/>
<circle cx="360.4" cy="1240.0" r="5.0" fill="#000" fill-opacity="0.11"/>
<circle cx="361.6" cy="1246.8" r="5.0" fill="#000" fill-opacity="0.11"/>
<circle cx="362.8" cy="1231.4" r="5.0" fill="#000" fill-opacity="0.11"/>
<circle cx="364.0" cy="1241.4" r="5.0" fill="#000" fill-opacity="0.11"/>
<circle cx="365.2" cy="1259.3" r="5.0" fill="#000" fill-opacity="0.11"/>
<circle cx="366.4" cy="1241.6" r="5.0" fill="#000" fill-opacity="0.11"/>
<circle cx="367.6" cy="1254.9" r="5.0" fill="#000" fill-opacity="0.11"/>
<circle cx="368.8" cy="1236.9" r="5.0" fill="#000" fill-opacity="0.11"/>
<circle cx="370.0" cy="1242.2" r="5.0" fill="#000" fill-opacity="0.11"/>
<circle cx="371.2" cy="1265.7" r="5.0" fill="#000" fill-opacity="0.11"/>
<circle cx="372.4" cy="1247.8" r="5.0" fill="#000" fill-opacity="0.11"/>
<circle cx="373.6" cy="1246.9" r="5.0" fill="#000" fill-opacity="0.11"/>
<circle cx="374.8" cy="1253.4" r="5.0" fill="#000" fill-opacity="0.11"/>
<circle cx="376.0" cy="1231.8" r="5.0" fill="#000" fill-opacity="0.11"/>
<circle cx="377.2" cy="1217.0" r="5.0" fill="#000" fill-opacity="0.11"/>
<circle cx="378.4" cy="1254.5" r="5.0" fill="#000" fill-opacity="0.11"/>
<circle cx="379.6" cy="1254.2" r="5.0" fill="#000" fill-opacity="0.11"/>
<circle cx="380.8" cy="1288.4" r="5.0" fill="#000" fill-opacity="0.11"/>
<circle cx="382.0" cy="1250.2" r="5.0" fill="#000" fill-opacity="0.11"/>
<circle cx="383.2" cy="1255.7" r="5.0" fill="#000" fill-opacity="0.11"/>
<circle cx="384.4" cy="1286.8" r="5.0" fill="#000" fill-opacity="0.11"/>
<circle cx="385.6" cy="1242.7" r="5.0" fill="#000" fill-opacity="0.11"/>
<circle cx="386.8" cy="1237.2" r="5.0" fill="#000" fill-opacity="0.11"/>
<circle cx="388.0" cy="1261.1" r="5.0" fill="#000" fill-opacity="0.11"/>
<circle cx="389.2" cy="1254.6" r="5.0" fill="#000" fill-opacity="0.11"/>
<circle cx="390.4" cy="1265.3" r="5.0" fill="#000" fill-opacity="0.11"/>
<circle cx="391.6" cy="1234.1" r="5.0" fill="#000" fill-opacity="0.11"/>
<circle cx="392.8" cy="1275.2" r="5.0" fill="#000" fill-opacity="0.11"/>
<circle cx="394.0" cy="1253.5" r="5.0" fill="#000" fill-opacity="0.11"/>
<circle cx="395.2" cy="1212.7" r="5.0" fill="#000" fill-opacity="0.11"/>
<circle cx="396.4" cy="1246.9" r="5.0" fill="#000" fill-opacity="0.11"/>
<circle cx="397.6" cy="1239.4" r="5.0" fill="#000" fill-opacity="0.11"/>
<circle cx="398.8" cy="1250.5" r="5.0" fill="#000" fill-opacity="0.11"/>
<circle cx="400.0" cy="1269.0" r="5.0" fill="#000" fill-opacity="0.11"/>
<circle cx="401.2" cy="1248.5" r="5.0" fill="#000" fill-opacity="0.11"/>
<circle cx="402.4" cy="1240.6" r="5.0" fill="#000" fill-opacity="0.11"/>
<circle cx="403.6" cy="1266.3" r="5.0" fill="#000" fill-opacity="0.11"/>
<circle cx="404.8" cy="1241.7" r="5.0" fill="#000" fill-opacity="0.11"/>
<circle cx="406.0" cy="1225.4" r="5.0" fill="#000" fill-opacity="0.11"/>
<circle cx="407.2" cy="1228.6" r="5.0" fill="#000" fill-opacity="0.11"/>
<circle cx="408.4" cy="1276.4" r="5.0" fill="#000" fill-opacity="0.11"/>
<circle cx="409.6" cy="1265.4" r="5.0" fill="#000" fill-opacity="0.11"/>
<circle cx="410.8" cy="1276.9" r="5.0" fill="#000" fill-opacity="0.11"/>
<circle cx="412.0" cy="1228.6" r="5.0" fill="#000" fill-opacity="0.11"/>
<circle cx="413.2" cy="1236.9" r="5.0" fill="#000" fill-opacity="0.11"/>
<circle cx="414.4" cy="1235.2" r="5.0" fill="#000" fill-opacity="0.11"/>
<circle cx="415.6" cy="1263.7" r="5.0" fill="#000" fill-opacity="0.11"/>
<circle cx="416.8" cy="1268.9" r="5.0" fill="#000" fill-opacity="0.11"/>
<circle cx="418.0" cy="1246.5" r="5.0" fill="#000" fill-opacity="0.11"/>
<circle cx="419.2" cy="1246.1" r="5.0" fill="#000" fill-opacity="0.11"/>
<circle cx="420.4" cy="1263.3" r="5.0" fill="#000" fill-opacity="0.11"/>
<circle cx="421.6" cy="1245.3" r="5.0" fill="#000" fill-opacity="0.11"/>
<circle cx="422.8" cy="1236.3" r="5.0" fill="#000" fill-opacity="0.11"/>
<circle cx="424.0" cy="1243.8" r="5.0" fill="#000" fill-opacity="0.11"/>
<circle cx="425.2" cy="1266.6" r="5.0" fill="#000" fill-opacity="0.11"/>
<circle cx="426.4" cy="1285.9" r="5.0" fill="#000" fill-opacity="0.11"/>
<circle cx="427.6" cy="1252.5" r="5.0" fill="#000" fill-opacity="0.11"/>
<circle cx="428.8" cy="1244.9" r="5.0" fill="#000" fill-opacity="0.11"/>
<circle cx="430.0" cy="1252.6" r="5.0" fill="#000" fill-opacity="0.11"/>
<circle cx="431.2" cy="1255.6" r="5.0" fill="#000" fill-opacity="0.11"/>
<circle cx="432.4" cy="1260.3" r="5.0" fill="#000" fill-opacity="0.11"/>
<circle cx="433.6" cy="1235.0" r="5.0" fill="#000" fill-opacity="0.11"/>
<circle cx="434.8" cy="1248.8" r="5.0" fill="#000" fill-opacity="0.11"/>
<circle cx="436.0" cy="1245.7" r="5.0" fill="#000" fill-opacity="0.11"/>
<circle cx="437.2" cy="1265.4" r="5.0" fill="#000" fill-opacity="0.11"/>
<circle cx="438.4" cy="1259.0" r="5.0" fill="#000" fill-opacity="0.11"/>
<circle cx="439.6" cy="1244.9" r="5.0" fill="#000" fill-opacity="0.11"/>
<circle cx="440.8" cy="1266.0" r="5.0" fill="#000" fill-opacity="0.11"/>
<circle cx="442.0" cy="1270.6" r="5.0" fill="#000" fill-opacity="0.11"/>
<circle cx="443.2" cy="1253.8" r="5.0" fill="#000" fill-opacity="0.11"/>
<circle cx="444.4" cy="1226.2" r="5.0" fill="#000" fill-opacity="0.11"/>
<circle cx="445.6" cy="1244.4" r="5.0" fill="#000" fill-opacity="0.11"/>
<circle cx="446.8" cy="1221.6" r="5.0" fill="#000" fill-opacity="0.11"/>
<circle cx="448.0" cy="1250.2" r="5.0" fill="#000" fill-opacity="0.11"/>
<circle cx="449.2" cy="1253.5" r="5.0" fill="#000" fill-opacity="0.11"/>
<circle cx="450.4" cy="1273.0" r="5.0" fill="#000" fill-opacity="0.11"/>
<circle cx="451.6" cy="1258.3" r="5.0" fill="#000" fill-opacity="0.11"/>
<circle cx="452.8" cy="1222.0" r="5.0" fill="#000" fill-opacity="0.11"/>
<circle cx="454.0" cy="1242.0" r="5.0" fill="#000" fill-opacity="0.11"/>
<circle cx="455.2" cy="1234.7" r="5.0" fill="#000" fill-opacity="0.11"/>
<circle cx="456.4" cy="1235.2" r="5.0" fill="#000" fill-opacity="0.11"/>
<circle cx="457.6" cy="1248.0" r="5.0" fill="#000" fill-opacity="0.11"/>
<circle cx="458.8" cy="1251.6" r="5.0" fill="#000" fill-opacity="0.11"/>
<circle cx="460.0" cy="1245.7" r="5.0" fill="#000" fill-opacity="0.11"/>
<circle cx="461.2" cy="1235.8" r="5.0" fill="#000" fill-opacity="0.11"/>
<path d="M103.00,884.40 L223.00,884.40 L223.00,917.22 L458.80,917.22" stroke="#000" stroke-width="4.4" fill="none" stroke-linecap="round"/>
<path d="M103.00,884.40 L103.40,884.40 L103.79,884.40 L104.19,884.40 L104.58,884.40 L104.98,884.40 L105.37,884.40 L105.77,884.40 L106.17,884.40 L106.56,884.40 L106.96,884.40 L107.35,884.40 L107.75,884.40 L108.15,884.40 L108.54,884.40 L108.94,884.40 L109.33,884.40 L109.73,884.40 L110.12,884.40 L110.52,884.40 L110.92,884.40 L111.31,884.40 L111.71,884.40 L112.10,884.40 L112.50,884.40 L112.89,884.40 L113.29,884.40 L113.69,884.40 L114.08,884.40 L114.48,884.40 L114.87,884.40 L115.27,884.40 L115.66,884.40 L116.06,884.40 L116.46,884.40 L116.85,884.40 L117.25,884.40 L117.64,884.40 L118.04,884.40 L118.44,884.40 L118.83,884.40 L119.23,884.40 L119.62,884.40 L120.02,884.40 L120.41,884.40 L120.81,884.40 L121.21,884.40 L121.60,884.40 L122.00,884.40 L122.39,884.40 L122.79,884.40 L123.18,884.40 L123.58,884.40 L123.98,884.40 L124.37,884.40 L124.77,884.40 L125.16,884.40 L125.56,884.40 L125.95,884.40 L126.35,884.40 L126.75,884.40 L127.14,884.40 L127.54,884.40 L127.93,884.40 L128.33,884.40 L128.73,884.40 L129.12,884.40 L129.52,884.40 L129.91,884.40 L130.31,884.40 L130.70,884.40 L131.10,884.40 L131.50,884.40 L131.89,884.40 L132.29,884.40 L132.68,884.40 L133.08,884.40 L133.47,884.40 L133.87,884.40 L134.27,884.40 L134.66,884.40 L135.06,884.40 L135.45,884.40 L135.85,884.40 L136.24,884.40 L136.64,884.40 L137.04,884.40 L137.43,884.40 L137.83,884.40 L138.22,884.40 L138.62,884.40 L139.02,884.40 L139.41,884.40 L139.81,884.40 L140.20,884.40 L140.60,884.40 L140.99,884.40 L141.39,884.40 L141.79,884.40 L142.18,884.40 L142.58,884.40 L142.97,884.40 L143.37,884.40 L143.76,884.40 L144.16,884.40 L144.56,884.40 L144.95,884.40 L145.35,884.40 L145.74,884.40 L146.14,884.40 L146.54,884.40 L146.93,884.40 L147.33,884.40 L147.72,884.40 L148.12,884.40 L148.51,884.40 L148.91,884.40 L149.31,884.40 L149.70,884.40 L150.10,884.40 L150.49,884.40 L150.89,884.40 L151.28,884.40 L151.68,884.40 L152.08,884.40 L152.47,884.40 L152.87,884.40 L153.26,884.40 L153.66,884.40 L154.05,884.40 L154.45,884.40 L154.85,884.40 L155.24,884.40 L155.64,884.40 L156.03,884.40 L156.43,884.40 L156.83,884.40 L157.22,884.40 L157.62,884.40 L158.01,884.40 L158.41,884.40 L158.80,884.40 L159.20,884.40 L159.60,884.40 L159.99,884.40 L160.39,884.40 L160.78,884.40 L161.18,884.40 L161.57,884.40 L161.97,884.40 L162.37,884.40 L162.76,884.40 L163.16,884.40 L163.55,884.40 L163.95,884.40 L164.34,884.40 L164.74,884.40 L165.14,884.40 L165.53,884.40 L165.93,884.40 L166.32,884.40 L166.72,884.40 L167.12,884.40 L167.51,884.40 L167.91,884.40 L168.30,884.40 L168.70,884.40 L169.09,884.40 L169.49,884.40 L169.89,884.40 L170.28,884.40 L170.68,884.40 L171.07,884.40 L171.47,884.40 L171.86,884.40 L172.26,884.40 L172.66,884.40 L173.05,884.40 L173.45,884.40 L173.84,884.40 L174.24,884.40 L174.63,884.40 L175.03,884.40 L175.43,884.40 L175.82,884.40 L176.22,884.40 L176.61,884.40 L177.01,884.40 L177.41,884.40 L177.80,884.40 L178.20,884.40 L178.59,884.40 L178.99,884.40 L179.38,884.40 L179.78,884.40 L180.18,884.40 L180.57,884.40 L180.97,884.40 L181.36,884.40 L181.76,884.40 L182.15,884.40 L182.55,884.40 L182.95,884.40 L183.34,884.40 L183.74,884.40 L184.13,884.40 L184.53,884.40 L184.93,884.40 L185.32,884.40 L185.72,884.40 L186.11,884.40 L186.51,884.40 L186.90,884.40 L187.30,884.40 L187.70,884.40 L188.09,884.40 L188.49,884.40 L188.88,884.40 L189.28,884.40 L189.67,884.40 L190.07,884.40 L190.47,884.40 L190.86,884.40 L191.26,884.40 L191.65,884.40 L192.05,884.40 L192.44,884.40 L192.84,884.40 L193.24,884.40 L193.63,884.40 L194.03,884.40 L194.42,884.40 L194.82,884.40 L195.22,884.40 L195.61,884.40 L196.01,884.40 L196.40,884.40 L196.80,884.40 L197.19,884.40 L197.59,884.40 L197.99,884.40 L198.38,884.40 L198.78,884.40 L199.17,884.40 L199.57,884.40 L199.96,884.40 L200.36,884.40 L200.76,884.40 L201.15,884.40 L201.55,884.40 L201.94,884.40 L202.34,884.40 L202.73,884.40 L203.13,884.40 L203.53,884.40 L203.92,884.40 L204.32,884.40 L204.71,884.40 L205.11,884.40 L205.51,884.40 L205.90,884.40 L206.30,884.40 L206.69,884.40 L207.09,884.40 L207.48,884.40 L207.88,884.40 L208.28,884.40 L208.67,884.40 L209.07,884.40 L209.46,884.40 L209.86,884.40 L210.25,884.40 L210.65,884.40 L211.05,884.40 L211.44,884.40 L211.84,884.40 L212.23,884.40 L212.63,884.40 L213.02,884.40 L213.42,884.40 L213.82,884.40 L214.21,884.40 L214.61,884.40 L215.00,884.40 L215.40,884.40 L215.80,884.40 L216.19,884.40 L216.59,884.40 L216.98,884.40 L217.38,884.40 L217.77,884.40 L218.17,884.40 L218.57,884.40 L218.96,884.40 L219.36,889.88 L219.75,896.61 L220.15,903.21 L220.54,909.69 L220.94,916.05 L221.34,922.29 L221.73,928.41 L222.13,934.42 L222.52,940.32 L222.92,946.11 L223.32,951.79 L223.71,957.36 L224.11,962.83 L224.50,968.20 L224.90,973.47 L225.29,978.64 L225.69,983.71 L226.09,988.69 L226.48,993.58 L226.88,998.37 L227.27,1003.08 L227.67,1007.70 L228.06,1012.23 L228.46,1016.68 L228.86,1021.04 L229.25,1025.33 L229.65,1029.53 L230.04,1033.66 L230.44,1037.71 L230.83,1041.68 L231.23,1045.58 L231.63,1049.41 L232.02,1053.16 L232.42,1056.85 L232.81,1060.46 L233.21,1064.01 L233.61,1067.50 L234.00,1070.92 L234.40,1074.27 L234.79,1077.56 L235.19,1080.80 L235.58,1083.97 L235.98,1087.08 L236.38,1090.13 L236.77,1093.13 L237.17,1096.07 L237.56,1098.96 L237.96,1101.79 L238.35,1104.57 L238.75,1107.30 L239.15,1109.98 L239.54,1112.61 L239.94,1115.18 L240.33,1117.72 L240.73,1120.20 L241.12,1122.64 L241.52,1125.03 L241.92,1127.38 L242.31,1129.68 L242.71,1131.94 L243.10,1134.16 L243.50,1136.34 L243.90,1138.47 L244.29,1140.57 L244.69,1142.63 L245.08,1144.65 L245.48,1146.63 L245.87,1148.58 L246.27,1150.48 L246.67,1152.36 L247.06,1154.20 L247.46,1156.00 L247.85,1157.77 L248.25,1159.51 L248.64,1161.21 L249.04,1162.89 L249.44,1164.53 L249.83,1166.14 L250.23,1167.72 L250.62,1169.28 L251.02,1170.80 L251.41,1172.29 L251.81,1173.76 L252.21,1175.20 L252.60,1176.61 L253.00,1178.00 L253.39,1179.36 L253.79,1180.70 L254.19,1182.01 L254.58,1183.29 L254.98,1184.56 L255.37,1185.80 L255.77,1187.01 L256.16,1188.20 L256.56,1189.38 L256.96,1190.52 L257.35,1191.65 L257.75,1192.76 L258.14,1193.84 L258.54,1194.91 L258.93,1195.96 L259.33,1196.98 L259.73,1197.99 L260.12,1198.98 L260.52,1199.95 L260.91,1200.90 L261.31,1201.84 L261.71,1202.75 L262.10,1203.65 L262.50,1204.54 L262.89,1205.40 L263.29,1206.25 L263.68,1207.09 L264.08,1207.91 L264.48,1208.71 L264.87,1209.50 L265.27,1210.27 L265.66,1211.03 L266.06,1211.78 L266.45,1212.51 L266.85,1213.23 L267.25,1213.93 L267.64,1214.63 L268.04,1215.31 L268.43,1215.97 L268.83,1216.63 L269.22,1217.27 L269.62,1217.90 L270.02,1218.51 L270.41,1219.12 L270.81,1219.72 L271.20,1220.30 L271.60,1220.87 L272.00,1221.44 L272.39,1221.99 L272.79,1222.53 L273.18,1223.06 L273.58,1223.58 L273.97,1224.09 L274.37,1224.60 L274.77,1225.09 L275.16,1225.57 L275.56,1226.05 L275.95,1226.51 L276.35,1226.97 L276.74,1227.42 L277.14,1227.86 L277.54,1228.29 L277.93,1228.72 L278.33,1229.13 L278.72,1229.54 L279.12,1229.94 L279.51,1230.34 L279.91,1230.72 L280.31,1231.10 L280.70,1231.47 L281.10,1231.84 L281.49,1232.20 L281.89,1232.55 L282.29,1232.89 L282.68,1233.23 L283.08,1233.57 L283.47,1233.89 L283.87,1234.21 L284.26,1234.53 L284.66,1234.83 L285.06,1235.14 L285.45,1235.43 L285.85,1235.72 L286.24,1236.01 L286.64,1236.29 L287.03,1236.57 L287.43,1236.84 L287.83,1237.10 L288.22,1237.36 L288.62,1237.62 L289.01,1237.87 L289.41,1238.11 L289.80,1238.36 L290.20,1238.59 L290.60,1238.82 L290.99,1239.05 L291.39,1239.28 L291.78,1239.50 L292.18,1239.71 L292.58,1239.92 L292.97,1240.13 L293.37,1240.34 L293.76,1240.54 L294.16,1240.73 L294.55,1240.92 L294.95,1241.11 L295.35,1241.30 L295.74,1241.48 L296.14,1241.66 L296.53,1241.83 L296.93,1242.01 L297.32,1242.18 L297.72,1242.34 L298.12,1242.50 L298.51,1242.66 L298.91,1242.82 L299.30,1242.97 L299.70,1243.12 L300.09,1243.27 L300.49,1243.42 L300.89,1243.56 L301.28,1243.70 L301.68,1243.84 L302.07,1243.97 L302.47,1244.11 L302.87,1244.23 L303.26,1244.36 L303.66,1244.49 L304.05,1244.61 L304.45,1244.73 L304.84,1244.85 L305.24,1244.96 L305.64,1245.08 L306.03,1245.19 L306.43,1245.30 L306.82,1245.41 L307.22,1245.51 L307.61,1245.62 L308.01,1245.72 L308.41,1245.82 L308.80,1245.92 L309.20,1246.01 L309.59,1246.11 L309.99,1246.20 L310.39,1246.29 L310.78,1246.38 L311.18,1246.47 L311.57,1246.55 L311.97,1246.64 L312.36,1246.72 L312.76,1246.80 L313.16,1246.88 L313.55,1246.96 L313.95,1247.03 L314.34,1247.11 L314.74,1247.18 L315.13,1247.26 L315.53,1247.33 L315.93,1247.40 L316.32,1247.47 L316.72,1247.53 L317.11,1247.60 L317.51,1247.66 L317.90,1247.73 L318.30,1247.79 L318.70,1247.85 L319.09,1247.91 L319.49,1247.97 L319.88,1248.03 L320.28,1248.08 L320.68,1248.14 L321.07,1248.19 L321.47,1248.25 L321.86,1248.30 L322.26,1248.35 L322.65,1248.40 L323.05,1248.45 L323.45,1248.50 L323.84,1248.55 L324.24,1248.60 L324.63,1248.64 L325.03,1248.69 L325.42,1248.73 L325.82,1248.78 L326.22,1248.82 L326.61,1248.86 L327.01,1248.90 L327.40,1248.94 L327.80,1248.98 L328.19,1249.02 L328.59,1249.06 L328.99,1249.10 L329.38,1249.13 L329.78,1249.17 L330.17,1249.21 L330.57,1249.24 L330.97,1249.27 L331.36,1249.31 L331.76,1249.34 L332.15,1249.37 L332.55,1249.40 L332.94,1249.44 L333.34,1249.47 L333.74,1249.50 L334.13,1249.53 L334.53,1249.55 L334.92,1249.58 L335.32,1249.61 L335.71,1249.64 L336.11,1249.66 L336.51,1249.69 L336.90,1249.72 L337.30,1249.74 L337.69,1249.77 L338.09,1249.79 L338.48,1249.82 L338.88,1249.84 L339.28,1249.86 L339.67,1249.88 L340.07,1249.91 L340.46,1249.93 L340.86,1249.95 L341.26,1249.97 L341.65,1249.99 L342.05,1250.01 L342.44,1250.03 L342.84,1250.05 L343.23,1250.07 L343.63,1250.09 L344.03,1250.11 L344.42,1250.12 L344.82,1250.14 L345.21,1250.16 L345.61,1250.18 L346.00,1250.19 L346.40,1250.21 L346.80,1250.23 L347.19,1250.24 L347.59,1250.26 L347.98,1250.27 L348.38,1250.29 L348.78,1250.30 L349.17,1250.32 L349.57,1250.33 L349.96,1250.34 L350.36,1250.36 L350.75,1250.37 L351.15,1250.38 L351.55,1250.40 L351.94,1250.41 L352.34,1250.42 L352.73,1250.43 L353.13,1250.45 L353.52,1250.46 L353.92,1250.47 L354.32,1250.48 L354.71,1250.49 L355.11,1250.50 L355.50,1250.51 L355.90,1250.52 L356.29,1250.53 L356.69,1250.54 L357.09,1250.55 L357.48,1250.56 L357.88,1250.57 L358.27,1250.58 L358.67,1250.59 L359.07,1250.60 L359.46,1250.61 L359.86,1250.62 L360.25,1250.63 L360.65,1250.64 L361.04,1250.64 L361.44,1250.65 L361.84,1250.66 L362.23,1250.67 L362.63,1250.67 L363.02,1250.68 L363.42,1250.69 L363.81,1250.70 L364.21,1250.70 L364.61,1250.71 L365.00,1250.72 L365.40,1250.72 L365.79,1250.73 L366.19,1250.74 L366.58,1250.74 L366.98,1250.75 L367.38,1250.76 L367.77,1250.76 L368.17,1250.77 L368.56,1250.77 L368.96,1250.78 L369.36,1250.78 L369.75,1250.79 L370.15,1250.79 L370.54,1250.80 L370.94,1250.81 L371.33,1250.81 L371.73,1250.82 L372.13,1250.82 L372.52,1250.82 L372.92,1250.83 L373.31,1250.83 L373.71,1250.84 L374.10,1250.84 L374.50,1250.85 L374.90,1250.85 L375.29,1250.86 L375.69,1250.86 L376.08,1250.86 L376.48,1250.87 L376.87,1250.87 L377.27,1250.88 L377.67,1250.88 L378.06,1250.88 L378.46,1250.89 L378.85,1250.89 L379.25,1250.89 L379.65,1250.90 L380.04,1250.90 L380.44,1250.90 L380.83,1250.91 L381.23,1250.91 L381.62,1250.91 L382.02,1250.92 L382.42,1250.92 L382.81,1250.92 L383.21,1250.92 L383.60,1250.93 L384.00,1250.93 L384.39,1250.93 L384.79,1250.94 L385.19,1250.94 L385.58,1250.94 L385.98,1250.94 L386.37,1250.95 L386.77,1250.95 L387.17,1250.95 L387.56,1250.95 L387.96,1250.95 L388.35,1250.96 L388.75,1250.96 L389.14,1250.96 L389.54,1250.96 L389.94,1250.97 L390.33,1250.97 L390.73,1250.97 L391.12,1250.97 L391.52,1250.97 L391.91,1250.98 L392.31,1250.98 L392.71,1250.98 L393.10,1250.98 L393.50,1250.98 L393.89,1250.98 L394.29,1250.99 L394.68,1250.99 L395.08,1250.99 L395.48,1250.99 L395.87,1250.99 L396.27,1250.99 L396.66,1251.00 L397.06,1251.00 L397.46,1251.00 L397.85,1251.00 L398.25,1251.00 L398.64,1251.00 L399.04,1251.00 L399.43,1251.01 L399.83,1251.01 L400.23,1251.01 L400.62,1251.01 L401.02,1251.01 L401.41,1251.01 L401.81,1251.01 L402.20,1251.01 L402.60,1251.01 L403.00,1251.02 L403.39,1251.02 L403.79,1251.02 L404.18,1251.02 L404.58,1251.02 L404.97,1251.02 L405.37,1251.02 L405.77,1251.02 L406.16,1251.02 L406.56,1251.03 L406.95,1251.03 L407.35,1251.03 L407.75,1251.03 L408.14,1251.03 L408.54,1251.03 L408.93,1251.03 L409.33,1251.03 L409.72,1251.03 L410.12,1251.03 L410.52,1251.03 L410.91,1251.03 L411.31,1251.04 L411.70,1251.04 L412.10,1251.04 L412.49,1251.04 L412.89,1251.04 L413.29,1251.04 L413.68,1251.04 L414.08,1251.04 L414.47,1251.04 L414.87,1251.04 L415.26,1251.04 L415.66,1251.04 L416.06,1251.04 L416.45,1251.04 L416.85,1251.04 L417.24,1251.04 L417.64,1251.05 L418.04,1251.05 L418.43,1251.05 L418.83,1251.05 L419.22,1251.05 L419.62,1251.05 L420.01,1251.05 L420.41,1251.05 L420.81,1251.05 L421.20,1251.05 L421.60,1251.05 L421.99,1251.05 L422.39,1251.05 L422.78,1251.05 L423.18,1251.05 L423.58,1251.05 L423.97,1251.05 L424.37,1251.05 L424.76,1251.05 L425.16,1251.05 L425.56,1251.05 L425.95,1251.06 L426.35,1251.06 L426.74,1251.06 L427.14,1251.06 L427.53,1251.06 L427.93,1251.06 L428.33,1251.06 L428.72,1251.06 L429.12,1251.06 L429.51,1251.06 L429.91,1251.06 L430.30,1251.06 L430.70,1251.06 L431.10,1251.06 L431.49,1251.06 L431.89,1251.06 L432.28,1251.06 L432.68,1251.06 L433.07,1251.06 L433.47,1251.06 L433.87,1251.06 L434.26,1251.06 L434.66,1251.06 L435.05,1251.06 L435.45,1251.06 L435.85,1251.06 L436.24,1251.06 L436.64,1251.06 L437.03,1251.06 L437.43,1251.06 L437.82,1251.06 L438.22,1251.06 L438.62,1251.06 L439.01,1251.06 L439.41,1251.06 L439.80,1251.06 L440.20,1251.06 L440.59,1251.06 L440.99,1251.07 L441.39,1251.07 L441.78,1251.07 L442.18,1251.07 L442.57,1251.07 L442.97,1251.07 L443.36,1251.07 L443.76,1251.07 L444.16,1251.07 L444.55,1251.07 L444.95,1251.07 L445.34,1251.07 L445.74,1251.07 L446.14,1251.07 L446.53,1251.07 L446.93,1251.07 L447.32,1251.07 L447.72,1251.07 L448.11,1251.07 L448.51,1251.07 L448.91,1251.07 L449.30,1251.07 L449.70,1251.07 L450.09,1251.07 L450.49,1251.07 L450.88,1251.07 L451.28,1251.07 L451.68,1251.07 L452.07,1251.07 L452.47,1251.07 L452.86,1251.07 L453.26,1251.07 L453.65,1251.07 L454.05,1251.07 L454.45,1251.07 L454.84,1251.07 L455.24,1251.07 L455.63,1251.07 L456.03,1251.07 L456.43,1251.07 L456.82,1251.07 L457.22,1251.07 L457.61,1251.07 L458.01,1251.07 L458.40,1251.07 L458.80,1251.07" stroke="#ff2a14" stroke-width="5" fill="none" stroke-linecap="round"/>
<path d="M103.00,906.02 L103.40,906.02 L103.79,906.02 L104.19,906.02 L104.58,906.02 L104.98,906.02 L105.37,906.02 L105.77,906.02 L106.17,906.02 L106.56,906.02 L106.96,906.02 L107.35,906.02 L107.75,906.02 L108.15,906.02 L108.54,906.02 L108.94,906.02 L109.33,906.02 L109.73,906.02 L110.12,906.02 L110.52,906.02 L110.92,906.02 L111.31,906.02 L111.71,906.02 L112.10,906.02 L112.50,906.02 L112.89,906.02 L113.29,906.02 L113.69,906.02 L114.08,906.02 L114.48,906.02 L114.87,906.02 L115.27,906.02 L115.66,906.02 L116.06,906.02 L116.46,906.02 L116.85,906.02 L117.25,906.02 L117.64,906.02 L118.04,906.02 L118.44,906.02 L118.83,906.02 L119.23,906.02 L119.62,906.02 L120.02,906.02 L120.41,906.02 L120.81,906.02 L121.21,906.02 L121.60,906.02 L122.00,906.02 L122.39,906.02 L122.79,906.02 L123.18,906.02 L123.58,906.02 L123.98,906.02 L124.37,906.02 L124.77,906.02 L125.16,906.02 L125.56,906.02 L125.95,906.02 L126.35,906.02 L126.75,906.02 L127.14,906.02 L127.54,906.02 L127.93,906.02 L128.33,906.02 L128.73,906.02 L129.12,906.02 L129.52,906.02 L129.91,906.02 L130.31,906.02 L130.70,906.02 L131.10,906.02 L131.50,906.02 L131.89,906.02 L132.29,906.02 L132.68,906.02 L133.08,906.02 L133.47,906.02 L133.87,906.02 L134.27,906.02 L134.66,906.02 L135.06,906.02 L135.45,906.02 L135.85,906.02 L136.24,906.02 L136.64,906.02 L137.04,906.02 L137.43,906.02 L137.83,906.02 L138.22,906.02 L138.62,906.02 L139.02,906.02 L139.41,906.02 L139.81,906.02 L140.20,906.02 L140.60,906.02 L140.99,906.02 L141.39,906.02 L141.79,906.02 L142.18,906.02 L142.58,906.02 L142.97,906.02 L143.37,906.02 L143.76,906.02 L144.16,906.02 L144.56,906.02 L144.95,906.02 L145.35,906.02 L145.74,906.02 L146.14,906.02 L146.54,906.02 L146.93,906.02 L147.33,906.02 L147.72,906.02 L148.12,906.02 L148.51,906.02 L148.91,906.02 L149.31,906.02 L149.70,906.02 L150.10,906.02 L150.49,906.02 L150.89,906.02 L151.28,906.02 L151.68,906.02 L152.08,906.02 L152.47,906.02 L152.87,906.02 L153.26,906.02 L153.66,906.02 L154.05,906.02 L154.45,906.02 L154.85,906.02 L155.24,906.02 L155.64,906.02 L156.03,906.02 L156.43,906.02 L156.83,906.02 L157.22,906.02 L157.62,906.02 L158.01,906.02 L158.41,906.02 L158.80,906.02 L159.20,906.02 L159.60,906.02 L159.99,906.02 L160.39,906.02 L160.78,906.02 L161.18,906.02 L161.57,906.02 L161.97,906.02 L162.37,906.02 L162.76,906.02 L163.16,906.02 L163.55,906.02 L163.95,906.02 L164.34,906.02 L164.74,906.02 L165.14,906.02 L165.53,906.02 L165.93,906.02 L166.32,906.02 L166.72,906.02 L167.12,906.02 L167.51,906.02 L167.91,906.02 L168.30,906.02 L168.70,906.02 L169.09,906.02 L169.49,906.02 L169.89,906.02 L170.28,906.02 L170.68,906.02 L171.07,906.02 L171.47,906.02 L171.86,906.02 L172.26,906.02 L172.66,906.02 L173.05,906.02 L173.45,906.02 L173.84,906.02 L174.24,906.02 L174.63,906.02 L175.03,906.02 L175.43,906.02 L175.82,906.02 L176.22,906.02 L176.61,906.02 L177.01,906.02 L177.41,906.02 L177.80,906.02 L178.20,906.02 L178.59,906.02 L178.99,906.02 L179.38,906.02 L179.78,906.02 L180.18,906.02 L180.57,906.02 L180.97,906.02 L181.36,906.02 L181.76,906.02 L182.15,906.02 L182.55,906.02 L182.95,906.02 L183.34,906.02 L183.74,906.02 L184.13,906.02 L184.53,906.02 L184.93,906.02 L185.32,906.02 L185.72,906.02 L186.11,906.02 L186.51,906.02 L186.90,906.02 L187.30,906.02 L187.70,906.02 L188.09,906.02 L188.49,906.02 L188.88,906.02 L189.28,906.02 L189.67,906.02 L190.07,906.02 L190.47,906.02 L190.86,906.02 L191.26,906.02 L191.65,906.02 L192.05,906.02 L192.44,906.02 L192.84,906.02 L193.24,906.02 L193.63,906.02 L194.03,906.02 L194.42,906.02 L194.82,906.02 L195.22,906.02 L195.61,906.02 L196.01,906.02 L196.40,906.02 L196.80,906.02 L197.19,906.02 L197.59,906.02 L197.99,906.02 L198.38,906.02 L198.78,906.02 L199.17,906.02 L199.57,906.02 L199.96,906.02 L200.36,906.02 L200.76,906.02 L201.15,906.02 L201.55,906.02 L201.94,906.02 L202.34,906.02 L202.73,906.02 L203.13,906.02 L203.53,906.02 L203.92,906.02 L204.32,906.02 L204.71,906.02 L205.11,906.02 L205.51,906.02 L205.90,906.02 L206.30,906.02 L206.69,906.02 L207.09,906.02 L207.48,906.02 L207.88,906.02 L208.28,906.02 L208.67,906.02 L209.07,906.02 L209.46,906.02 L209.86,906.02 L210.25,906.02 L210.65,906.02 L211.05,906.02 L211.44,906.02 L211.84,906.02 L212.23,906.02 L212.63,906.02 L213.02,906.02 L213.42,906.02 L213.82,906.02 L214.21,906.02 L214.61,906.02 L215.00,906.02 L215.40,906.02 L215.80,906.02 L216.19,906.02 L216.59,906.02 L216.98,906.02 L217.38,906.02 L217.77,906.02 L218.17,906.02 L218.57,906.02 L218.96,906.02 L219.36,906.02 L219.75,916.01 L220.15,926.54 L220.54,936.40 L220.94,945.62 L221.34,954.26 L221.73,962.35 L222.13,969.92 L222.52,977.01 L222.92,983.64 L223.32,989.85 L223.71,995.67 L224.11,1001.11 L224.50,1006.21 L224.90,1010.98 L225.29,1015.45 L225.69,1019.63 L226.09,1023.54 L226.48,1027.21 L226.88,1030.64 L227.27,1033.85 L227.67,1036.85 L228.06,1039.67 L228.46,1042.30 L228.86,1044.77 L229.25,1047.08 L229.65,1049.24 L230.04,1051.27 L230.44,1053.16 L230.83,1054.93 L231.23,1056.59 L231.63,1058.15 L232.02,1059.60 L232.42,1060.97 L232.81,1062.24 L233.21,1063.44 L233.61,1064.55 L234.00,1065.60 L234.40,1066.58 L234.79,1067.50 L235.19,1068.36 L235.58,1069.16 L235.98,1069.91 L236.38,1070.62 L236.77,1071.28 L237.17,1071.89 L237.56,1072.47 L237.96,1073.01 L238.35,1073.52 L238.75,1073.99 L239.15,1074.44 L239.54,1074.85 L239.94,1075.24 L240.33,1075.61 L240.73,1075.95 L241.12,1076.27 L241.52,1076.56 L241.92,1076.84 L242.31,1077.11 L242.71,1077.35 L243.10,1077.58 L243.50,1077.80 L243.90,1078.00 L244.29,1078.19 L244.69,1078.36 L245.08,1078.53 L245.48,1078.68 L245.87,1078.83 L246.27,1078.96 L246.67,1079.09 L247.06,1079.21 L247.46,1079.32 L247.85,1079.42 L248.25,1079.52 L248.64,1079.61 L249.04,1079.70 L249.44,1079.78 L249.83,1079.85 L250.23,1079.92 L250.62,1079.99 L251.02,1080.05 L251.41,1080.10 L251.81,1080.16 L252.21,1080.21 L252.60,1080.26 L253.00,1080.30 L253.39,1080.34 L253.79,1080.38 L254.19,1080.42 L254.58,1080.45 L254.98,1080.48 L255.37,1080.51 L255.77,1080.54 L256.16,1080.57 L256.56,1080.59 L256.96,1080.61 L257.35,1080.63 L257.75,1080.65 L258.14,1080.67 L258.54,1080.69 L258.93,1080.71 L259.33,1080.72 L259.73,1080.74 L260.12,1080.75 L260.52,1080.76 L260.91,1080.77 L261.31,1080.79 L261.71,1080.80 L262.10,1080.81 L262.50,1080.81 L262.89,1080.82 L263.29,1080.83 L263.68,1080.84 L264.08,1080.85 L264.48,1080.85 L264.87,1080.86 L265.27,1080.86 L265.66,1080.87 L266.06,1080.87 L266.45,1080.88 L266.85,1080.88 L267.25,1080.89 L267.64,1080.89 L268.04,1080.89 L268.43,1080.90 L268.83,1080.90 L269.22,1080.90 L269.62,1080.91 L270.02,1080.91 L270.41,1080.91 L270.81,1080.91 L271.20,1080.92 L271.60,1080.92 L272.00,1080.92 L272.39,1080.92 L272.79,1080.92 L273.18,1080.92 L273.58,1080.93 L273.97,1080.93 L274.37,1080.93 L274.77,1080.93 L275.16,1080.93 L275.56,1080.93 L275.95,1080.93 L276.35,1080.93 L276.74,1080.93 L277.14,1080.94 L277.54,1080.94 L277.93,1080.94 L278.33,1080.94 L278.72,1080.94 L279.12,1080.94 L279.51,1080.94 L279.91,1080.94 L280.31,1080.94 L280.70,1080.94 L281.10,1080.94 L281.49,1080.94 L281.89,1080.94 L282.29,1080.94 L282.68,1080.94 L283.08,1080.94 L283.47,1080.94 L283.87,1080.94 L284.26,1080.94 L284.66,1080.94 L285.06,1080.94 L285.45,1080.94 L285.85,1080.94 L286.24,1080.94 L286.64,1080.94 L287.03,1080.95 L287.43,1080.95 L287.83,1080.95 L288.22,1080.95 L288.62,1080.95 L289.01,1080.95 L289.41,1080.95 L289.80,1080.95 L290.20,1080.95 L290.60,1080.95 L290.99,1080.95 L291.39,1080.95 L291.78,1080.95 L292.18,1080.95 L292.58,1080.95 L292.97,1080.95 L293.37,1080.95 L293.76,1080.95 L294.16,1080.95 L294.55,1080.95 L294.95,1080.95 L295.35,1080.95 L295.74,1080.95 L296.14,1080.95 L296.53,1080.95 L296.93,1080.95 L297.32,1080.95 L297.72,1080.95 L298.12,1080.95 L298.51,1080.95 L298.91,1080.95 L299.30,1080.95 L299.70,1080.95 L300.09,1080.95 L300.49,1080.95 L300.89,1080.95 L301.28,1080.95 L301.68,1080.95 L302.07,1080.95 L302.47,1080.95 L302.87,1080.95 L303.26,1080.95 L303.66,1080.95 L304.05,1080.95 L304.45,1080.95 L304.84,1080.95 L305.24,1080.95 L305.64,1080.95 L306.03,1080.95 L306.43,1080.95 L306.82,1080.95 L307.22,1080.95 L307.61,1080.95 L308.01,1080.95 L308.41,1080.95 L308.80,1080.95 L309.20,1080.95 L309.59,1080.95 L309.99,1080.95 L310.39,1080.95 L310.78,1080.95 L311.18,1080.95 L311.57,1080.95 L311.97,1080.95 L312.36,1080.95 L312.76,1080.95 L313.16,1080.95 L313.55,1080.95 L313.95,1080.95 L314.34,1080.95 L314.74,1080.95 L315.13,1080.95 L315.53,1080.95 L315.93,1080.95 L316.32,1080.95 L316.72,1080.95 L317.11,1080.95 L317.51,1080.95 L317.90,1080.95 L318.30,1080.95 L318.70,1080.95 L319.09,1080.95 L319.49,1080.95 L319.88,1080.95 L320.28,1080.95 L320.68,1080.95 L321.07,1080.95 L321.47,1080.95 L321.86,1080.95 L322.26,1080.95 L322.65,1080.95 L323.05,1080.95 L323.45,1080.95 L323.84,1080.95 L324.24,1080.95 L324.63,1080.95 L325.03,1080.95 L325.42,1080.95 L325.82,1080.95 L326.22,1080.95 L326.61,1080.95 L327.01,1080.95 L327.40,1080.95 L327.80,1080.95 L328.19,1080.95 L328.59,1080.95 L328.99,1080.95 L329.38,1080.95 L329.78,1080.95 L330.17,1080.95 L330.57,1080.95 L330.97,1080.95 L331.36,1080.95 L331.76,1080.95 L332.15,1080.95 L332.55,1080.95 L332.94,1080.95 L333.34,1080.95 L333.74,1080.95 L334.13,1080.95 L334.53,1080.95 L334.92,1080.95 L335.32,1080.95 L335.71,1080.95 L336.11,1080.95 L336.51,1080.95 L336.90,1080.95 L337.30,1080.95 L337.69,1080.95 L338.09,1080.95 L338.48,1080.95 L338.88,1080.95 L339.28,1080.95 L339.67,1080.95 L340.07,1080.95 L340.46,1080.95 L340.86,1080.95 L341.26,1080.95 L341.65,1080.95 L342.05,1080.95 L342.44,1080.95 L342.84,1080.95 L343.23,1080.95 L343.63,1080.95 L344.03,1080.95 L344.42,1080.95 L344.82,1080.95 L345.21,1080.95 L345.61,1080.95 L346.00,1080.95 L346.40,1080.95 L346.80,1080.95 L347.19,1080.95 L347.59,1080.95 L347.98,1080.95 L348.38,1080.95 L348.78,1080.95 L349.17,1080.95 L349.57,1080.95 L349.96,1080.95 L350.36,1080.95 L350.75,1080.95 L351.15,1080.95 L351.55,1080.95 L351.94,1080.95 L352.34,1080.95 L352.73,1080.95 L353.13,1080.95 L353.52,1080.95 L353.92,1080.95 L354.32,1080.95 L354.71,1080.95 L355.11,1080.95 L355.50,1080.95 L355.90,1080.95 L356.29,1080.95 L356.69,1080.95 L357.09,1080.95 L357.48,1080.95 L357.88,1080.95 L358.27,1080.95 L358.67,1080.95 L359.07,1080.95 L359.46,1080.95 L359.86,1080.95 L360.25,1080.95 L360.65,1080.95 L361.04,1080.95 L361.44,1080.95 L361.84,1080.95 L362.23,1080.95 L362.63,1080.95 L363.02,1080.95 L363.42,1080.95 L363.81,1080.95 L364.21,1080.95 L364.61,1080.95 L365.00,1080.95 L365.40,1080.95 L365.79,1080.95 L366.19,1080.95 L366.58,1080.95 L366.98,1080.95 L367.38,1080.95 L367.77,1080.95 L368.17,1080.95 L368.56,1080.95 L368.96,1080.95 L369.36,1080.95 L369.75,1080.95 L370.15,1080.95 L370.54,1080.95 L370.94,1080.95 L371.33,1080.95 L371.73,1080.95 L372.13,1080.95 L372.52,1080.95 L372.92,1080.95 L373.31,1080.95 L373.71,1080.95 L374.10,1080.95 L374.50,1080.95 L374.90,1080.95 L375.29,1080.95 L375.69,1080.95 L376.08,1080.95 L376.48,1080.95 L376.87,1080.95 L377.27,1080.95 L377.67,1080.95 L378.06,1080.95 L378.46,1080.95 L378.85,1080.95 L379.25,1080.95 L379.65,1080.95 L380.04,1080.95 L380.44,1080.95 L380.83,1080.95 L381.23,1080.95 L381.62,1080.95 L382.02,1080.95 L382.42,1080.95 L382.81,1080.95 L383.21,1080.95 L383.60,1080.95 L384.00,1080.95 L384.39,1080.95 L384.79,1080.95 L385.19,1080.95 L385.58,1080.95 L385.98,1080.95 L386.37,1080.95 L386.77,1080.95 L387.17,1080.95 L387.56,1080.95 L387.96,1080.95 L388.35,1080.95 L388.75,1080.95 L389.14,1080.95 L389.54,1080.95 L389.94,1080.95 L390.33,1080.95 L390.73,1080.95 L391.12,1080.95 L391.52,1080.95 L391.91,1080.95 L392.31,1080.95 L392.71,1080.95 L393.10,1080.95 L393.50,1080.95 L393.89,1080.95 L394.29,1080.95 L394.68,1080.95 L395.08,1080.95 L395.48,1080.95 L395.87,1080.95 L396.27,1080.95 L396.66,1080.95 L397.06,1080.95 L397.46,1080.95 L397.85,1080.95 L398.25,1080.95 L398.64,1080.95 L399.04,1080.95 L399.43,1080.95 L399.83,1080.95 L400.23,1080.95 L400.62,1080.95 L401.02,1080.95 L401.41,1080.95 L401.81,1080.95 L402.20,1080.95 L402.60,1080.95 L403.00,1080.95 L403.39,1080.95 L403.79,1080.95 L404.18,1080.95 L404.58,1080.95 L404.97,1080.95 L405.37,1080.95 L405.77,1080.95 L406.16,1080.95 L406.56,1080.95 L406.95,1080.95 L407.35,1080.95 L407.75,1080.95 L408.14,1080.95 L408.54,1080.95 L408.93,1080.95 L409.33,1080.95 L409.72,1080.95 L410.12,1080.95 L410.52,1080.95 L410.91,1080.95 L411.31,1080.95 L411.70,1080.95 L412.10,1080.95 L412.49,1080.95 L412.89,1080.95 L413.29,1080.95 L413.68,1080.95 L414.08,1080.95 L414.47,1080.95 L414.87,1080.95 L415.26,1080.95 L415.66,1080.95 L416.06,1080.95 L416.45,1080.95 L416.85,1080.95 L417.24,1080.95 L417.64,1080.95 L418.04,1080.95 L418.43,1080.95 L418.83,1080.95 L419.22,1080.95 L419.62,1080.95 L420.01,1080.95 L420.41,1080.95 L420.81,1080.95 L421.20,1080.95 L421.60,1080.95 L421.99,1080.95 L422.39,1080.95 L422.78,1080.95 L423.18,1080.95 L423.58,1080.95 L423.97,1080.95 L424.37,1080.95 L424.76,1080.95 L425.16,1080.95 L425.56,1080.95 L425.95,1080.95 L426.35,1080.95 L426.74,1080.95 L427.14,1080.95 L427.53,1080.95 L427.93,1080.95 L428.33,1080.95 L428.72,1080.95 L429.12,1080.95 L429.51,1080.95 L429.91,1080.95 L430.30,1080.95 L430.70,1080.95 L431.10,1080.95 L431.49,1080.95 L431.89,1080.95 L432.28,1080.95 L432.68,1080.95 L433.07,1080.95 L433.47,1080.95 L433.87,1080.95 L434.26,1080.95 L434.66,1080.95 L435.05,1080.95 L435.45,1080.95 L435.85,1080.95 L436.24,1080.95 L436.64,1080.95 L437.03,1080.95 L437.43,1080.95 L437.82,1080.95 L438.22,1080.95 L438.62,1080.95 L439.01,1080.95 L439.41,1080.95 L439.80,1080.95 L440.20,1080.95 L440.59,1080.95 L440.99,1080.95 L441.39,1080.95 L441.78,1080.95 L442.18,1080.95 L442.57,1080.95 L442.97,1080.95 L443.36,1080.95 L443.76,1080.95 L444.16,1080.95 L444.55,1080.95 L444.95,1080.95 L445.34,1080.95 L445.74,1080.95 L446.14,1080.95 L446.53,1080.95 L446.93,1080.95 L447.32,1080.95 L447.72,1080.95 L448.11,1080.95 L448.51,1080.95 L448.91,1080.95 L449.30,1080.95 L449.70,1080.95 L450.09,1080.95 L450.49,1080.95 L450.88,1080.95 L451.28,1080.95 L451.68,1080.95 L452.07,1080.95 L452.47,1080.95 L452.86,1080.95 L453.26,1080.95 L453.65,1080.95 L454.05,1080.95 L454.45,1080.95 L454.84,1080.95 L455.24,1080.95 L455.63,1080.95 L456.03,1080.95 L456.43,1080.95 L456.82,1080.95 L457.22,1080.95 L457.61,1080.95 L458.01,1080.95 L458.40,1080.95 L458.80,1080.95" stroke="#000" stroke-width="4.4" fill="none" stroke-dasharray="14.5 9.5" stroke-linecap="round"/>
<path d="M103.00,963.26 L103.40,963.26 L103.79,963.26 L104.19,963.26 L104.58,963.26 L104.98,963.26 L105.37,963.26 L105.77,963.26 L106.17,963.26 L106.56,963.26 L106.96,963.26 L107.35,963.26 L107.75,963.26 L108.15,963.26 L108.54,963.26 L108.94,963.26 L109.33,963.26 L109.73,963.26 L110.12,963.26 L110.52,963.26 L110.92,963.26 L111.31,963.26 L111.71,963.26 L112.10,963.26 L112.50,963.26 L112.89,963.26 L113.29,963.26 L113.69,963.26 L114.08,963.26 L114.48,963.26 L114.87,963.26 L115.27,963.26 L115.66,963.26 L116.06,963.26 L116.46,963.26 L116.85,963.26 L117.25,963.26 L117.64,963.26 L118.04,963.26 L118.44,963.26 L118.83,963.26 L119.23,963.26 L119.62,963.26 L120.02,963.26 L120.41,963.26 L120.81,963.26 L121.21,963.26 L121.60,963.26 L122.00,963.26 L122.39,963.26 L122.79,963.26 L123.18,963.26 L123.58,963.26 L123.98,963.26 L124.37,963.26 L124.77,963.26 L125.16,963.26 L125.56,963.26 L125.95,963.26 L126.35,963.26 L126.75,963.26 L127.14,963.26 L127.54,963.26 L127.93,963.26 L128.33,963.26 L128.73,963.26 L129.12,963.26 L129.52,963.26 L129.91,963.26 L130.31,963.26 L130.70,963.26 L131.10,963.26 L131.50,963.26 L131.89,963.26 L132.29,963.26 L132.68,963.26 L133.08,963.26 L133.47,963.26 L133.87,963.26 L134.27,963.26 L134.66,963.26 L135.06,963.26 L135.45,963.26 L135.85,963.26 L136.24,963.26 L136.64,963.26 L137.04,963.26 L137.43,963.26 L137.83,963.26 L138.22,963.26 L138.62,963.26 L139.02,963.26 L139.41,963.26 L139.81,963.26 L140.20,963.26 L140.60,963.26 L140.99,963.26 L141.39,963.26 L141.79,963.26 L142.18,963.26 L142.58,963.26 L142.97,963.26 L143.37,963.26 L143.76,963.26 L144.16,963.26 L144.56,963.26 L144.95,963.26 L145.35,963.26 L145.74,963.26 L146.14,963.26 L146.54,963.26 L146.93,963.26 L147.33,963.26 L147.72,963.26 L148.12,963.26 L148.51,963.26 L148.91,963.26 L149.31,963.26 L149.70,963.26 L150.10,963.26 L150.49,963.26 L150.89,963.26 L151.28,963.26 L151.68,963.26 L152.08,963.26 L152.47,963.26 L152.87,963.26 L153.26,963.26 L153.66,963.26 L154.05,963.26 L154.45,963.26 L154.85,963.26 L155.24,963.26 L155.64,963.26 L156.03,963.26 L156.43,963.26 L156.83,963.26 L157.22,963.26 L157.62,963.26 L158.01,963.26 L158.41,963.26 L158.80,963.26 L159.20,963.26 L159.60,963.26 L159.99,963.26 L160.39,963.26 L160.78,963.26 L161.18,963.26 L161.57,963.26 L161.97,963.26 L162.37,963.26 L162.76,963.26 L163.16,963.26 L163.55,963.26 L163.95,963.26 L164.34,963.26 L164.74,963.26 L165.14,963.26 L165.53,963.26 L165.93,963.26 L166.32,963.26 L166.72,963.26 L167.12,963.26 L167.51,963.26 L167.91,963.26 L168.30,963.26 L168.70,963.26 L169.09,963.26 L169.49,963.26 L169.89,963.26 L170.28,963.26 L170.68,963.26 L171.07,963.26 L171.47,963.26 L171.86,963.26 L172.26,963.26 L172.66,963.26 L173.05,963.26 L173.45,963.26 L173.84,963.26 L174.24,963.26 L174.63,963.26 L175.03,963.26 L175.43,963.26 L175.82,963.26 L176.22,963.26 L176.61,963.26 L177.01,963.26 L177.41,963.26 L177.80,963.26 L178.20,963.26 L178.59,963.26 L178.99,963.26 L179.38,963.26 L179.78,963.26 L180.18,963.26 L180.57,963.26 L180.97,963.26 L181.36,963.26 L181.76,963.26 L182.15,963.26 L182.55,963.26 L182.95,963.26 L183.34,963.26 L183.74,963.26 L184.13,963.26 L184.53,963.26 L184.93,963.26 L185.32,963.26 L185.72,963.26 L186.11,963.26 L186.51,963.26 L186.90,963.26 L187.30,963.26 L187.70,963.26 L188.09,963.26 L188.49,963.26 L188.88,963.26 L189.28,963.26 L189.67,963.26 L190.07,963.26 L190.47,963.26 L190.86,963.26 L191.26,963.26 L191.65,963.26 L192.05,963.26 L192.44,963.26 L192.84,963.26 L193.24,963.26 L193.63,963.26 L194.03,963.26 L194.42,963.26 L194.82,963.26 L195.22,963.26 L195.61,963.26 L196.01,963.26 L196.40,963.26 L196.80,963.26 L197.19,963.26 L197.59,963.26 L197.99,963.26 L198.38,963.26 L198.78,963.26 L199.17,963.26 L199.57,963.26 L199.96,963.26 L200.36,963.26 L200.76,963.26 L201.15,963.26 L201.55,963.26 L201.94,963.26 L202.34,963.26 L202.73,963.26 L203.13,963.26 L203.53,963.26 L203.92,963.26 L204.32,963.26 L204.71,963.26 L205.11,963.26 L205.51,963.26 L205.90,963.26 L206.30,963.26 L206.69,963.26 L207.09,963.26 L207.48,963.26 L207.88,963.26 L208.28,963.26 L208.67,963.26 L209.07,963.26 L209.46,963.26 L209.86,963.26 L210.25,963.26 L210.65,963.26 L211.05,963.26 L211.44,963.26 L211.84,963.26 L212.23,963.26 L212.63,963.26 L213.02,963.26 L213.42,963.26 L213.82,963.26 L214.21,963.26 L214.61,963.26 L215.00,963.26 L215.40,963.26 L215.80,963.26 L216.19,963.26 L216.59,963.26 L216.98,963.26 L217.38,963.26 L217.77,963.26 L218.17,963.26 L218.57,963.26 L218.96,963.26 L219.36,963.26 L219.75,971.45 L220.15,995.73 L220.54,1014.38 L220.94,1028.70 L221.34,1039.71 L221.73,1048.16 L222.13,1054.65 L222.52,1059.63 L222.92,1063.46 L223.32,1066.40 L223.71,1068.66 L224.11,1070.40 L224.50,1071.73 L224.90,1072.75 L225.29,1073.54 L225.69,1074.14 L226.09,1074.61 L226.48,1074.96 L226.88,1075.24 L227.27,1075.45 L227.67,1075.61 L228.06,1075.73 L228.46,1075.83 L228.86,1075.90 L229.25,1075.96 L229.65,1076.00 L230.04,1076.03 L230.44,1076.06 L230.83,1076.08 L231.23,1076.09 L231.63,1076.11 L232.02,1076.11 L232.42,1076.12 L232.81,1076.13 L233.21,1076.13 L233.61,1076.13 L234.00,1076.14 L234.40,1076.14 L234.79,1076.14 L235.19,1076.14 L235.58,1076.14 L235.98,1076.14 L236.38,1076.14 L236.77,1076.14 L237.17,1076.14 L237.56,1076.14 L237.96,1076.14 L238.35,1076.14 L238.75,1076.14 L239.15,1076.14 L239.54,1076.14 L239.94,1076.14 L240.33,1076.14 L240.73,1076.14 L241.12,1076.14 L241.52,1076.14 L241.92,1076.14 L242.31,1076.14 L242.71,1076.14 L243.10,1076.14 L243.50,1076.14 L243.90,1076.14 L244.29,1076.14 L244.69,1076.14 L245.08,1076.14 L245.48,1076.14 L245.87,1076.14 L246.27,1076.14 L246.67,1076.14 L247.06,1076.14 L247.46,1076.14 L247.85,1076.14 L248.25,1076.14 L248.64,1076.14 L249.04,1076.14 L249.44,1076.14 L249.83,1076.14 L250.23,1076.14 L250.62,1076.14 L251.02,1076.14 L251.41,1076.14 L251.81,1076.14 L252.21,1076.14 L252.60,1076.14 L253.00,1076.14 L253.39,1076.14 L253.79,1076.14 L254.19,1076.14 L254.58,1076.14 L254.98,1076.14 L255.37,1076.14 L255.77,1076.14 L256.16,1076.14 L256.56,1076.14 L256.96,1076.14 L257.35,1076.14 L257.75,1076.14 L258.14,1076.14 L258.54,1076.14 L258.93,1076.14 L259.33,1076.14 L259.73,1076.14 L260.12,1076.14 L260.52,1076.14 L260.91,1076.14 L261.31,1076.14 L261.71,1076.14 L262.10,1076.14 L262.50,1076.14 L262.89,1076.14 L263.29,1076.14 L263.68,1076.14 L264.08,1076.14 L264.48,1076.14 L264.87,1076.14 L265.27,1076.14 L265.66,1076.14 L266.06,1076.14 L266.45,1076.14 L266.85,1076.14 L267.25,1076.14 L267.64,1076.14 L268.04,1076.14 L268.43,1076.14 L268.83,1076.14 L269.22,1076.14 L269.62,1076.14 L270.02,1076.14 L270.41,1076.14 L270.81,1076.14 L271.20,1076.14 L271.60,1076.14 L272.00,1076.14 L272.39,1076.14 L272.79,1076.14 L273.18,1076.14 L273.58,1076.14 L273.97,1076.14 L274.37,1076.14 L274.77,1076.14 L275.16,1076.14 L275.56,1076.14 L275.95,1076.14 L276.35,1076.14 L276.74,1076.14 L277.14,1076.14 L277.54,1076.14 L277.93,1076.14 L278.33,1076.14 L278.72,1076.14 L279.12,1076.14 L279.51,1076.14 L279.91,1076.14 L280.31,1076.14 L280.70,1076.14 L281.10,1076.14 L281.49,1076.14 L281.89,1076.14 L282.29,1076.14 L282.68,1076.14 L283.08,1076.14 L283.47,1076.14 L283.87,1076.14 L284.26,1076.14 L284.66,1076.14 L285.06,1076.14 L285.45,1076.14 L285.85,1076.14 L286.24,1076.14 L286.64,1076.14 L287.03,1076.14 L287.43,1076.14 L287.83,1076.14 L288.22,1076.14 L288.62,1076.14 L289.01,1076.14 L289.41,1076.14 L289.80,1076.14 L290.20,1076.14 L290.60,1076.14 L290.99,1076.14 L291.39,1076.14 L291.78,1076.14 L292.18,1076.14 L292.58,1076.14 L292.97,1076.14 L293.37,1076.14 L293.76,1076.14 L294.16,1076.14 L294.55,1076.14 L294.95,1076.14 L295.35,1076.14 L295.74,1076.14 L296.14,1076.14 L296.53,1076.14 L296.93,1076.14 L297.32,1076.14 L297.72,1076.14 L298.12,1076.14 L298.51,1076.14 L298.91,1076.14 L299.30,1076.14 L299.70,1076.14 L300.09,1076.14 L300.49,1076.14 L300.89,1076.14 L301.28,1076.14 L301.68,1076.14 L302.07,1076.14 L302.47,1076.14 L302.87,1076.14 L303.26,1076.14 L303.66,1076.14 L304.05,1076.14 L304.45,1076.14 L304.84,1076.14 L305.24,1076.14 L305.64,1076.14 L306.03,1076.14 L306.43,1076.14 L306.82,1076.14 L307.22,1076.14 L307.61,1076.14 L308.01,1076.14 L308.41,1076.14 L308.80,1076.14 L309.20,1076.14 L309.59,1076.14 L309.99,1076.14 L310.39,1076.14 L310.78,1076.14 L311.18,1076.14 L311.57,1076.14 L311.97,1076.14 L312.36,1076.14 L312.76,1076.14 L313.16,1076.14 L313.55,1076.14 L313.95,1076.14 L314.34,1076.14 L314.74,1076.14 L315.13,1076.14 L315.53,1076.14 L315.93,1076.14 L316.32,1076.14 L316.72,1076.14 L317.11,1076.14 L317.51,1076.14 L317.90,1076.14 L318.30,1076.14 L318.70,1076.14 L319.09,1076.14 L319.49,1076.14 L319.88,1076.14 L320.28,1076.14 L320.68,1076.14 L321.07,1076.14 L321.47,1076.14 L321.86,1076.14 L322.26,1076.14 L322.65,1076.14 L323.05,1076.14 L323.45,1076.14 L323.84,1076.14 L324.24,1076.14 L324.63,1076.14 L325.03,1076.14 L325.42,1076.14 L325.82,1076.14 L326.22,1076.14 L326.61,1076.14 L327.01,1076.14 L327.40,1076.14 L327.80,1076.14 L328.19,1076.14 L328.59,1076.14 L328.99,1076.14 L329.38,1076.14 L329.78,1076.14 L330.17,1076.14 L330.57,1076.14 L330.97,1076.14 L331.36,1076.14 L331.76,1076.14 L332.15,1076.14 L332.55,1076.14 L332.94,1076.14 L333.34,1076.14 L333.74,1076.14 L334.13,1076.14 L334.53,1076.14 L334.92,1076.14 L335.32,1076.14 L335.71,1076.14 L336.11,1076.14 L336.51,1076.14 L336.90,1076.14 L337.30,1076.14 L337.69,1076.14 L338.09,1076.14 L338.48,1076.14 L338.88,1076.14 L339.28,1076.14 L339.67,1076.14 L340.07,1076.14 L340.46,1076.14 L340.86,1076.14 L341.26,1076.14 L341.65,1076.14 L342.05,1076.14 L342.44,1076.14 L342.84,1076.14 L343.23,1076.14 L343.63,1076.14 L344.03,1076.14 L344.42,1076.14 L344.82,1076.14 L345.21,1076.14 L345.61,1076.14 L346.00,1076.14 L346.40,1076.14 L346.80,1076.14 L347.19,1076.14 L347.59,1076.14 L347.98,1076.14 L348.38,1076.14 L348.78,1076.14 L349.17,1076.14 L349.57,1076.14 L349.96,1076.14 L350.36,1076.14 L350.75,1076.14 L351.15,1076.14 L351.55,1076.14 L351.94,1076.14 L352.34,1076.14 L352.73,1076.14 L353.13,1076.14 L353.52,1076.14 L353.92,1076.14 L354.32,1076.14 L354.71,1076.14 L355.11,1076.14 L355.50,1076.14 L355.90,1076.14 L356.29,1076.14 L356.69,1076.14 L357.09,1076.14 L357.48,1076.14 L357.88,1076.14 L358.27,1076.14 L358.67,1076.14 L359.07,1076.14 L359.46,1076.14 L359.86,1076.14 L360.25,1076.14 L360.65,1076.14 L361.04,1076.14 L361.44,1076.14 L361.84,1076.14 L362.23,1076.14 L362.63,1076.14 L363.02,1076.14 L363.42,1076.14 L363.81,1076.14 L364.21,1076.14 L364.61,1076.14 L365.00,1076.14 L365.40,1076.14 L365.79,1076.14 L366.19,1076.14 L366.58,1076.14 L366.98,1076.14 L367.38,1076.14 L367.77,1076.14 L368.17,1076.14 L368.56,1076.14 L368.96,1076.14 L369.36,1076.14 L369.75,1076.14 L370.15,1076.14 L370.54,1076.14 L370.94,1076.14 L371.33,1076.14 L371.73,1076.14 L372.13,1076.14 L372.52,1076.14 L372.92,1076.14 L373.31,1076.14 L373.71,1076.14 L374.10,1076.14 L374.50,1076.14 L374.90,1076.14 L375.29,1076.14 L375.69,1076.14 L376.08,1076.14 L376.48,1076.14 L376.87,1076.14 L377.27,1076.14 L377.67,1076.14 L378.06,1076.14 L378.46,1076.14 L378.85,1076.14 L379.25,1076.14 L379.65,1076.14 L380.04,1076.14 L380.44,1076.14 L380.83,1076.14 L381.23,1076.14 L381.62,1076.14 L382.02,1076.14 L382.42,1076.14 L382.81,1076.14 L383.21,1076.14 L383.60,1076.14 L384.00,1076.14 L384.39,1076.14 L384.79,1076.14 L385.19,1076.14 L385.58,1076.14 L385.98,1076.14 L386.37,1076.14 L386.77,1076.14 L387.17,1076.14 L387.56,1076.14 L387.96,1076.14 L388.35,1076.14 L388.75,1076.14 L389.14,1076.14 L389.54,1076.14 L389.94,1076.14 L390.33,1076.14 L390.73,1076.14 L391.12,1076.14 L391.52,1076.14 L391.91,1076.14 L392.31,1076.14 L392.71,1076.14 L393.10,1076.14 L393.50,1076.14 L393.89,1076.14 L394.29,1076.14 L394.68,1076.14 L395.08,1076.14 L395.48,1076.14 L395.87,1076.14 L396.27,1076.14 L396.66,1076.14 L397.06,1076.14 L397.46,1076.14 L397.85,1076.14 L398.25,1076.14 L398.64,1076.14 L399.04,1076.14 L399.43,1076.14 L399.83,1076.14 L400.23,1076.14 L400.62,1076.14 L401.02,1076.14 L401.41,1076.14 L401.81,1076.14 L402.20,1076.14 L402.60,1076.14 L403.00,1076.14 L403.39,1076.14 L403.79,1076.14 L404.18,1076.14 L404.58,1076.14 L404.97,1076.14 L405.37,1076.14 L405.77,1076.14 L406.16,1076.14 L406.56,1076.14 L406.95,1076.14 L407.35,1076.14 L407.75,1076.14 L408.14,1076.14 L408.54,1076.14 L408.93,1076.14 L409.33,1076.14 L409.72,1076.14 L410.12,1076.14 L410.52,1076.14 L410.91,1076.14 L411.31,1076.14 L411.70,1076.14 L412.10,1076.14 L412.49,1076.14 L412.89,1076.14 L413.29,1076.14 L413.68,1076.14 L414.08,1076.14 L414.47,1076.14 L414.87,1076.14 L415.26,1076.14 L415.66,1076.14 L416.06,1076.14 L416.45,1076.14 L416.85,1076.14 L417.24,1076.14 L417.64,1076.14 L418.04,1076.14 L418.43,1076.14 L418.83,1076.14 L419.22,1076.14 L419.62,1076.14 L420.01,1076.14 L420.41,1076.14 L420.81,1076.14 L421.20,1076.14 L421.60,1076.14 L421.99,1076.14 L422.39,1076.14 L422.78,1076.14 L423.18,1076.14 L423.58,1076.14 L423.97,1076.14 L424.37,1076.14 L424.76,1076.14 L425.16,1076.14 L425.56,1076.14 L425.95,1076.14 L426.35,1076.14 L426.74,1076.14 L427.14,1076.14 L427.53,1076.14 L427.93,1076.14 L428.33,1076.14 L428.72,1076.14 L429.12,1076.14 L429.51,1076.14 L429.91,1076.14 L430.30,1076.14 L430.70,1076.14 L431.10,1076.14 L431.49,1076.14 L431.89,1076.14 L432.28,1076.14 L432.68,1076.14 L433.07,1076.14 L433.47,1076.14 L433.87,1076.14 L434.26,1076.14 L434.66,1076.14 L435.05,1076.14 L435.45,1076.14 L435.85,1076.14 L436.24,1076.14 L436.64,1076.14 L437.03,1076.14 L437.43,1076.14 L437.82,1076.14 L438.22,1076.14 L438.62,1076.14 L439.01,1076.14 L439.41,1076.14 L439.80,1076.14 L440.20,1076.14 L440.59,1076.14 L440.99,1076.14 L441.39,1076.14 L441.78,1076.14 L442.18,1076.14 L442.57,1076.14 L442.97,1076.14 L443.36,1076.14 L443.76,1076.14 L444.16,1076.14 L444.55,1076.14 L444.95,1076.14 L445.34,1076.14 L445.74,1076.14 L446.14,1076.14 L446.53,1076.14 L446.93,1076.14 L447.32,1076.14 L447.72,1076.14 L448.11,1076.14 L448.51,1076.14 L448.91,1076.14 L449.30,1076.14 L449.70,1076.14 L450.09,1076.14 L450.49,1076.14 L450.88,1076.14 L451.28,1076.14 L451.68,1076.14 L452.07,1076.14 L452.47,1076.14 L452.86,1076.14 L453.26,1076.14 L453.65,1076.14 L454.05,1076.14 L454.45,1076.14 L454.84,1076.14 L455.24,1076.14 L455.63,1076.14 L456.03,1076.14 L456.43,1076.14 L456.82,1076.14 L457.22,1076.14 L457.61,1076.14 L458.01,1076.14 L458.40,1076.14 L458.80,1076.14" stroke="#000" stroke-width="4.4" fill="none" stroke-dasharray="0.01 9.6" stroke-linecap="round"/>
<path d="M103.00,963.26 L103.40,963.26 L103.79,963.26 L104.19,963.26 L104.58,963.26 L104.98,963.26 L105.37,963.26 L105.77,963.26 L106.17,963.26 L106.56,963.26 L106.96,963.26 L107.35,963.26 L107.75,963.26 L108.15,963.26 L108.54,963.26 L108.94,963.26 L109.33,963.26 L109.73,963.26 L110.12,963.26 L110.52,963.26 L110.92,963.26 L111.31,963.26 L111.71,963.26 L112.10,963.26 L112.50,963.26 L112.89,963.26 L113.29,963.26 L113.69,963.26 L114.08,963.26 L114.48,963.26 L114.87,963.26 L115.27,963.26 L115.66,963.26 L116.06,963.26 L116.46,963.26 L116.85,963.26 L117.25,963.26 L117.64,963.26 L118.04,963.26 L118.44,963.26 L118.83,963.26 L119.23,963.26 L119.62,963.26 L120.02,963.26 L120.41,963.26 L120.81,963.26 L121.21,963.26 L121.60,963.26 L122.00,963.26 L122.39,963.26 L122.79,963.26 L123.18,963.26 L123.58,963.26 L123.98,963.26 L124.37,963.26 L124.77,963.26 L125.16,963.26 L125.56,963.26 L125.95,963.26 L126.35,963.26 L126.75,963.26 L127.14,963.26 L127.54,963.26 L127.93,963.26 L128.33,963.26 L128.73,963.26 L129.12,963.26 L129.52,963.26 L129.91,963.26 L130.31,963.26 L130.70,963.26 L131.10,963.26 L131.50,963.26 L131.89,963.26 L132.29,963.26 L132.68,963.26 L133.08,963.26 L133.47,963.26 L133.87,963.26 L134.27,963.26 L134.66,963.26 L135.06,963.26 L135.45,963.26 L135.85,963.26 L136.24,963.26 L136.64,963.26 L137.04,963.26 L137.43,963.26 L137.83,963.26 L138.22,963.26 L138.62,963.26 L139.02,963.26 L139.41,963.26 L139.81,963.26 L140.20,963.26 L140.60,963.26 L140.99,963.26 L141.39,963.26 L141.79,963.26 L142.18,963.26 L142.58,963.26 L142.97,963.26 L143.37,963.26 L143.76,963.26 L144.16,963.26 L144.56,963.26 L144.95,963.26 L145.35,963.26 L145.74,963.26 L146.14,963.26 L146.54,963.26 L146.93,963.26 L147.33,963.26 L147.72,963.26 L148.12,963.26 L148.51,963.26 L148.91,963.26 L149.31,963.26 L149.70,963.26 L150.10,963.26 L150.49,963.26 L150.89,963.26 L151.28,963.26 L151.68,963.26 L152.08,963.26 L152.47,963.26 L152.87,963.26 L153.26,963.26 L153.66,963.26 L154.05,963.26 L154.45,963.26 L154.85,963.26 L155.24,963.26 L155.64,963.26 L156.03,963.26 L156.43,963.26 L156.83,963.26 L157.22,963.26 L157.62,963.26 L158.01,963.26 L158.41,963.26 L158.80,963.26 L159.20,963.26 L159.60,963.26 L159.99,963.26 L160.39,963.26 L160.78,963.26 L161.18,963.26 L161.57,963.26 L161.97,963.26 L162.37,963.26 L162.76,963.26 L163.16,963.26 L163.55,963.26 L163.95,963.26 L164.34,963.26 L164.74,963.26 L165.14,963.26 L165.53,963.26 L165.93,963.26 L166.32,963.26 L166.72,963.26 L167.12,963.26 L167.51,963.26 L167.91,963.26 L168.30,963.26 L168.70,963.26 L169.09,963.26 L169.49,963.26 L169.89,963.26 L170.28,963.26 L170.68,963.26 L171.07,963.26 L171.47,963.26 L171.86,963.26 L172.26,963.26 L172.66,963.26 L173.05,963.26 L173.45,963.26 L173.84,963.26 L174.24,963.26 L174.63,963.26 L175.03,963.26 L175.43,963.26 L175.82,963.26 L176.22,963.26 L176.61,963.26 L177.01,963.26 L177.41,963.26 L177.80,963.26 L178.20,963.26 L178.59,963.26 L178.99,963.26 L179.38,963.26 L179.78,963.26 L180.18,963.26 L180.57,963.26 L180.97,963.26 L181.36,963.26 L181.76,963.26 L182.15,963.26 L182.55,963.26 L182.95,963.26 L183.34,963.26 L183.74,963.26 L184.13,963.26 L184.53,963.26 L184.93,963.26 L185.32,963.26 L185.72,963.26 L186.11,963.26 L186.51,963.26 L186.90,963.26 L187.30,963.26 L187.70,963.26 L188.09,963.26 L188.49,963.26 L188.88,963.26 L189.28,963.26 L189.67,963.26 L190.07,963.26 L190.47,963.26 L190.86,963.26 L191.26,963.26 L191.65,963.26 L192.05,963.26 L192.44,963.26 L192.84,963.26 L193.24,963.26 L193.63,963.26 L194.03,963.26 L194.42,963.26 L194.82,963.26 L195.22,963.26 L195.61,963.26 L196.01,963.26 L196.40,963.26 L196.80,963.26 L197.19,963.26 L197.59,963.26 L197.99,963.26 L198.38,963.26 L198.78,963.26 L199.17,963.26 L199.57,963.26 L199.96,963.26 L200.36,963.26 L200.76,963.26 L201.15,963.26 L201.55,963.26 L201.94,963.26 L202.34,963.26 L202.73,963.26 L203.13,963.26 L203.53,963.26 L203.92,963.26 L204.32,963.26 L204.71,963.26 L205.11,963.26 L205.51,963.26 L205.90,963.26 L206.30,963.26 L206.69,963.26 L207.09,963.26 L207.48,963.26 L207.88,963.26 L208.28,963.26 L208.67,963.26 L209.07,963.26 L209.46,963.26 L209.86,963.26 L210.25,963.26 L210.65,963.26 L211.05,963.26 L211.44,963.26 L211.84,963.26 L212.23,963.26 L212.63,963.26 L213.02,963.26 L213.42,963.26 L213.82,963.26 L214.21,963.26 L214.61,963.26 L215.00,963.26 L215.40,963.26 L215.80,963.26 L216.19,963.26 L216.59,963.26 L216.98,963.26 L217.38,963.26 L217.77,963.26 L218.17,963.26 L218.57,963.26 L218.96,963.26 L219.36,963.26 L219.75,979.34 L220.15,1028.99 L220.54,1069.73 L220.94,1103.15 L221.34,1130.57 L221.73,1153.07 L222.13,1171.52 L222.52,1186.67 L222.92,1199.09 L223.32,1209.29 L223.71,1217.65 L224.11,1224.52 L224.50,1230.15 L224.90,1234.77 L225.29,1238.56 L225.69,1241.67 L226.09,1244.22 L226.48,1246.31 L226.88,1248.03 L227.27,1249.44 L227.67,1250.59 L228.06,1251.54 L228.46,1252.32 L228.86,1252.96 L229.25,1253.48 L229.65,1253.91 L230.04,1254.27 L230.44,1254.56 L230.83,1254.79 L231.23,1254.99 L231.63,1255.15 L232.02,1255.28 L232.42,1255.39 L232.81,1255.48 L233.21,1255.55 L233.61,1255.61 L234.00,1255.66 L234.40,1255.70 L234.79,1255.73 L235.19,1255.76 L235.58,1255.78 L235.98,1255.80 L236.38,1255.81 L236.77,1255.82 L237.17,1255.83 L237.56,1255.84 L237.96,1255.85 L238.35,1255.85 L238.75,1255.86 L239.15,1255.86 L239.54,1255.86 L239.94,1255.87 L240.33,1255.87 L240.73,1255.87 L241.12,1255.87 L241.52,1255.87 L241.92,1255.87 L242.31,1255.87 L242.71,1255.88 L243.10,1255.88 L243.50,1255.88 L243.90,1255.88 L244.29,1255.88 L244.69,1255.88 L245.08,1255.88 L245.48,1255.88 L245.87,1255.88 L246.27,1255.88 L246.67,1255.88 L247.06,1255.88 L247.46,1255.88 L247.85,1255.88 L248.25,1255.88 L248.64,1255.88 L249.04,1255.88 L249.44,1255.88 L249.83,1255.88 L250.23,1255.88 L250.62,1255.88 L251.02,1255.88 L251.41,1255.88 L251.81,1255.88 L252.21,1255.88 L252.60,1255.88 L253.00,1255.88 L253.39,1255.88 L253.79,1255.88 L254.19,1255.88 L254.58,1255.88 L254.98,1255.88 L255.37,1255.88 L255.77,1255.88 L256.16,1255.88 L256.56,1255.88 L256.96,1255.88 L257.35,1255.88 L257.75,1255.88 L258.14,1255.88 L258.54,1255.88 L258.93,1255.88 L259.33,1255.88 L259.73,1255.88 L260.12,1255.88 L260.52,1255.88 L260.91,1255.88 L261.31,1255.88 L261.71,1255.88 L262.10,1255.88 L262.50,1255.88 L262.89,1255.88 L263.29,1255.88 L263.68,1255.88 L264.08,1255.88 L264.48,1255.88 L264.87,1255.88 L265.27,1255.88 L265.66,1255.88 L266.06,1255.88 L266.45,1255.88 L266.85,1255.88 L267.25,1255.88 L267.64,1255.88 L268.04,1255.88 L268.43,1255.88 L268.83,1255.88 L269.22,1255.88 L269.62,1255.88 L270.02,1255.88 L270.41,1255.88 L270.81,1255.88 L271.20,1255.88 L271.60,1255.88 L272.00,1255.88 L272.39,1255.88 L272.79,1255.88 L273.18,1255.88 L273.58,1255.88 L273.97,1255.88 L274.37,1255.88 L274.77,1255.88 L275.16,1255.88 L275.56,1255.88 L275.95,1255.88 L276.35,1255.88 L276.74,1255.88 L277.14,1255.88 L277.54,1255.88 L277.93,1255.88 L278.33,1255.88 L278.72,1255.88 L279.12,1255.88 L279.51,1255.88 L279.91,1255.88 L280.31,1255.88 L280.70,1255.88 L281.10,1255.88 L281.49,1255.88 L281.89,1255.88 L282.29,1255.88 L282.68,1255.88 L283.08,1255.88 L283.47,1255.88 L283.87,1255.88 L284.26,1255.88 L284.66,1255.88 L285.06,1255.88 L285.45,1255.88 L285.85,1255.88 L286.24,1255.88 L286.64,1255.88 L287.03,1255.88 L287.43,1255.88 L287.83,1255.88 L288.22,1255.88 L288.62,1255.88 L289.01,1255.88 L289.41,1255.88 L289.80,1255.88 L290.20,1255.88 L290.60,1255.88 L290.99,1255.88 L291.39,1255.88 L291.78,1255.88 L292.18,1255.88 L292.58,1255.88 L292.97,1255.88 L293.37,1255.88 L293.76,1255.88 L294.16,1255.88 L294.55,1255.88 L294.95,1255.88 L295.35,1255.88 L295.74,1255.88 L296.14,1255.88 L296.53,1255.88 L296.93,1255.88 L297.32,1255.88 L297.72,1255.88 L298.12,1255.88 L298.51,1255.88 L298.91,1255.88 L299.30,1255.88 L299.70,1255.88 L300.09,1255.88 L300.49,1255.88 L300.89,1255.88 L301.28,1255.88 L301.68,1255.88 L302.07,1255.88 L302.47,1255.88 L302.87,1255.88 L303.26,1255.88 L303.66,1255.88 L304.05,1255.88 L304.45,1255.88 L304.84,1255.88 L305.24,1255.88 L305.64,1255.88 L306.03,1255.88 L306.43,1255.88 L306.82,1255.88 L307.22,1255.88 L307.61,1255.88 L308.01,1255.88 L308.41,1255.88 L308.80,1255.88 L309.20,1255.88 L309.59,1255.88 L309.99,1255.88 L310.39,1255.88 L310.78,1255.88 L311.18,1255.88 L311.57,1255.88 L311.97,1255.88 L312.36,1255.88 L312.76,1255.88 L313.16,1255.88 L313.55,1255.88 L313.95,1255.88 L314.34,1255.88 L314.74,1255.88 L315.13,1255.88 L315.53,1255.88 L315.93,1255.88 L316.32,1255.88 L316.72,1255.88 L317.11,1255.88 L317.51,1255.88 L317.90,1255.88 L318.30,1255.88 L318.70,1255.88 L319.09,1255.88 L319.49,1255.88 L319.88,1255.88 L320.28,1255.88 L320.68,1255.88 L321.07,1255.88 L321.47,1255.88 L321.86,1255.88 L322.26,1255.88 L322.65,1255.88 L323.05,1255.88 L323.45,1255.88 L323.84,1255.88 L324.24,1255.88 L324.63,1255.88 L325.03,1255.88 L325.42,1255.88 L325.82,1255.88 L326.22,1255.88 L326.61,1255.88 L327.01,1255.88 L327.40,1255.88 L327.80,1255.88 L328.19,1255.88 L328.59,1255.88 L328.99,1255.88 L329.38,1255.88 L329.78,1255.88 L330.17,1255.88 L330.57,1255.88 L330.97,1255.88 L331.36,1255.88 L331.76,1255.88 L332.15,1255.88 L332.55,1255.88 L332.94,1255.88 L333.34,1255.88 L333.74,1255.88 L334.13,1255.88 L334.53,1255.88 L334.92,1255.88 L335.32,1255.88 L335.71,1255.88 L336.11,1255.88 L336.51,1255.88 L336.90,1255.88 L337.30,1255.88 L337.69,1255.88 L338.09,1255.88 L338.48,1255.88 L338.88,1255.88 L339.28,1255.88 L339.67,1255.88 L340.07,1255.88 L340.46,1255.88 L340.86,1255.88 L341.26,1255.88 L341.65,1255.88 L342.05,1255.88 L342.44,1255.88 L342.84,1255.88 L343.23,1255.88 L343.63,1255.88 L344.03,1255.88 L344.42,1255.88 L344.82,1255.88 L345.21,1255.88 L345.61,1255.88 L346.00,1255.88 L346.40,1255.88 L346.80,1255.88 L347.19,1255.88 L347.59,1255.88 L347.98,1255.88 L348.38,1255.88 L348.78,1255.88 L349.17,1255.88 L349.57,1255.88 L349.96,1255.88 L350.36,1255.88 L350.75,1255.88 L351.15,1255.88 L351.55,1255.88 L351.94,1255.88 L352.34,1255.88 L352.73,1255.88 L353.13,1255.88 L353.52,1255.88 L353.92,1255.88 L354.32,1255.88 L354.71,1255.88 L355.11,1255.88 L355.50,1255.88 L355.90,1255.88 L356.29,1255.88 L356.69,1255.88 L357.09,1255.88 L357.48,1255.88 L357.88,1255.88 L358.27,1255.88 L358.67,1255.88 L359.07,1255.88 L359.46,1255.88 L359.86,1255.88 L360.25,1255.88 L360.65,1255.88 L361.04,1255.88 L361.44,1255.88 L361.84,1255.88 L362.23,1255.88 L362.63,1255.88 L363.02,1255.88 L363.42,1255.88 L363.81,1255.88 L364.21,1255.88 L364.61,1255.88 L365.00,1255.88 L365.40,1255.88 L365.79,1255.88 L366.19,1255.88 L366.58,1255.88 L366.98,1255.88 L367.38,1255.88 L367.77,1255.88 L368.17,1255.88 L368.56,1255.88 L368.96,1255.88 L369.36,1255.88 L369.75,1255.88 L370.15,1255.88 L370.54,1255.88 L370.94,1255.88 L371.33,1255.88 L371.73,1255.88 L372.13,1255.88 L372.52,1255.88 L372.92,1255.88 L373.31,1255.88 L373.71,1255.88 L374.10,1255.88 L374.50,1255.88 L374.90,1255.88 L375.29,1255.88 L375.69,1255.88 L376.08,1255.88 L376.48,1255.88 L376.87,1255.88 L377.27,1255.88 L377.67,1255.88 L378.06,1255.88 L378.46,1255.88 L378.85,1255.88 L379.25,1255.88 L379.65,1255.88 L380.04,1255.88 L380.44,1255.88 L380.83,1255.88 L381.23,1255.88 L381.62,1255.88 L382.02,1255.88 L382.42,1255.88 L382.81,1255.88 L383.21,1255.88 L383.60,1255.88 L384.00,1255.88 L384.39,1255.88 L384.79,1255.88 L385.19,1255.88 L385.58,1255.88 L385.98,1255.88 L386.37,1255.88 L386.77,1255.88 L387.17,1255.88 L387.56,1255.88 L387.96,1255.88 L388.35,1255.88 L388.75,1255.88 L389.14,1255.88 L389.54,1255.88 L389.94,1255.88 L390.33,1255.88 L390.73,1255.88 L391.12,1255.88 L391.52,1255.88 L391.91,1255.88 L392.31,1255.88 L392.71,1255.88 L393.10,1255.88 L393.50,1255.88 L393.89,1255.88 L394.29,1255.88 L394.68,1255.88 L395.08,1255.88 L395.48,1255.88 L395.87,1255.88 L396.27,1255.88 L396.66,1255.88 L397.06,1255.88 L397.46,1255.88 L397.85,1255.88 L398.25,1255.88 L398.64,1255.88 L399.04,1255.88 L399.43,1255.88 L399.83,1255.88 L400.23,1255.88 L400.62,1255.88 L401.02,1255.88 L401.41,1255.88 L401.81,1255.88 L402.20,1255.88 L402.60,1255.88 L403.00,1255.88 L403.39,1255.88 L403.79,1255.88 L404.18,1255.88 L404.58,1255.88 L404.97,1255.88 L405.37,1255.88 L405.77,1255.88 L406.16,1255.88 L406.56,1255.88 L406.95,1255.88 L407.35,1255.88 L407.75,1255.88 L408.14,1255.88 L408.54,1255.88 L408.93,1255.88 L409.33,1255.88 L409.72,1255.88 L410.12,1255.88 L410.52,1255.88 L410.91,1255.88 L411.31,1255.88 L411.70,1255.88 L412.10,1255.88 L412.49,1255.88 L412.89,1255.88 L413.29,1255.88 L413.68,1255.88 L414.08,1255.88 L414.47,1255.88 L414.87,1255.88 L415.26,1255.88 L415.66,1255.88 L416.06,1255.88 L416.45,1255.88 L416.85,1255.88 L417.24,1255.88 L417.64,1255.88 L418.04,1255.88 L418.43,1255.88 L418.83,1255.88 L419.22,1255.88 L419.62,1255.88 L420.01,1255.88 L420.41,1255.88 L420.81,1255.88 L421.20,1255.88 L421.60,1255.88 L421.99,1255.88 L422.39,1255.88 L422.78,1255.88 L423.18,1255.88 L423.58,1255.88 L423.97,1255.88 L424.37,1255.88 L424.76,1255.88 L425.16,1255.88 L425.56,1255.88 L425.95,1255.88 L426.35,1255.88 L426.74,1255.88 L427.14,1255.88 L427.53,1255.88 L427.93,1255.88 L428.33,1255.88 L428.72,1255.88 L429.12,1255.88 L429.51,1255.88 L429.91,1255.88 L430.30,1255.88 L430.70,1255.88 L431.10,1255.88 L431.49,1255.88 L431.89,1255.88 L432.28,1255.88 L432.68,1255.88 L433.07,1255.88 L433.47,1255.88 L433.87,1255.88 L434.26,1255.88 L434.66,1255.88 L435.05,1255.88 L435.45,1255.88 L435.85,1255.88 L436.24,1255.88 L436.64,1255.88 L437.03,1255.88 L437.43,1255.88 L437.82,1255.88 L438.22,1255.88 L438.62,1255.88 L439.01,1255.88 L439.41,1255.88 L439.80,1255.88 L440.20,1255.88 L440.59,1255.88 L440.99,1255.88 L441.39,1255.88 L441.78,1255.88 L442.18,1255.88 L442.57,1255.88 L442.97,1255.88 L443.36,1255.88 L443.76,1255.88 L444.16,1255.88 L444.55,1255.88 L444.95,1255.88 L445.34,1255.88 L445.74,1255.88 L446.14,1255.88 L446.53,1255.88 L446.93,1255.88 L447.32,1255.88 L447.72,1255.88 L448.11,1255.88 L448.51,1255.88 L448.91,1255.88 L449.30,1255.88 L449.70,1255.88 L450.09,1255.88 L450.49,1255.88 L450.88,1255.88 L451.28,1255.88 L451.68,1255.88 L452.07,1255.88 L452.47,1255.88 L452.86,1255.88 L453.26,1255.88 L453.65,1255.88 L454.05,1255.88 L454.45,1255.88 L454.84,1255.88 L455.24,1255.88 L455.63,1255.88 L456.03,1255.88 L456.43,1255.88 L456.82,1255.88 L457.22,1255.88 L457.61,1255.88 L458.01,1255.88 L458.40,1255.88 L458.80,1255.88" stroke="#000" stroke-width="4.4" fill="none" stroke-dasharray="14 10 0.01 9.6 0.01 9.8" stroke-linecap="round"/>
<text transform="translate(41.8,1179.4) rotate(-90)" font-family="Liberation Sans, sans-serif" font-weight="bold" font-size="26.2">Relative fluorescence</text>
<text x="259.5" y="1350.2" font-family="Liberation Sans, sans-serif" font-weight="bold" font-size="27">min</text>
<g class="lab" font-family="Liberation Sans, sans-serif" font-size="29">
<text x="477" y="922.6" fill="#000">ATP</text>
<text x="476" y="1062.2" fill="#000">+TMAO, ATP</text>
<text x="476" y="1104.9" fill="#000" font-size="29.3">+Sba1, ATP</text>
<text x="426.7" y="1227.5" fill="#000" font-size="28.5">+Sba1&amp;TMAO, ATP</text>
<text x="478" y="1263.5" fill="#ff2a14" color="#ff2a14">AMPPNP</text>
</g>
</svg>
</body></html>
